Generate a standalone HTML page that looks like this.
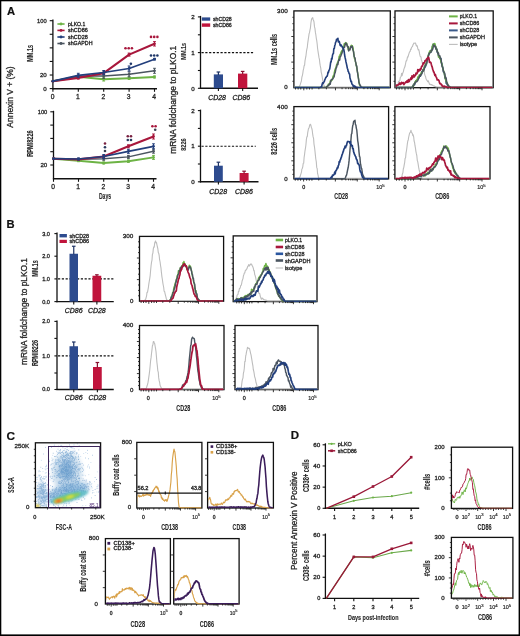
<!DOCTYPE html>
<html><head><meta charset="utf-8"><style>
html,body{margin:0;padding:0;background:#fff;}
svg{display:block;font-family:"Liberation Sans", sans-serif;will-change:transform;}
</style></head><body>
<svg width="520" height="636" viewBox="0 0 520 636">
<rect x="0" y="0" width="520" height="636" fill="#fff"/>
<text x="6.9" y="14.8" font-size="11.2" fill="#111" text-anchor="start" stroke="#111" stroke-width="0.2" font-weight="bold">A</text>
<line x1="52.90" y1="19.50" x2="52.90" y2="89.30" stroke="#111" stroke-width="1.3" />
<line x1="49.70" y1="20.70" x2="52.90" y2="20.70" stroke="#111" stroke-width="1.1" />
<line x1="49.70" y1="34.28" x2="52.90" y2="34.28" stroke="#111" stroke-width="1.1" />
<line x1="49.70" y1="47.86" x2="52.90" y2="47.86" stroke="#111" stroke-width="1.1" />
<line x1="49.70" y1="61.44" x2="52.90" y2="61.44" stroke="#111" stroke-width="1.1" />
<line x1="49.70" y1="75.02" x2="52.90" y2="75.02" stroke="#111" stroke-width="1.1" />
<line x1="49.70" y1="88.60" x2="52.90" y2="88.60" stroke="#111" stroke-width="1.1" />
<line x1="52.30" y1="88.70" x2="157.00" y2="88.70" stroke="#111" stroke-width="1.4" />
<line x1="52.90" y1="88.70" x2="52.90" y2="91.80" stroke="#111" stroke-width="1.1" />
<text x="52.5" y="99.0" font-size="6.7" fill="#262626" text-anchor="middle" stroke="#262626" stroke-width="0.3">0</text>
<line x1="78.30" y1="88.70" x2="78.30" y2="91.80" stroke="#111" stroke-width="1.1" />
<text x="77.89999999999999" y="99.0" font-size="6.7" fill="#262626" text-anchor="middle" stroke="#262626" stroke-width="0.3">1</text>
<line x1="103.70" y1="88.70" x2="103.70" y2="91.80" stroke="#111" stroke-width="1.1" />
<text x="103.3" y="99.0" font-size="6.7" fill="#262626" text-anchor="middle" stroke="#262626" stroke-width="0.3">2</text>
<line x1="129.10" y1="88.70" x2="129.10" y2="91.80" stroke="#111" stroke-width="1.1" />
<text x="128.7" y="99.0" font-size="6.7" fill="#262626" text-anchor="middle" stroke="#262626" stroke-width="0.3">3</text>
<line x1="154.50" y1="88.70" x2="154.50" y2="91.80" stroke="#111" stroke-width="1.1" />
<text x="154.1" y="99.0" font-size="6.7" fill="#262626" text-anchor="middle" stroke="#262626" stroke-width="0.3">4</text>
<text x="46.6" y="23.0" font-size="6.2" fill="#262626" text-anchor="end" stroke="#262626" stroke-width="0.3" textLength="9.6" lengthAdjust="spacingAndGlyphs">100</text>
<text x="46.8" y="77.4" font-size="6.2" fill="#262626" text-anchor="end" stroke="#262626" stroke-width="0.3">20</text>
<text x="46.8" y="90.9" font-size="6.2" fill="#262626" text-anchor="end" stroke="#262626" stroke-width="0.3">0</text>
<text transform="translate(32.6,53.3) rotate(-90)" font-size="9.2" fill="#262626" text-anchor="middle" stroke="#262626" stroke-width="0.1" font-weight="bold" textLength="17" lengthAdjust="spacingAndGlyphs">MM.1s</text>
<polyline points="52.9,81.2 78.3,76.7 103.7,79.2 129.1,78.2 154.5,77.0" fill="none" stroke="#6db345" stroke-width="1.9" stroke-linejoin="round" />
<line x1="103.70" y1="77.40" x2="103.70" y2="81.00" stroke="#6db345" stroke-width="1" />
<line x1="102.30" y1="77.40" x2="105.10" y2="77.40" stroke="#6db345" stroke-width="1" />
<line x1="102.30" y1="81.00" x2="105.10" y2="81.00" stroke="#6db345" stroke-width="1" />
<line x1="129.10" y1="77.00" x2="129.10" y2="79.40" stroke="#6db345" stroke-width="1" />
<line x1="127.70" y1="77.00" x2="130.50" y2="77.00" stroke="#6db345" stroke-width="1" />
<line x1="127.70" y1="79.40" x2="130.50" y2="79.40" stroke="#6db345" stroke-width="1" />
<line x1="154.50" y1="76.00" x2="154.50" y2="78.00" stroke="#6db345" stroke-width="1" />
<line x1="153.10" y1="76.00" x2="155.90" y2="76.00" stroke="#6db345" stroke-width="1" />
<line x1="153.10" y1="78.00" x2="155.90" y2="78.00" stroke="#6db345" stroke-width="1" />
<circle cx="52.90" cy="81.20" r="1.4" fill="#6db345"/>
<circle cx="78.30" cy="76.70" r="1.4" fill="#6db345"/>
<circle cx="103.70" cy="79.20" r="1.4" fill="#6db345"/>
<circle cx="129.10" cy="78.20" r="1.4" fill="#6db345"/>
<circle cx="154.50" cy="77.00" r="1.4" fill="#6db345"/>
<polyline points="52.9,81.2 78.3,76.0 103.7,76.0 129.1,74.3 154.5,70.8" fill="none" stroke="#4b5560" stroke-width="1.4" stroke-linejoin="round" />
<line x1="103.70" y1="73.50" x2="103.70" y2="78.50" stroke="#4b5560" stroke-width="1" />
<line x1="102.30" y1="73.50" x2="105.10" y2="73.50" stroke="#4b5560" stroke-width="1" />
<line x1="102.30" y1="78.50" x2="105.10" y2="78.50" stroke="#4b5560" stroke-width="1" />
<line x1="129.10" y1="71.80" x2="129.10" y2="76.80" stroke="#4b5560" stroke-width="1" />
<line x1="127.70" y1="71.80" x2="130.50" y2="71.80" stroke="#4b5560" stroke-width="1" />
<line x1="127.70" y1="76.80" x2="130.50" y2="76.80" stroke="#4b5560" stroke-width="1" />
<line x1="154.50" y1="68.30" x2="154.50" y2="73.30" stroke="#4b5560" stroke-width="1" />
<line x1="153.10" y1="68.30" x2="155.90" y2="68.30" stroke="#4b5560" stroke-width="1" />
<line x1="153.10" y1="73.30" x2="155.90" y2="73.30" stroke="#4b5560" stroke-width="1" />
<circle cx="52.90" cy="81.20" r="1.4" fill="#4b5560"/>
<circle cx="78.30" cy="76.00" r="1.4" fill="#4b5560"/>
<circle cx="103.70" cy="76.00" r="1.4" fill="#4b5560"/>
<circle cx="129.10" cy="74.30" r="1.4" fill="#4b5560"/>
<circle cx="154.50" cy="70.80" r="1.4" fill="#4b5560"/>
<polyline points="52.9,81.2 78.3,77.9 103.7,73.1 129.1,54.6 154.5,43.8" fill="none" stroke="#a8173c" stroke-width="2.1" stroke-linejoin="round" />
<line x1="78.30" y1="76.70" x2="78.30" y2="79.10" stroke="#a8173c" stroke-width="1" />
<line x1="76.90" y1="76.70" x2="79.70" y2="76.70" stroke="#a8173c" stroke-width="1" />
<line x1="76.90" y1="79.10" x2="79.70" y2="79.10" stroke="#a8173c" stroke-width="1" />
<line x1="103.70" y1="72.10" x2="103.70" y2="74.10" stroke="#a8173c" stroke-width="1" />
<line x1="102.30" y1="72.10" x2="105.10" y2="72.10" stroke="#a8173c" stroke-width="1" />
<line x1="102.30" y1="74.10" x2="105.10" y2="74.10" stroke="#a8173c" stroke-width="1" />
<line x1="129.10" y1="53.10" x2="129.10" y2="56.10" stroke="#a8173c" stroke-width="1" />
<line x1="127.70" y1="53.10" x2="130.50" y2="53.10" stroke="#a8173c" stroke-width="1" />
<line x1="127.70" y1="56.10" x2="130.50" y2="56.10" stroke="#a8173c" stroke-width="1" />
<line x1="154.50" y1="41.60" x2="154.50" y2="46.00" stroke="#a8173c" stroke-width="1" />
<line x1="153.10" y1="41.60" x2="155.90" y2="41.60" stroke="#a8173c" stroke-width="1" />
<line x1="153.10" y1="46.00" x2="155.90" y2="46.00" stroke="#a8173c" stroke-width="1" />
<circle cx="52.90" cy="81.20" r="1.4" fill="#a8173c"/>
<circle cx="78.30" cy="77.90" r="1.4" fill="#a8173c"/>
<circle cx="103.70" cy="73.10" r="1.4" fill="#a8173c"/>
<circle cx="129.10" cy="54.60" r="1.4" fill="#a8173c"/>
<circle cx="154.50" cy="43.80" r="1.4" fill="#a8173c"/>
<polyline points="52.9,81.2 78.3,75.3 103.7,72.5 129.1,68.5 154.5,59.2" fill="none" stroke="#233f7c" stroke-width="1.7" stroke-linejoin="round" />
<line x1="78.30" y1="73.30" x2="78.30" y2="77.30" stroke="#233f7c" stroke-width="1" />
<line x1="76.90" y1="73.30" x2="79.70" y2="73.30" stroke="#233f7c" stroke-width="1" />
<line x1="76.90" y1="77.30" x2="79.70" y2="77.30" stroke="#233f7c" stroke-width="1" />
<line x1="103.70" y1="70.50" x2="103.70" y2="74.50" stroke="#233f7c" stroke-width="1" />
<line x1="102.30" y1="70.50" x2="105.10" y2="70.50" stroke="#233f7c" stroke-width="1" />
<line x1="102.30" y1="74.50" x2="105.10" y2="74.50" stroke="#233f7c" stroke-width="1" />
<line x1="129.10" y1="66.00" x2="129.10" y2="71.00" stroke="#233f7c" stroke-width="1" />
<line x1="127.70" y1="66.00" x2="130.50" y2="66.00" stroke="#233f7c" stroke-width="1" />
<line x1="127.70" y1="71.00" x2="130.50" y2="71.00" stroke="#233f7c" stroke-width="1" />
<line x1="154.50" y1="58.40" x2="154.50" y2="60.00" stroke="#233f7c" stroke-width="1" />
<line x1="153.10" y1="58.40" x2="155.90" y2="58.40" stroke="#233f7c" stroke-width="1" />
<line x1="153.10" y1="60.00" x2="155.90" y2="60.00" stroke="#233f7c" stroke-width="1" />
<circle cx="52.90" cy="81.20" r="1.4" fill="#233f7c"/>
<circle cx="78.30" cy="75.30" r="1.4" fill="#233f7c"/>
<circle cx="103.70" cy="72.50" r="1.4" fill="#233f7c"/>
<circle cx="129.10" cy="68.50" r="1.4" fill="#233f7c"/>
<circle cx="154.50" cy="59.20" r="1.4" fill="#233f7c"/>
<circle cx="125.50" cy="48.30" r="1.3" fill="#a8173c"/>
<circle cx="128.70" cy="48.30" r="1.3" fill="#a8173c"/>
<circle cx="131.90" cy="48.30" r="1.3" fill="#a8173c"/>
<circle cx="130.90" cy="63.70" r="1.3" fill="#1f3768"/>
<circle cx="151.00" cy="36.90" r="1.3" fill="#a8173c"/>
<circle cx="154.20" cy="36.90" r="1.3" fill="#a8173c"/>
<circle cx="157.40" cy="36.90" r="1.3" fill="#a8173c"/>
<circle cx="151.00" cy="55.50" r="1.3" fill="#1f3768"/>
<circle cx="154.20" cy="55.50" r="1.3" fill="#1f3768"/>
<circle cx="157.40" cy="55.50" r="1.3" fill="#1f3768"/>
<line x1="57.40" y1="24.00" x2="64.60" y2="24.00" stroke="#6db345" stroke-width="1.6" />
<circle cx="61.00" cy="24.00" r="1.4" fill="#6db345"/>
<text x="68" y="25.9" font-size="5.3" fill="#262626" text-anchor="start" stroke="#262626" stroke-width="0.3" textLength="17.3" lengthAdjust="spacingAndGlyphs">pLKO.1</text>
<line x1="57.40" y1="30.40" x2="64.60" y2="30.40" stroke="#a8173c" stroke-width="1.6" />
<circle cx="61.00" cy="30.40" r="1.4" fill="#a8173c"/>
<text x="68" y="32.3" font-size="5.3" fill="#262626" text-anchor="start" stroke="#262626" stroke-width="0.3" textLength="19.7" lengthAdjust="spacingAndGlyphs">shCD86</text>
<line x1="57.40" y1="37.00" x2="64.60" y2="37.00" stroke="#233f7c" stroke-width="1.6" />
<circle cx="61.00" cy="37.00" r="1.4" fill="#233f7c"/>
<text x="68" y="38.9" font-size="5.3" fill="#262626" text-anchor="start" stroke="#262626" stroke-width="0.3" textLength="19.7" lengthAdjust="spacingAndGlyphs">shCD28</text>
<line x1="57.40" y1="43.50" x2="64.60" y2="43.50" stroke="#4b5560" stroke-width="1.6" />
<circle cx="61.00" cy="43.50" r="1.4" fill="#4b5560"/>
<text x="68" y="45.4" font-size="5.3" fill="#262626" text-anchor="start" stroke="#262626" stroke-width="0.3" textLength="24.5" lengthAdjust="spacingAndGlyphs">shGAPDH</text>
<line x1="53.50" y1="110.80" x2="53.50" y2="179.30" stroke="#111" stroke-width="1.3" />
<line x1="50.30" y1="111.80" x2="53.50" y2="111.80" stroke="#111" stroke-width="1.1" />
<line x1="50.30" y1="125.10" x2="53.50" y2="125.10" stroke="#111" stroke-width="1.1" />
<line x1="50.30" y1="138.40" x2="53.50" y2="138.40" stroke="#111" stroke-width="1.1" />
<line x1="50.30" y1="151.70" x2="53.50" y2="151.70" stroke="#111" stroke-width="1.1" />
<line x1="50.30" y1="165.00" x2="53.50" y2="165.00" stroke="#111" stroke-width="1.1" />
<line x1="52.90" y1="178.80" x2="156.50" y2="178.80" stroke="#111" stroke-width="1.4" />
<line x1="53.50" y1="178.80" x2="53.50" y2="181.80" stroke="#111" stroke-width="1.1" />
<text x="53.1" y="189.4" font-size="6.7" fill="#262626" text-anchor="middle" stroke="#262626" stroke-width="0.3">0</text>
<line x1="78.50" y1="178.80" x2="78.50" y2="181.80" stroke="#111" stroke-width="1.1" />
<text x="78.1" y="189.4" font-size="6.7" fill="#262626" text-anchor="middle" stroke="#262626" stroke-width="0.3">1</text>
<line x1="103.70" y1="178.80" x2="103.70" y2="181.80" stroke="#111" stroke-width="1.1" />
<text x="103.3" y="189.4" font-size="6.7" fill="#262626" text-anchor="middle" stroke="#262626" stroke-width="0.3">2</text>
<line x1="128.40" y1="178.80" x2="128.40" y2="181.80" stroke="#111" stroke-width="1.1" />
<text x="128.0" y="189.4" font-size="6.7" fill="#262626" text-anchor="middle" stroke="#262626" stroke-width="0.3">3</text>
<line x1="153.50" y1="178.80" x2="153.50" y2="181.80" stroke="#111" stroke-width="1.1" />
<text x="153.1" y="189.4" font-size="6.7" fill="#262626" text-anchor="middle" stroke="#262626" stroke-width="0.3">4</text>
<text x="47.3" y="114.0" font-size="6.2" fill="#262626" text-anchor="end" stroke="#262626" stroke-width="0.3" textLength="9.6" lengthAdjust="spacingAndGlyphs">100</text>
<text x="47.3" y="167.3" font-size="6.2" fill="#262626" text-anchor="end" stroke="#262626" stroke-width="0.3">20</text>
<text x="105.0" y="199.4" font-size="8.6" fill="#262626" text-anchor="middle" stroke="#262626" stroke-width="0.1" font-weight="bold" textLength="12.2" lengthAdjust="spacingAndGlyphs">Days</text>
<text transform="translate(33.1,143.6) rotate(-90)" font-size="9.4" fill="#262626" text-anchor="middle" stroke="#262626" stroke-width="0.1" font-weight="bold" textLength="26.5" lengthAdjust="spacingAndGlyphs">RPMI8226</text>
<text transform="translate(13.1,97.0) rotate(-90)" font-size="8.3" fill="#262626" text-anchor="middle" stroke="#262626" stroke-width="0.3" textLength="61.3" lengthAdjust="spacingAndGlyphs">Annexin V + (%)</text>
<polyline points="53.5,158.7 78.5,160.7 103.7,163.0 128.4,161.2 153.5,157.4" fill="none" stroke="#6db345" stroke-width="1.9" stroke-linejoin="round" />
<line x1="78.50" y1="159.70" x2="78.50" y2="161.70" stroke="#6db345" stroke-width="1" />
<line x1="77.10" y1="159.70" x2="79.90" y2="159.70" stroke="#6db345" stroke-width="1" />
<line x1="77.10" y1="161.70" x2="79.90" y2="161.70" stroke="#6db345" stroke-width="1" />
<line x1="103.70" y1="162.00" x2="103.70" y2="164.00" stroke="#6db345" stroke-width="1" />
<line x1="102.30" y1="162.00" x2="105.10" y2="162.00" stroke="#6db345" stroke-width="1" />
<line x1="102.30" y1="164.00" x2="105.10" y2="164.00" stroke="#6db345" stroke-width="1" />
<line x1="128.40" y1="160.00" x2="128.40" y2="162.40" stroke="#6db345" stroke-width="1" />
<line x1="127.00" y1="160.00" x2="129.80" y2="160.00" stroke="#6db345" stroke-width="1" />
<line x1="127.00" y1="162.40" x2="129.80" y2="162.40" stroke="#6db345" stroke-width="1" />
<line x1="153.50" y1="155.40" x2="153.50" y2="159.40" stroke="#6db345" stroke-width="1" />
<line x1="152.10" y1="155.40" x2="154.90" y2="155.40" stroke="#6db345" stroke-width="1" />
<line x1="152.10" y1="159.40" x2="154.90" y2="159.40" stroke="#6db345" stroke-width="1" />
<circle cx="53.50" cy="158.70" r="1.4" fill="#6db345"/>
<circle cx="78.50" cy="160.70" r="1.4" fill="#6db345"/>
<circle cx="103.70" cy="163.00" r="1.4" fill="#6db345"/>
<circle cx="128.40" cy="161.20" r="1.4" fill="#6db345"/>
<circle cx="153.50" cy="157.40" r="1.4" fill="#6db345"/>
<polyline points="53.5,158.7 78.5,159.4 103.7,158.8 128.4,156.9 153.5,151.2" fill="none" stroke="#4b5560" stroke-width="1.4" stroke-linejoin="round" />
<line x1="103.70" y1="157.30" x2="103.70" y2="160.30" stroke="#4b5560" stroke-width="1" />
<line x1="102.30" y1="157.30" x2="105.10" y2="157.30" stroke="#4b5560" stroke-width="1" />
<line x1="102.30" y1="160.30" x2="105.10" y2="160.30" stroke="#4b5560" stroke-width="1" />
<line x1="128.40" y1="155.40" x2="128.40" y2="158.40" stroke="#4b5560" stroke-width="1" />
<line x1="127.00" y1="155.40" x2="129.80" y2="155.40" stroke="#4b5560" stroke-width="1" />
<line x1="127.00" y1="158.40" x2="129.80" y2="158.40" stroke="#4b5560" stroke-width="1" />
<line x1="153.50" y1="149.20" x2="153.50" y2="153.20" stroke="#4b5560" stroke-width="1" />
<line x1="152.10" y1="149.20" x2="154.90" y2="149.20" stroke="#4b5560" stroke-width="1" />
<line x1="152.10" y1="153.20" x2="154.90" y2="153.20" stroke="#4b5560" stroke-width="1" />
<circle cx="53.50" cy="158.70" r="1.4" fill="#4b5560"/>
<circle cx="78.50" cy="159.40" r="1.4" fill="#4b5560"/>
<circle cx="103.70" cy="158.80" r="1.4" fill="#4b5560"/>
<circle cx="128.40" cy="156.90" r="1.4" fill="#4b5560"/>
<circle cx="153.50" cy="151.20" r="1.4" fill="#4b5560"/>
<polyline points="53.5,158.7 78.5,159.4 103.7,156.5 128.4,146.3 153.5,136.5" fill="none" stroke="#a8173c" stroke-width="2.1" stroke-linejoin="round" />
<line x1="78.50" y1="158.40" x2="78.50" y2="160.40" stroke="#a8173c" stroke-width="1" />
<line x1="77.10" y1="158.40" x2="79.90" y2="158.40" stroke="#a8173c" stroke-width="1" />
<line x1="77.10" y1="160.40" x2="79.90" y2="160.40" stroke="#a8173c" stroke-width="1" />
<line x1="103.70" y1="155.50" x2="103.70" y2="157.50" stroke="#a8173c" stroke-width="1" />
<line x1="102.30" y1="155.50" x2="105.10" y2="155.50" stroke="#a8173c" stroke-width="1" />
<line x1="102.30" y1="157.50" x2="105.10" y2="157.50" stroke="#a8173c" stroke-width="1" />
<line x1="128.40" y1="144.80" x2="128.40" y2="147.80" stroke="#a8173c" stroke-width="1" />
<line x1="127.00" y1="144.80" x2="129.80" y2="144.80" stroke="#a8173c" stroke-width="1" />
<line x1="127.00" y1="147.80" x2="129.80" y2="147.80" stroke="#a8173c" stroke-width="1" />
<line x1="153.50" y1="134.00" x2="153.50" y2="139.00" stroke="#a8173c" stroke-width="1" />
<line x1="152.10" y1="134.00" x2="154.90" y2="134.00" stroke="#a8173c" stroke-width="1" />
<line x1="152.10" y1="139.00" x2="154.90" y2="139.00" stroke="#a8173c" stroke-width="1" />
<circle cx="53.50" cy="158.70" r="1.4" fill="#a8173c"/>
<circle cx="78.50" cy="159.40" r="1.4" fill="#a8173c"/>
<circle cx="103.70" cy="156.50" r="1.4" fill="#a8173c"/>
<circle cx="128.40" cy="146.30" r="1.4" fill="#a8173c"/>
<circle cx="153.50" cy="136.50" r="1.4" fill="#a8173c"/>
<polyline points="53.5,158.7 78.5,159.0 103.7,156.5 128.4,151.3 153.5,146.3" fill="none" stroke="#233f7c" stroke-width="1.7" stroke-linejoin="round" />
<line x1="78.50" y1="158.00" x2="78.50" y2="160.00" stroke="#233f7c" stroke-width="1" />
<line x1="77.10" y1="158.00" x2="79.90" y2="158.00" stroke="#233f7c" stroke-width="1" />
<line x1="77.10" y1="160.00" x2="79.90" y2="160.00" stroke="#233f7c" stroke-width="1" />
<line x1="103.70" y1="154.50" x2="103.70" y2="158.50" stroke="#233f7c" stroke-width="1" />
<line x1="102.30" y1="154.50" x2="105.10" y2="154.50" stroke="#233f7c" stroke-width="1" />
<line x1="102.30" y1="158.50" x2="105.10" y2="158.50" stroke="#233f7c" stroke-width="1" />
<line x1="128.40" y1="149.30" x2="128.40" y2="153.30" stroke="#233f7c" stroke-width="1" />
<line x1="127.00" y1="149.30" x2="129.80" y2="149.30" stroke="#233f7c" stroke-width="1" />
<line x1="127.00" y1="153.30" x2="129.80" y2="153.30" stroke="#233f7c" stroke-width="1" />
<line x1="153.50" y1="143.80" x2="153.50" y2="148.80" stroke="#233f7c" stroke-width="1" />
<line x1="152.10" y1="143.80" x2="154.90" y2="143.80" stroke="#233f7c" stroke-width="1" />
<line x1="152.10" y1="148.80" x2="154.90" y2="148.80" stroke="#233f7c" stroke-width="1" />
<circle cx="53.50" cy="158.70" r="1.4" fill="#233f7c"/>
<circle cx="78.50" cy="159.00" r="1.4" fill="#233f7c"/>
<circle cx="103.70" cy="156.50" r="1.4" fill="#233f7c"/>
<circle cx="128.40" cy="151.30" r="1.4" fill="#233f7c"/>
<circle cx="153.50" cy="146.30" r="1.4" fill="#233f7c"/>
<circle cx="105.00" cy="143.50" r="1.3" fill="#7a2040"/>
<circle cx="105.00" cy="147.30" r="1.3" fill="#2a3a60"/>
<circle cx="105.00" cy="151.00" r="1.3" fill="#3a3f50"/>
<circle cx="127.80" cy="136.30" r="1.3" fill="#7a2040"/>
<circle cx="131.00" cy="136.30" r="1.3" fill="#7a2040"/>
<circle cx="127.80" cy="140.00" r="1.3" fill="#2a3a60"/>
<circle cx="131.00" cy="140.00" r="1.3" fill="#2a3a60"/>
<circle cx="152.40" cy="126.30" r="1.3" fill="#a8173c"/>
<circle cx="155.60" cy="126.30" r="1.3" fill="#a8173c"/>
<circle cx="155.20" cy="129.80" r="1.3" fill="#3a3f50"/>
<line x1="200.50" y1="15.90" x2="200.50" y2="88.90" stroke="#111" stroke-width="1.3" />
<line x1="199.90" y1="88.30" x2="258.00" y2="88.30" stroke="#111" stroke-width="1.4" />
<line x1="197.90" y1="16.90" x2="200.50" y2="16.90" stroke="#111" stroke-width="1.1" />
<line x1="197.90" y1="34.80" x2="200.50" y2="34.80" stroke="#111" stroke-width="1.1" />
<line x1="197.90" y1="52.60" x2="200.50" y2="52.60" stroke="#111" stroke-width="1.1" />
<line x1="197.90" y1="70.50" x2="200.50" y2="70.50" stroke="#111" stroke-width="1.1" />
<line x1="197.90" y1="88.30" x2="200.50" y2="88.30" stroke="#111" stroke-width="1.1" />
<text x="194.8" y="19.099999999999998" font-size="6.2" fill="#262626" text-anchor="end" stroke="#262626" stroke-width="0.3">2</text>
<text x="194.8" y="54.800000000000004" font-size="6.2" fill="#262626" text-anchor="end" stroke="#262626" stroke-width="0.3">1</text>
<text x="194.8" y="90.5" font-size="6.2" fill="#262626" text-anchor="end" stroke="#262626" stroke-width="0.3">0</text>
<line x1="201.50" y1="52.60" x2="254.60" y2="52.60" stroke="#111" stroke-width="1.1" stroke-dasharray="2.2,1.6"/>
<rect x="213.80" y="74.40" width="9.20" height="13.90" fill="#2d4b8e"/>
<line x1="218.40" y1="72.00" x2="218.40" y2="74.90" stroke="#1e3364" stroke-width="1.2" />
<line x1="216.60" y1="72.00" x2="220.20" y2="72.00" stroke="#1e3364" stroke-width="1.2" />
<line x1="218.40" y1="88.30" x2="218.40" y2="91.10" stroke="#111" stroke-width="1.1" />
<text x="217.1" y="99.5" font-size="6.6" fill="#262626" text-anchor="middle" stroke="#262626" stroke-width="0.3" font-style="italic" textLength="17.8" lengthAdjust="spacingAndGlyphs">CD28</text>
<rect x="238.00" y="73.60" width="9.30" height="14.70" fill="#c0143c"/>
<line x1="242.65" y1="71.40" x2="242.65" y2="74.10" stroke="#8a1030" stroke-width="1.2" />
<line x1="240.85" y1="71.40" x2="244.45" y2="71.40" stroke="#8a1030" stroke-width="1.2" />
<line x1="242.65" y1="88.30" x2="242.65" y2="91.10" stroke="#111" stroke-width="1.1" />
<text x="241.35" y="99.5" font-size="6.6" fill="#262626" text-anchor="middle" stroke="#262626" stroke-width="0.3" font-style="italic" textLength="17.8" lengthAdjust="spacingAndGlyphs">CD86</text>
<line x1="200.50" y1="109.60" x2="200.50" y2="182.40" stroke="#111" stroke-width="1.3" />
<line x1="199.90" y1="181.80" x2="258.50" y2="181.80" stroke="#111" stroke-width="1.4" />
<line x1="197.90" y1="110.60" x2="200.50" y2="110.60" stroke="#111" stroke-width="1.1" />
<line x1="197.90" y1="128.40" x2="200.50" y2="128.40" stroke="#111" stroke-width="1.1" />
<line x1="197.90" y1="146.20" x2="200.50" y2="146.20" stroke="#111" stroke-width="1.1" />
<line x1="197.90" y1="164.00" x2="200.50" y2="164.00" stroke="#111" stroke-width="1.1" />
<line x1="197.90" y1="181.80" x2="200.50" y2="181.80" stroke="#111" stroke-width="1.1" />
<text x="194.8" y="112.8" font-size="6.2" fill="#262626" text-anchor="end" stroke="#262626" stroke-width="0.3">2</text>
<text x="194.8" y="148.39999999999998" font-size="6.2" fill="#262626" text-anchor="end" stroke="#262626" stroke-width="0.3">1</text>
<text x="194.8" y="184.0" font-size="6.2" fill="#262626" text-anchor="end" stroke="#262626" stroke-width="0.3">0</text>
<line x1="201.50" y1="146.20" x2="255.80" y2="146.20" stroke="#111" stroke-width="1.1" stroke-dasharray="2.2,1.6"/>
<rect x="214.00" y="165.70" width="8.80" height="16.10" fill="#2d4b8e"/>
<line x1="218.40" y1="162.20" x2="218.40" y2="166.20" stroke="#1e3364" stroke-width="1.2" />
<line x1="216.60" y1="162.20" x2="220.20" y2="162.20" stroke="#1e3364" stroke-width="1.2" />
<line x1="218.40" y1="181.80" x2="218.40" y2="184.60" stroke="#111" stroke-width="1.1" />
<text x="218.20000000000002" y="193.6" font-size="6.6" fill="#262626" text-anchor="middle" stroke="#262626" stroke-width="0.3" font-style="italic" textLength="17.8" lengthAdjust="spacingAndGlyphs">CD28</text>
<rect x="239.60" y="173.00" width="9.00" height="8.80" fill="#c0143c"/>
<line x1="244.10" y1="171.20" x2="244.10" y2="173.50" stroke="#8a1030" stroke-width="1.2" />
<line x1="242.30" y1="171.20" x2="245.90" y2="171.20" stroke="#8a1030" stroke-width="1.2" />
<line x1="244.10" y1="181.80" x2="244.10" y2="184.60" stroke="#111" stroke-width="1.1" />
<text x="243.9" y="193.6" font-size="6.6" fill="#262626" text-anchor="middle" stroke="#262626" stroke-width="0.3" font-style="italic" textLength="17.8" lengthAdjust="spacingAndGlyphs">CD86</text>
<rect x="201.80" y="17.40" width="8.40" height="3.30" fill="#2d4b8e"/>
<rect x="201.80" y="23.40" width="8.40" height="3.40" fill="#c0143c"/>
<text x="212.9" y="21.1" font-size="5.0" fill="#262626" text-anchor="start" stroke="#262626" stroke-width="0.3" textLength="18.8" lengthAdjust="spacingAndGlyphs">shCD28</text>
<text x="212.9" y="27.0" font-size="5.0" fill="#262626" text-anchor="start" stroke="#262626" stroke-width="0.3" textLength="18.8" lengthAdjust="spacingAndGlyphs">shCD86</text>
<text transform="translate(186.4,51.3) rotate(-90)" font-size="8.0" fill="#262626" text-anchor="middle" stroke="#262626" stroke-width="0.1" font-weight="bold" textLength="16.8" lengthAdjust="spacingAndGlyphs">MM.1s</text>
<text transform="translate(186.0,144.5) rotate(-90)" font-size="8.0" fill="#262626" text-anchor="middle" stroke="#262626" stroke-width="0.1" font-weight="bold" textLength="12.5" lengthAdjust="spacingAndGlyphs">8226</text>
<text transform="translate(176.0,99.8) rotate(-90)" font-size="8.3" fill="#262626" text-anchor="middle" stroke="#262626" stroke-width="0.3" textLength="108" lengthAdjust="spacingAndGlyphs">mRNA foldchange to pLKO.1</text>
<rect x="293.90" y="10.90" width="96.40" height="76.80" fill="none" stroke="#111" stroke-width="1.3"/>
<clipPath id="k1"><rect x="294.54999999999995" y="11.55" width="95.10000000000004" height="77.0"/></clipPath>
<g clip-path="url(#k1)">
<polyline points="292.9,87.0 293.3,87.0 293.8,87.0 294.2,87.0 294.7,87.0 295.1,87.0 295.6,87.0 296.0,87.0 296.5,87.0 296.9,87.0 297.4,87.0 297.8,87.0 298.3,87.0 298.7,87.0 299.2,86.8 299.6,85.9 300.1,85.0 300.5,83.6 301.0,82.1 301.4,81.0 301.9,77.0 302.3,75.8 302.8,73.3 303.2,70.4 303.7,68.4 304.1,65.9 304.6,65.1 305.0,60.9 305.5,58.1 305.9,56.2 306.4,52.0 306.8,49.4 307.3,47.3 307.7,43.3 308.2,39.8 308.6,37.1 309.1,33.6 309.5,32.7 310.0,29.9 310.4,28.1 310.9,23.0 311.3,20.5 311.8,18.6 312.2,18.1 312.7,17.7 313.1,19.4 313.6,20.4 314.0,22.0 314.5,26.9 314.9,28.1 315.4,32.4 315.8,34.5 316.3,38.3 316.7,40.3 317.2,44.2 317.6,48.5 318.1,51.8 318.5,54.3 319.0,57.7 319.4,59.2 319.9,63.6 320.3,65.9 320.8,68.4 321.2,72.1 321.7,74.1 322.1,76.4 322.6,79.4 323.0,81.8 323.5,83.8 323.9,85.4 324.4,86.1 324.8,86.7 325.3,87.0 325.7,87.0 326.2,87.0 326.6,87.0 327.1,87.0 327.5,87.0 328.0,87.0 328.4,87.0 328.9,87.0 329.3,87.0 329.8,87.0 330.2,87.0 330.7,87.0 331.1,87.0 331.6,87.0 332.0,87.0 332.5,87.0 332.9,87.0 333.4,87.0 333.8,87.0 334.3,87.0 334.7,87.0 335.2,87.0 335.6,87.0 336.1,87.0 336.5,87.0 337.0,87.0 337.4,87.0 337.9,87.0 338.3,87.0 338.8,87.0 339.2,87.0 339.7,87.0 340.1,87.0 340.6,87.0 341.0,87.0 341.5,87.0 341.9,87.0 342.4,87.0 342.8,87.0 343.3,87.0 343.7,87.0 344.2,87.0 344.6,87.0 345.1,87.0 345.5,87.0 346.0,87.0 346.4,87.0 346.9,87.0 347.3,87.0 347.8,87.0 348.2,87.0 348.7,87.0 349.1,87.0 349.6,87.0 350.0,87.0 350.5,87.0 350.9,87.0 351.4,87.0 351.8,87.0 352.3,87.0 352.7,87.0 353.2,87.0 353.6,87.0 354.1,87.0 354.5,87.0 355.0,87.0 355.4,87.0 355.9,87.0 356.3,87.0 356.8,87.0 357.2,87.0 357.7,87.0 358.1,87.0 358.6,87.0 359.0,87.0 359.5,87.0 359.9,87.0 360.4,87.0 360.8,87.0 361.3,87.0 361.7,87.0 362.2,87.0 362.6,87.0 363.1,87.0 363.5,87.0 364.0,87.0 364.4,87.0 364.9,87.0 365.3,87.0 365.8,87.0 366.2,87.0 366.7,87.0 367.1,87.0 367.6,87.0 368.0,87.0 368.5,87.0 368.9,87.0 369.4,87.0 369.8,87.0 370.3,87.0 370.7,87.0 371.2,87.0 371.6,87.0 372.1,87.0 372.5,87.0 373.0,87.0 373.4,87.0 373.9,87.0 374.3,87.0 374.8,87.0 375.2,87.0 375.7,87.0 376.1,87.0 376.6,87.0 377.0,87.0 377.5,87.0 377.9,87.0 378.4,87.0 378.8,87.0 379.3,87.0 379.7,87.0 380.2,87.0 380.6,87.0 381.1,87.0 381.5,87.0 382.0,87.0 382.4,87.0 382.9,87.0 383.3,87.0 383.8,87.0 384.2,87.0 384.7,87.0 385.1,87.0 385.6,87.0 386.0,87.0 386.5,87.0 386.9,87.0 387.4,87.0 387.8,87.0 388.3,87.0 388.7,87.0 389.2,87.0 389.6,87.0 390.1,87.0 390.5,87.0 391.0,87.0" fill="none" stroke="#bdbdbd" stroke-width="1.1" stroke-linejoin="round" />
<polyline points="292.9,87.5 293.3,87.5 293.8,87.5 294.2,87.5 294.7,87.5 295.1,87.5 295.6,87.5 296.0,87.5 296.5,87.5 296.9,87.5 297.4,87.5 297.8,87.5 298.3,87.5 298.7,87.5 299.2,87.5 299.6,87.5 300.1,87.5 300.5,87.5 301.0,87.5 301.4,87.5 301.9,87.5 302.3,87.5 302.8,87.5 303.2,87.5 303.7,87.5 304.1,87.5 304.6,87.5 305.0,87.5 305.5,87.5 305.9,87.5 306.4,87.5 306.8,87.5 307.3,87.5 307.7,87.5 308.2,87.5 308.6,87.5 309.1,87.5 309.5,87.5 310.0,87.5 310.4,87.5 310.9,87.5 311.3,87.5 311.8,87.5 312.2,87.5 312.7,87.5 313.1,87.5 313.6,87.5 314.0,87.5 314.5,87.5 314.9,87.5 315.4,87.5 315.8,87.5 316.3,87.5 316.7,87.5 317.2,87.5 317.6,87.5 318.1,87.5 318.5,87.5 319.0,87.5 319.4,87.5 319.9,87.5 320.3,87.5 320.8,87.5 321.2,87.5 321.7,87.5 322.1,87.5 322.6,87.5 323.0,87.5 323.5,87.5 323.9,87.5 324.4,87.5 324.8,87.5 325.3,87.5 325.7,87.4 326.2,87.2 326.6,86.5 327.1,86.6 327.5,86.4 328.0,85.2 328.4,84.1 328.9,84.2 329.3,84.0 329.8,83.8 330.2,81.2 330.7,80.3 331.1,81.2 331.6,80.2 332.0,80.2 332.5,78.8 332.9,76.7 333.4,75.4 333.8,76.6 334.3,72.7 334.7,70.8 335.2,69.0 335.6,68.5 336.1,67.1 336.5,65.1 337.0,64.0 337.4,62.9 337.9,61.9 338.3,61.1 338.8,59.1 339.2,56.2 339.7,57.2 340.1,54.3 340.6,54.3 341.0,52.1 341.5,52.3 341.9,50.5 342.4,50.2 342.8,51.7 343.3,47.4 343.7,46.9 344.2,43.8 344.6,43.7 345.1,43.7 345.5,42.6 346.0,43.1 346.4,43.4 346.9,43.5 347.3,46.2 347.8,46.4 348.2,49.8 348.7,48.3 349.1,49.4 349.6,48.4 350.0,48.6 350.5,46.4 350.9,47.0 351.4,45.3 351.8,46.0 352.3,45.7 352.7,46.8 353.2,48.6 353.6,53.0 354.1,55.4 354.5,58.6 355.0,58.9 355.4,61.6 355.9,63.6 356.3,65.5 356.8,67.8 357.2,70.6 357.7,73.0 358.1,75.7 358.6,79.2 359.0,82.5 359.5,84.9 359.9,85.6 360.4,86.3 360.8,86.7 361.3,87.1 361.7,87.2 362.2,87.4 362.6,87.5 363.1,87.5 363.5,87.5 364.0,87.5 364.4,87.5 364.9,87.5 365.3,87.5 365.8,87.5 366.2,87.5 366.7,87.5 367.1,87.5 367.6,87.5 368.0,87.5 368.5,87.5 368.9,87.5 369.4,87.5 369.8,87.5 370.3,87.5 370.7,87.5 371.2,87.5 371.6,87.5 372.1,87.5 372.5,87.5 373.0,87.5 373.4,87.5 373.9,87.5 374.3,87.5 374.8,87.5 375.2,87.5 375.7,87.5 376.1,87.5 376.6,87.5 377.0,87.5 377.5,87.5 377.9,87.5 378.4,87.5 378.8,87.5 379.3,87.5 379.7,87.5 380.2,87.5 380.6,87.5 381.1,87.5 381.5,87.5 382.0,87.5 382.4,87.5 382.9,87.5 383.3,87.5 383.8,87.5 384.2,87.5 384.7,87.5 385.1,87.5 385.6,87.5 386.0,87.5 386.5,87.5 386.9,87.5 387.4,87.5 387.8,87.5 388.3,87.5 388.7,87.5 389.2,87.5 389.6,87.5 390.1,87.5 390.5,87.5 391.0,87.5" fill="none" stroke="#6db345" stroke-width="1.45" stroke-linejoin="round" />
<polyline points="292.9,87.5 293.3,87.5 293.8,87.5 294.2,87.5 294.7,87.5 295.1,87.5 295.6,87.5 296.0,87.5 296.5,87.5 296.9,87.5 297.4,87.5 297.8,87.5 298.3,87.5 298.7,87.5 299.2,87.5 299.6,87.5 300.1,87.5 300.5,87.5 301.0,87.5 301.4,87.5 301.9,87.5 302.3,87.5 302.8,87.5 303.2,87.5 303.7,87.5 304.1,87.5 304.6,87.5 305.0,87.5 305.5,87.5 305.9,87.5 306.4,87.5 306.8,87.5 307.3,87.5 307.7,87.5 308.2,87.5 308.6,87.5 309.1,87.5 309.5,87.5 310.0,87.5 310.4,87.5 310.9,87.5 311.3,87.5 311.8,87.5 312.2,87.5 312.7,87.5 313.1,87.5 313.6,87.5 314.0,87.5 314.5,87.5 314.9,87.5 315.4,87.5 315.8,87.5 316.3,87.5 316.7,87.5 317.2,87.5 317.6,87.5 318.1,87.5 318.5,87.5 319.0,87.5 319.4,87.5 319.9,87.5 320.3,87.5 320.8,87.5 321.2,87.5 321.7,87.5 322.1,87.5 322.6,87.5 323.0,87.5 323.5,87.5 323.9,87.5 324.4,87.5 324.8,87.5 325.3,87.5 325.7,87.5 326.2,87.4 326.6,87.1 327.1,86.3 327.5,86.4 328.0,85.7 328.4,85.1 328.9,85.4 329.3,84.2 329.8,83.4 330.2,84.3 330.7,81.8 331.1,80.3 331.6,79.4 332.0,79.4 332.5,79.5 332.9,78.7 333.4,77.9 333.8,77.3 334.3,75.9 334.7,73.5 335.2,72.7 335.6,70.6 336.1,68.0 336.5,67.7 337.0,65.6 337.4,64.0 337.9,64.6 338.3,62.2 338.8,59.9 339.2,59.2 339.7,60.2 340.1,56.8 340.6,56.6 341.0,55.5 341.5,54.3 341.9,53.4 342.4,51.3 342.8,50.2 343.3,49.2 343.7,47.8 344.2,47.6 344.6,47.2 345.1,44.1 345.5,44.7 346.0,43.0 346.4,43.5 346.9,44.7 347.3,46.2 347.8,47.1 348.2,46.5 348.7,51.0 349.1,49.9 349.6,49.4 350.0,49.9 350.5,47.9 350.9,46.2 351.4,47.2 351.8,46.9 352.3,46.3 352.7,49.2 353.2,50.8 353.6,51.7 354.1,56.4 354.5,57.1 355.0,57.8 355.4,61.2 355.9,62.9 356.3,65.8 356.8,66.0 357.2,70.7 357.7,73.6 358.1,76.4 358.6,79.3 359.0,82.6 359.5,83.9 359.9,84.8 360.4,85.2 360.8,86.7 361.3,87.1 361.7,87.1 362.2,87.3 362.6,87.5 363.1,87.5 363.5,87.5 364.0,87.5 364.4,87.5 364.9,87.5 365.3,87.5 365.8,87.5 366.2,87.5 366.7,87.5 367.1,87.5 367.6,87.5 368.0,87.5 368.5,87.5 368.9,87.5 369.4,87.5 369.8,87.5 370.3,87.5 370.7,87.5 371.2,87.5 371.6,87.5 372.1,87.5 372.5,87.5 373.0,87.5 373.4,87.5 373.9,87.5 374.3,87.5 374.8,87.5 375.2,87.5 375.7,87.5 376.1,87.5 376.6,87.5 377.0,87.5 377.5,87.5 377.9,87.5 378.4,87.5 378.8,87.5 379.3,87.5 379.7,87.5 380.2,87.5 380.6,87.5 381.1,87.5 381.5,87.5 382.0,87.5 382.4,87.5 382.9,87.5 383.3,87.5 383.8,87.5 384.2,87.5 384.7,87.5 385.1,87.5 385.6,87.5 386.0,87.5 386.5,87.5 386.9,87.5 387.4,87.5 387.8,87.5 388.3,87.5 388.7,87.5 389.2,87.5 389.6,87.5 390.1,87.5 390.5,87.5 391.0,87.5" fill="none" stroke="#4b5560" stroke-width="1.45" stroke-linejoin="round" />
<polyline points="292.9,87.5 293.3,87.5 293.8,87.5 294.2,87.5 294.7,87.5 295.1,87.5 295.6,87.5 296.0,87.5 296.5,87.5 296.9,87.5 297.4,87.5 297.8,87.5 298.3,87.5 298.7,87.5 299.2,87.5 299.6,87.5 300.1,87.5 300.5,87.5 301.0,87.5 301.4,87.5 301.9,87.5 302.3,87.5 302.8,87.5 303.2,87.5 303.7,87.5 304.1,87.5 304.6,87.5 305.0,87.5 305.5,87.5 305.9,87.5 306.4,87.5 306.8,87.5 307.3,87.5 307.7,87.5 308.2,87.5 308.6,87.5 309.1,87.5 309.5,87.5 310.0,87.5 310.4,87.5 310.9,87.5 311.3,87.5 311.8,87.5 312.2,87.5 312.7,87.5 313.1,87.5 313.6,87.5 314.0,87.5 314.5,87.5 314.9,87.5 315.4,87.5 315.8,87.5 316.3,87.5 316.7,87.5 317.2,87.5 317.6,87.5 318.1,87.5 318.5,87.5 319.0,87.5 319.4,87.5 319.9,87.5 320.3,87.4 320.8,87.2 321.2,86.6 321.7,86.5 322.1,84.4 322.6,82.8 323.0,83.4 323.5,82.9 323.9,82.0 324.4,81.3 324.8,79.9 325.3,78.7 325.7,77.7 326.2,77.3 326.6,76.2 327.1,76.3 327.5,75.0 328.0,72.1 328.4,72.6 328.9,70.5 329.3,69.9 329.8,68.5 330.2,65.8 330.7,61.8 331.1,62.1 331.6,58.2 332.0,59.1 332.5,55.3 332.9,53.9 333.4,53.8 333.8,48.8 334.3,48.6 334.7,45.8 335.2,44.4 335.6,42.2 336.1,41.7 336.5,39.4 337.0,39.3 337.4,39.7 337.9,38.2 338.3,41.9 338.8,41.5 339.2,41.3 339.7,43.2 340.1,45.2 340.6,45.9 341.0,44.8 341.5,45.8 341.9,46.3 342.4,47.5 342.8,47.2 343.3,49.2 343.7,49.2 344.2,51.4 344.6,55.0 345.1,57.5 345.5,59.2 346.0,62.0 346.4,63.6 346.9,66.0 347.3,68.2 347.8,69.4 348.2,71.5 348.7,72.1 349.1,73.7 349.6,73.9 350.0,78.1 350.5,79.6 350.9,81.7 351.4,81.2 351.8,83.6 352.3,84.5 352.7,84.5 353.2,86.3 353.6,86.6 354.1,85.8 354.5,86.6 355.0,87.2 355.4,86.4 355.9,87.2 356.3,87.5 356.8,87.2 357.2,87.4 357.7,87.5 358.1,87.5 358.6,87.5 359.0,87.5 359.5,87.5 359.9,87.5 360.4,87.5 360.8,87.5 361.3,87.5 361.7,87.5 362.2,87.5 362.6,87.5 363.1,87.5 363.5,87.5 364.0,87.5 364.4,87.5 364.9,87.5 365.3,87.5 365.8,87.5 366.2,87.5 366.7,87.5 367.1,87.5 367.6,87.5 368.0,87.5 368.5,87.5 368.9,87.5 369.4,87.5 369.8,87.5 370.3,87.5 370.7,87.5 371.2,87.5 371.6,87.5 372.1,87.5 372.5,87.5 373.0,87.5 373.4,87.5 373.9,87.5 374.3,87.5 374.8,87.5 375.2,87.5 375.7,87.5 376.1,87.5 376.6,87.5 377.0,87.5 377.5,87.5 377.9,87.5 378.4,87.5 378.8,87.5 379.3,87.5 379.7,87.5 380.2,87.5 380.6,87.5 381.1,87.5 381.5,87.5 382.0,87.5 382.4,87.5 382.9,87.5 383.3,87.5 383.8,87.5 384.2,87.5 384.7,87.5 385.1,87.5 385.6,87.5 386.0,87.5 386.5,87.5 386.9,87.5 387.4,87.5 387.8,87.5 388.3,87.5 388.7,87.5 389.2,87.5 389.6,87.5 390.1,87.5 390.5,87.5 391.0,87.5" fill="none" stroke="#233f7c" stroke-width="1.6" stroke-linejoin="round" />
</g>
<line x1="292.40" y1="81.30" x2="293.90" y2="81.30" stroke="#222" stroke-width="0.9" />
<line x1="292.40" y1="74.90" x2="293.90" y2="74.90" stroke="#222" stroke-width="0.9" />
<line x1="292.40" y1="68.50" x2="293.90" y2="68.50" stroke="#222" stroke-width="0.9" />
<line x1="291.30" y1="62.10" x2="293.90" y2="62.10" stroke="#222" stroke-width="0.9" />
<line x1="292.40" y1="55.70" x2="293.90" y2="55.70" stroke="#222" stroke-width="0.9" />
<line x1="292.40" y1="49.30" x2="293.90" y2="49.30" stroke="#222" stroke-width="0.9" />
<line x1="292.40" y1="42.90" x2="293.90" y2="42.90" stroke="#222" stroke-width="0.9" />
<line x1="291.30" y1="36.50" x2="293.90" y2="36.50" stroke="#222" stroke-width="0.9" />
<line x1="292.40" y1="30.10" x2="293.90" y2="30.10" stroke="#222" stroke-width="0.9" />
<line x1="292.40" y1="23.70" x2="293.90" y2="23.70" stroke="#222" stroke-width="0.9" />
<line x1="292.40" y1="17.30" x2="293.90" y2="17.30" stroke="#222" stroke-width="0.9" />
<line x1="295.51" y1="87.70" x2="295.51" y2="89.50" stroke="#222" stroke-width="0.9" />
<line x1="298.15" y1="87.70" x2="298.15" y2="89.50" stroke="#222" stroke-width="0.9" />
<line x1="300.78" y1="87.70" x2="300.78" y2="89.50" stroke="#222" stroke-width="0.9" />
<line x1="303.80" y1="87.70" x2="303.80" y2="90.30" stroke="#222" stroke-width="0.9" />
<line x1="306.82" y1="87.70" x2="306.82" y2="89.50" stroke="#222" stroke-width="0.9" />
<line x1="309.45" y1="87.70" x2="309.45" y2="89.50" stroke="#222" stroke-width="0.9" />
<line x1="312.09" y1="87.70" x2="312.09" y2="89.50" stroke="#222" stroke-width="0.9" />
<line x1="318.88" y1="87.70" x2="318.88" y2="89.30" stroke="#222" stroke-width="0.9" />
<line x1="326.42" y1="87.70" x2="326.42" y2="89.30" stroke="#222" stroke-width="0.9" />
<line x1="335.47" y1="87.70" x2="335.47" y2="90.30" stroke="#222" stroke-width="0.9" />
<line x1="342.05" y1="87.70" x2="342.05" y2="89.20" stroke="#222" stroke-width="0.9" />
<line x1="345.90" y1="87.70" x2="345.90" y2="89.20" stroke="#222" stroke-width="0.9" />
<line x1="348.63" y1="87.70" x2="348.63" y2="89.20" stroke="#222" stroke-width="0.9" />
<line x1="350.75" y1="87.70" x2="350.75" y2="89.20" stroke="#222" stroke-width="0.9" />
<line x1="352.48" y1="87.70" x2="352.48" y2="89.20" stroke="#222" stroke-width="0.9" />
<line x1="353.95" y1="87.70" x2="353.95" y2="89.20" stroke="#222" stroke-width="0.9" />
<line x1="355.21" y1="87.70" x2="355.21" y2="89.20" stroke="#222" stroke-width="0.9" />
<line x1="356.33" y1="87.70" x2="356.33" y2="89.20" stroke="#222" stroke-width="0.9" />
<line x1="357.33" y1="87.70" x2="357.33" y2="90.30" stroke="#222" stroke-width="0.9" />
<line x1="363.92" y1="87.70" x2="363.92" y2="89.20" stroke="#222" stroke-width="0.9" />
<line x1="367.77" y1="87.70" x2="367.77" y2="89.20" stroke="#222" stroke-width="0.9" />
<line x1="370.50" y1="87.70" x2="370.50" y2="89.20" stroke="#222" stroke-width="0.9" />
<line x1="372.62" y1="87.70" x2="372.62" y2="89.20" stroke="#222" stroke-width="0.9" />
<line x1="374.35" y1="87.70" x2="374.35" y2="89.20" stroke="#222" stroke-width="0.9" />
<line x1="375.81" y1="87.70" x2="375.81" y2="89.20" stroke="#222" stroke-width="0.9" />
<line x1="377.08" y1="87.70" x2="377.08" y2="89.20" stroke="#222" stroke-width="0.9" />
<line x1="378.20" y1="87.70" x2="378.20" y2="89.20" stroke="#222" stroke-width="0.9" />
<line x1="379.20" y1="87.70" x2="379.20" y2="90.30" stroke="#222" stroke-width="0.9" />
<text x="287.7" y="12.700000000000001" font-size="6.1" fill="#262626" text-anchor="end" stroke="#262626" stroke-width="0.3" textLength="10.6" lengthAdjust="spacingAndGlyphs">300</text>
<text x="287.7" y="89.3" font-size="6.1" fill="#262626" text-anchor="end" stroke="#262626" stroke-width="0.3">0</text>
<text transform="translate(276.6,49.4) rotate(-90)" font-size="9.0" fill="#262626" text-anchor="middle" stroke="#262626" stroke-width="0.1" font-weight="bold" textLength="30.7" lengthAdjust="spacingAndGlyphs">MM.1s cells</text>
<rect x="395.00" y="10.90" width="98.20" height="76.80" fill="none" stroke="#111" stroke-width="1.3"/>
<clipPath id="k2"><rect x="395.65" y="11.55" width="96.89999999999999" height="77.0"/></clipPath>
<g clip-path="url(#k2)">
<polyline points="394.0,87.0 394.4,87.0 394.9,87.0 395.3,87.0 395.8,87.0 396.2,87.0 396.7,86.9 397.1,86.8 397.6,85.3 398.0,84.3 398.5,81.3 398.9,81.3 399.4,81.3 399.8,80.5 400.3,77.3 400.7,76.9 401.2,76.2 401.6,73.3 402.1,75.7 402.5,73.8 403.0,72.5 403.4,71.6 403.9,69.1 404.3,68.1 404.8,67.1 405.2,65.5 405.7,63.0 406.1,60.9 406.6,60.9 407.0,59.3 407.5,56.8 407.9,57.2 408.4,55.5 408.8,54.1 409.3,52.6 409.7,51.8 410.2,51.4 410.6,49.0 411.1,49.4 411.5,47.5 412.0,46.8 412.4,46.8 412.9,45.0 413.3,44.4 413.8,43.1 414.2,43.2 414.7,43.2 415.1,42.9 415.6,43.2 416.0,45.1 416.5,46.1 416.9,45.4 417.4,46.5 417.8,48.6 418.3,50.0 418.7,49.5 419.2,51.3 419.6,53.9 420.1,55.9 420.5,56.7 421.0,56.7 421.4,60.3 421.9,61.1 422.3,63.0 422.8,65.7 423.2,66.8 423.7,69.1 424.1,69.4 424.6,74.3 425.0,75.3 425.5,76.4 425.9,78.2 426.4,79.5 426.8,80.2 427.3,80.8 427.7,81.8 428.2,80.8 428.6,81.8 429.1,83.0 429.5,84.4 430.0,84.1 430.4,84.5 430.9,84.7 431.3,84.5 431.8,85.0 432.2,85.1 432.7,85.1 433.1,85.6 433.6,86.0 434.0,85.9 434.5,86.1 434.9,86.5 435.4,86.6 435.8,86.8 436.3,86.9 436.7,87.0 437.2,87.0 437.6,87.0 438.1,87.0 438.5,87.0 439.0,87.0 439.4,87.0 439.9,87.0 440.3,87.0 440.8,87.0 441.2,87.0 441.7,87.0 442.1,87.0 442.6,87.0 443.0,87.0 443.5,87.0 443.9,87.0 444.4,87.0 444.8,87.0 445.3,87.0 445.7,87.0 446.2,87.0 446.6,87.0 447.1,87.0 447.5,87.0 448.0,87.0 448.4,87.0 448.9,87.0 449.3,87.0 449.8,87.0 450.2,87.0 450.7,87.0 451.1,87.0 451.6,87.0 452.0,87.0 452.5,87.0 452.9,87.0 453.4,87.0 453.8,87.0 454.3,87.0 454.7,87.0 455.2,87.0 455.6,87.0 456.1,87.0 456.5,87.0 457.0,87.0 457.4,87.0 457.9,87.0 458.3,87.0 458.8,87.0 459.2,87.0 459.7,87.0 460.1,87.0 460.6,87.0 461.0,87.0 461.5,87.0 461.9,87.0 462.4,87.0 462.8,87.0 463.3,87.0 463.7,87.0 464.2,87.0 464.6,87.0 465.1,87.0 465.5,87.0 466.0,87.0 466.4,87.0 466.9,87.0 467.3,87.0 467.8,87.0 468.2,87.0 468.7,87.0 469.1,87.0 469.6,87.0 470.0,87.0 470.5,87.0 470.9,87.0 471.4,87.0 471.8,87.0 472.3,87.0 472.7,87.0 473.2,87.0 473.6,87.0 474.1,87.0 474.5,87.0 475.0,87.0 475.4,87.0 475.9,87.0 476.3,87.0 476.8,87.0 477.2,87.0 477.7,87.0 478.1,87.0 478.6,87.0 479.0,87.0 479.5,87.0 479.9,87.0 480.4,87.0 480.8,87.0 481.3,87.0 481.7,87.0 482.2,87.0 482.6,87.0 483.1,87.0 483.5,87.0 484.0,87.0 484.4,87.0 484.9,87.0 485.3,87.0 485.8,87.0 486.2,87.0 486.7,87.0 487.1,87.0 487.6,87.0 488.0,87.0 488.5,87.0 488.9,87.0 489.4,87.0 489.8,87.0 490.3,87.0 490.7,87.0 491.2,87.0 491.6,87.0 492.1,87.0 492.5,87.0 493.0,87.0 493.4,87.0 493.9,87.0" fill="none" stroke="#bdbdbd" stroke-width="1.1" stroke-linejoin="round" />
<polyline points="394.0,87.5 394.4,87.5 394.9,87.5 395.3,87.5 395.8,87.5 396.2,87.5 396.7,87.5 397.1,87.5 397.6,87.5 398.0,87.5 398.5,87.5 398.9,87.5 399.4,87.5 399.8,87.5 400.3,87.5 400.7,87.5 401.2,87.5 401.6,87.5 402.1,87.5 402.5,87.5 403.0,87.5 403.4,87.5 403.9,87.5 404.3,87.5 404.8,87.5 405.2,87.5 405.7,87.5 406.1,87.5 406.6,87.5 407.0,87.5 407.5,87.5 407.9,87.5 408.4,87.5 408.8,87.5 409.3,87.5 409.7,87.5 410.2,87.5 410.6,87.5 411.1,87.5 411.5,87.4 412.0,87.2 412.4,87.0 412.9,86.7 413.3,85.0 413.8,84.2 414.2,84.3 414.7,84.6 415.1,83.1 415.6,81.2 416.0,80.8 416.5,80.8 416.9,81.1 417.4,79.6 417.8,78.7 418.3,78.2 418.7,77.9 419.2,76.4 419.6,76.3 420.1,75.8 420.5,76.2 421.0,74.0 421.4,74.1 421.9,71.6 422.3,72.4 422.8,71.0 423.2,69.6 423.7,69.1 424.1,69.0 424.6,67.0 425.0,67.2 425.5,66.5 425.9,65.5 426.4,64.2 426.8,60.2 427.3,59.8 427.7,57.1 428.2,56.8 428.6,54.5 429.1,53.4 429.5,52.7 430.0,51.3 430.4,51.4 430.9,50.2 431.3,51.9 431.8,48.7 432.2,48.0 432.7,45.2 433.1,44.3 433.6,44.0 434.0,44.9 434.5,45.0 434.9,45.2 435.4,45.5 435.8,49.0 436.3,48.0 436.7,49.6 437.2,52.0 437.6,51.9 438.1,54.1 438.5,55.8 439.0,56.0 439.4,57.5 439.9,58.3 440.3,58.9 440.8,58.1 441.2,61.2 441.7,63.8 442.1,64.1 442.6,66.9 443.0,69.4 443.5,72.2 443.9,71.7 444.4,74.2 444.8,76.7 445.3,78.9 445.7,79.0 446.2,83.3 446.6,82.4 447.1,84.7 447.5,84.6 448.0,85.5 448.4,86.6 448.9,86.6 449.3,86.8 449.8,86.9 450.2,87.3 450.7,87.5 451.1,87.5 451.6,87.5 452.0,87.5 452.5,87.5 452.9,87.5 453.4,87.5 453.8,87.5 454.3,87.5 454.7,87.5 455.2,87.5 455.6,87.5 456.1,87.5 456.5,87.5 457.0,87.5 457.4,87.5 457.9,87.5 458.3,87.5 458.8,87.5 459.2,87.5 459.7,87.5 460.1,87.5 460.6,87.5 461.0,87.5 461.5,87.5 461.9,87.5 462.4,87.5 462.8,87.5 463.3,87.5 463.7,87.5 464.2,87.5 464.6,87.5 465.1,87.5 465.5,87.5 466.0,87.5 466.4,87.5 466.9,87.5 467.3,87.5 467.8,87.5 468.2,87.5 468.7,87.5 469.1,87.5 469.6,87.5 470.0,87.5 470.5,87.5 470.9,87.5 471.4,87.5 471.8,87.5 472.3,87.5 472.7,87.5 473.2,87.5 473.6,87.5 474.1,87.5 474.5,87.5 475.0,87.5 475.4,87.5 475.9,87.5 476.3,87.5 476.8,87.5 477.2,87.5 477.7,87.5 478.1,87.5 478.6,87.5 479.0,87.5 479.5,87.5 479.9,87.5 480.4,87.5 480.8,87.5 481.3,87.5 481.7,87.5 482.2,87.5 482.6,87.5 483.1,87.5 483.5,87.5 484.0,87.5 484.4,87.5 484.9,87.5 485.3,87.5 485.8,87.5 486.2,87.5 486.7,87.5 487.1,87.5 487.6,87.5 488.0,87.5 488.5,87.5 488.9,87.5 489.4,87.5 489.8,87.5 490.3,87.5 490.7,87.5 491.2,87.5 491.6,87.5 492.1,87.5 492.5,87.5 493.0,87.5 493.4,87.5 493.9,87.5" fill="none" stroke="#233f7c" stroke-width="1.45" stroke-linejoin="round" />
<polyline points="394.0,87.5 394.4,87.5 394.9,87.5 395.3,87.5 395.8,87.5 396.2,87.5 396.7,87.5 397.1,87.5 397.6,87.5 398.0,87.5 398.5,87.5 398.9,87.5 399.4,87.5 399.8,87.5 400.3,87.5 400.7,87.5 401.2,87.5 401.6,87.5 402.1,87.5 402.5,87.5 403.0,87.5 403.4,87.5 403.9,87.5 404.3,87.5 404.8,87.5 405.2,87.5 405.7,87.5 406.1,87.5 406.6,87.5 407.0,87.5 407.5,87.5 407.9,87.5 408.4,87.5 408.8,87.5 409.3,87.5 409.7,87.5 410.2,87.5 410.6,87.5 411.1,87.5 411.5,87.4 412.0,87.2 412.4,86.8 412.9,85.8 413.3,87.1 413.8,84.7 414.2,83.8 414.7,83.3 415.1,81.9 415.6,81.0 416.0,81.6 416.5,80.1 416.9,80.6 417.4,79.1 417.8,77.0 418.3,76.8 418.7,76.6 419.2,74.9 419.6,76.0 420.1,75.1 420.5,75.5 421.0,73.0 421.4,72.8 421.9,72.8 422.3,72.1 422.8,69.7 423.2,71.2 423.7,68.3 424.1,69.1 424.6,66.7 425.0,65.6 425.5,63.8 425.9,63.6 426.4,64.6 426.8,60.3 427.3,60.6 427.7,58.5 428.2,55.2 428.6,55.0 429.1,54.0 429.5,51.7 430.0,50.9 430.4,52.0 430.9,50.8 431.3,51.7 431.8,49.2 432.2,46.5 432.7,46.3 433.1,44.0 433.6,44.9 434.0,44.4 434.5,43.5 434.9,43.7 435.4,46.4 435.8,46.7 436.3,49.6 436.7,49.1 437.2,51.0 437.6,52.0 438.1,52.6 438.5,57.1 439.0,57.3 439.4,56.2 439.9,58.7 440.3,57.5 440.8,61.6 441.2,62.9 441.7,63.2 442.1,64.9 442.6,67.3 443.0,69.3 443.5,70.4 443.9,71.7 444.4,74.1 444.8,75.8 445.3,78.8 445.7,80.0 446.2,81.7 446.6,81.4 447.1,83.5 447.5,84.3 448.0,84.9 448.4,85.7 448.9,86.2 449.3,86.2 449.8,87.3 450.2,87.3 450.7,87.5 451.1,87.5 451.6,87.5 452.0,87.5 452.5,87.5 452.9,87.5 453.4,87.5 453.8,87.5 454.3,87.5 454.7,87.5 455.2,87.5 455.6,87.5 456.1,87.5 456.5,87.5 457.0,87.5 457.4,87.5 457.9,87.5 458.3,87.5 458.8,87.5 459.2,87.5 459.7,87.5 460.1,87.5 460.6,87.5 461.0,87.5 461.5,87.5 461.9,87.5 462.4,87.5 462.8,87.5 463.3,87.5 463.7,87.5 464.2,87.5 464.6,87.5 465.1,87.5 465.5,87.5 466.0,87.5 466.4,87.5 466.9,87.5 467.3,87.5 467.8,87.5 468.2,87.5 468.7,87.5 469.1,87.5 469.6,87.5 470.0,87.5 470.5,87.5 470.9,87.5 471.4,87.5 471.8,87.5 472.3,87.5 472.7,87.5 473.2,87.5 473.6,87.5 474.1,87.5 474.5,87.5 475.0,87.5 475.4,87.5 475.9,87.5 476.3,87.5 476.8,87.5 477.2,87.5 477.7,87.5 478.1,87.5 478.6,87.5 479.0,87.5 479.5,87.5 479.9,87.5 480.4,87.5 480.8,87.5 481.3,87.5 481.7,87.5 482.2,87.5 482.6,87.5 483.1,87.5 483.5,87.5 484.0,87.5 484.4,87.5 484.9,87.5 485.3,87.5 485.8,87.5 486.2,87.5 486.7,87.5 487.1,87.5 487.6,87.5 488.0,87.5 488.5,87.5 488.9,87.5 489.4,87.5 489.8,87.5 490.3,87.5 490.7,87.5 491.2,87.5 491.6,87.5 492.1,87.5 492.5,87.5 493.0,87.5 493.4,87.5 493.9,87.5" fill="none" stroke="#6db345" stroke-width="1.45" stroke-linejoin="round" />
<polyline points="394.0,87.5 394.4,87.5 394.9,87.5 395.3,87.5 395.8,87.5 396.2,87.5 396.7,87.5 397.1,87.5 397.6,87.5 398.0,87.5 398.5,87.5 398.9,87.5 399.4,87.5 399.8,87.5 400.3,87.5 400.7,87.5 401.2,87.5 401.6,87.5 402.1,87.5 402.5,87.5 403.0,87.5 403.4,87.5 403.9,87.5 404.3,87.5 404.8,87.5 405.2,87.5 405.7,87.5 406.1,87.5 406.6,87.5 407.0,87.5 407.5,87.5 407.9,87.5 408.4,87.5 408.8,87.5 409.3,87.5 409.7,87.5 410.2,87.5 410.6,87.5 411.1,87.5 411.5,87.5 412.0,87.4 412.4,87.1 412.9,87.3 413.3,85.4 413.8,85.4 414.2,84.4 414.7,83.3 415.1,82.8 415.6,82.2 416.0,81.9 416.5,81.7 416.9,81.7 417.4,80.4 417.8,80.6 418.3,79.3 418.7,78.4 419.2,77.5 419.6,76.1 420.1,74.9 420.5,75.5 421.0,74.7 421.4,74.3 421.9,73.6 422.3,71.4 422.8,71.0 423.2,69.8 423.7,70.8 424.1,69.0 424.6,68.2 425.0,66.4 425.5,65.0 425.9,64.5 426.4,63.8 426.8,62.9 427.3,59.6 427.7,59.5 428.2,56.7 428.6,55.3 429.1,54.0 429.5,52.9 430.0,52.9 430.4,52.8 430.9,51.8 431.3,50.5 431.8,50.7 432.2,49.8 432.7,49.2 433.1,47.7 433.6,45.1 434.0,45.3 434.5,45.4 434.9,46.8 435.4,46.5 435.8,48.4 436.3,49.0 436.7,49.0 437.2,51.2 437.6,52.8 438.1,53.7 438.5,53.1 439.0,55.8 439.4,56.0 439.9,55.8 440.3,58.4 440.8,58.4 441.2,60.4 441.7,64.2 442.1,66.7 442.6,67.2 443.0,68.5 443.5,71.6 443.9,72.1 444.4,72.7 444.8,73.3 445.3,78.0 445.7,77.1 446.2,78.3 446.6,81.7 447.1,83.4 447.5,83.7 448.0,85.5 448.4,85.5 448.9,86.1 449.3,86.6 449.8,86.7 450.2,87.2 450.7,87.4 451.1,87.5 451.6,87.5 452.0,87.5 452.5,87.5 452.9,87.5 453.4,87.5 453.8,87.5 454.3,87.5 454.7,87.5 455.2,87.5 455.6,87.5 456.1,87.5 456.5,87.5 457.0,87.5 457.4,87.5 457.9,87.5 458.3,87.5 458.8,87.5 459.2,87.5 459.7,87.5 460.1,87.5 460.6,87.5 461.0,87.5 461.5,87.5 461.9,87.5 462.4,87.5 462.8,87.5 463.3,87.5 463.7,87.5 464.2,87.5 464.6,87.5 465.1,87.5 465.5,87.5 466.0,87.5 466.4,87.5 466.9,87.5 467.3,87.5 467.8,87.5 468.2,87.5 468.7,87.5 469.1,87.5 469.6,87.5 470.0,87.5 470.5,87.5 470.9,87.5 471.4,87.5 471.8,87.5 472.3,87.5 472.7,87.5 473.2,87.5 473.6,87.5 474.1,87.5 474.5,87.5 475.0,87.5 475.4,87.5 475.9,87.5 476.3,87.5 476.8,87.5 477.2,87.5 477.7,87.5 478.1,87.5 478.6,87.5 479.0,87.5 479.5,87.5 479.9,87.5 480.4,87.5 480.8,87.5 481.3,87.5 481.7,87.5 482.2,87.5 482.6,87.5 483.1,87.5 483.5,87.5 484.0,87.5 484.4,87.5 484.9,87.5 485.3,87.5 485.8,87.5 486.2,87.5 486.7,87.5 487.1,87.5 487.6,87.5 488.0,87.5 488.5,87.5 488.9,87.5 489.4,87.5 489.8,87.5 490.3,87.5 490.7,87.5 491.2,87.5 491.6,87.5 492.1,87.5 492.5,87.5 493.0,87.5 493.4,87.5 493.9,87.5" fill="none" stroke="#4b5560" stroke-width="1.45" stroke-linejoin="round" />
<polyline points="394.0,87.4 394.4,86.8 394.9,85.5 395.3,86.1 395.8,86.7 396.2,85.1 396.7,85.4 397.1,85.3 397.6,85.0 398.0,84.9 398.5,85.0 398.9,84.1 399.4,83.2 399.8,83.0 400.3,84.5 400.7,84.3 401.2,83.9 401.6,82.3 402.1,83.5 402.5,83.5 403.0,82.7 403.4,82.7 403.9,84.6 404.3,83.9 404.8,83.3 405.2,82.7 405.7,81.9 406.1,81.7 406.6,82.3 407.0,80.8 407.5,81.0 407.9,82.3 408.4,79.6 408.8,79.7 409.3,81.5 409.7,80.0 410.2,79.6 410.6,78.4 411.1,77.6 411.5,79.4 412.0,75.9 412.4,78.1 412.9,76.9 413.3,76.9 413.8,74.8 414.2,76.9 414.7,76.2 415.1,75.5 415.6,75.1 416.0,73.1 416.5,73.9 416.9,73.7 417.4,72.7 417.8,69.5 418.3,71.5 418.7,71.2 419.2,69.6 419.6,70.0 420.1,70.4 420.5,68.6 421.0,69.2 421.4,66.9 421.9,66.0 422.3,66.1 422.8,64.4 423.2,62.9 423.7,63.8 424.1,62.8 424.6,62.6 425.0,60.8 425.5,60.5 425.9,60.7 426.4,59.3 426.8,58.9 427.3,58.8 427.7,57.7 428.2,58.4 428.6,57.2 429.1,59.5 429.5,62.4 430.0,61.9 430.4,62.4 430.9,62.6 431.3,64.3 431.8,66.2 432.2,67.0 432.7,69.3 433.1,70.2 433.6,71.9 434.0,72.1 434.5,74.0 434.9,75.5 435.4,74.6 435.8,76.3 436.3,77.2 436.7,78.1 437.2,80.0 437.6,79.5 438.1,79.7 438.5,80.0 439.0,80.6 439.4,82.4 439.9,83.7 440.3,83.7 440.8,83.7 441.2,84.6 441.7,84.6 442.1,86.0 442.6,85.8 443.0,86.6 443.5,86.4 443.9,86.5 444.4,86.1 444.8,86.7 445.3,86.5 445.7,86.5 446.2,86.8 446.6,87.3 447.1,87.1 447.5,87.5 448.0,87.3 448.4,87.4 448.9,87.5 449.3,87.5 449.8,87.5 450.2,87.5 450.7,87.5 451.1,87.5 451.6,87.5 452.0,87.5 452.5,87.5 452.9,87.5 453.4,87.5 453.8,87.5 454.3,87.5 454.7,87.5 455.2,87.5 455.6,87.5 456.1,87.5 456.5,87.5 457.0,87.5 457.4,87.5 457.9,87.5 458.3,87.5 458.8,87.5 459.2,87.5 459.7,87.5 460.1,87.5 460.6,87.5 461.0,87.5 461.5,87.5 461.9,87.5 462.4,87.5 462.8,87.5 463.3,87.5 463.7,87.5 464.2,87.5 464.6,87.5 465.1,87.5 465.5,87.5 466.0,87.5 466.4,87.5 466.9,87.5 467.3,87.5 467.8,87.5 468.2,87.5 468.7,87.5 469.1,87.5 469.6,87.5 470.0,87.5 470.5,87.5 470.9,87.5 471.4,87.5 471.8,87.5 472.3,87.5 472.7,87.5 473.2,87.5 473.6,87.5 474.1,87.5 474.5,87.5 475.0,87.5 475.4,87.5 475.9,87.5 476.3,87.5 476.8,87.5 477.2,87.5 477.7,87.5 478.1,87.5 478.6,87.5 479.0,87.5 479.5,87.5 479.9,87.5 480.4,87.5 480.8,87.5 481.3,87.5 481.7,87.5 482.2,87.5 482.6,87.5 483.1,87.5 483.5,87.5 484.0,87.5 484.4,87.5 484.9,87.5 485.3,87.5 485.8,87.5 486.2,87.5 486.7,87.5 487.1,87.5 487.6,87.5 488.0,87.5 488.5,87.5 488.9,87.5 489.4,87.5 489.8,87.5 490.3,87.5 490.7,87.5 491.2,87.5 491.6,87.5 492.1,87.5 492.5,87.5 493.0,87.5 493.4,87.5 493.9,87.5" fill="none" stroke="#a8173c" stroke-width="1.7" stroke-linejoin="round" />
</g>
<line x1="393.50" y1="81.30" x2="395.00" y2="81.30" stroke="#222" stroke-width="0.9" />
<line x1="393.50" y1="74.90" x2="395.00" y2="74.90" stroke="#222" stroke-width="0.9" />
<line x1="393.50" y1="68.50" x2="395.00" y2="68.50" stroke="#222" stroke-width="0.9" />
<line x1="392.40" y1="62.10" x2="395.00" y2="62.10" stroke="#222" stroke-width="0.9" />
<line x1="393.50" y1="55.70" x2="395.00" y2="55.70" stroke="#222" stroke-width="0.9" />
<line x1="393.50" y1="49.30" x2="395.00" y2="49.30" stroke="#222" stroke-width="0.9" />
<line x1="393.50" y1="42.90" x2="395.00" y2="42.90" stroke="#222" stroke-width="0.9" />
<line x1="392.40" y1="36.50" x2="395.00" y2="36.50" stroke="#222" stroke-width="0.9" />
<line x1="393.50" y1="30.10" x2="395.00" y2="30.10" stroke="#222" stroke-width="0.9" />
<line x1="393.50" y1="23.70" x2="395.00" y2="23.70" stroke="#222" stroke-width="0.9" />
<line x1="393.50" y1="17.30" x2="395.00" y2="17.30" stroke="#222" stroke-width="0.9" />
<line x1="396.53" y1="87.70" x2="396.53" y2="89.50" stroke="#222" stroke-width="0.9" />
<line x1="399.23" y1="87.70" x2="399.23" y2="89.50" stroke="#222" stroke-width="0.9" />
<line x1="401.92" y1="87.70" x2="401.92" y2="89.50" stroke="#222" stroke-width="0.9" />
<line x1="405.00" y1="87.70" x2="405.00" y2="90.30" stroke="#222" stroke-width="0.9" />
<line x1="408.08" y1="87.70" x2="408.08" y2="89.50" stroke="#222" stroke-width="0.9" />
<line x1="410.77" y1="87.70" x2="410.77" y2="89.50" stroke="#222" stroke-width="0.9" />
<line x1="413.47" y1="87.70" x2="413.47" y2="89.50" stroke="#222" stroke-width="0.9" />
<line x1="420.40" y1="87.70" x2="420.40" y2="89.30" stroke="#222" stroke-width="0.9" />
<line x1="428.10" y1="87.70" x2="428.10" y2="89.30" stroke="#222" stroke-width="0.9" />
<line x1="437.34" y1="87.70" x2="437.34" y2="90.30" stroke="#222" stroke-width="0.9" />
<line x1="444.06" y1="87.70" x2="444.06" y2="89.20" stroke="#222" stroke-width="0.9" />
<line x1="447.99" y1="87.70" x2="447.99" y2="89.20" stroke="#222" stroke-width="0.9" />
<line x1="450.78" y1="87.70" x2="450.78" y2="89.20" stroke="#222" stroke-width="0.9" />
<line x1="452.95" y1="87.70" x2="452.95" y2="89.20" stroke="#222" stroke-width="0.9" />
<line x1="454.72" y1="87.70" x2="454.72" y2="89.20" stroke="#222" stroke-width="0.9" />
<line x1="456.21" y1="87.70" x2="456.21" y2="89.20" stroke="#222" stroke-width="0.9" />
<line x1="457.51" y1="87.70" x2="457.51" y2="89.20" stroke="#222" stroke-width="0.9" />
<line x1="458.65" y1="87.70" x2="458.65" y2="89.20" stroke="#222" stroke-width="0.9" />
<line x1="459.67" y1="87.70" x2="459.67" y2="90.30" stroke="#222" stroke-width="0.9" />
<line x1="466.39" y1="87.70" x2="466.39" y2="89.20" stroke="#222" stroke-width="0.9" />
<line x1="470.32" y1="87.70" x2="470.32" y2="89.20" stroke="#222" stroke-width="0.9" />
<line x1="473.11" y1="87.70" x2="473.11" y2="89.20" stroke="#222" stroke-width="0.9" />
<line x1="475.28" y1="87.70" x2="475.28" y2="89.20" stroke="#222" stroke-width="0.9" />
<line x1="477.05" y1="87.70" x2="477.05" y2="89.20" stroke="#222" stroke-width="0.9" />
<line x1="478.54" y1="87.70" x2="478.54" y2="89.20" stroke="#222" stroke-width="0.9" />
<line x1="479.84" y1="87.70" x2="479.84" y2="89.20" stroke="#222" stroke-width="0.9" />
<line x1="480.98" y1="87.70" x2="480.98" y2="89.20" stroke="#222" stroke-width="0.9" />
<line x1="482.00" y1="87.70" x2="482.00" y2="90.30" stroke="#222" stroke-width="0.9" />
<line x1="449.00" y1="16.40" x2="457.70" y2="16.40" stroke="#6db345" stroke-width="2.0" />
<text x="459.7" y="18.4" font-size="5.5" fill="#262626" text-anchor="start" stroke="#262626" stroke-width="0.3" textLength="17.3" lengthAdjust="spacingAndGlyphs">pLKO.1</text>
<line x1="449.00" y1="23.40" x2="457.70" y2="23.40" stroke="#a8173c" stroke-width="2.0" />
<text x="459.7" y="25.4" font-size="5.5" fill="#262626" text-anchor="start" stroke="#262626" stroke-width="0.3" textLength="19.7" lengthAdjust="spacingAndGlyphs">shCD86</text>
<line x1="449.00" y1="30.40" x2="457.70" y2="30.40" stroke="#3a5a8a" stroke-width="2.0" />
<text x="459.7" y="32.4" font-size="5.5" fill="#262626" text-anchor="start" stroke="#262626" stroke-width="0.3" textLength="19.7" lengthAdjust="spacingAndGlyphs">shCD28</text>
<line x1="449.00" y1="37.40" x2="457.70" y2="37.40" stroke="#4b5560" stroke-width="2.0" />
<text x="459.7" y="39.4" font-size="5.5" fill="#262626" text-anchor="start" stroke="#262626" stroke-width="0.3" textLength="25.2" lengthAdjust="spacingAndGlyphs">shGAPDH</text>
<line x1="449.00" y1="44.40" x2="457.70" y2="44.40" stroke="#bdbdbd" stroke-width="1.1" />
<text x="459.7" y="46.4" font-size="5.5" fill="#262626" text-anchor="start" stroke="#262626" stroke-width="0.3" textLength="17.5" lengthAdjust="spacingAndGlyphs">isotype</text>
<rect x="293.90" y="106.60" width="94.70" height="72.30" fill="none" stroke="#111" stroke-width="1.3"/>
<clipPath id="k3"><rect x="294.54999999999995" y="107.25" width="93.40000000000005" height="72.50000000000001"/></clipPath>
<g clip-path="url(#k3)">
<polyline points="292.9,178.2 293.3,178.2 293.8,178.2 294.2,178.2 294.7,178.2 295.1,178.2 295.6,178.2 296.0,178.2 296.5,178.2 296.9,178.2 297.4,178.2 297.8,178.2 298.3,178.2 298.7,178.1 299.2,177.6 299.6,177.1 300.1,176.9 300.5,175.1 301.0,173.6 301.4,172.3 301.9,169.0 302.3,168.5 302.8,166.6 303.2,163.4 303.7,163.1 304.1,157.5 304.6,154.1 305.0,150.8 305.5,147.8 305.9,145.0 306.4,139.4 306.8,137.0 307.3,136.5 307.7,132.6 308.2,130.1 308.6,128.2 309.1,128.0 309.5,125.8 310.0,124.5 310.4,124.3 310.9,125.3 311.3,127.2 311.8,128.4 312.2,130.2 312.7,134.3 313.1,136.7 313.6,138.6 314.0,144.1 314.5,147.1 314.9,150.4 315.4,155.4 315.8,159.0 316.3,161.9 316.7,167.4 317.2,168.7 317.6,173.7 318.1,175.4 318.5,177.6 319.0,178.0 319.4,178.2 319.9,178.2 320.3,178.2 320.8,178.2 321.2,178.2 321.7,178.2 322.1,178.2 322.6,178.2 323.0,178.2 323.5,178.2 323.9,178.2 324.4,178.2 324.8,178.2 325.3,178.2 325.7,178.2 326.2,178.2 326.6,178.2 327.1,178.2 327.5,178.2 328.0,178.2 328.4,178.2 328.9,178.2 329.3,178.2 329.8,178.2 330.2,178.2 330.7,178.2 331.1,178.2 331.6,178.2 332.0,178.2 332.5,178.2 332.9,178.2 333.4,178.2 333.8,178.2 334.3,178.2 334.7,178.2 335.2,178.2 335.6,178.2 336.1,178.2 336.5,178.2 337.0,178.2 337.4,178.2 337.9,178.2 338.3,178.2 338.8,178.2 339.2,178.2 339.7,178.2 340.1,178.2 340.6,178.2 341.0,178.2 341.5,178.2 341.9,178.2 342.4,178.2 342.8,178.2 343.3,178.2 343.7,178.2 344.2,178.2 344.6,178.2 345.1,178.2 345.5,178.2 346.0,178.2 346.4,178.2 346.9,178.2 347.3,178.2 347.8,178.2 348.2,178.2 348.7,178.2 349.1,178.2 349.6,178.2 350.0,178.2 350.5,178.2 350.9,178.2 351.4,178.2 351.8,178.2 352.3,178.2 352.7,178.2 353.2,178.2 353.6,178.2 354.1,178.2 354.5,178.2 355.0,178.2 355.4,178.2 355.9,178.2 356.3,178.2 356.8,178.2 357.2,178.2 357.7,178.2 358.1,178.2 358.6,178.2 359.0,178.2 359.5,178.2 359.9,178.2 360.4,178.2 360.8,178.2 361.3,178.2 361.7,178.2 362.2,178.2 362.6,178.2 363.1,178.2 363.5,178.2 364.0,178.2 364.4,178.2 364.9,178.2 365.3,178.2 365.8,178.2 366.2,178.2 366.7,178.2 367.1,178.2 367.6,178.2 368.0,178.2 368.5,178.2 368.9,178.2 369.4,178.2 369.8,178.2 370.3,178.2 370.7,178.2 371.2,178.2 371.6,178.2 372.1,178.2 372.5,178.2 373.0,178.2 373.4,178.2 373.9,178.2 374.3,178.2 374.8,178.2 375.2,178.2 375.7,178.2 376.1,178.2 376.6,178.2 377.0,178.2 377.5,178.2 377.9,178.2 378.4,178.2 378.8,178.2 379.3,178.2 379.7,178.2 380.2,178.2 380.6,178.2 381.1,178.2 381.5,178.2 382.0,178.2 382.4,178.2 382.9,178.2 383.3,178.2 383.8,178.2 384.2,178.2 384.7,178.2 385.1,178.2 385.6,178.2 386.0,178.2 386.5,178.2 386.9,178.2 387.4,178.2 387.8,178.2 388.3,178.2 388.7,178.2 389.2,178.2" fill="none" stroke="#bdbdbd" stroke-width="1.1" stroke-linejoin="round" />
<polyline points="292.9,178.7 293.3,178.7 293.8,178.7 294.2,178.7 294.7,178.7 295.1,178.7 295.6,178.7 296.0,178.7 296.5,178.7 296.9,178.7 297.4,178.7 297.8,178.7 298.3,178.7 298.7,178.7 299.2,178.7 299.6,178.7 300.1,178.7 300.5,178.7 301.0,178.7 301.4,178.7 301.9,178.7 302.3,178.7 302.8,178.7 303.2,178.7 303.7,178.7 304.1,178.7 304.6,178.7 305.0,178.7 305.5,178.7 305.9,178.7 306.4,178.7 306.8,178.7 307.3,178.7 307.7,178.7 308.2,178.7 308.6,178.7 309.1,178.7 309.5,178.7 310.0,178.7 310.4,178.7 310.9,178.7 311.3,178.7 311.8,178.7 312.2,178.7 312.7,178.7 313.1,178.7 313.6,178.7 314.0,178.7 314.5,178.7 314.9,178.7 315.4,178.7 315.8,178.7 316.3,178.7 316.7,178.7 317.2,178.7 317.6,178.7 318.1,178.7 318.5,178.7 319.0,178.7 319.4,178.7 319.9,178.7 320.3,178.7 320.8,178.7 321.2,178.7 321.7,178.7 322.1,178.7 322.6,178.7 323.0,178.7 323.5,178.7 323.9,178.7 324.4,178.7 324.8,178.7 325.3,178.7 325.7,178.7 326.2,178.7 326.6,178.7 327.1,178.7 327.5,178.7 328.0,178.7 328.4,178.7 328.9,178.7 329.3,178.7 329.8,178.7 330.2,178.7 330.7,178.7 331.1,178.7 331.6,178.7 332.0,178.7 332.5,178.7 332.9,178.7 333.4,178.7 333.8,178.7 334.3,178.7 334.7,178.7 335.2,178.7 335.6,178.7 336.1,178.7 336.5,178.7 337.0,178.7 337.4,178.7 337.9,178.7 338.3,178.7 338.8,178.7 339.2,178.7 339.7,178.7 340.1,178.7 340.6,178.7 341.0,178.7 341.5,178.7 341.9,178.7 342.4,178.7 342.8,178.7 343.3,178.7 343.7,178.7 344.2,178.7 344.6,178.6 345.1,178.3 345.5,177.5 346.0,175.9 346.4,175.6 346.9,173.5 347.3,171.5 347.8,169.0 348.2,167.5 348.7,163.9 349.1,160.4 349.6,154.7 350.0,149.7 350.5,144.4 350.9,140.4 351.4,134.1 351.8,133.6 352.3,128.7 352.7,125.8 353.2,124.2 353.6,121.6 354.1,121.1 354.5,121.4 355.0,120.2 355.4,124.3 355.9,125.1 356.3,128.1 356.8,130.2 357.2,134.5 357.7,140.6 358.1,142.9 358.6,147.1 359.0,151.9 359.5,156.6 359.9,157.0 360.4,163.3 360.8,165.0 361.3,168.0 361.7,168.7 362.2,171.9 362.6,174.7 363.1,175.0 363.5,176.1 364.0,177.3 364.4,178.1 364.9,178.5 365.3,178.7 365.8,178.7 366.2,178.7 366.7,178.7 367.1,178.7 367.6,178.7 368.0,178.7 368.5,178.7 368.9,178.7 369.4,178.7 369.8,178.7 370.3,178.7 370.7,178.7 371.2,178.7 371.6,178.7 372.1,178.7 372.5,178.7 373.0,178.7 373.4,178.7 373.9,178.7 374.3,178.7 374.8,178.7 375.2,178.7 375.7,178.7 376.1,178.7 376.6,178.7 377.0,178.7 377.5,178.7 377.9,178.7 378.4,178.7 378.8,178.7 379.3,178.7 379.7,178.7 380.2,178.7 380.6,178.7 381.1,178.7 381.5,178.7 382.0,178.7 382.4,178.7 382.9,178.7 383.3,178.7 383.8,178.7 384.2,178.7 384.7,178.7 385.1,178.7 385.6,178.7 386.0,178.7 386.5,178.7 386.9,178.7 387.4,178.7 387.8,178.7 388.3,178.7 388.7,178.7 389.2,178.7" fill="none" stroke="#4b5560" stroke-width="1.45" stroke-linejoin="round" />
<polyline points="292.9,178.7 293.3,178.7 293.8,178.7 294.2,178.7 294.7,178.7 295.1,178.7 295.6,178.7 296.0,178.7 296.5,178.7 296.9,178.7 297.4,178.7 297.8,178.7 298.3,178.7 298.7,178.7 299.2,178.7 299.6,178.7 300.1,178.7 300.5,178.7 301.0,178.7 301.4,178.7 301.9,178.7 302.3,178.7 302.8,178.7 303.2,178.7 303.7,178.7 304.1,178.7 304.6,178.7 305.0,178.7 305.5,178.7 305.9,178.7 306.4,178.7 306.8,178.7 307.3,178.7 307.7,178.7 308.2,178.7 308.6,178.7 309.1,178.7 309.5,178.7 310.0,178.7 310.4,178.7 310.9,178.7 311.3,178.7 311.8,178.7 312.2,178.7 312.7,178.7 313.1,178.7 313.6,178.7 314.0,178.7 314.5,178.7 314.9,178.7 315.4,178.7 315.8,178.7 316.3,178.7 316.7,178.7 317.2,178.7 317.6,178.7 318.1,178.7 318.5,178.7 319.0,178.7 319.4,178.7 319.9,178.7 320.3,178.7 320.8,178.7 321.2,178.7 321.7,178.7 322.1,178.7 322.6,178.7 323.0,178.7 323.5,178.7 323.9,178.7 324.4,178.7 324.8,178.7 325.3,178.7 325.7,178.7 326.2,178.7 326.6,178.7 327.1,178.7 327.5,178.7 328.0,178.7 328.4,178.7 328.9,178.7 329.3,178.7 329.8,178.6 330.2,178.4 330.7,178.1 331.1,177.6 331.6,176.7 332.0,177.4 332.5,175.1 332.9,175.4 333.4,175.4 333.8,174.7 334.3,174.1 334.7,172.2 335.2,173.8 335.6,171.0 336.1,170.7 336.5,169.9 337.0,168.9 337.4,167.4 337.9,167.9 338.3,165.5 338.8,165.0 339.2,161.7 339.7,162.1 340.1,160.2 340.6,159.4 341.0,158.0 341.5,156.9 341.9,155.2 342.4,154.0 342.8,152.7 343.3,151.4 343.7,150.0 344.2,148.5 344.6,148.1 345.1,146.2 345.5,147.7 346.0,145.9 346.4,145.7 346.9,143.6 347.3,142.1 347.8,141.4 348.2,141.6 348.7,141.6 349.1,141.8 349.6,142.1 350.0,143.3 350.5,141.6 350.9,145.4 351.4,144.6 351.8,146.0 352.3,145.6 352.7,148.6 353.2,148.7 353.6,151.8 354.1,153.1 354.5,154.4 355.0,155.3 355.4,156.2 355.9,157.2 356.3,159.1 356.8,159.4 357.2,160.7 357.7,163.6 358.1,163.3 358.6,164.2 359.0,164.8 359.5,166.3 359.9,169.9 360.4,171.9 360.8,171.7 361.3,173.0 361.7,174.9 362.2,176.2 362.6,177.4 363.1,177.8 363.5,178.3 364.0,178.6 364.4,178.7 364.9,178.7 365.3,178.7 365.8,178.7 366.2,178.7 366.7,178.7 367.1,178.7 367.6,178.7 368.0,178.7 368.5,178.7 368.9,178.7 369.4,178.7 369.8,178.7 370.3,178.7 370.7,178.7 371.2,178.7 371.6,178.7 372.1,178.7 372.5,178.7 373.0,178.7 373.4,178.7 373.9,178.7 374.3,178.7 374.8,178.7 375.2,178.7 375.7,178.7 376.1,178.7 376.6,178.7 377.0,178.7 377.5,178.7 377.9,178.7 378.4,178.7 378.8,178.7 379.3,178.7 379.7,178.7 380.2,178.7 380.6,178.7 381.1,178.7 381.5,178.7 382.0,178.7 382.4,178.7 382.9,178.7 383.3,178.7 383.8,178.7 384.2,178.7 384.7,178.7 385.1,178.7 385.6,178.7 386.0,178.7 386.5,178.7 386.9,178.7 387.4,178.7 387.8,178.7 388.3,178.7 388.7,178.7 389.2,178.7" fill="none" stroke="#233f7c" stroke-width="1.7" stroke-linejoin="round" />
</g>
<line x1="292.40" y1="174.38" x2="293.90" y2="174.38" stroke="#222" stroke-width="0.9" />
<line x1="292.40" y1="169.86" x2="293.90" y2="169.86" stroke="#222" stroke-width="0.9" />
<line x1="292.40" y1="165.34" x2="293.90" y2="165.34" stroke="#222" stroke-width="0.9" />
<line x1="291.30" y1="160.82" x2="293.90" y2="160.82" stroke="#222" stroke-width="0.9" />
<line x1="292.40" y1="156.31" x2="293.90" y2="156.31" stroke="#222" stroke-width="0.9" />
<line x1="292.40" y1="151.79" x2="293.90" y2="151.79" stroke="#222" stroke-width="0.9" />
<line x1="292.40" y1="147.27" x2="293.90" y2="147.27" stroke="#222" stroke-width="0.9" />
<line x1="291.30" y1="142.75" x2="293.90" y2="142.75" stroke="#222" stroke-width="0.9" />
<line x1="292.40" y1="138.23" x2="293.90" y2="138.23" stroke="#222" stroke-width="0.9" />
<line x1="292.40" y1="133.71" x2="293.90" y2="133.71" stroke="#222" stroke-width="0.9" />
<line x1="292.40" y1="129.19" x2="293.90" y2="129.19" stroke="#222" stroke-width="0.9" />
<line x1="291.30" y1="124.67" x2="293.90" y2="124.67" stroke="#222" stroke-width="0.9" />
<line x1="292.40" y1="120.16" x2="293.90" y2="120.16" stroke="#222" stroke-width="0.9" />
<line x1="292.40" y1="115.64" x2="293.90" y2="115.64" stroke="#222" stroke-width="0.9" />
<line x1="292.40" y1="111.12" x2="293.90" y2="111.12" stroke="#222" stroke-width="0.9" />
<line x1="295.28" y1="178.90" x2="295.28" y2="180.70" stroke="#222" stroke-width="0.9" />
<line x1="297.93" y1="178.90" x2="297.93" y2="180.70" stroke="#222" stroke-width="0.9" />
<line x1="300.58" y1="178.90" x2="300.58" y2="180.70" stroke="#222" stroke-width="0.9" />
<line x1="303.60" y1="178.90" x2="303.60" y2="181.50" stroke="#222" stroke-width="0.9" />
<line x1="306.62" y1="178.90" x2="306.62" y2="180.70" stroke="#222" stroke-width="0.9" />
<line x1="309.27" y1="178.90" x2="309.27" y2="180.70" stroke="#222" stroke-width="0.9" />
<line x1="311.92" y1="178.90" x2="311.92" y2="180.70" stroke="#222" stroke-width="0.9" />
<line x1="318.72" y1="178.90" x2="318.72" y2="180.50" stroke="#222" stroke-width="0.9" />
<line x1="326.28" y1="178.90" x2="326.28" y2="180.50" stroke="#222" stroke-width="0.9" />
<line x1="335.35" y1="178.90" x2="335.35" y2="181.50" stroke="#222" stroke-width="0.9" />
<line x1="341.95" y1="178.90" x2="341.95" y2="180.40" stroke="#222" stroke-width="0.9" />
<line x1="345.81" y1="178.90" x2="345.81" y2="180.40" stroke="#222" stroke-width="0.9" />
<line x1="348.55" y1="178.90" x2="348.55" y2="180.40" stroke="#222" stroke-width="0.9" />
<line x1="350.68" y1="178.90" x2="350.68" y2="180.40" stroke="#222" stroke-width="0.9" />
<line x1="352.41" y1="178.90" x2="352.41" y2="180.40" stroke="#222" stroke-width="0.9" />
<line x1="353.88" y1="178.90" x2="353.88" y2="180.40" stroke="#222" stroke-width="0.9" />
<line x1="355.15" y1="178.90" x2="355.15" y2="180.40" stroke="#222" stroke-width="0.9" />
<line x1="356.27" y1="178.90" x2="356.27" y2="180.40" stroke="#222" stroke-width="0.9" />
<line x1="357.28" y1="178.90" x2="357.28" y2="181.50" stroke="#222" stroke-width="0.9" />
<line x1="363.88" y1="178.90" x2="363.88" y2="180.40" stroke="#222" stroke-width="0.9" />
<line x1="367.74" y1="178.90" x2="367.74" y2="180.40" stroke="#222" stroke-width="0.9" />
<line x1="370.48" y1="178.90" x2="370.48" y2="180.40" stroke="#222" stroke-width="0.9" />
<line x1="372.60" y1="178.90" x2="372.60" y2="180.40" stroke="#222" stroke-width="0.9" />
<line x1="374.34" y1="178.90" x2="374.34" y2="180.40" stroke="#222" stroke-width="0.9" />
<line x1="375.80" y1="178.90" x2="375.80" y2="180.40" stroke="#222" stroke-width="0.9" />
<line x1="377.08" y1="178.90" x2="377.08" y2="180.40" stroke="#222" stroke-width="0.9" />
<line x1="378.20" y1="178.90" x2="378.20" y2="180.40" stroke="#222" stroke-width="0.9" />
<line x1="379.20" y1="178.90" x2="379.20" y2="181.50" stroke="#222" stroke-width="0.9" />
<text x="287.7" y="108.6" font-size="6.1" fill="#262626" text-anchor="end" stroke="#262626" stroke-width="0.3" textLength="10.6" lengthAdjust="spacingAndGlyphs">400</text>
<text x="287.7" y="180.8" font-size="6.1" fill="#262626" text-anchor="end" stroke="#262626" stroke-width="0.3">0</text>
<text x="303.8" y="189.0" font-size="5.4" fill="#262626" text-anchor="middle" stroke="#262626" stroke-width="0.3">0</text>
<text x="380.5" y="189.2" font-size="5.4" fill="#262626" stroke="#262626" stroke-width="0.18" text-anchor="middle">10<tspan dy="-2.1" font-size="4.21">5</tspan></text>
<text x="341.2" y="198.9" font-size="8.6" fill="#262626" text-anchor="middle" stroke="#262626" stroke-width="0.1" font-weight="bold" textLength="13.8" lengthAdjust="spacingAndGlyphs">CD28</text>
<text transform="translate(276.6,141.3) rotate(-90)" font-size="9.0" fill="#262626" text-anchor="middle" stroke="#262626" stroke-width="0.1" font-weight="bold" textLength="26.7" lengthAdjust="spacingAndGlyphs">8226 cells</text>
<rect x="394.90" y="106.60" width="95.10" height="72.30" fill="none" stroke="#111" stroke-width="1.3"/>
<clipPath id="k4"><rect x="395.54999999999995" y="107.25" width="93.80000000000003" height="72.50000000000001"/></clipPath>
<g clip-path="url(#k4)">
<polyline points="393.9,178.2 394.3,178.2 394.8,178.2 395.2,178.2 395.7,178.2 396.1,178.2 396.6,178.2 397.0,178.2 397.5,178.2 397.9,178.2 398.4,178.2 398.8,178.2 399.3,178.2 399.7,178.2 400.2,178.2 400.6,178.1 401.1,177.2 401.5,177.1 402.0,175.9 402.4,173.9 402.9,172.7 403.3,169.0 403.8,167.3 404.2,164.8 404.7,162.3 405.1,158.4 405.6,157.7 406.0,153.2 406.5,150.5 406.9,147.5 407.4,143.4 407.8,141.0 408.3,139.7 408.7,137.0 409.2,134.8 409.6,133.2 410.1,132.7 410.5,131.7 411.0,130.3 411.4,132.0 411.9,133.0 412.3,133.3 412.8,135.6 413.2,134.8 413.7,137.1 414.1,141.0 414.6,142.6 415.0,145.7 415.5,148.4 415.9,151.3 416.4,153.9 416.8,155.5 417.3,160.6 417.7,161.5 418.2,164.3 418.6,167.2 419.1,169.7 419.5,171.4 420.0,172.4 420.4,174.5 420.9,176.8 421.3,177.4 421.8,178.0 422.2,178.0 422.7,178.1 423.1,178.2 423.6,178.2 424.0,178.2 424.5,178.2 424.9,178.2 425.4,178.2 425.8,178.2 426.3,178.2 426.7,178.2 427.2,178.2 427.6,178.2 428.1,178.2 428.5,178.2 429.0,178.2 429.4,178.2 429.9,178.2 430.3,178.2 430.8,178.2 431.2,178.2 431.7,178.2 432.1,178.2 432.6,178.2 433.0,178.2 433.5,178.2 433.9,178.2 434.4,178.2 434.8,178.2 435.3,178.2 435.7,178.2 436.2,178.2 436.6,178.2 437.1,178.2 437.5,178.2 438.0,178.2 438.4,178.2 438.9,178.2 439.3,178.2 439.8,178.2 440.2,178.2 440.7,178.2 441.1,178.2 441.6,178.2 442.0,178.2 442.5,178.2 442.9,178.2 443.4,178.2 443.8,178.2 444.3,178.2 444.7,178.2 445.2,178.2 445.6,178.2 446.1,178.2 446.5,178.2 447.0,178.2 447.4,178.2 447.9,178.2 448.3,178.2 448.8,178.2 449.2,178.2 449.7,178.2 450.1,178.2 450.6,178.2 451.0,178.2 451.5,178.2 451.9,178.2 452.4,178.2 452.8,178.2 453.3,178.2 453.7,178.2 454.2,178.2 454.6,178.2 455.1,178.2 455.5,178.2 456.0,178.2 456.4,178.2 456.9,178.2 457.3,178.2 457.8,178.2 458.2,178.2 458.7,178.2 459.1,178.2 459.6,178.2 460.0,178.2 460.5,178.2 460.9,178.2 461.4,178.2 461.8,178.2 462.3,178.2 462.7,178.2 463.2,178.2 463.6,178.2 464.1,178.2 464.5,178.2 465.0,178.2 465.4,178.2 465.9,178.2 466.3,178.2 466.8,178.2 467.2,178.2 467.7,178.2 468.1,178.2 468.6,178.2 469.0,178.2 469.5,178.2 469.9,178.2 470.4,178.2 470.8,178.2 471.3,178.2 471.7,178.2 472.2,178.2 472.6,178.2 473.1,178.2 473.5,178.2 474.0,178.2 474.4,178.2 474.9,178.2 475.3,178.2 475.8,178.2 476.2,178.2 476.7,178.2 477.1,178.2 477.6,178.2 478.0,178.2 478.5,178.2 478.9,178.2 479.4,178.2 479.8,178.2 480.3,178.2 480.7,178.2 481.2,178.2 481.6,178.2 482.1,178.2 482.5,178.2 483.0,178.2 483.4,178.2 483.9,178.2 484.3,178.2 484.8,178.2 485.2,178.2 485.7,178.2 486.1,178.2 486.6,178.2 487.0,178.2 487.5,178.2 487.9,178.2 488.4,178.2 488.8,178.2 489.3,178.2 489.7,178.2 490.2,178.2 490.6,178.2" fill="none" stroke="#bdbdbd" stroke-width="1.1" stroke-linejoin="round" />
<polyline points="393.9,178.7 394.3,178.7 394.8,178.7 395.2,178.7 395.7,178.7 396.1,178.7 396.6,178.7 397.0,178.7 397.5,178.7 397.9,178.7 398.4,178.7 398.8,178.7 399.3,178.7 399.7,178.7 400.2,178.7 400.6,178.7 401.1,178.7 401.5,178.7 402.0,178.7 402.4,178.7 402.9,178.7 403.3,178.7 403.8,178.7 404.2,178.7 404.7,178.7 405.1,178.7 405.6,178.7 406.0,178.7 406.5,178.7 406.9,178.7 407.4,178.7 407.8,178.7 408.3,178.7 408.7,178.7 409.2,178.7 409.6,178.7 410.1,178.7 410.5,178.7 411.0,178.7 411.4,178.7 411.9,178.7 412.3,178.7 412.8,178.7 413.2,178.7 413.7,178.7 414.1,178.7 414.6,178.7 415.0,178.5 415.5,178.1 415.9,178.1 416.4,178.0 416.8,178.1 417.3,176.7 417.7,176.7 418.2,176.4 418.6,176.5 419.1,176.4 419.5,175.7 420.0,176.3 420.4,175.3 420.9,176.2 421.3,175.3 421.8,175.9 422.2,175.8 422.7,175.4 423.1,175.0 423.6,174.7 424.0,174.3 424.5,175.9 424.9,175.1 425.4,175.8 425.8,174.6 426.3,174.4 426.7,173.5 427.2,173.5 427.6,172.2 428.1,173.9 428.5,173.6 429.0,173.6 429.4,173.2 429.9,170.9 430.3,169.3 430.8,171.5 431.2,170.6 431.7,169.1 432.1,168.7 432.6,169.5 433.0,169.8 433.5,168.2 433.9,166.7 434.4,167.3 434.8,166.9 435.3,164.4 435.7,165.3 436.2,163.2 436.6,163.1 437.1,162.7 437.5,161.4 438.0,159.2 438.4,159.7 438.9,157.3 439.3,157.9 439.8,154.8 440.2,154.8 440.7,153.7 441.1,152.2 441.6,151.7 442.0,150.5 442.5,150.7 442.9,148.6 443.4,148.4 443.8,145.9 444.3,147.3 444.7,146.9 445.2,147.4 445.6,147.6 446.1,146.0 446.5,146.0 447.0,146.9 447.4,147.5 447.9,149.9 448.3,148.1 448.8,151.2 449.2,153.8 449.7,154.9 450.1,155.9 450.6,158.3 451.0,161.2 451.5,163.0 451.9,163.9 452.4,165.9 452.8,168.2 453.3,168.1 453.7,171.1 454.2,169.7 454.6,172.9 455.1,171.0 455.5,174.0 456.0,173.6 456.4,173.2 456.9,175.0 457.3,175.8 457.8,176.4 458.2,176.7 458.7,177.1 459.1,177.6 459.6,178.2 460.0,178.5 460.5,178.7 460.9,178.7 461.4,178.7 461.8,178.7 462.3,178.7 462.7,178.7 463.2,178.7 463.6,178.7 464.1,178.7 464.5,178.7 465.0,178.7 465.4,178.7 465.9,178.7 466.3,178.7 466.8,178.7 467.2,178.7 467.7,178.7 468.1,178.7 468.6,178.7 469.0,178.7 469.5,178.7 469.9,178.7 470.4,178.7 470.8,178.7 471.3,178.7 471.7,178.7 472.2,178.7 472.6,178.7 473.1,178.7 473.5,178.7 474.0,178.7 474.4,178.7 474.9,178.7 475.3,178.7 475.8,178.7 476.2,178.7 476.7,178.7 477.1,178.7 477.6,178.7 478.0,178.7 478.5,178.7 478.9,178.7 479.4,178.7 479.8,178.7 480.3,178.7 480.7,178.7 481.2,178.7 481.6,178.7 482.1,178.7 482.5,178.7 483.0,178.7 483.4,178.7 483.9,178.7 484.3,178.7 484.8,178.7 485.2,178.7 485.7,178.7 486.1,178.7 486.6,178.7 487.0,178.7 487.5,178.7 487.9,178.7 488.4,178.7 488.8,178.7 489.3,178.7 489.7,178.7 490.2,178.7 490.6,178.7" fill="none" stroke="#6db345" stroke-width="1.45" stroke-linejoin="round" />
<polyline points="393.9,178.7 394.3,178.7 394.8,178.7 395.2,178.7 395.7,178.7 396.1,178.7 396.6,178.7 397.0,178.7 397.5,178.7 397.9,178.7 398.4,178.7 398.8,178.7 399.3,178.7 399.7,178.7 400.2,178.7 400.6,178.7 401.1,178.7 401.5,178.7 402.0,178.7 402.4,178.7 402.9,178.7 403.3,178.7 403.8,178.7 404.2,178.7 404.7,178.7 405.1,178.7 405.6,178.7 406.0,178.7 406.5,178.7 406.9,178.7 407.4,178.7 407.8,178.7 408.3,178.7 408.7,178.7 409.2,178.7 409.6,178.7 410.1,178.7 410.5,178.7 411.0,178.7 411.4,178.7 411.9,178.7 412.3,178.7 412.8,178.7 413.2,178.7 413.7,178.7 414.1,178.7 414.6,178.7 415.0,178.6 415.5,178.4 415.9,178.1 416.4,177.8 416.8,177.6 417.3,177.6 417.7,177.1 418.2,176.4 418.6,177.0 419.1,176.5 419.5,176.4 420.0,176.4 420.4,176.4 420.9,176.7 421.3,176.3 421.8,175.9 422.2,175.4 422.7,175.1 423.1,175.6 423.6,176.1 424.0,175.3 424.5,175.0 424.9,175.3 425.4,173.9 425.8,174.4 426.3,174.8 426.7,174.8 427.2,173.8 427.6,174.0 428.1,173.7 428.5,173.8 429.0,172.0 429.4,173.0 429.9,171.0 430.3,169.7 430.8,170.9 431.2,170.2 431.7,171.1 432.1,170.5 432.6,168.5 433.0,169.6 433.5,167.7 433.9,167.8 434.4,167.1 434.8,166.8 435.3,166.7 435.7,166.0 436.2,165.0 436.6,164.5 437.1,163.6 437.5,161.9 438.0,160.9 438.4,160.2 438.9,159.9 439.3,158.4 439.8,159.4 440.2,155.9 440.7,154.6 441.1,154.9 441.6,154.2 442.0,152.3 442.5,151.4 442.9,150.9 443.4,148.8 443.8,147.0 444.3,147.1 444.7,147.9 445.2,146.0 445.6,147.3 446.1,147.7 446.5,147.6 447.0,148.8 447.4,149.1 447.9,151.0 448.3,150.5 448.8,150.7 449.2,152.2 449.7,153.9 450.1,157.2 450.6,158.0 451.0,160.2 451.5,162.5 451.9,162.9 452.4,164.8 452.8,165.1 453.3,167.1 453.7,168.7 454.2,170.4 454.6,171.9 455.1,171.8 455.5,172.8 456.0,173.4 456.4,174.7 456.9,175.2 457.3,175.4 457.8,175.2 458.2,176.8 458.7,177.0 459.1,177.8 459.6,177.8 460.0,178.7 460.5,178.6 460.9,178.7 461.4,178.7 461.8,178.7 462.3,178.7 462.7,178.7 463.2,178.7 463.6,178.7 464.1,178.7 464.5,178.7 465.0,178.7 465.4,178.7 465.9,178.7 466.3,178.7 466.8,178.7 467.2,178.7 467.7,178.7 468.1,178.7 468.6,178.7 469.0,178.7 469.5,178.7 469.9,178.7 470.4,178.7 470.8,178.7 471.3,178.7 471.7,178.7 472.2,178.7 472.6,178.7 473.1,178.7 473.5,178.7 474.0,178.7 474.4,178.7 474.9,178.7 475.3,178.7 475.8,178.7 476.2,178.7 476.7,178.7 477.1,178.7 477.6,178.7 478.0,178.7 478.5,178.7 478.9,178.7 479.4,178.7 479.8,178.7 480.3,178.7 480.7,178.7 481.2,178.7 481.6,178.7 482.1,178.7 482.5,178.7 483.0,178.7 483.4,178.7 483.9,178.7 484.3,178.7 484.8,178.7 485.2,178.7 485.7,178.7 486.1,178.7 486.6,178.7 487.0,178.7 487.5,178.7 487.9,178.7 488.4,178.7 488.8,178.7 489.3,178.7 489.7,178.7 490.2,178.7 490.6,178.7" fill="none" stroke="#4b5560" stroke-width="1.45" stroke-linejoin="round" />
<polyline points="393.9,178.7 394.3,178.7 394.8,178.7 395.2,178.7 395.7,178.7 396.1,178.7 396.6,178.7 397.0,178.7 397.5,178.7 397.9,178.7 398.4,178.7 398.8,178.7 399.3,178.5 399.7,178.3 400.2,178.5 400.6,178.2 401.1,178.2 401.5,178.2 402.0,177.8 402.4,177.5 402.9,177.6 403.3,178.0 403.8,178.2 404.2,177.9 404.7,177.4 405.1,178.2 405.6,177.3 406.0,177.7 406.5,177.6 406.9,177.9 407.4,178.1 407.8,177.3 408.3,177.7 408.7,177.8 409.2,177.4 409.6,177.7 410.1,177.8 410.5,177.3 411.0,177.3 411.4,177.6 411.9,177.6 412.3,177.7 412.8,178.3 413.2,177.8 413.7,177.6 414.1,177.2 414.6,177.7 415.0,176.9 415.5,177.7 415.9,177.4 416.4,175.9 416.8,176.0 417.3,176.3 417.7,175.9 418.2,175.2 418.6,175.0 419.1,175.8 419.5,174.8 420.0,173.9 420.4,174.4 420.9,174.9 421.3,175.1 421.8,173.7 422.2,173.1 422.7,172.5 423.1,172.4 423.6,172.9 424.0,173.1 424.5,172.8 424.9,171.3 425.4,171.8 425.8,171.4 426.3,170.7 426.7,168.1 427.2,169.6 427.6,169.0 428.1,169.8 428.5,168.1 429.0,168.3 429.4,167.7 429.9,168.0 430.3,167.2 430.8,166.9 431.2,166.8 431.7,165.9 432.1,165.2 432.6,163.9 433.0,163.6 433.5,164.6 433.9,162.4 434.4,162.2 434.8,161.2 435.3,160.5 435.7,158.0 436.2,161.1 436.6,158.4 437.1,158.3 437.5,159.5 438.0,156.2 438.4,157.7 438.9,156.9 439.3,155.7 439.8,157.5 440.2,156.4 440.7,157.0 441.1,157.0 441.6,158.1 442.0,159.7 442.5,157.5 442.9,159.6 443.4,159.1 443.8,160.3 444.3,160.2 444.7,162.0 445.2,163.7 445.6,165.7 446.1,166.2 446.5,167.3 447.0,168.1 447.4,167.2 447.9,170.1 448.3,169.4 448.8,170.8 449.2,170.7 449.7,171.7 450.1,172.6 450.6,170.9 451.0,174.8 451.5,174.0 451.9,175.2 452.4,175.2 452.8,175.6 453.3,175.4 453.7,176.3 454.2,175.8 454.6,177.0 455.1,177.8 455.5,176.7 456.0,177.2 456.4,177.4 456.9,178.0 457.3,178.1 457.8,177.9 458.2,178.1 458.7,178.2 459.1,178.5 459.6,178.7 460.0,178.7 460.5,178.7 460.9,178.7 461.4,178.7 461.8,178.7 462.3,178.7 462.7,178.7 463.2,178.7 463.6,178.7 464.1,178.7 464.5,178.7 465.0,178.7 465.4,178.7 465.9,178.7 466.3,178.7 466.8,178.7 467.2,178.7 467.7,178.7 468.1,178.7 468.6,178.7 469.0,178.7 469.5,178.7 469.9,178.7 470.4,178.7 470.8,178.7 471.3,178.7 471.7,178.7 472.2,178.7 472.6,178.7 473.1,178.7 473.5,178.7 474.0,178.7 474.4,178.7 474.9,178.7 475.3,178.7 475.8,178.7 476.2,178.7 476.7,178.7 477.1,178.7 477.6,178.7 478.0,178.7 478.5,178.7 478.9,178.7 479.4,178.7 479.8,178.7 480.3,178.7 480.7,178.7 481.2,178.7 481.6,178.7 482.1,178.7 482.5,178.7 483.0,178.7 483.4,178.7 483.9,178.7 484.3,178.7 484.8,178.7 485.2,178.7 485.7,178.7 486.1,178.7 486.6,178.7 487.0,178.7 487.5,178.7 487.9,178.7 488.4,178.7 488.8,178.7 489.3,178.7 489.7,178.7 490.2,178.7 490.6,178.7" fill="none" stroke="#a8173c" stroke-width="1.7" stroke-linejoin="round" />
</g>
<line x1="393.40" y1="174.38" x2="394.90" y2="174.38" stroke="#222" stroke-width="0.9" />
<line x1="393.40" y1="169.86" x2="394.90" y2="169.86" stroke="#222" stroke-width="0.9" />
<line x1="393.40" y1="165.34" x2="394.90" y2="165.34" stroke="#222" stroke-width="0.9" />
<line x1="392.30" y1="160.82" x2="394.90" y2="160.82" stroke="#222" stroke-width="0.9" />
<line x1="393.40" y1="156.31" x2="394.90" y2="156.31" stroke="#222" stroke-width="0.9" />
<line x1="393.40" y1="151.79" x2="394.90" y2="151.79" stroke="#222" stroke-width="0.9" />
<line x1="393.40" y1="147.27" x2="394.90" y2="147.27" stroke="#222" stroke-width="0.9" />
<line x1="392.30" y1="142.75" x2="394.90" y2="142.75" stroke="#222" stroke-width="0.9" />
<line x1="393.40" y1="138.23" x2="394.90" y2="138.23" stroke="#222" stroke-width="0.9" />
<line x1="393.40" y1="133.71" x2="394.90" y2="133.71" stroke="#222" stroke-width="0.9" />
<line x1="393.40" y1="129.19" x2="394.90" y2="129.19" stroke="#222" stroke-width="0.9" />
<line x1="392.30" y1="124.67" x2="394.90" y2="124.67" stroke="#222" stroke-width="0.9" />
<line x1="393.40" y1="120.16" x2="394.90" y2="120.16" stroke="#222" stroke-width="0.9" />
<line x1="393.40" y1="115.64" x2="394.90" y2="115.64" stroke="#222" stroke-width="0.9" />
<line x1="393.40" y1="111.12" x2="394.90" y2="111.12" stroke="#222" stroke-width="0.9" />
<line x1="396.53" y1="178.90" x2="396.53" y2="180.70" stroke="#222" stroke-width="0.9" />
<line x1="399.23" y1="178.90" x2="399.23" y2="180.70" stroke="#222" stroke-width="0.9" />
<line x1="401.92" y1="178.90" x2="401.92" y2="180.70" stroke="#222" stroke-width="0.9" />
<line x1="405.00" y1="178.90" x2="405.00" y2="181.50" stroke="#222" stroke-width="0.9" />
<line x1="408.08" y1="178.90" x2="408.08" y2="180.70" stroke="#222" stroke-width="0.9" />
<line x1="410.77" y1="178.90" x2="410.77" y2="180.70" stroke="#222" stroke-width="0.9" />
<line x1="413.47" y1="178.90" x2="413.47" y2="180.70" stroke="#222" stroke-width="0.9" />
<line x1="420.40" y1="178.90" x2="420.40" y2="180.50" stroke="#222" stroke-width="0.9" />
<line x1="428.10" y1="178.90" x2="428.10" y2="180.50" stroke="#222" stroke-width="0.9" />
<line x1="437.34" y1="178.90" x2="437.34" y2="181.50" stroke="#222" stroke-width="0.9" />
<line x1="444.06" y1="178.90" x2="444.06" y2="180.40" stroke="#222" stroke-width="0.9" />
<line x1="447.99" y1="178.90" x2="447.99" y2="180.40" stroke="#222" stroke-width="0.9" />
<line x1="450.78" y1="178.90" x2="450.78" y2="180.40" stroke="#222" stroke-width="0.9" />
<line x1="452.95" y1="178.90" x2="452.95" y2="180.40" stroke="#222" stroke-width="0.9" />
<line x1="454.72" y1="178.90" x2="454.72" y2="180.40" stroke="#222" stroke-width="0.9" />
<line x1="456.21" y1="178.90" x2="456.21" y2="180.40" stroke="#222" stroke-width="0.9" />
<line x1="457.51" y1="178.90" x2="457.51" y2="180.40" stroke="#222" stroke-width="0.9" />
<line x1="458.65" y1="178.90" x2="458.65" y2="180.40" stroke="#222" stroke-width="0.9" />
<line x1="459.67" y1="178.90" x2="459.67" y2="181.50" stroke="#222" stroke-width="0.9" />
<line x1="466.39" y1="178.90" x2="466.39" y2="180.40" stroke="#222" stroke-width="0.9" />
<line x1="470.32" y1="178.90" x2="470.32" y2="180.40" stroke="#222" stroke-width="0.9" />
<line x1="473.11" y1="178.90" x2="473.11" y2="180.40" stroke="#222" stroke-width="0.9" />
<line x1="475.28" y1="178.90" x2="475.28" y2="180.40" stroke="#222" stroke-width="0.9" />
<line x1="477.05" y1="178.90" x2="477.05" y2="180.40" stroke="#222" stroke-width="0.9" />
<line x1="478.54" y1="178.90" x2="478.54" y2="180.40" stroke="#222" stroke-width="0.9" />
<line x1="479.84" y1="178.90" x2="479.84" y2="180.40" stroke="#222" stroke-width="0.9" />
<line x1="480.98" y1="178.90" x2="480.98" y2="180.40" stroke="#222" stroke-width="0.9" />
<line x1="482.00" y1="178.90" x2="482.00" y2="181.50" stroke="#222" stroke-width="0.9" />
<text x="405.0" y="189.0" font-size="5.4" fill="#262626" text-anchor="middle" stroke="#262626" stroke-width="0.3">0</text>
<text x="481.5" y="189.2" font-size="5.4" fill="#262626" stroke="#262626" stroke-width="0.18" text-anchor="middle">10<tspan dy="-2.1" font-size="4.21">5</tspan></text>
<text x="442.2" y="198.9" font-size="8.6" fill="#262626" text-anchor="middle" stroke="#262626" stroke-width="0.1" font-weight="bold" textLength="14.1" lengthAdjust="spacingAndGlyphs">CD86</text>
<rect x="139.50" y="236.40" width="84.10" height="64.80" fill="none" stroke="#111" stroke-width="1.3"/>
<clipPath id="k5"><rect x="140.15" y="237.05" width="82.8" height="64.99999999999999"/></clipPath>
<g clip-path="url(#k5)">
<polyline points="138.5,300.5 138.9,300.5 139.4,300.5 139.8,300.5 140.3,300.5 140.7,300.5 141.2,300.5 141.6,300.5 142.1,300.5 142.5,300.5 143.0,300.5 143.4,300.5 143.9,300.5 144.3,300.5 144.8,300.3 145.2,299.7 145.7,299.1 146.1,297.6 146.6,295.8 147.0,292.2 147.5,292.3 147.9,290.1 148.4,287.3 148.8,284.1 149.3,281.0 149.7,278.8 150.2,275.3 150.6,270.5 151.1,265.5 151.5,262.4 152.0,260.0 152.4,254.5 152.9,253.1 153.3,248.9 153.8,246.8 154.2,247.2 154.7,242.8 155.1,242.1 155.6,240.9 156.0,242.9 156.5,242.6 156.9,244.6 157.4,247.0 157.8,248.5 158.3,252.6 158.7,253.2 159.2,255.7 159.6,259.6 160.1,262.0 160.5,265.3 161.0,268.2 161.4,272.4 161.9,276.6 162.3,279.0 162.8,282.6 163.2,285.0 163.7,287.5 164.1,291.2 164.6,291.4 165.0,293.3 165.5,295.3 165.9,296.9 166.4,299.0 166.8,300.0 167.3,300.2 167.7,300.4 168.2,300.5 168.6,300.5 169.1,300.5 169.5,300.5 170.0,300.5 170.4,300.5 170.9,300.5 171.3,300.5 171.8,300.5 172.2,300.5 172.7,300.5 173.1,300.5 173.6,300.5 174.0,300.5 174.5,300.5 174.9,300.5 175.4,300.5 175.8,300.5 176.3,300.5 176.7,300.5 177.2,300.5 177.6,300.5 178.1,300.5 178.5,300.5 179.0,300.5 179.4,300.5 179.9,300.5 180.3,300.5 180.8,300.5 181.2,300.5 181.7,300.5 182.1,300.5 182.6,300.5 183.0,300.5 183.5,300.5 183.9,300.5 184.4,300.5 184.8,300.5 185.3,300.5 185.7,300.5 186.2,300.5 186.6,300.5 187.1,300.5 187.5,300.5 188.0,300.5 188.4,300.5 188.9,300.5 189.3,300.5 189.8,300.5 190.2,300.5 190.7,300.5 191.1,300.5 191.6,300.5 192.0,300.5 192.5,300.5 192.9,300.5 193.4,300.5 193.8,300.5 194.3,300.5 194.7,300.5 195.2,300.5 195.6,300.5 196.1,300.5 196.5,300.5 197.0,300.5 197.4,300.5 197.9,300.5 198.3,300.5 198.8,300.5 199.2,300.5 199.7,300.5 200.1,300.5 200.6,300.5 201.0,300.5 201.5,300.5 201.9,300.5 202.4,300.5 202.8,300.5 203.3,300.5 203.7,300.5 204.2,300.5 204.6,300.5 205.1,300.5 205.5,300.5 206.0,300.5 206.4,300.5 206.9,300.5 207.3,300.5 207.8,300.5 208.2,300.5 208.7,300.5 209.1,300.5 209.6,300.5 210.0,300.5 210.5,300.5 210.9,300.5 211.4,300.5 211.8,300.5 212.3,300.5 212.7,300.5 213.2,300.5 213.6,300.5 214.1,300.5 214.5,300.5 215.0,300.5 215.4,300.5 215.9,300.5 216.3,300.5 216.8,300.5 217.2,300.5 217.7,300.5 218.1,300.5 218.6,300.5 219.0,300.5 219.5,300.5 219.9,300.5 220.4,300.5 220.8,300.5 221.3,300.5 221.7,300.5 222.2,300.5 222.6,300.5 223.1,300.5 223.5,300.5 224.0,300.5 224.4,300.5" fill="none" stroke="#bdbdbd" stroke-width="1.1" stroke-linejoin="round" />
<polyline points="138.5,301.0 138.9,301.0 139.4,301.0 139.8,301.0 140.3,301.0 140.7,301.0 141.2,301.0 141.6,301.0 142.1,301.0 142.5,301.0 143.0,301.0 143.4,301.0 143.9,301.0 144.3,301.0 144.8,301.0 145.2,301.0 145.7,301.0 146.1,301.0 146.6,301.0 147.0,301.0 147.5,301.0 147.9,301.0 148.4,301.0 148.8,301.0 149.3,301.0 149.7,301.0 150.2,301.0 150.6,301.0 151.1,301.0 151.5,301.0 152.0,301.0 152.4,301.0 152.9,301.0 153.3,301.0 153.8,301.0 154.2,301.0 154.7,301.0 155.1,301.0 155.6,301.0 156.0,301.0 156.5,301.0 156.9,301.0 157.4,301.0 157.8,301.0 158.3,301.0 158.7,301.0 159.2,301.0 159.6,301.0 160.1,301.0 160.5,301.0 161.0,301.0 161.4,301.0 161.9,301.0 162.3,301.0 162.8,301.0 163.2,301.0 163.7,301.0 164.1,301.0 164.6,301.0 165.0,301.0 165.5,301.0 165.9,301.0 166.4,301.0 166.8,301.0 167.3,301.0 167.7,301.0 168.2,301.0 168.6,301.0 169.1,300.8 169.5,300.4 170.0,300.2 170.4,299.4 170.9,298.9 171.3,296.9 171.8,296.6 172.2,295.0 172.7,292.4 173.1,292.8 173.6,289.6 174.0,287.2 174.5,286.3 174.9,284.2 175.4,282.6 175.8,282.0 176.3,279.2 176.7,279.2 177.2,275.7 177.6,275.1 178.1,273.4 178.5,270.6 179.0,271.4 179.4,270.8 179.9,270.5 180.3,267.6 180.8,269.0 181.2,268.5 181.7,265.8 182.1,266.2 182.6,266.4 183.0,262.8 183.5,264.5 183.9,261.5 184.4,263.6 184.8,265.2 185.3,264.2 185.7,266.4 186.2,265.8 186.6,268.2 187.1,269.1 187.5,270.5 188.0,268.8 188.4,268.8 188.9,266.9 189.3,265.3 189.8,265.6 190.2,266.2 190.7,267.0 191.1,270.1 191.6,270.9 192.0,274.2 192.5,276.7 192.9,277.7 193.4,280.5 193.8,282.6 194.3,283.4 194.7,288.5 195.2,289.0 195.6,292.1 196.1,290.7 196.5,296.6 197.0,296.6 197.4,297.4 197.9,298.9 198.3,300.2 198.8,299.8 199.2,300.8 199.7,301.0 200.1,301.0 200.6,301.0 201.0,301.0 201.5,301.0 201.9,301.0 202.4,301.0 202.8,301.0 203.3,301.0 203.7,301.0 204.2,301.0 204.6,301.0 205.1,301.0 205.5,301.0 206.0,301.0 206.4,301.0 206.9,301.0 207.3,301.0 207.8,301.0 208.2,301.0 208.7,301.0 209.1,301.0 209.6,301.0 210.0,301.0 210.5,301.0 210.9,301.0 211.4,301.0 211.8,301.0 212.3,301.0 212.7,301.0 213.2,301.0 213.6,301.0 214.1,301.0 214.5,301.0 215.0,301.0 215.4,301.0 215.9,301.0 216.3,301.0 216.8,301.0 217.2,301.0 217.7,301.0 218.1,301.0 218.6,301.0 219.0,301.0 219.5,301.0 219.9,301.0 220.4,301.0 220.8,301.0 221.3,301.0 221.7,301.0 222.2,301.0 222.6,301.0 223.1,301.0 223.5,301.0 224.0,301.0 224.4,301.0" fill="none" stroke="#6db345" stroke-width="1.45" stroke-linejoin="round" />
<polyline points="138.5,301.0 138.9,301.0 139.4,301.0 139.8,301.0 140.3,301.0 140.7,301.0 141.2,301.0 141.6,301.0 142.1,301.0 142.5,301.0 143.0,301.0 143.4,301.0 143.9,301.0 144.3,301.0 144.8,301.0 145.2,301.0 145.7,301.0 146.1,301.0 146.6,301.0 147.0,301.0 147.5,301.0 147.9,301.0 148.4,301.0 148.8,301.0 149.3,301.0 149.7,301.0 150.2,301.0 150.6,301.0 151.1,301.0 151.5,301.0 152.0,301.0 152.4,301.0 152.9,301.0 153.3,301.0 153.8,301.0 154.2,301.0 154.7,301.0 155.1,301.0 155.6,301.0 156.0,301.0 156.5,301.0 156.9,301.0 157.4,301.0 157.8,301.0 158.3,301.0 158.7,301.0 159.2,301.0 159.6,301.0 160.1,301.0 160.5,301.0 161.0,301.0 161.4,301.0 161.9,301.0 162.3,301.0 162.8,301.0 163.2,301.0 163.7,301.0 164.1,301.0 164.6,301.0 165.0,301.0 165.5,301.0 165.9,301.0 166.4,301.0 166.8,301.0 167.3,301.0 167.7,301.0 168.2,301.0 168.6,301.0 169.1,300.9 169.5,300.7 170.0,300.3 170.4,299.5 170.9,298.6 171.3,296.9 171.8,297.3 172.2,295.0 172.7,294.4 173.1,292.4 173.6,292.1 174.0,289.7 174.5,288.6 174.9,287.3 175.4,284.6 175.8,282.7 176.3,280.8 176.7,279.2 177.2,277.9 177.6,276.1 178.1,274.6 178.5,274.1 179.0,272.5 179.4,270.5 179.9,271.7 180.3,268.2 180.8,270.6 181.2,266.9 181.7,266.4 182.1,266.4 182.6,267.2 183.0,265.1 183.5,266.1 183.9,265.8 184.4,264.2 184.8,264.6 185.3,265.6 185.7,266.3 186.2,266.7 186.6,267.1 187.1,269.1 187.5,269.4 188.0,270.1 188.4,269.5 188.9,268.0 189.3,266.9 189.8,266.6 190.2,267.2 190.7,268.0 191.1,269.4 191.6,271.7 192.0,273.8 192.5,274.6 192.9,278.1 193.4,278.2 193.8,281.9 194.3,283.5 194.7,284.2 195.2,289.3 195.6,292.1 196.1,293.5 196.5,293.2 197.0,294.4 197.4,298.1 197.9,298.8 198.3,299.1 198.8,299.8 199.2,300.1 199.7,300.8 200.1,301.0 200.6,301.0 201.0,301.0 201.5,301.0 201.9,301.0 202.4,301.0 202.8,301.0 203.3,301.0 203.7,301.0 204.2,301.0 204.6,301.0 205.1,301.0 205.5,301.0 206.0,301.0 206.4,301.0 206.9,301.0 207.3,301.0 207.8,301.0 208.2,301.0 208.7,301.0 209.1,301.0 209.6,301.0 210.0,301.0 210.5,301.0 210.9,301.0 211.4,301.0 211.8,301.0 212.3,301.0 212.7,301.0 213.2,301.0 213.6,301.0 214.1,301.0 214.5,301.0 215.0,301.0 215.4,301.0 215.9,301.0 216.3,301.0 216.8,301.0 217.2,301.0 217.7,301.0 218.1,301.0 218.6,301.0 219.0,301.0 219.5,301.0 219.9,301.0 220.4,301.0 220.8,301.0 221.3,301.0 221.7,301.0 222.2,301.0 222.6,301.0 223.1,301.0 223.5,301.0 224.0,301.0 224.4,301.0" fill="none" stroke="#4b5560" stroke-width="1.45" stroke-linejoin="round" />
<polyline points="138.5,301.0 138.9,301.0 139.4,301.0 139.8,301.0 140.3,301.0 140.7,301.0 141.2,301.0 141.6,301.0 142.1,301.0 142.5,301.0 143.0,301.0 143.4,301.0 143.9,301.0 144.3,301.0 144.8,301.0 145.2,301.0 145.7,301.0 146.1,301.0 146.6,301.0 147.0,301.0 147.5,301.0 147.9,301.0 148.4,301.0 148.8,301.0 149.3,301.0 149.7,301.0 150.2,301.0 150.6,301.0 151.1,301.0 151.5,301.0 152.0,301.0 152.4,301.0 152.9,301.0 153.3,301.0 153.8,301.0 154.2,301.0 154.7,301.0 155.1,301.0 155.6,301.0 156.0,301.0 156.5,301.0 156.9,301.0 157.4,301.0 157.8,301.0 158.3,301.0 158.7,301.0 159.2,301.0 159.6,301.0 160.1,301.0 160.5,301.0 161.0,301.0 161.4,301.0 161.9,301.0 162.3,301.0 162.8,301.0 163.2,301.0 163.7,301.0 164.1,301.0 164.6,301.0 165.0,301.0 165.5,301.0 165.9,301.0 166.4,301.0 166.8,301.0 167.3,301.0 167.7,301.0 168.2,301.0 168.6,301.0 169.1,301.0 169.5,301.0 170.0,301.0 170.4,301.0 170.9,300.8 171.3,300.1 171.8,299.4 172.2,298.5 172.7,298.5 173.1,298.0 173.6,296.0 174.0,295.1 174.5,292.8 174.9,292.9 175.4,291.4 175.8,291.4 176.3,291.0 176.7,287.0 177.2,284.7 177.6,283.4 178.1,281.0 178.5,279.1 179.0,278.4 179.4,276.1 179.9,274.7 180.3,271.5 180.8,271.0 181.2,269.1 181.7,269.3 182.1,267.4 182.6,266.2 183.0,265.3 183.5,265.1 183.9,264.1 184.4,263.8 184.8,264.3 185.3,265.7 185.7,266.4 186.2,265.8 186.6,266.6 187.1,269.4 187.5,270.1 188.0,271.9 188.4,273.1 188.9,273.8 189.3,275.6 189.8,277.3 190.2,278.2 190.7,279.5 191.1,283.4 191.6,284.6 192.0,285.4 192.5,287.9 192.9,289.0 193.4,291.2 193.8,292.9 194.3,294.5 194.7,294.6 195.2,296.3 195.6,295.8 196.1,296.7 196.5,297.6 197.0,299.1 197.4,299.9 197.9,300.2 198.3,300.7 198.8,300.9 199.2,301.0 199.7,301.0 200.1,301.0 200.6,301.0 201.0,301.0 201.5,301.0 201.9,301.0 202.4,301.0 202.8,301.0 203.3,301.0 203.7,301.0 204.2,301.0 204.6,301.0 205.1,301.0 205.5,301.0 206.0,301.0 206.4,301.0 206.9,301.0 207.3,301.0 207.8,301.0 208.2,301.0 208.7,301.0 209.1,301.0 209.6,301.0 210.0,301.0 210.5,301.0 210.9,301.0 211.4,301.0 211.8,301.0 212.3,301.0 212.7,301.0 213.2,301.0 213.6,301.0 214.1,301.0 214.5,301.0 215.0,301.0 215.4,301.0 215.9,301.0 216.3,301.0 216.8,301.0 217.2,301.0 217.7,301.0 218.1,301.0 218.6,301.0 219.0,301.0 219.5,301.0 219.9,301.0 220.4,301.0 220.8,301.0 221.3,301.0 221.7,301.0 222.2,301.0 222.6,301.0 223.1,301.0 223.5,301.0 224.0,301.0 224.4,301.0" fill="none" stroke="#a8173c" stroke-width="1.7" stroke-linejoin="round" />
</g>
<line x1="138.00" y1="295.80" x2="139.50" y2="295.80" stroke="#222" stroke-width="0.9" />
<line x1="138.00" y1="290.40" x2="139.50" y2="290.40" stroke="#222" stroke-width="0.9" />
<line x1="138.00" y1="285.00" x2="139.50" y2="285.00" stroke="#222" stroke-width="0.9" />
<line x1="136.90" y1="279.60" x2="139.50" y2="279.60" stroke="#222" stroke-width="0.9" />
<line x1="138.00" y1="274.20" x2="139.50" y2="274.20" stroke="#222" stroke-width="0.9" />
<line x1="138.00" y1="268.80" x2="139.50" y2="268.80" stroke="#222" stroke-width="0.9" />
<line x1="138.00" y1="263.40" x2="139.50" y2="263.40" stroke="#222" stroke-width="0.9" />
<line x1="136.90" y1="258.00" x2="139.50" y2="258.00" stroke="#222" stroke-width="0.9" />
<line x1="138.00" y1="252.60" x2="139.50" y2="252.60" stroke="#222" stroke-width="0.9" />
<line x1="138.00" y1="247.20" x2="139.50" y2="247.20" stroke="#222" stroke-width="0.9" />
<line x1="138.00" y1="241.80" x2="139.50" y2="241.80" stroke="#222" stroke-width="0.9" />
<line x1="141.10" y1="301.20" x2="141.10" y2="303.00" stroke="#222" stroke-width="0.9" />
<line x1="143.55" y1="301.20" x2="143.55" y2="303.00" stroke="#222" stroke-width="0.9" />
<line x1="146.00" y1="301.20" x2="146.00" y2="303.00" stroke="#222" stroke-width="0.9" />
<line x1="148.80" y1="301.20" x2="148.80" y2="303.80" stroke="#222" stroke-width="0.9" />
<line x1="151.60" y1="301.20" x2="151.60" y2="303.00" stroke="#222" stroke-width="0.9" />
<line x1="154.05" y1="301.20" x2="154.05" y2="303.00" stroke="#222" stroke-width="0.9" />
<line x1="156.50" y1="301.20" x2="156.50" y2="303.00" stroke="#222" stroke-width="0.9" />
<line x1="162.80" y1="301.20" x2="162.80" y2="302.80" stroke="#222" stroke-width="0.9" />
<line x1="169.80" y1="301.20" x2="169.80" y2="302.80" stroke="#222" stroke-width="0.9" />
<line x1="178.20" y1="301.20" x2="178.20" y2="303.80" stroke="#222" stroke-width="0.9" />
<line x1="184.31" y1="301.20" x2="184.31" y2="302.70" stroke="#222" stroke-width="0.9" />
<line x1="187.89" y1="301.20" x2="187.89" y2="302.70" stroke="#222" stroke-width="0.9" />
<line x1="190.42" y1="301.20" x2="190.42" y2="302.70" stroke="#222" stroke-width="0.9" />
<line x1="192.39" y1="301.20" x2="192.39" y2="302.70" stroke="#222" stroke-width="0.9" />
<line x1="194.00" y1="301.20" x2="194.00" y2="302.70" stroke="#222" stroke-width="0.9" />
<line x1="195.36" y1="301.20" x2="195.36" y2="302.70" stroke="#222" stroke-width="0.9" />
<line x1="196.53" y1="301.20" x2="196.53" y2="302.70" stroke="#222" stroke-width="0.9" />
<line x1="197.57" y1="301.20" x2="197.57" y2="302.70" stroke="#222" stroke-width="0.9" />
<line x1="198.50" y1="301.20" x2="198.50" y2="303.80" stroke="#222" stroke-width="0.9" />
<line x1="204.61" y1="301.20" x2="204.61" y2="302.70" stroke="#222" stroke-width="0.9" />
<line x1="208.19" y1="301.20" x2="208.19" y2="302.70" stroke="#222" stroke-width="0.9" />
<line x1="210.72" y1="301.20" x2="210.72" y2="302.70" stroke="#222" stroke-width="0.9" />
<line x1="212.69" y1="301.20" x2="212.69" y2="302.70" stroke="#222" stroke-width="0.9" />
<line x1="214.30" y1="301.20" x2="214.30" y2="302.70" stroke="#222" stroke-width="0.9" />
<line x1="215.66" y1="301.20" x2="215.66" y2="302.70" stroke="#222" stroke-width="0.9" />
<line x1="216.83" y1="301.20" x2="216.83" y2="302.70" stroke="#222" stroke-width="0.9" />
<line x1="217.87" y1="301.20" x2="217.87" y2="302.70" stroke="#222" stroke-width="0.9" />
<line x1="218.80" y1="301.20" x2="218.80" y2="303.80" stroke="#222" stroke-width="0.9" />
<text x="133.3" y="238.20000000000002" font-size="6.1" fill="#262626" text-anchor="end" stroke="#262626" stroke-width="0.3" textLength="10.6" lengthAdjust="spacingAndGlyphs">300</text>
<text x="133.3" y="303.40000000000003" font-size="6.1" fill="#262626" text-anchor="end" stroke="#262626" stroke-width="0.3">0</text>
<rect x="233.20" y="235.90" width="83.80" height="65.70" fill="none" stroke="#111" stroke-width="1.3"/>
<clipPath id="k6"><rect x="233.85" y="236.55" width="82.50000000000001" height="65.90000000000002"/></clipPath>
<g clip-path="url(#k6)">
<polyline points="232.2,300.9 232.6,300.9 233.1,300.9 233.5,300.9 234.0,300.9 234.4,300.8 234.9,300.5 235.3,299.7 235.8,299.6 236.2,297.9 236.7,298.1 237.1,295.2 237.6,294.7 238.0,294.4 238.5,291.2 238.9,291.5 239.4,288.6 239.8,288.4 240.3,287.5 240.7,285.5 241.2,285.3 241.6,283.8 242.1,281.0 242.5,279.8 243.0,278.6 243.4,275.9 243.9,274.5 244.3,273.1 244.8,272.9 245.2,270.9 245.7,270.1 246.1,270.1 246.6,269.0 247.0,268.7 247.5,267.0 247.9,266.0 248.4,266.0 248.8,264.5 249.3,266.1 249.7,265.0 250.2,264.9 250.6,264.2 251.1,263.8 251.5,264.9 252.0,264.9 252.4,266.0 252.9,267.0 253.3,268.1 253.8,270.8 254.2,270.6 254.7,274.6 255.1,275.4 255.6,277.4 256.0,279.4 256.5,281.8 256.9,284.5 257.4,287.1 257.8,288.1 258.3,291.2 258.7,293.2 259.2,293.2 259.6,293.2 260.1,295.4 260.5,297.2 261.0,298.2 261.4,299.2 261.9,298.1 262.3,298.0 262.8,298.9 263.2,298.8 263.7,299.7 264.1,299.8 264.6,299.8 265.0,300.1 265.5,300.0 265.9,300.0 266.4,300.5 266.8,300.7 267.3,300.8 267.7,300.9 268.2,300.9 268.6,300.9 269.1,300.9 269.5,300.9 270.0,300.9 270.4,300.9 270.9,300.9 271.3,300.9 271.8,300.9 272.2,300.9 272.7,300.9 273.1,300.9 273.6,300.9 274.0,300.9 274.5,300.9 274.9,300.9 275.4,300.9 275.8,300.9 276.3,300.9 276.7,300.9 277.2,300.9 277.6,300.9 278.1,300.9 278.5,300.9 279.0,300.9 279.4,300.9 279.9,300.9 280.3,300.9 280.8,300.9 281.2,300.9 281.7,300.9 282.1,300.9 282.6,300.9 283.0,300.9 283.5,300.9 283.9,300.9 284.4,300.9 284.8,300.9 285.3,300.9 285.7,300.9 286.2,300.9 286.6,300.9 287.1,300.9 287.5,300.9 288.0,300.9 288.4,300.9 288.9,300.9 289.3,300.9 289.8,300.9 290.2,300.9 290.7,300.9 291.1,300.9 291.6,300.9 292.0,300.9 292.5,300.9 292.9,300.9 293.4,300.9 293.8,300.9 294.3,300.9 294.7,300.9 295.2,300.9 295.6,300.9 296.1,300.9 296.5,300.9 297.0,300.9 297.4,300.9 297.9,300.9 298.3,300.9 298.8,300.9 299.2,300.9 299.7,300.9 300.1,300.9 300.6,300.9 301.0,300.9 301.5,300.9 301.9,300.9 302.4,300.9 302.8,300.9 303.3,300.9 303.7,300.9 304.2,300.9 304.6,300.9 305.1,300.9 305.5,300.9 306.0,300.9 306.4,300.9 306.9,300.9 307.3,300.9 307.8,300.9 308.2,300.9 308.7,300.9 309.1,300.9 309.6,300.9 310.0,300.9 310.5,300.9 310.9,300.9 311.4,300.9 311.8,300.9 312.3,300.9 312.7,300.9 313.2,300.9 313.6,300.9 314.1,300.9 314.5,300.9 315.0,300.9 315.4,300.9 315.9,300.9 316.3,300.9 316.8,300.9 317.2,300.9 317.7,300.9" fill="none" stroke="#bdbdbd" stroke-width="1.1" stroke-linejoin="round" />
<polyline points="232.2,301.4 232.6,301.4 233.1,301.4 233.5,301.4 234.0,301.3 234.4,301.1 234.9,300.4 235.3,300.4 235.8,300.2 236.2,299.4 236.7,299.3 237.1,300.1 237.6,298.7 238.0,299.1 238.5,298.6 238.9,299.2 239.4,299.2 239.8,299.4 240.3,299.3 240.7,297.9 241.2,298.0 241.6,297.9 242.1,297.9 242.5,298.2 243.0,297.9 243.4,297.2 243.9,297.1 244.3,299.4 244.8,296.1 245.2,298.7 245.7,295.7 246.1,295.5 246.6,295.8 247.0,295.5 247.5,295.4 247.9,294.5 248.4,294.4 248.8,294.7 249.3,294.8 249.7,293.9 250.2,294.1 250.6,292.8 251.1,294.1 251.5,289.2 252.0,290.8 252.4,290.7 252.9,289.7 253.3,289.4 253.8,288.6 254.2,288.7 254.7,286.5 255.1,285.7 255.6,284.1 256.0,284.2 256.5,282.9 256.9,282.7 257.4,281.2 257.8,280.9 258.3,279.2 258.7,277.7 259.2,277.3 259.6,276.4 260.1,277.0 260.5,275.2 261.0,274.9 261.4,274.7 261.9,273.6 262.3,272.1 262.8,271.7 263.2,268.5 263.7,270.1 264.1,267.6 264.6,265.6 265.0,266.8 265.5,265.1 265.9,263.5 266.4,265.5 266.8,266.5 267.3,266.1 267.7,266.5 268.2,268.8 268.6,271.1 269.1,269.7 269.5,271.1 270.0,271.7 270.4,273.4 270.9,274.3 271.3,275.7 271.8,275.9 272.2,277.7 272.7,280.3 273.1,278.5 273.6,280.9 274.0,282.4 274.5,283.6 274.9,285.1 275.4,286.5 275.8,288.5 276.3,289.1 276.7,290.7 277.2,291.9 277.6,293.8 278.1,292.4 278.5,295.9 279.0,295.2 279.4,296.6 279.9,297.7 280.3,297.6 280.8,299.0 281.2,299.3 281.7,300.0 282.1,300.4 282.6,300.0 283.0,301.4 283.5,301.2 283.9,301.3 284.4,301.4 284.8,301.4 285.3,301.4 285.7,301.4 286.2,301.4 286.6,301.4 287.1,301.4 287.5,301.4 288.0,301.4 288.4,301.4 288.9,301.4 289.3,301.4 289.8,301.4 290.2,301.4 290.7,301.4 291.1,301.4 291.6,301.4 292.0,301.4 292.5,301.4 292.9,301.4 293.4,301.4 293.8,301.4 294.3,301.4 294.7,301.4 295.2,301.4 295.6,301.4 296.1,301.4 296.5,301.4 297.0,301.4 297.4,301.4 297.9,301.4 298.3,301.4 298.8,301.4 299.2,301.4 299.7,301.4 300.1,301.4 300.6,301.4 301.0,301.4 301.5,301.4 301.9,301.4 302.4,301.4 302.8,301.4 303.3,301.4 303.7,301.4 304.2,301.4 304.6,301.4 305.1,301.4 305.5,301.4 306.0,301.4 306.4,301.4 306.9,301.4 307.3,301.4 307.8,301.4 308.2,301.4 308.7,301.4 309.1,301.4 309.6,301.4 310.0,301.4 310.5,301.4 310.9,301.4 311.4,301.4 311.8,301.4 312.3,301.4 312.7,301.4 313.2,301.4 313.6,301.4 314.1,301.4 314.5,301.4 315.0,301.4 315.4,301.4 315.9,301.4 316.3,301.4 316.8,301.4 317.2,301.4 317.7,301.4" fill="none" stroke="#6db345" stroke-width="1.45" stroke-linejoin="round" />
<polyline points="232.2,301.4 232.6,301.4 233.1,301.4 233.5,301.4 234.0,301.3 234.4,301.1 234.9,300.9 235.3,300.3 235.8,300.4 236.2,299.8 236.7,298.7 237.1,299.7 237.6,299.0 238.0,299.7 238.5,299.8 238.9,300.2 239.4,299.3 239.8,298.8 240.3,299.2 240.7,299.1 241.2,297.6 241.6,298.4 242.1,298.0 242.5,299.0 243.0,298.4 243.4,298.5 243.9,298.7 244.3,298.2 244.8,296.7 245.2,297.0 245.7,297.7 246.1,296.6 246.6,296.1 247.0,297.1 247.5,296.7 247.9,295.5 248.4,295.1 248.8,295.9 249.3,294.4 249.7,293.6 250.2,294.5 250.6,294.7 251.1,292.0 251.5,292.0 252.0,292.7 252.4,291.5 252.9,291.4 253.3,290.5 253.8,291.5 254.2,287.0 254.7,288.2 255.1,286.2 255.6,284.3 256.0,284.4 256.5,283.9 256.9,284.3 257.4,282.5 257.8,281.1 258.3,280.2 258.7,280.3 259.2,279.7 259.6,277.4 260.1,277.7 260.5,276.8 261.0,275.7 261.4,274.8 261.9,274.1 262.3,273.0 262.8,272.0 263.2,271.9 263.7,270.9 264.1,269.9 264.6,268.4 265.0,269.3 265.5,267.8 265.9,270.2 266.4,269.5 266.8,267.2 267.3,269.5 267.7,267.4 268.2,267.5 268.6,269.2 269.1,270.5 269.5,271.8 270.0,274.2 270.4,272.5 270.9,274.2 271.3,276.0 271.8,276.3 272.2,278.6 272.7,279.1 273.1,280.9 273.6,281.6 274.0,282.3 274.5,283.7 274.9,283.9 275.4,286.5 275.8,287.8 276.3,288.8 276.7,289.9 277.2,291.2 277.6,293.9 278.1,293.8 278.5,295.3 279.0,296.4 279.4,295.7 279.9,297.4 280.3,298.0 280.8,297.2 281.2,299.2 281.7,299.1 282.1,299.8 282.6,300.5 283.0,300.5 283.5,300.8 283.9,301.2 284.4,301.4 284.8,301.4 285.3,301.4 285.7,301.4 286.2,301.4 286.6,301.4 287.1,301.4 287.5,301.4 288.0,301.4 288.4,301.4 288.9,301.4 289.3,301.4 289.8,301.4 290.2,301.4 290.7,301.4 291.1,301.4 291.6,301.4 292.0,301.4 292.5,301.4 292.9,301.4 293.4,301.4 293.8,301.4 294.3,301.4 294.7,301.4 295.2,301.4 295.6,301.4 296.1,301.4 296.5,301.4 297.0,301.4 297.4,301.4 297.9,301.4 298.3,301.4 298.8,301.4 299.2,301.4 299.7,301.4 300.1,301.4 300.6,301.4 301.0,301.4 301.5,301.4 301.9,301.4 302.4,301.4 302.8,301.4 303.3,301.4 303.7,301.4 304.2,301.4 304.6,301.4 305.1,301.4 305.5,301.4 306.0,301.4 306.4,301.4 306.9,301.4 307.3,301.4 307.8,301.4 308.2,301.4 308.7,301.4 309.1,301.4 309.6,301.4 310.0,301.4 310.5,301.4 310.9,301.4 311.4,301.4 311.8,301.4 312.3,301.4 312.7,301.4 313.2,301.4 313.6,301.4 314.1,301.4 314.5,301.4 315.0,301.4 315.4,301.4 315.9,301.4 316.3,301.4 316.8,301.4 317.2,301.4 317.7,301.4" fill="none" stroke="#4b5560" stroke-width="1.45" stroke-linejoin="round" />
<polyline points="232.2,301.4 232.6,301.4 233.1,301.4 233.5,301.4 234.0,301.4 234.4,301.2 234.9,301.0 235.3,300.6 235.8,300.7 236.2,300.8 236.7,300.1 237.1,300.8 237.6,300.5 238.0,300.3 238.5,300.1 238.9,300.5 239.4,300.1 239.8,300.1 240.3,299.2 240.7,299.9 241.2,300.6 241.6,299.9 242.1,299.3 242.5,299.4 243.0,300.2 243.4,300.5 243.9,299.2 244.3,299.9 244.8,298.7 245.2,299.4 245.7,299.9 246.1,298.4 246.6,299.4 247.0,298.6 247.5,298.9 247.9,298.9 248.4,298.6 248.8,298.2 249.3,298.8 249.7,298.5 250.2,297.9 250.6,296.3 251.1,296.7 251.5,295.8 252.0,295.7 252.4,295.8 252.9,296.6 253.3,295.1 253.8,295.8 254.2,294.6 254.7,294.6 255.1,295.2 255.6,293.1 256.0,292.1 256.5,290.9 256.9,291.3 257.4,290.8 257.8,291.0 258.3,288.2 258.7,286.2 259.2,287.2 259.6,286.2 260.1,285.0 260.5,283.6 261.0,283.9 261.4,281.8 261.9,282.4 262.3,280.5 262.8,280.2 263.2,279.6 263.7,277.5 264.1,277.4 264.6,276.0 265.0,275.2 265.5,275.7 265.9,274.8 266.4,273.4 266.8,273.0 267.3,273.0 267.7,271.6 268.2,273.4 268.6,271.5 269.1,272.5 269.5,272.2 270.0,273.1 270.4,274.6 270.9,276.5 271.3,275.7 271.8,276.5 272.2,276.5 272.7,278.0 273.1,281.2 273.6,281.5 274.0,279.3 274.5,280.4 274.9,282.4 275.4,284.4 275.8,285.9 276.3,287.1 276.7,286.3 277.2,287.8 277.6,289.2 278.1,288.4 278.5,292.3 279.0,292.3 279.4,290.2 279.9,293.8 280.3,293.5 280.8,294.8 281.2,294.7 281.7,296.2 282.1,297.4 282.6,297.2 283.0,298.2 283.5,299.7 283.9,299.1 284.4,300.4 284.8,300.9 285.3,301.2 285.7,301.3 286.2,301.4 286.6,301.4 287.1,301.4 287.5,301.4 288.0,301.4 288.4,301.4 288.9,301.4 289.3,301.4 289.8,301.4 290.2,301.4 290.7,301.4 291.1,301.4 291.6,301.4 292.0,301.4 292.5,301.4 292.9,301.4 293.4,301.4 293.8,301.4 294.3,301.4 294.7,301.4 295.2,301.4 295.6,301.4 296.1,301.4 296.5,301.4 297.0,301.4 297.4,301.4 297.9,301.4 298.3,301.4 298.8,301.4 299.2,301.4 299.7,301.4 300.1,301.4 300.6,301.4 301.0,301.4 301.5,301.4 301.9,301.4 302.4,301.4 302.8,301.4 303.3,301.4 303.7,301.4 304.2,301.4 304.6,301.4 305.1,301.4 305.5,301.4 306.0,301.4 306.4,301.4 306.9,301.4 307.3,301.4 307.8,301.4 308.2,301.4 308.7,301.4 309.1,301.4 309.6,301.4 310.0,301.4 310.5,301.4 310.9,301.4 311.4,301.4 311.8,301.4 312.3,301.4 312.7,301.4 313.2,301.4 313.6,301.4 314.1,301.4 314.5,301.4 315.0,301.4 315.4,301.4 315.9,301.4 316.3,301.4 316.8,301.4 317.2,301.4 317.7,301.4" fill="none" stroke="#233f7c" stroke-width="1.7" stroke-linejoin="round" />
</g>
<line x1="231.70" y1="296.12" x2="233.20" y2="296.12" stroke="#222" stroke-width="0.9" />
<line x1="231.70" y1="290.65" x2="233.20" y2="290.65" stroke="#222" stroke-width="0.9" />
<line x1="231.70" y1="285.18" x2="233.20" y2="285.18" stroke="#222" stroke-width="0.9" />
<line x1="230.60" y1="279.70" x2="233.20" y2="279.70" stroke="#222" stroke-width="0.9" />
<line x1="231.70" y1="274.23" x2="233.20" y2="274.23" stroke="#222" stroke-width="0.9" />
<line x1="231.70" y1="268.75" x2="233.20" y2="268.75" stroke="#222" stroke-width="0.9" />
<line x1="231.70" y1="263.28" x2="233.20" y2="263.28" stroke="#222" stroke-width="0.9" />
<line x1="230.60" y1="257.80" x2="233.20" y2="257.80" stroke="#222" stroke-width="0.9" />
<line x1="231.70" y1="252.33" x2="233.20" y2="252.33" stroke="#222" stroke-width="0.9" />
<line x1="231.70" y1="246.85" x2="233.20" y2="246.85" stroke="#222" stroke-width="0.9" />
<line x1="231.70" y1="241.38" x2="233.20" y2="241.38" stroke="#222" stroke-width="0.9" />
<line x1="236.69" y1="301.60" x2="236.69" y2="303.40" stroke="#222" stroke-width="0.9" />
<line x1="239.11" y1="301.60" x2="239.11" y2="303.40" stroke="#222" stroke-width="0.9" />
<line x1="241.53" y1="301.60" x2="241.53" y2="303.40" stroke="#222" stroke-width="0.9" />
<line x1="244.30" y1="301.60" x2="244.30" y2="304.20" stroke="#222" stroke-width="0.9" />
<line x1="247.07" y1="301.60" x2="247.07" y2="303.40" stroke="#222" stroke-width="0.9" />
<line x1="249.49" y1="301.60" x2="249.49" y2="303.40" stroke="#222" stroke-width="0.9" />
<line x1="251.91" y1="301.60" x2="251.91" y2="303.40" stroke="#222" stroke-width="0.9" />
<line x1="258.14" y1="301.60" x2="258.14" y2="303.20" stroke="#222" stroke-width="0.9" />
<line x1="265.06" y1="301.60" x2="265.06" y2="303.20" stroke="#222" stroke-width="0.9" />
<line x1="273.36" y1="301.60" x2="273.36" y2="304.20" stroke="#222" stroke-width="0.9" />
<line x1="279.41" y1="301.60" x2="279.41" y2="303.10" stroke="#222" stroke-width="0.9" />
<line x1="282.94" y1="301.60" x2="282.94" y2="303.10" stroke="#222" stroke-width="0.9" />
<line x1="285.45" y1="301.60" x2="285.45" y2="303.10" stroke="#222" stroke-width="0.9" />
<line x1="287.39" y1="301.60" x2="287.39" y2="303.10" stroke="#222" stroke-width="0.9" />
<line x1="288.98" y1="301.60" x2="288.98" y2="303.10" stroke="#222" stroke-width="0.9" />
<line x1="290.32" y1="301.60" x2="290.32" y2="303.10" stroke="#222" stroke-width="0.9" />
<line x1="291.49" y1="301.60" x2="291.49" y2="303.10" stroke="#222" stroke-width="0.9" />
<line x1="292.51" y1="301.60" x2="292.51" y2="303.10" stroke="#222" stroke-width="0.9" />
<line x1="293.43" y1="301.60" x2="293.43" y2="304.20" stroke="#222" stroke-width="0.9" />
<line x1="299.47" y1="301.60" x2="299.47" y2="303.10" stroke="#222" stroke-width="0.9" />
<line x1="303.01" y1="301.60" x2="303.01" y2="303.10" stroke="#222" stroke-width="0.9" />
<line x1="305.51" y1="301.60" x2="305.51" y2="303.10" stroke="#222" stroke-width="0.9" />
<line x1="307.46" y1="301.60" x2="307.46" y2="303.10" stroke="#222" stroke-width="0.9" />
<line x1="309.05" y1="301.60" x2="309.05" y2="303.10" stroke="#222" stroke-width="0.9" />
<line x1="310.39" y1="301.60" x2="310.39" y2="303.10" stroke="#222" stroke-width="0.9" />
<line x1="311.56" y1="301.60" x2="311.56" y2="303.10" stroke="#222" stroke-width="0.9" />
<line x1="312.58" y1="301.60" x2="312.58" y2="303.10" stroke="#222" stroke-width="0.9" />
<line x1="313.50" y1="301.60" x2="313.50" y2="304.20" stroke="#222" stroke-width="0.9" />
<line x1="275.70" y1="240.00" x2="283.10" y2="240.00" stroke="#6db345" stroke-width="2.6" />
<text x="284.9" y="242.0" font-size="5.5" fill="#262626" text-anchor="start" stroke="#262626" stroke-width="0.3" textLength="17.3" lengthAdjust="spacingAndGlyphs">pLKO.1</text>
<line x1="275.70" y1="247.00" x2="283.10" y2="247.00" stroke="#a8173c" stroke-width="2.6" />
<text x="284.9" y="249.0" font-size="5.5" fill="#262626" text-anchor="start" stroke="#262626" stroke-width="0.3" textLength="19.7" lengthAdjust="spacingAndGlyphs">shCD86</text>
<line x1="275.70" y1="253.80" x2="283.10" y2="253.80" stroke="#2b57a0" stroke-width="2.6" />
<text x="284.9" y="255.8" font-size="5.5" fill="#262626" text-anchor="start" stroke="#262626" stroke-width="0.3" textLength="19.7" lengthAdjust="spacingAndGlyphs">shCD28</text>
<line x1="275.70" y1="260.50" x2="283.10" y2="260.50" stroke="#4b5560" stroke-width="2.6" />
<text x="284.9" y="262.5" font-size="5.5" fill="#262626" text-anchor="start" stroke="#262626" stroke-width="0.3" textLength="25.6" lengthAdjust="spacingAndGlyphs">shGAPDH</text>
<line x1="275.70" y1="268.00" x2="283.10" y2="268.00" stroke="#bdbdbd" stroke-width="1.1" />
<text x="284.9" y="270.0" font-size="5.5" fill="#262626" text-anchor="start" stroke="#262626" stroke-width="0.3" textLength="17.5" lengthAdjust="spacingAndGlyphs">isotype</text>
<rect x="139.50" y="325.50" width="84.50" height="64.10" fill="none" stroke="#111" stroke-width="1.3"/>
<clipPath id="k7"><rect x="140.15" y="326.15" width="83.2" height="64.30000000000003"/></clipPath>
<g clip-path="url(#k7)">
<polyline points="138.5,388.9 138.9,388.9 139.4,388.9 139.8,388.9 140.3,388.9 140.7,388.9 141.2,388.9 141.6,388.9 142.1,388.9 142.5,388.9 143.0,388.9 143.4,388.9 143.9,388.9 144.3,388.9 144.8,388.9 145.2,388.9 145.7,388.8 146.1,388.5 146.6,387.4 147.0,386.0 147.5,384.6 147.9,382.9 148.4,380.1 148.8,377.1 149.3,373.6 149.7,370.4 150.2,365.2 150.6,360.7 151.1,357.4 151.5,353.5 152.0,349.6 152.4,345.8 152.9,344.8 153.3,341.5 153.8,341.5 154.2,342.7 154.7,343.7 155.1,346.0 155.6,348.9 156.0,351.5 156.5,357.4 156.9,362.3 157.4,366.4 157.8,370.6 158.3,372.4 158.7,377.9 159.2,380.9 159.6,382.2 160.1,385.5 160.5,386.3 161.0,387.2 161.4,388.5 161.9,388.8 162.3,388.9 162.8,388.9 163.2,388.9 163.7,388.9 164.1,388.9 164.6,388.9 165.0,388.9 165.5,388.9 165.9,388.9 166.4,388.9 166.8,388.9 167.3,388.9 167.7,388.9 168.2,388.9 168.6,388.9 169.1,388.9 169.5,388.9 170.0,388.9 170.4,388.9 170.9,388.9 171.3,388.9 171.8,388.9 172.2,388.9 172.7,388.9 173.1,388.9 173.6,388.9 174.0,388.9 174.5,388.9 174.9,388.9 175.4,388.9 175.8,388.9 176.3,388.9 176.7,388.9 177.2,388.9 177.6,388.9 178.1,388.9 178.5,388.9 179.0,388.9 179.4,388.9 179.9,388.9 180.3,388.9 180.8,388.9 181.2,388.9 181.7,388.9 182.1,388.9 182.6,388.9 183.0,388.9 183.5,388.9 183.9,388.9 184.4,388.9 184.8,388.9 185.3,388.9 185.7,388.9 186.2,388.9 186.6,388.9 187.1,388.9 187.5,388.9 188.0,388.9 188.4,388.9 188.9,388.9 189.3,388.9 189.8,388.9 190.2,388.9 190.7,388.9 191.1,388.9 191.6,388.9 192.0,388.9 192.5,388.9 192.9,388.9 193.4,388.9 193.8,388.9 194.3,388.9 194.7,388.9 195.2,388.9 195.6,388.9 196.1,388.9 196.5,388.9 197.0,388.9 197.4,388.9 197.9,388.9 198.3,388.9 198.8,388.9 199.2,388.9 199.7,388.9 200.1,388.9 200.6,388.9 201.0,388.9 201.5,388.9 201.9,388.9 202.4,388.9 202.8,388.9 203.3,388.9 203.7,388.9 204.2,388.9 204.6,388.9 205.1,388.9 205.5,388.9 206.0,388.9 206.4,388.9 206.9,388.9 207.3,388.9 207.8,388.9 208.2,388.9 208.7,388.9 209.1,388.9 209.6,388.9 210.0,388.9 210.5,388.9 210.9,388.9 211.4,388.9 211.8,388.9 212.3,388.9 212.7,388.9 213.2,388.9 213.6,388.9 214.1,388.9 214.5,388.9 215.0,388.9 215.4,388.9 215.9,388.9 216.3,388.9 216.8,388.9 217.2,388.9 217.7,388.9 218.1,388.9 218.6,388.9 219.0,388.9 219.5,388.9 219.9,388.9 220.4,388.9 220.8,388.9 221.3,388.9 221.7,388.9 222.2,388.9 222.6,388.9 223.1,388.9 223.5,388.9 224.0,388.9 224.4,388.9 224.9,388.9" fill="none" stroke="#bdbdbd" stroke-width="1.1" stroke-linejoin="round" />
<polyline points="138.5,389.4 138.9,389.4 139.4,389.4 139.8,389.4 140.3,389.4 140.7,389.4 141.2,389.4 141.6,389.4 142.1,389.4 142.5,389.4 143.0,389.4 143.4,389.4 143.9,389.4 144.3,389.4 144.8,389.4 145.2,389.4 145.7,389.4 146.1,389.4 146.6,389.4 147.0,389.4 147.5,389.4 147.9,389.4 148.4,389.4 148.8,389.4 149.3,389.4 149.7,389.4 150.2,389.4 150.6,389.4 151.1,389.4 151.5,389.4 152.0,389.4 152.4,389.4 152.9,389.4 153.3,389.4 153.8,389.4 154.2,389.4 154.7,389.4 155.1,389.4 155.6,389.4 156.0,389.4 156.5,389.4 156.9,389.4 157.4,389.4 157.8,389.4 158.3,389.4 158.7,389.4 159.2,389.4 159.6,389.4 160.1,389.4 160.5,389.4 161.0,389.4 161.4,389.4 161.9,389.4 162.3,389.4 162.8,389.4 163.2,389.4 163.7,389.4 164.1,389.4 164.6,389.4 165.0,389.4 165.5,389.4 165.9,389.4 166.4,389.4 166.8,389.4 167.3,389.4 167.7,389.4 168.2,389.4 168.6,389.4 169.1,389.4 169.5,389.4 170.0,389.4 170.4,389.4 170.9,389.4 171.3,389.4 171.8,389.4 172.2,389.4 172.7,389.4 173.1,389.4 173.6,389.4 174.0,389.4 174.5,389.4 174.9,389.4 175.4,389.4 175.8,389.4 176.3,389.4 176.7,389.4 177.2,389.4 177.6,389.4 178.1,389.4 178.5,389.4 179.0,389.4 179.4,389.3 179.9,389.2 180.3,388.7 180.8,388.8 181.2,389.1 181.7,387.7 182.1,387.9 182.6,384.9 183.0,386.1 183.5,386.0 183.9,385.4 184.4,384.5 184.8,384.7 185.3,382.9 185.7,380.8 186.2,381.6 186.6,379.0 187.1,376.5 187.5,375.4 188.0,372.9 188.4,370.0 188.9,364.7 189.3,359.6 189.8,354.9 190.2,350.7 190.7,345.5 191.1,344.7 191.6,339.5 192.0,338.3 192.5,337.2 192.9,337.7 193.4,338.1 193.8,338.4 194.3,338.8 194.7,341.7 195.2,344.5 195.6,347.2 196.1,352.2 196.5,356.5 197.0,361.1 197.4,365.6 197.9,371.0 198.3,372.9 198.8,377.1 199.2,380.2 199.7,381.7 200.1,384.6 200.6,385.7 201.0,386.5 201.5,387.7 201.9,387.3 202.4,388.2 202.8,389.0 203.3,389.2 203.7,389.2 204.2,389.4 204.6,389.4 205.1,389.4 205.5,389.4 206.0,389.4 206.4,389.4 206.9,389.4 207.3,389.4 207.8,389.4 208.2,389.4 208.7,389.4 209.1,389.4 209.6,389.4 210.0,389.4 210.5,389.4 210.9,389.4 211.4,389.4 211.8,389.4 212.3,389.4 212.7,389.4 213.2,389.4 213.6,389.4 214.1,389.4 214.5,389.4 215.0,389.4 215.4,389.4 215.9,389.4 216.3,389.4 216.8,389.4 217.2,389.4 217.7,389.4 218.1,389.4 218.6,389.4 219.0,389.4 219.5,389.4 219.9,389.4 220.4,389.4 220.8,389.4 221.3,389.4 221.7,389.4 222.2,389.4 222.6,389.4 223.1,389.4 223.5,389.4 224.0,389.4 224.4,389.4 224.9,389.4" fill="none" stroke="#4b5560" stroke-width="1.45" stroke-linejoin="round" />
<polyline points="138.5,389.4 138.9,389.4 139.4,389.4 139.8,389.4 140.3,389.4 140.7,389.4 141.2,389.4 141.6,389.4 142.1,389.4 142.5,389.4 143.0,389.4 143.4,389.4 143.9,389.4 144.3,389.4 144.8,389.4 145.2,389.4 145.7,389.4 146.1,389.4 146.6,389.4 147.0,389.4 147.5,389.4 147.9,389.4 148.4,389.4 148.8,389.4 149.3,389.4 149.7,389.4 150.2,389.4 150.6,389.4 151.1,389.4 151.5,389.4 152.0,389.4 152.4,389.4 152.9,389.4 153.3,389.4 153.8,389.4 154.2,389.4 154.7,389.4 155.1,389.4 155.6,389.4 156.0,389.4 156.5,389.4 156.9,389.4 157.4,389.4 157.8,389.4 158.3,389.4 158.7,389.4 159.2,389.4 159.6,389.4 160.1,389.4 160.5,389.4 161.0,389.4 161.4,389.4 161.9,389.4 162.3,389.4 162.8,389.4 163.2,389.4 163.7,389.4 164.1,389.4 164.6,389.4 165.0,389.4 165.5,389.4 165.9,389.4 166.4,389.4 166.8,389.4 167.3,389.4 167.7,389.4 168.2,389.4 168.6,389.4 169.1,389.4 169.5,389.4 170.0,389.4 170.4,389.4 170.9,389.4 171.3,389.4 171.8,389.4 172.2,389.4 172.7,389.4 173.1,389.4 173.6,389.4 174.0,389.4 174.5,389.4 174.9,389.4 175.4,389.4 175.8,389.4 176.3,389.4 176.7,389.4 177.2,389.4 177.6,389.4 178.1,389.4 178.5,389.4 179.0,389.4 179.4,389.4 179.9,389.3 180.3,389.1 180.8,389.0 181.2,388.5 181.7,388.3 182.1,387.5 182.6,386.7 183.0,386.5 183.5,386.2 183.9,384.8 184.4,383.8 184.8,383.5 185.3,383.8 185.7,382.6 186.2,381.7 186.6,382.4 187.1,380.5 187.5,378.9 188.0,378.0 188.4,374.7 188.9,373.0 189.3,369.9 189.8,367.3 190.2,364.5 190.7,360.7 191.1,358.2 191.6,354.5 192.0,352.4 192.5,350.2 192.9,346.6 193.4,345.3 193.8,345.4 194.3,344.8 194.7,345.5 195.2,344.7 195.6,343.9 196.1,346.8 196.5,349.4 197.0,351.1 197.4,355.4 197.9,359.3 198.3,365.2 198.8,370.0 199.2,373.9 199.7,378.8 200.1,381.2 200.6,384.3 201.0,385.4 201.5,385.7 201.9,388.0 202.4,388.9 202.8,389.2 203.3,389.4 203.7,389.4 204.2,389.4 204.6,389.4 205.1,389.4 205.5,389.4 206.0,389.4 206.4,389.4 206.9,389.4 207.3,389.4 207.8,389.4 208.2,389.4 208.7,389.4 209.1,389.4 209.6,389.4 210.0,389.4 210.5,389.4 210.9,389.4 211.4,389.4 211.8,389.4 212.3,389.4 212.7,389.4 213.2,389.4 213.6,389.4 214.1,389.4 214.5,389.4 215.0,389.4 215.4,389.4 215.9,389.4 216.3,389.4 216.8,389.4 217.2,389.4 217.7,389.4 218.1,389.4 218.6,389.4 219.0,389.4 219.5,389.4 219.9,389.4 220.4,389.4 220.8,389.4 221.3,389.4 221.7,389.4 222.2,389.4 222.6,389.4 223.1,389.4 223.5,389.4 224.0,389.4 224.4,389.4 224.9,389.4" fill="none" stroke="#a8173c" stroke-width="1.8" stroke-linejoin="round" />
</g>
<line x1="138.00" y1="385.59" x2="139.50" y2="385.59" stroke="#222" stroke-width="0.9" />
<line x1="138.00" y1="381.59" x2="139.50" y2="381.59" stroke="#222" stroke-width="0.9" />
<line x1="138.00" y1="377.58" x2="139.50" y2="377.58" stroke="#222" stroke-width="0.9" />
<line x1="136.90" y1="373.58" x2="139.50" y2="373.58" stroke="#222" stroke-width="0.9" />
<line x1="138.00" y1="369.57" x2="139.50" y2="369.57" stroke="#222" stroke-width="0.9" />
<line x1="138.00" y1="365.56" x2="139.50" y2="365.56" stroke="#222" stroke-width="0.9" />
<line x1="138.00" y1="361.56" x2="139.50" y2="361.56" stroke="#222" stroke-width="0.9" />
<line x1="136.90" y1="357.55" x2="139.50" y2="357.55" stroke="#222" stroke-width="0.9" />
<line x1="138.00" y1="353.54" x2="139.50" y2="353.54" stroke="#222" stroke-width="0.9" />
<line x1="138.00" y1="349.54" x2="139.50" y2="349.54" stroke="#222" stroke-width="0.9" />
<line x1="138.00" y1="345.53" x2="139.50" y2="345.53" stroke="#222" stroke-width="0.9" />
<line x1="136.90" y1="341.52" x2="139.50" y2="341.52" stroke="#222" stroke-width="0.9" />
<line x1="138.00" y1="337.52" x2="139.50" y2="337.52" stroke="#222" stroke-width="0.9" />
<line x1="138.00" y1="333.51" x2="139.50" y2="333.51" stroke="#222" stroke-width="0.9" />
<line x1="138.00" y1="329.51" x2="139.50" y2="329.51" stroke="#222" stroke-width="0.9" />
<line x1="141.10" y1="389.60" x2="141.10" y2="391.40" stroke="#222" stroke-width="0.9" />
<line x1="143.55" y1="389.60" x2="143.55" y2="391.40" stroke="#222" stroke-width="0.9" />
<line x1="146.00" y1="389.60" x2="146.00" y2="391.40" stroke="#222" stroke-width="0.9" />
<line x1="148.80" y1="389.60" x2="148.80" y2="392.20" stroke="#222" stroke-width="0.9" />
<line x1="151.60" y1="389.60" x2="151.60" y2="391.40" stroke="#222" stroke-width="0.9" />
<line x1="154.05" y1="389.60" x2="154.05" y2="391.40" stroke="#222" stroke-width="0.9" />
<line x1="156.50" y1="389.60" x2="156.50" y2="391.40" stroke="#222" stroke-width="0.9" />
<line x1="162.80" y1="389.60" x2="162.80" y2="391.20" stroke="#222" stroke-width="0.9" />
<line x1="169.80" y1="389.60" x2="169.80" y2="391.20" stroke="#222" stroke-width="0.9" />
<line x1="178.20" y1="389.60" x2="178.20" y2="392.20" stroke="#222" stroke-width="0.9" />
<line x1="184.31" y1="389.60" x2="184.31" y2="391.10" stroke="#222" stroke-width="0.9" />
<line x1="187.89" y1="389.60" x2="187.89" y2="391.10" stroke="#222" stroke-width="0.9" />
<line x1="190.42" y1="389.60" x2="190.42" y2="391.10" stroke="#222" stroke-width="0.9" />
<line x1="192.39" y1="389.60" x2="192.39" y2="391.10" stroke="#222" stroke-width="0.9" />
<line x1="194.00" y1="389.60" x2="194.00" y2="391.10" stroke="#222" stroke-width="0.9" />
<line x1="195.36" y1="389.60" x2="195.36" y2="391.10" stroke="#222" stroke-width="0.9" />
<line x1="196.53" y1="389.60" x2="196.53" y2="391.10" stroke="#222" stroke-width="0.9" />
<line x1="197.57" y1="389.60" x2="197.57" y2="391.10" stroke="#222" stroke-width="0.9" />
<line x1="198.50" y1="389.60" x2="198.50" y2="392.20" stroke="#222" stroke-width="0.9" />
<line x1="204.61" y1="389.60" x2="204.61" y2="391.10" stroke="#222" stroke-width="0.9" />
<line x1="208.19" y1="389.60" x2="208.19" y2="391.10" stroke="#222" stroke-width="0.9" />
<line x1="210.72" y1="389.60" x2="210.72" y2="391.10" stroke="#222" stroke-width="0.9" />
<line x1="212.69" y1="389.60" x2="212.69" y2="391.10" stroke="#222" stroke-width="0.9" />
<line x1="214.30" y1="389.60" x2="214.30" y2="391.10" stroke="#222" stroke-width="0.9" />
<line x1="215.66" y1="389.60" x2="215.66" y2="391.10" stroke="#222" stroke-width="0.9" />
<line x1="216.83" y1="389.60" x2="216.83" y2="391.10" stroke="#222" stroke-width="0.9" />
<line x1="217.87" y1="389.60" x2="217.87" y2="391.10" stroke="#222" stroke-width="0.9" />
<line x1="218.80" y1="389.60" x2="218.80" y2="392.20" stroke="#222" stroke-width="0.9" />
<text x="133.3" y="327.40000000000003" font-size="6.1" fill="#262626" text-anchor="end" stroke="#262626" stroke-width="0.3" textLength="10.6" lengthAdjust="spacingAndGlyphs">400</text>
<text x="133.3" y="391.6" font-size="6.1" fill="#262626" text-anchor="end" stroke="#262626" stroke-width="0.3">0</text>
<text x="148.2" y="400.0" font-size="5.4" fill="#262626" text-anchor="middle" stroke="#262626" stroke-width="0.3">0</text>
<text x="216.5" y="400.0" font-size="5.4" fill="#262626" stroke="#262626" stroke-width="0.18" text-anchor="middle">10<tspan dy="-2.1" font-size="4.21">5</tspan></text>
<text x="183.3" y="411.2" font-size="8.6" fill="#262626" text-anchor="middle" stroke="#262626" stroke-width="0.1" font-weight="bold" textLength="13.9" lengthAdjust="spacingAndGlyphs">CD28</text>
<rect x="235.00" y="325.50" width="83.00" height="64.10" fill="none" stroke="#111" stroke-width="1.3"/>
<clipPath id="k8"><rect x="235.65" y="326.15" width="81.7" height="64.30000000000003"/></clipPath>
<g clip-path="url(#k8)">
<polyline points="234.0,388.9 234.4,388.9 234.9,388.9 235.3,388.9 235.8,388.9 236.2,388.9 236.7,388.9 237.1,388.9 237.6,388.9 238.0,388.9 238.5,388.9 238.9,388.9 239.4,388.9 239.8,388.9 240.3,388.8 240.7,388.4 241.2,387.8 241.6,385.1 242.1,381.1 242.5,379.4 243.0,377.8 243.4,373.2 243.9,371.3 244.3,368.3 244.8,361.4 245.2,361.6 245.7,356.0 246.1,354.4 246.6,351.3 247.0,349.9 247.5,347.3 247.9,347.8 248.4,348.2 248.8,348.4 249.3,348.3 249.7,349.3 250.2,351.3 250.6,353.3 251.1,355.1 251.5,357.7 252.0,360.6 252.4,363.1 252.9,365.8 253.3,369.5 253.8,371.4 254.2,373.7 254.7,377.0 255.1,377.9 255.6,380.2 256.0,382.5 256.5,383.9 256.9,385.6 257.4,387.4 257.8,388.2 258.3,388.7 258.7,388.9 259.2,388.9 259.6,388.9 260.1,388.9 260.5,388.9 261.0,388.9 261.4,388.9 261.9,388.9 262.3,388.9 262.8,388.9 263.2,388.9 263.7,388.9 264.1,388.9 264.6,388.9 265.0,388.9 265.5,388.9 265.9,388.9 266.4,388.9 266.8,388.9 267.3,388.9 267.7,388.9 268.2,388.9 268.6,388.9 269.1,388.9 269.5,388.9 270.0,388.9 270.4,388.9 270.9,388.9 271.3,388.9 271.8,388.9 272.2,388.9 272.7,388.9 273.1,388.9 273.6,388.9 274.0,388.9 274.5,388.9 274.9,388.9 275.4,388.9 275.8,388.9 276.3,388.9 276.7,388.9 277.2,388.9 277.6,388.9 278.1,388.9 278.5,388.9 279.0,388.9 279.4,388.9 279.9,388.9 280.3,388.9 280.8,388.9 281.2,388.9 281.7,388.9 282.1,388.9 282.6,388.9 283.0,388.9 283.5,388.9 283.9,388.9 284.4,388.9 284.8,388.9 285.3,388.9 285.7,388.9 286.2,388.9 286.6,388.9 287.1,388.9 287.5,388.9 288.0,388.9 288.4,388.9 288.9,388.9 289.3,388.9 289.8,388.9 290.2,388.9 290.7,388.9 291.1,388.9 291.6,388.9 292.0,388.9 292.5,388.9 292.9,388.9 293.4,388.9 293.8,388.9 294.3,388.9 294.7,388.9 295.2,388.9 295.6,388.9 296.1,388.9 296.5,388.9 297.0,388.9 297.4,388.9 297.9,388.9 298.3,388.9 298.8,388.9 299.2,388.9 299.7,388.9 300.1,388.9 300.6,388.9 301.0,388.9 301.5,388.9 301.9,388.9 302.4,388.9 302.8,388.9 303.3,388.9 303.7,388.9 304.2,388.9 304.6,388.9 305.1,388.9 305.5,388.9 306.0,388.9 306.4,388.9 306.9,388.9 307.3,388.9 307.8,388.9 308.2,388.9 308.7,388.9 309.1,388.9 309.6,388.9 310.0,388.9 310.5,388.9 310.9,388.9 311.4,388.9 311.8,388.9 312.3,388.9 312.7,388.9 313.2,388.9 313.6,388.9 314.1,388.9 314.5,388.9 315.0,388.9 315.4,388.9 315.9,388.9 316.3,388.9 316.8,388.9 317.2,388.9 317.7,388.9 318.1,388.9 318.6,388.9" fill="none" stroke="#bdbdbd" stroke-width="1.1" stroke-linejoin="round" />
<polyline points="234.0,389.4 234.4,389.4 234.9,389.4 235.3,389.3 235.8,389.2 236.2,389.0 236.7,388.8 237.1,388.9 237.6,388.7 238.0,388.8 238.5,389.0 238.9,388.8 239.4,388.5 239.8,389.0 240.3,388.5 240.7,388.5 241.2,388.8 241.6,389.1 242.1,388.8 242.5,388.9 243.0,389.1 243.4,389.0 243.9,388.7 244.3,389.1 244.8,389.4 245.2,388.6 245.7,388.8 246.1,388.6 246.6,388.4 247.0,389.1 247.5,388.8 247.9,389.2 248.4,388.8 248.8,389.0 249.3,388.2 249.7,388.5 250.2,388.7 250.6,388.2 251.1,388.6 251.5,388.9 252.0,388.9 252.4,388.3 252.9,388.5 253.3,388.4 253.8,388.8 254.2,388.5 254.7,388.2 255.1,388.5 255.6,388.5 256.0,387.3 256.5,388.0 256.9,388.0 257.4,387.8 257.8,387.8 258.3,387.4 258.7,386.9 259.2,387.3 259.6,387.0 260.1,386.7 260.5,386.7 261.0,386.9 261.4,386.0 261.9,386.2 262.3,386.7 262.8,385.7 263.2,385.2 263.7,385.1 264.1,386.1 264.6,383.9 265.0,383.9 265.5,385.0 265.9,382.0 266.4,381.8 266.8,382.0 267.3,382.5 267.7,380.9 268.2,380.3 268.6,378.2 269.1,378.4 269.5,377.2 270.0,376.7 270.4,377.0 270.9,375.3 271.3,373.2 271.8,372.3 272.2,372.1 272.7,372.0 273.1,368.4 273.6,368.8 274.0,370.0 274.5,367.4 274.9,365.3 275.4,365.1 275.8,365.4 276.3,362.3 276.7,362.1 277.2,363.8 277.6,361.0 278.1,360.5 278.5,359.9 279.0,361.0 279.4,361.4 279.9,361.6 280.3,361.2 280.8,361.8 281.2,361.8 281.7,362.9 282.1,364.1 282.6,363.4 283.0,363.8 283.5,364.8 283.9,364.7 284.4,364.9 284.8,368.3 285.3,369.4 285.7,372.3 286.2,372.9 286.6,375.6 287.1,375.9 287.5,377.0 288.0,377.6 288.4,381.0 288.9,380.3 289.3,382.3 289.8,383.8 290.2,384.6 290.7,387.2 291.1,385.8 291.6,386.5 292.0,387.9 292.5,389.0 292.9,389.0 293.4,389.3 293.8,389.4 294.3,389.4 294.7,389.4 295.2,389.4 295.6,389.4 296.1,389.4 296.5,389.4 297.0,389.4 297.4,389.4 297.9,389.4 298.3,389.4 298.8,389.4 299.2,389.4 299.7,389.4 300.1,389.4 300.6,389.4 301.0,389.4 301.5,389.4 301.9,389.4 302.4,389.4 302.8,389.4 303.3,389.4 303.7,389.4 304.2,389.4 304.6,389.4 305.1,389.4 305.5,389.4 306.0,389.4 306.4,389.4 306.9,389.4 307.3,389.4 307.8,389.4 308.2,389.4 308.7,389.4 309.1,389.4 309.6,389.4 310.0,389.4 310.5,389.4 310.9,389.4 311.4,389.4 311.8,389.4 312.3,389.4 312.7,389.4 313.2,389.4 313.6,389.4 314.1,389.4 314.5,389.4 315.0,389.4 315.4,389.4 315.9,389.4 316.3,389.4 316.8,389.4 317.2,389.4 317.7,389.4 318.1,389.4 318.6,389.4" fill="none" stroke="#4b5560" stroke-width="1.45" stroke-linejoin="round" />
<polyline points="234.0,389.4 234.4,389.4 234.9,389.4 235.3,389.3 235.8,389.2 236.2,389.0 236.7,389.1 237.1,389.1 237.6,388.3 238.0,388.9 238.5,389.0 238.9,388.4 239.4,388.7 239.8,388.7 240.3,389.0 240.7,388.6 241.2,388.6 241.6,388.7 242.1,388.5 242.5,389.2 243.0,388.8 243.4,388.8 243.9,388.6 244.3,388.9 244.8,388.4 245.2,388.7 245.7,388.7 246.1,388.7 246.6,388.5 247.0,388.8 247.5,388.3 247.9,388.6 248.4,388.6 248.8,388.4 249.3,388.4 249.7,388.9 250.2,389.0 250.6,388.4 251.1,388.9 251.5,388.7 252.0,389.3 252.4,388.4 252.9,388.5 253.3,388.8 253.8,388.7 254.2,388.6 254.7,389.3 255.1,388.9 255.6,388.8 256.0,388.4 256.5,389.1 256.9,388.6 257.4,388.0 257.8,388.0 258.3,388.2 258.7,389.0 259.2,388.4 259.6,387.7 260.1,387.8 260.5,387.4 261.0,386.8 261.4,387.9 261.9,387.8 262.3,387.5 262.8,386.7 263.2,387.3 263.7,386.8 264.1,386.2 264.6,385.6 265.0,386.2 265.5,384.9 265.9,385.8 266.4,384.4 266.8,383.4 267.3,383.2 267.7,383.4 268.2,384.3 268.6,382.2 269.1,381.6 269.5,381.0 270.0,379.7 270.4,380.8 270.9,379.7 271.3,379.4 271.8,377.4 272.2,377.1 272.7,376.9 273.1,373.8 273.6,374.1 274.0,373.8 274.5,372.4 274.9,372.8 275.4,371.1 275.8,371.3 276.3,369.6 276.7,368.4 277.2,367.4 277.6,366.0 278.1,365.7 278.5,365.2 279.0,365.3 279.4,365.3 279.9,364.8 280.3,363.7 280.8,364.8 281.2,362.7 281.7,362.5 282.1,363.6 282.6,362.8 283.0,363.4 283.5,362.9 283.9,362.5 284.4,363.5 284.8,365.2 285.3,363.1 285.7,365.1 286.2,364.2 286.6,365.1 287.1,367.6 287.5,366.9 288.0,369.3 288.4,371.7 288.9,374.3 289.3,374.0 289.8,375.0 290.2,377.3 290.7,377.3 291.1,380.7 291.6,381.2 292.0,382.5 292.5,383.8 292.9,384.8 293.4,385.7 293.8,386.2 294.3,387.7 294.7,388.4 295.2,389.2 295.6,389.0 296.1,389.3 296.5,389.4 297.0,389.4 297.4,389.4 297.9,389.4 298.3,389.4 298.8,389.4 299.2,389.4 299.7,389.4 300.1,389.4 300.6,389.4 301.0,389.4 301.5,389.4 301.9,389.4 302.4,389.4 302.8,389.4 303.3,389.4 303.7,389.4 304.2,389.4 304.6,389.4 305.1,389.4 305.5,389.4 306.0,389.4 306.4,389.4 306.9,389.4 307.3,389.4 307.8,389.4 308.2,389.4 308.7,389.4 309.1,389.4 309.6,389.4 310.0,389.4 310.5,389.4 310.9,389.4 311.4,389.4 311.8,389.4 312.3,389.4 312.7,389.4 313.2,389.4 313.6,389.4 314.1,389.4 314.5,389.4 315.0,389.4 315.4,389.4 315.9,389.4 316.3,389.4 316.8,389.4 317.2,389.4 317.7,389.4 318.1,389.4 318.6,389.4" fill="none" stroke="#233f7c" stroke-width="1.7" stroke-linejoin="round" />
</g>
<line x1="233.50" y1="385.59" x2="235.00" y2="385.59" stroke="#222" stroke-width="0.9" />
<line x1="233.50" y1="381.59" x2="235.00" y2="381.59" stroke="#222" stroke-width="0.9" />
<line x1="233.50" y1="377.58" x2="235.00" y2="377.58" stroke="#222" stroke-width="0.9" />
<line x1="232.40" y1="373.58" x2="235.00" y2="373.58" stroke="#222" stroke-width="0.9" />
<line x1="233.50" y1="369.57" x2="235.00" y2="369.57" stroke="#222" stroke-width="0.9" />
<line x1="233.50" y1="365.56" x2="235.00" y2="365.56" stroke="#222" stroke-width="0.9" />
<line x1="233.50" y1="361.56" x2="235.00" y2="361.56" stroke="#222" stroke-width="0.9" />
<line x1="232.40" y1="357.55" x2="235.00" y2="357.55" stroke="#222" stroke-width="0.9" />
<line x1="233.50" y1="353.54" x2="235.00" y2="353.54" stroke="#222" stroke-width="0.9" />
<line x1="233.50" y1="349.54" x2="235.00" y2="349.54" stroke="#222" stroke-width="0.9" />
<line x1="233.50" y1="345.53" x2="235.00" y2="345.53" stroke="#222" stroke-width="0.9" />
<line x1="232.40" y1="341.52" x2="235.00" y2="341.52" stroke="#222" stroke-width="0.9" />
<line x1="233.50" y1="337.52" x2="235.00" y2="337.52" stroke="#222" stroke-width="0.9" />
<line x1="233.50" y1="333.51" x2="235.00" y2="333.51" stroke="#222" stroke-width="0.9" />
<line x1="233.50" y1="329.51" x2="235.00" y2="329.51" stroke="#222" stroke-width="0.9" />
<line x1="236.69" y1="389.60" x2="236.69" y2="391.40" stroke="#222" stroke-width="0.9" />
<line x1="239.11" y1="389.60" x2="239.11" y2="391.40" stroke="#222" stroke-width="0.9" />
<line x1="241.53" y1="389.60" x2="241.53" y2="391.40" stroke="#222" stroke-width="0.9" />
<line x1="244.30" y1="389.60" x2="244.30" y2="392.20" stroke="#222" stroke-width="0.9" />
<line x1="247.07" y1="389.60" x2="247.07" y2="391.40" stroke="#222" stroke-width="0.9" />
<line x1="249.49" y1="389.60" x2="249.49" y2="391.40" stroke="#222" stroke-width="0.9" />
<line x1="251.91" y1="389.60" x2="251.91" y2="391.40" stroke="#222" stroke-width="0.9" />
<line x1="258.14" y1="389.60" x2="258.14" y2="391.20" stroke="#222" stroke-width="0.9" />
<line x1="265.06" y1="389.60" x2="265.06" y2="391.20" stroke="#222" stroke-width="0.9" />
<line x1="273.36" y1="389.60" x2="273.36" y2="392.20" stroke="#222" stroke-width="0.9" />
<line x1="279.41" y1="389.60" x2="279.41" y2="391.10" stroke="#222" stroke-width="0.9" />
<line x1="282.94" y1="389.60" x2="282.94" y2="391.10" stroke="#222" stroke-width="0.9" />
<line x1="285.45" y1="389.60" x2="285.45" y2="391.10" stroke="#222" stroke-width="0.9" />
<line x1="287.39" y1="389.60" x2="287.39" y2="391.10" stroke="#222" stroke-width="0.9" />
<line x1="288.98" y1="389.60" x2="288.98" y2="391.10" stroke="#222" stroke-width="0.9" />
<line x1="290.32" y1="389.60" x2="290.32" y2="391.10" stroke="#222" stroke-width="0.9" />
<line x1="291.49" y1="389.60" x2="291.49" y2="391.10" stroke="#222" stroke-width="0.9" />
<line x1="292.51" y1="389.60" x2="292.51" y2="391.10" stroke="#222" stroke-width="0.9" />
<line x1="293.43" y1="389.60" x2="293.43" y2="392.20" stroke="#222" stroke-width="0.9" />
<line x1="299.47" y1="389.60" x2="299.47" y2="391.10" stroke="#222" stroke-width="0.9" />
<line x1="303.01" y1="389.60" x2="303.01" y2="391.10" stroke="#222" stroke-width="0.9" />
<line x1="305.51" y1="389.60" x2="305.51" y2="391.10" stroke="#222" stroke-width="0.9" />
<line x1="307.46" y1="389.60" x2="307.46" y2="391.10" stroke="#222" stroke-width="0.9" />
<line x1="309.05" y1="389.60" x2="309.05" y2="391.10" stroke="#222" stroke-width="0.9" />
<line x1="310.39" y1="389.60" x2="310.39" y2="391.10" stroke="#222" stroke-width="0.9" />
<line x1="311.56" y1="389.60" x2="311.56" y2="391.10" stroke="#222" stroke-width="0.9" />
<line x1="312.58" y1="389.60" x2="312.58" y2="391.10" stroke="#222" stroke-width="0.9" />
<line x1="313.50" y1="389.60" x2="313.50" y2="392.20" stroke="#222" stroke-width="0.9" />
<text x="244.3" y="400.0" font-size="5.4" fill="#262626" text-anchor="middle" stroke="#262626" stroke-width="0.3">0</text>
<text x="312.5" y="400.0" font-size="5.4" fill="#262626" stroke="#262626" stroke-width="0.18" text-anchor="middle">10<tspan dy="-2.1" font-size="4.21">5</tspan></text>
<text x="279.3" y="411.2" font-size="8.6" fill="#262626" text-anchor="middle" stroke="#262626" stroke-width="0.1" font-weight="bold" textLength="14.0" lengthAdjust="spacingAndGlyphs">CD86</text>
<text x="6.6" y="227.6" font-size="11.2" fill="#111" text-anchor="start" stroke="#111" stroke-width="0.2" font-weight="bold">B</text>
<line x1="57.00" y1="232.60" x2="57.00" y2="302.20" stroke="#111" stroke-width="1.3" />
<line x1="56.40" y1="301.60" x2="113.75" y2="301.60" stroke="#111" stroke-width="1.4" />
<line x1="54.40" y1="233.60" x2="57.00" y2="233.60" stroke="#111" stroke-width="1.1" />
<line x1="54.40" y1="256.20" x2="57.00" y2="256.20" stroke="#111" stroke-width="1.1" />
<line x1="54.40" y1="278.90" x2="57.00" y2="278.90" stroke="#111" stroke-width="1.1" />
<line x1="54.40" y1="301.60" x2="57.00" y2="301.60" stroke="#111" stroke-width="1.1" />
<text x="50.0" y="235.5" font-size="5.4" fill="#262626" text-anchor="end" stroke="#262626" stroke-width="0.3" textLength="7.8" lengthAdjust="spacingAndGlyphs">3.0</text>
<text x="50.0" y="258.09999999999997" font-size="5.4" fill="#262626" text-anchor="end" stroke="#262626" stroke-width="0.3" textLength="7.8" lengthAdjust="spacingAndGlyphs">2.0</text>
<text x="50.0" y="280.79999999999995" font-size="5.4" fill="#262626" text-anchor="end" stroke="#262626" stroke-width="0.3" textLength="7.8" lengthAdjust="spacingAndGlyphs">1.0</text>
<text x="50.0" y="303.5" font-size="5.4" fill="#262626" text-anchor="end" stroke="#262626" stroke-width="0.3" textLength="7.8" lengthAdjust="spacingAndGlyphs">0.0</text>
<line x1="58.00" y1="278.90" x2="113.75" y2="278.90" stroke="#111" stroke-width="1.1" stroke-dasharray="2.2,1.6"/>
<rect x="69.50" y="253.75" width="8.50" height="47.85" fill="#2d4b8e"/>
<line x1="73.75" y1="246.25" x2="73.75" y2="254.25" stroke="#1e3364" stroke-width="1.2" />
<line x1="71.95" y1="246.25" x2="75.55" y2="246.25" stroke="#1e3364" stroke-width="1.2" />
<line x1="73.75" y1="301.60" x2="73.75" y2="304.40" stroke="#111" stroke-width="1.1" />
<text x="73.65" y="312.5" font-size="6.6" fill="#262626" text-anchor="middle" stroke="#262626" stroke-width="0.3" font-style="italic" textLength="17.8" lengthAdjust="spacingAndGlyphs">CD86</text>
<rect x="92.50" y="275.75" width="8.75" height="25.85" fill="#c0143c"/>
<line x1="96.88" y1="274.80" x2="96.88" y2="276.25" stroke="#8a1030" stroke-width="1.2" />
<line x1="95.08" y1="274.80" x2="98.67" y2="274.80" stroke="#8a1030" stroke-width="1.2" />
<line x1="96.88" y1="301.60" x2="96.88" y2="304.40" stroke="#111" stroke-width="1.1" />
<text x="96.775" y="312.5" font-size="6.6" fill="#262626" text-anchor="middle" stroke="#262626" stroke-width="0.3" font-style="italic" textLength="17.8" lengthAdjust="spacingAndGlyphs">CD28</text>
<line x1="57.00" y1="320.40" x2="57.00" y2="390.10" stroke="#111" stroke-width="1.3" />
<line x1="56.40" y1="389.50" x2="113.75" y2="389.50" stroke="#111" stroke-width="1.4" />
<line x1="54.40" y1="321.40" x2="57.00" y2="321.40" stroke="#111" stroke-width="1.1" />
<line x1="54.40" y1="338.40" x2="57.00" y2="338.40" stroke="#111" stroke-width="1.1" />
<line x1="54.40" y1="355.90" x2="57.00" y2="355.90" stroke="#111" stroke-width="1.1" />
<line x1="54.40" y1="373.00" x2="57.00" y2="373.00" stroke="#111" stroke-width="1.1" />
<line x1="54.40" y1="389.50" x2="57.00" y2="389.50" stroke="#111" stroke-width="1.1" />
<text x="50.0" y="323.29999999999995" font-size="5.4" fill="#262626" text-anchor="end" stroke="#262626" stroke-width="0.3" textLength="7.8" lengthAdjust="spacingAndGlyphs">2.0</text>
<text x="50.0" y="357.79999999999995" font-size="5.4" fill="#262626" text-anchor="end" stroke="#262626" stroke-width="0.3" textLength="7.8" lengthAdjust="spacingAndGlyphs">1.0</text>
<text x="50.0" y="391.4" font-size="5.4" fill="#262626" text-anchor="end" stroke="#262626" stroke-width="0.3" textLength="7.8" lengthAdjust="spacingAndGlyphs">0.0</text>
<line x1="58.00" y1="355.90" x2="113.75" y2="355.90" stroke="#111" stroke-width="1.1" stroke-dasharray="2.2,1.6"/>
<rect x="69.50" y="346.25" width="8.50" height="43.25" fill="#2d4b8e"/>
<line x1="73.75" y1="342.00" x2="73.75" y2="346.75" stroke="#1e3364" stroke-width="1.2" />
<line x1="71.95" y1="342.00" x2="75.55" y2="342.00" stroke="#1e3364" stroke-width="1.2" />
<line x1="73.75" y1="389.50" x2="73.75" y2="392.30" stroke="#111" stroke-width="1.1" />
<text x="73.65" y="400.2" font-size="6.6" fill="#262626" text-anchor="middle" stroke="#262626" stroke-width="0.3" font-style="italic" textLength="17.8" lengthAdjust="spacingAndGlyphs">CD86</text>
<rect x="93.00" y="367.00" width="8.75" height="22.50" fill="#c0143c"/>
<line x1="97.38" y1="362.50" x2="97.38" y2="367.50" stroke="#8a1030" stroke-width="1.2" />
<line x1="95.58" y1="362.50" x2="99.17" y2="362.50" stroke="#8a1030" stroke-width="1.2" />
<line x1="97.38" y1="389.50" x2="97.38" y2="392.30" stroke="#111" stroke-width="1.1" />
<text x="97.275" y="400.2" font-size="6.6" fill="#262626" text-anchor="middle" stroke="#262626" stroke-width="0.3" font-style="italic" textLength="17.8" lengthAdjust="spacingAndGlyphs">CD28</text>
<rect x="59.50" y="234.00" width="7.40" height="3.40" fill="#2d4b8e"/>
<rect x="59.50" y="239.80" width="7.40" height="3.20" fill="#c0143c"/>
<text x="69.6" y="237.6" font-size="5.0" fill="#262626" text-anchor="start" stroke="#262626" stroke-width="0.3" textLength="19.5" lengthAdjust="spacingAndGlyphs">shCD28</text>
<text x="69.6" y="243.0" font-size="5.0" fill="#262626" text-anchor="start" stroke="#262626" stroke-width="0.3" textLength="19.5" lengthAdjust="spacingAndGlyphs">shCD86</text>
<text transform="translate(38.4,268.4) rotate(-90)" font-size="8.2" fill="#262626" text-anchor="middle" stroke="#262626" stroke-width="0.1" font-weight="bold" textLength="16" lengthAdjust="spacingAndGlyphs">MM.1s</text>
<text transform="translate(38.4,353.0) rotate(-90)" font-size="8.2" fill="#262626" text-anchor="middle" stroke="#262626" stroke-width="0.1" font-weight="bold" textLength="26.2" lengthAdjust="spacingAndGlyphs">RPMI8226</text>
<text transform="translate(26.6,311.5) rotate(-90)" font-size="8.3" fill="#262626" text-anchor="middle" stroke="#262626" stroke-width="0.3" textLength="107" lengthAdjust="spacingAndGlyphs">mRNA foldchange to pLKO.1</text>
<text x="6.6" y="439.6" font-size="11.8" fill="#111" text-anchor="start" stroke="#111" stroke-width="0.2" font-weight="bold">C</text>
<defs><filter id="bl" x="-50%" y="-50%" width="200%" height="200%"><feGaussianBlur stdDeviation="2.2"/></filter><filter id="bl2" x="-50%" y="-50%" width="200%" height="200%"><feGaussianBlur stdDeviation="1.2"/></filter></defs>
<clipPath id="scl"><rect x="35.4" y="442.8" width="65.19999999999999" height="64.89999999999998"/></clipPath>
<g clip-path="url(#scl)">
<ellipse cx="67" cy="472" rx="15" ry="20" fill="#a9c8e2" opacity="0.6" filter="url(#bl)"/>
<ellipse cx="66.5" cy="471" rx="7" ry="9" fill="#5b95c8" opacity="0.55" filter="url(#bl)"/>
<g transform="rotate(-16 68 492)"><ellipse cx="68" cy="492" rx="22" ry="8" fill="#7fb0d8" opacity="0.75" filter="url(#bl)"/></g>
<ellipse cx="42" cy="494" rx="5" ry="12" fill="#9dbfdf" opacity="0.6" filter="url(#bl)"/>
<g opacity="0.7">
<rect x="65.5" y="466.1" width=".8" height=".8" fill="#5f95c8"/>
<rect x="65.7" y="475.7" width=".8" height=".8" fill="#5f95c8"/>
<rect x="65.6" y="451.5" width=".8" height=".8" fill="#5f95c8"/>
<rect x="68.8" y="465.1" width=".8" height=".8" fill="#5f95c8"/>
<rect x="65.0" y="469.3" width=".8" height=".8" fill="#5f95c8"/>
<rect x="68.1" y="480.8" width=".8" height=".8" fill="#5f95c8"/>
<rect x="71.0" y="469.2" width=".8" height=".8" fill="#5f95c8"/>
<rect x="61.5" y="456.8" width=".8" height=".8" fill="#5f95c8"/>
<rect x="68.2" y="482.4" width=".8" height=".8" fill="#5f95c8"/>
<rect x="66.8" y="466.8" width=".8" height=".8" fill="#5f95c8"/>
<rect x="70.1" y="452.0" width=".8" height=".8" fill="#5f95c8"/>
<rect x="64.4" y="473.4" width=".8" height=".8" fill="#5f95c8"/>
<rect x="72.4" y="465.4" width=".8" height=".8" fill="#5f95c8"/>
<rect x="69.1" y="470.7" width=".8" height=".8" fill="#5f95c8"/>
<rect x="71.8" y="455.8" width=".8" height=".8" fill="#5f95c8"/>
<rect x="70.4" y="451.3" width=".8" height=".8" fill="#5f95c8"/>
<rect x="48.7" y="461.3" width=".8" height=".8" fill="#5f95c8"/>
<rect x="60.3" y="477.6" width=".8" height=".8" fill="#5f95c8"/>
<rect x="71.0" y="454.6" width=".8" height=".8" fill="#5f95c8"/>
<rect x="72.3" y="457.0" width=".8" height=".8" fill="#5f95c8"/>
<rect x="65.9" y="464.8" width=".8" height=".8" fill="#5f95c8"/>
<rect x="67.3" y="477.0" width=".8" height=".8" fill="#5f95c8"/>
<rect x="70.8" y="471.8" width=".8" height=".8" fill="#5f95c8"/>
<rect x="70.9" y="473.3" width=".8" height=".8" fill="#5f95c8"/>
<rect x="62.2" y="460.1" width=".8" height=".8" fill="#5f95c8"/>
<rect x="63.3" y="473.5" width=".8" height=".8" fill="#5f95c8"/>
<rect x="64.8" y="493.7" width=".8" height=".8" fill="#5f95c8"/>
<rect x="60.9" y="455.9" width=".8" height=".8" fill="#5f95c8"/>
<rect x="71.7" y="483.6" width=".8" height=".8" fill="#5f95c8"/>
<rect x="69.9" y="477.2" width=".8" height=".8" fill="#5f95c8"/>
<rect x="76.2" y="467.0" width=".8" height=".8" fill="#5f95c8"/>
<rect x="56.8" y="462.1" width=".8" height=".8" fill="#5f95c8"/>
<rect x="73.0" y="452.1" width=".8" height=".8" fill="#5f95c8"/>
<rect x="66.7" y="470.8" width=".8" height=".8" fill="#5f95c8"/>
<rect x="64.4" y="476.0" width=".8" height=".8" fill="#5f95c8"/>
<rect x="70.4" y="493.5" width=".8" height=".8" fill="#5f95c8"/>
<rect x="70.7" y="461.3" width=".8" height=".8" fill="#5f95c8"/>
<rect x="62.7" y="458.9" width=".8" height=".8" fill="#5f95c8"/>
<rect x="73.0" y="461.8" width=".8" height=".8" fill="#5f95c8"/>
<rect x="66.0" y="476.2" width=".8" height=".8" fill="#5f95c8"/>
<rect x="61.6" y="464.8" width=".8" height=".8" fill="#5f95c8"/>
<rect x="54.0" y="456.1" width=".8" height=".8" fill="#5f95c8"/>
<rect x="62.6" y="472.6" width=".8" height=".8" fill="#5f95c8"/>
<rect x="74.6" y="467.8" width=".8" height=".8" fill="#5f95c8"/>
<rect x="68.3" y="469.8" width=".8" height=".8" fill="#5f95c8"/>
<rect x="73.9" y="477.8" width=".8" height=".8" fill="#5f95c8"/>
<rect x="68.4" y="456.9" width=".8" height=".8" fill="#5f95c8"/>
<rect x="72.6" y="472.2" width=".8" height=".8" fill="#5f95c8"/>
<rect x="74.8" y="467.7" width=".8" height=".8" fill="#5f95c8"/>
<rect x="79.8" y="464.1" width=".8" height=".8" fill="#5f95c8"/>
<rect x="77.3" y="469.3" width=".8" height=".8" fill="#5f95c8"/>
<rect x="63.0" y="455.6" width=".8" height=".8" fill="#5f95c8"/>
<rect x="65.5" y="483.7" width=".8" height=".8" fill="#5f95c8"/>
<rect x="72.1" y="475.6" width=".8" height=".8" fill="#5f95c8"/>
<rect x="50.3" y="475.8" width=".8" height=".8" fill="#5f95c8"/>
<rect x="70.3" y="462.0" width=".8" height=".8" fill="#5f95c8"/>
<rect x="62.2" y="468.0" width=".8" height=".8" fill="#5f95c8"/>
<rect x="78.2" y="456.4" width=".8" height=".8" fill="#5f95c8"/>
<rect x="63.6" y="483.0" width=".8" height=".8" fill="#5f95c8"/>
<rect x="63.5" y="464.0" width=".8" height=".8" fill="#5f95c8"/>
<rect x="67.2" y="454.3" width=".8" height=".8" fill="#5f95c8"/>
<rect x="68.0" y="454.7" width=".8" height=".8" fill="#5f95c8"/>
<rect x="72.5" y="468.0" width=".8" height=".8" fill="#5f95c8"/>
<rect x="82.0" y="471.1" width=".8" height=".8" fill="#5f95c8"/>
<rect x="75.8" y="453.7" width=".8" height=".8" fill="#5f95c8"/>
<rect x="65.7" y="471.6" width=".8" height=".8" fill="#5f95c8"/>
<rect x="78.4" y="449.5" width=".8" height=".8" fill="#5f95c8"/>
<rect x="73.2" y="474.5" width=".8" height=".8" fill="#5f95c8"/>
<rect x="76.9" y="475.8" width=".8" height=".8" fill="#5f95c8"/>
<rect x="66.9" y="462.3" width=".8" height=".8" fill="#5f95c8"/>
<rect x="58.0" y="470.1" width=".8" height=".8" fill="#5f95c8"/>
<rect x="65.2" y="490.2" width=".8" height=".8" fill="#5f95c8"/>
<rect x="62.3" y="471.5" width=".8" height=".8" fill="#5f95c8"/>
<rect x="55.8" y="463.6" width=".8" height=".8" fill="#5f95c8"/>
<rect x="68.3" y="477.1" width=".8" height=".8" fill="#5f95c8"/>
<rect x="76.3" y="467.5" width=".8" height=".8" fill="#5f95c8"/>
<rect x="58.9" y="473.0" width=".8" height=".8" fill="#5f95c8"/>
<rect x="70.0" y="473.4" width=".8" height=".8" fill="#5f95c8"/>
<rect x="61.7" y="480.5" width=".8" height=".8" fill="#5f95c8"/>
<rect x="67.1" y="475.7" width=".8" height=".8" fill="#5f95c8"/>
<rect x="75.2" y="474.7" width=".8" height=".8" fill="#5f95c8"/>
<rect x="68.4" y="491.7" width=".8" height=".8" fill="#5f95c8"/>
<rect x="68.2" y="464.7" width=".8" height=".8" fill="#5f95c8"/>
<rect x="67.3" y="484.3" width=".8" height=".8" fill="#5f95c8"/>
<rect x="67.3" y="473.7" width=".8" height=".8" fill="#5f95c8"/>
<rect x="74.6" y="462.4" width=".8" height=".8" fill="#5f95c8"/>
<rect x="54.8" y="471.3" width=".8" height=".8" fill="#5f95c8"/>
<rect x="68.1" y="461.3" width=".8" height=".8" fill="#5f95c8"/>
<rect x="72.4" y="474.7" width=".8" height=".8" fill="#5f95c8"/>
<rect x="59.7" y="473.7" width=".8" height=".8" fill="#5f95c8"/>
<rect x="65.2" y="451.7" width=".8" height=".8" fill="#5f95c8"/>
<rect x="69.6" y="467.5" width=".8" height=".8" fill="#5f95c8"/>
<rect x="61.4" y="473.8" width=".8" height=".8" fill="#5f95c8"/>
<rect x="69.8" y="461.6" width=".8" height=".8" fill="#5f95c8"/>
<rect x="69.2" y="479.2" width=".8" height=".8" fill="#5f95c8"/>
<rect x="61.7" y="472.2" width=".8" height=".8" fill="#5f95c8"/>
<rect x="66.5" y="492.9" width=".8" height=".8" fill="#5f95c8"/>
<rect x="53.8" y="475.6" width=".8" height=".8" fill="#5f95c8"/>
<rect x="64.4" y="466.9" width=".8" height=".8" fill="#5f95c8"/>
<rect x="79.4" y="467.9" width=".8" height=".8" fill="#5f95c8"/>
<rect x="81.7" y="463.1" width=".8" height=".8" fill="#5f95c8"/>
<rect x="68.9" y="462.6" width=".8" height=".8" fill="#5f95c8"/>
<rect x="61.8" y="468.7" width=".8" height=".8" fill="#5f95c8"/>
<rect x="64.6" y="470.2" width=".8" height=".8" fill="#5f95c8"/>
<rect x="52.2" y="490.0" width=".8" height=".8" fill="#5f95c8"/>
<rect x="65.4" y="487.2" width=".8" height=".8" fill="#5f95c8"/>
<rect x="59.7" y="471.2" width=".8" height=".8" fill="#5f95c8"/>
<rect x="88.0" y="458.4" width=".8" height=".8" fill="#5f95c8"/>
<rect x="56.3" y="462.0" width=".8" height=".8" fill="#5f95c8"/>
<rect x="69.7" y="475.6" width=".8" height=".8" fill="#5f95c8"/>
<rect x="75.3" y="465.2" width=".8" height=".8" fill="#5f95c8"/>
<rect x="55.6" y="463.2" width=".8" height=".8" fill="#5f95c8"/>
<rect x="74.9" y="473.1" width=".8" height=".8" fill="#5f95c8"/>
<rect x="53.2" y="467.6" width=".8" height=".8" fill="#5f95c8"/>
<rect x="76.0" y="491.4" width=".8" height=".8" fill="#5f95c8"/>
<rect x="70.3" y="471.4" width=".8" height=".8" fill="#5f95c8"/>
<rect x="58.1" y="458.7" width=".8" height=".8" fill="#5f95c8"/>
<rect x="66.8" y="473.5" width=".8" height=".8" fill="#5f95c8"/>
<rect x="70.4" y="462.7" width=".8" height=".8" fill="#5f95c8"/>
<rect x="58.7" y="459.4" width=".8" height=".8" fill="#5f95c8"/>
<rect x="58.6" y="475.1" width=".8" height=".8" fill="#5f95c8"/>
<rect x="50.8" y="464.3" width=".8" height=".8" fill="#5f95c8"/>
<rect x="69.6" y="484.7" width=".8" height=".8" fill="#5f95c8"/>
<rect x="67.0" y="479.0" width=".8" height=".8" fill="#5f95c8"/>
<rect x="63.8" y="459.8" width=".8" height=".8" fill="#5f95c8"/>
<rect x="61.9" y="484.8" width=".8" height=".8" fill="#5f95c8"/>
<rect x="73.3" y="473.4" width=".8" height=".8" fill="#5f95c8"/>
<rect x="89.1" y="467.6" width=".8" height=".8" fill="#5f95c8"/>
<rect x="70.7" y="471.4" width=".8" height=".8" fill="#5f95c8"/>
<rect x="65.0" y="493.5" width=".8" height=".8" fill="#5f95c8"/>
<rect x="76.7" y="452.6" width=".8" height=".8" fill="#5f95c8"/>
<rect x="63.8" y="472.7" width=".8" height=".8" fill="#5f95c8"/>
<rect x="71.8" y="453.2" width=".8" height=".8" fill="#5f95c8"/>
<rect x="51.2" y="447.0" width=".8" height=".8" fill="#5f95c8"/>
<rect x="66.0" y="466.9" width=".8" height=".8" fill="#5f95c8"/>
<rect x="68.8" y="459.5" width=".8" height=".8" fill="#5f95c8"/>
<rect x="58.2" y="445.7" width=".8" height=".8" fill="#5f95c8"/>
<rect x="68.7" y="472.1" width=".8" height=".8" fill="#5f95c8"/>
<rect x="73.3" y="476.7" width=".8" height=".8" fill="#5f95c8"/>
<rect x="65.2" y="482.8" width=".8" height=".8" fill="#5f95c8"/>
<rect x="65.6" y="460.7" width=".8" height=".8" fill="#5f95c8"/>
<rect x="63.0" y="461.6" width=".8" height=".8" fill="#5f95c8"/>
<rect x="51.8" y="469.7" width=".8" height=".8" fill="#5f95c8"/>
<rect x="68.2" y="464.0" width=".8" height=".8" fill="#5f95c8"/>
<rect x="61.6" y="472.1" width=".8" height=".8" fill="#5f95c8"/>
<rect x="78.2" y="468.4" width=".8" height=".8" fill="#5f95c8"/>
<rect x="63.0" y="461.5" width=".8" height=".8" fill="#5f95c8"/>
<rect x="66.0" y="454.1" width=".8" height=".8" fill="#5f95c8"/>
<rect x="65.6" y="468.7" width=".8" height=".8" fill="#5f95c8"/>
<rect x="79.0" y="478.4" width=".8" height=".8" fill="#5f95c8"/>
<rect x="73.5" y="460.2" width=".8" height=".8" fill="#5f95c8"/>
<rect x="71.1" y="455.5" width=".8" height=".8" fill="#5f95c8"/>
<rect x="68.6" y="472.6" width=".8" height=".8" fill="#5f95c8"/>
<rect x="61.3" y="490.0" width=".8" height=".8" fill="#5f95c8"/>
<rect x="70.4" y="447.1" width=".8" height=".8" fill="#5f95c8"/>
<rect x="70.3" y="463.5" width=".8" height=".8" fill="#5f95c8"/>
<rect x="66.5" y="473.1" width=".8" height=".8" fill="#5f95c8"/>
<rect x="69.2" y="445.6" width=".8" height=".8" fill="#5f95c8"/>
<rect x="58.6" y="476.5" width=".8" height=".8" fill="#5f95c8"/>
<rect x="75.3" y="488.9" width=".8" height=".8" fill="#5f95c8"/>
<rect x="78.8" y="445.4" width=".8" height=".8" fill="#5f95c8"/>
<rect x="71.7" y="446.9" width=".8" height=".8" fill="#5f95c8"/>
<rect x="77.5" y="470.8" width=".8" height=".8" fill="#5f95c8"/>
<rect x="58.7" y="490.1" width=".8" height=".8" fill="#5f95c8"/>
<rect x="70.9" y="447.2" width=".8" height=".8" fill="#5f95c8"/>
<rect x="68.5" y="460.0" width=".8" height=".8" fill="#5f95c8"/>
<rect x="67.3" y="462.9" width=".8" height=".8" fill="#5f95c8"/>
<rect x="75.8" y="452.3" width=".8" height=".8" fill="#5f95c8"/>
<rect x="68.7" y="488.0" width=".8" height=".8" fill="#5f95c8"/>
<rect x="60.9" y="470.3" width=".8" height=".8" fill="#5f95c8"/>
<rect x="67.9" y="460.4" width=".8" height=".8" fill="#5f95c8"/>
<rect x="70.9" y="469.1" width=".8" height=".8" fill="#5f95c8"/>
<rect x="60.1" y="487.4" width=".8" height=".8" fill="#5f95c8"/>
<rect x="71.9" y="466.2" width=".8" height=".8" fill="#5f95c8"/>
<rect x="62.2" y="459.4" width=".8" height=".8" fill="#5f95c8"/>
<rect x="74.9" y="466.4" width=".8" height=".8" fill="#5f95c8"/>
<rect x="69.6" y="466.0" width=".8" height=".8" fill="#5f95c8"/>
<rect x="70.7" y="466.7" width=".8" height=".8" fill="#5f95c8"/>
<rect x="71.7" y="466.0" width=".8" height=".8" fill="#5f95c8"/>
<rect x="72.1" y="475.4" width=".8" height=".8" fill="#5f95c8"/>
<rect x="65.7" y="458.5" width=".8" height=".8" fill="#5f95c8"/>
<rect x="60.1" y="459.9" width=".8" height=".8" fill="#5f95c8"/>
<rect x="59.8" y="477.5" width=".8" height=".8" fill="#5f95c8"/>
<rect x="66.2" y="485.3" width=".8" height=".8" fill="#5f95c8"/>
<rect x="82.0" y="468.3" width=".8" height=".8" fill="#5f95c8"/>
<rect x="56.0" y="463.8" width=".8" height=".8" fill="#5f95c8"/>
<rect x="66.0" y="451.6" width=".8" height=".8" fill="#5f95c8"/>
<rect x="64.8" y="471.2" width=".8" height=".8" fill="#5f95c8"/>
<rect x="63.4" y="459.5" width=".8" height=".8" fill="#5f95c8"/>
<rect x="61.3" y="487.7" width=".8" height=".8" fill="#5f95c8"/>
<rect x="65.4" y="458.9" width=".8" height=".8" fill="#5f95c8"/>
<rect x="64.0" y="478.5" width=".8" height=".8" fill="#5f95c8"/>
<rect x="61.8" y="473.3" width=".8" height=".8" fill="#5f95c8"/>
<rect x="71.4" y="476.2" width=".8" height=".8" fill="#5f95c8"/>
<rect x="76.0" y="461.9" width=".8" height=".8" fill="#5f95c8"/>
<rect x="74.2" y="459.3" width=".8" height=".8" fill="#5f95c8"/>
<rect x="63.8" y="481.2" width=".8" height=".8" fill="#5f95c8"/>
<rect x="72.1" y="468.0" width=".8" height=".8" fill="#5f95c8"/>
<rect x="58.4" y="474.2" width=".8" height=".8" fill="#5f95c8"/>
<rect x="62.2" y="457.8" width=".8" height=".8" fill="#5f95c8"/>
<rect x="62.1" y="470.7" width=".8" height=".8" fill="#5f95c8"/>
<rect x="52.1" y="472.0" width=".8" height=".8" fill="#5f95c8"/>
<rect x="67.7" y="461.6" width=".8" height=".8" fill="#5f95c8"/>
<rect x="73.6" y="474.7" width=".8" height=".8" fill="#5f95c8"/>
<rect x="62.4" y="460.6" width=".8" height=".8" fill="#5f95c8"/>
<rect x="71.2" y="451.3" width=".8" height=".8" fill="#5f95c8"/>
<rect x="64.2" y="461.1" width=".8" height=".8" fill="#5f95c8"/>
<rect x="67.0" y="470.3" width=".8" height=".8" fill="#5f95c8"/>
<rect x="66.8" y="480.5" width=".8" height=".8" fill="#5f95c8"/>
<rect x="68.1" y="464.5" width=".8" height=".8" fill="#5f95c8"/>
<rect x="58.3" y="475.9" width=".8" height=".8" fill="#5f95c8"/>
<rect x="70.1" y="484.0" width=".8" height=".8" fill="#5f95c8"/>
<rect x="61.4" y="468.3" width=".8" height=".8" fill="#5f95c8"/>
<rect x="66.1" y="467.0" width=".8" height=".8" fill="#5f95c8"/>
<rect x="66.6" y="449.1" width=".8" height=".8" fill="#5f95c8"/>
<rect x="72.1" y="475.2" width=".8" height=".8" fill="#5f95c8"/>
<rect x="74.2" y="492.7" width=".8" height=".8" fill="#5f95c8"/>
<rect x="64.3" y="467.6" width=".8" height=".8" fill="#5f95c8"/>
<rect x="66.6" y="489.4" width=".8" height=".8" fill="#5f95c8"/>
<rect x="54.7" y="473.3" width=".8" height=".8" fill="#5f95c8"/>
<rect x="52.8" y="452.8" width=".8" height=".8" fill="#5f95c8"/>
<rect x="73.8" y="458.4" width=".8" height=".8" fill="#5f95c8"/>
<rect x="65.0" y="455.2" width=".8" height=".8" fill="#5f95c8"/>
<rect x="70.7" y="455.9" width=".8" height=".8" fill="#5f95c8"/>
<rect x="75.5" y="457.1" width=".8" height=".8" fill="#5f95c8"/>
<rect x="61.3" y="469.4" width=".8" height=".8" fill="#5f95c8"/>
<rect x="66.7" y="483.7" width=".8" height=".8" fill="#5f95c8"/>
<rect x="67.3" y="454.7" width=".8" height=".8" fill="#5f95c8"/>
<rect x="62.7" y="461.7" width=".8" height=".8" fill="#5f95c8"/>
<rect x="71.4" y="472.2" width=".8" height=".8" fill="#5f95c8"/>
<rect x="65.7" y="477.6" width=".8" height=".8" fill="#5f95c8"/>
<rect x="62.9" y="466.5" width=".8" height=".8" fill="#5f95c8"/>
<rect x="67.7" y="484.8" width=".8" height=".8" fill="#5f95c8"/>
<rect x="65.8" y="464.1" width=".8" height=".8" fill="#5f95c8"/>
<rect x="59.4" y="475.5" width=".8" height=".8" fill="#5f95c8"/>
<rect x="62.5" y="471.8" width=".8" height=".8" fill="#5f95c8"/>
<rect x="53.6" y="479.5" width=".8" height=".8" fill="#5f95c8"/>
<rect x="57.4" y="459.4" width=".8" height=".8" fill="#5f95c8"/>
<rect x="73.7" y="453.3" width=".8" height=".8" fill="#5f95c8"/>
<rect x="66.0" y="468.8" width=".8" height=".8" fill="#5f95c8"/>
<rect x="59.7" y="482.8" width=".8" height=".8" fill="#5f95c8"/>
<rect x="76.7" y="446.3" width=".8" height=".8" fill="#5f95c8"/>
<rect x="56.6" y="476.9" width=".8" height=".8" fill="#5f95c8"/>
<rect x="57.6" y="463.7" width=".8" height=".8" fill="#5f95c8"/>
<rect x="67.4" y="475.6" width=".8" height=".8" fill="#5f95c8"/>
<rect x="65.0" y="469.0" width=".8" height=".8" fill="#5f95c8"/>
<rect x="61.2" y="482.2" width=".8" height=".8" fill="#5f95c8"/>
<rect x="63.1" y="471.7" width=".8" height=".8" fill="#5f95c8"/>
<rect x="63.0" y="469.2" width=".8" height=".8" fill="#5f95c8"/>
<rect x="65.4" y="466.2" width=".8" height=".8" fill="#5f95c8"/>
<rect x="59.6" y="476.8" width=".8" height=".8" fill="#5f95c8"/>
<rect x="76.1" y="470.7" width=".8" height=".8" fill="#5f95c8"/>
<rect x="71.5" y="477.2" width=".8" height=".8" fill="#5f95c8"/>
<rect x="72.8" y="471.3" width=".8" height=".8" fill="#5f95c8"/>
<rect x="67.9" y="477.5" width=".8" height=".8" fill="#5f95c8"/>
<rect x="67.0" y="457.3" width=".8" height=".8" fill="#5f95c8"/>
<rect x="66.7" y="447.2" width=".8" height=".8" fill="#5f95c8"/>
<rect x="66.5" y="472.5" width=".8" height=".8" fill="#5f95c8"/>
<rect x="74.9" y="469.7" width=".8" height=".8" fill="#5f95c8"/>
<rect x="72.8" y="468.0" width=".8" height=".8" fill="#5f95c8"/>
<rect x="59.5" y="452.5" width=".8" height=".8" fill="#5f95c8"/>
<rect x="59.9" y="453.0" width=".8" height=".8" fill="#5f95c8"/>
<rect x="70.8" y="465.7" width=".8" height=".8" fill="#5f95c8"/>
<rect x="70.4" y="468.8" width=".8" height=".8" fill="#5f95c8"/>
<rect x="73.6" y="479.7" width=".8" height=".8" fill="#5f95c8"/>
<rect x="62.1" y="465.0" width=".8" height=".8" fill="#5f95c8"/>
<rect x="62.9" y="450.2" width=".8" height=".8" fill="#5f95c8"/>
<rect x="71.1" y="481.1" width=".8" height=".8" fill="#5f95c8"/>
<rect x="66.5" y="462.6" width=".8" height=".8" fill="#5f95c8"/>
<rect x="67.7" y="469.6" width=".8" height=".8" fill="#5f95c8"/>
<rect x="62.6" y="483.3" width=".8" height=".8" fill="#5f95c8"/>
<rect x="73.1" y="465.1" width=".8" height=".8" fill="#5f95c8"/>
<rect x="65.9" y="463.7" width=".8" height=".8" fill="#5f95c8"/>
<rect x="63.0" y="453.6" width=".8" height=".8" fill="#5f95c8"/>
<rect x="75.9" y="479.3" width=".8" height=".8" fill="#5f95c8"/>
<rect x="71.9" y="456.0" width=".8" height=".8" fill="#5f95c8"/>
<rect x="80.6" y="489.8" width=".8" height=".8" fill="#5f95c8"/>
<rect x="67.8" y="458.1" width=".8" height=".8" fill="#5f95c8"/>
<rect x="60.6" y="472.6" width=".8" height=".8" fill="#5f95c8"/>
<rect x="60.3" y="467.6" width=".8" height=".8" fill="#5f95c8"/>
<rect x="73.9" y="451.4" width=".8" height=".8" fill="#5f95c8"/>
<rect x="80.1" y="485.2" width=".8" height=".8" fill="#5f95c8"/>
<rect x="58.1" y="452.4" width=".8" height=".8" fill="#5f95c8"/>
<rect x="64.6" y="456.7" width=".8" height=".8" fill="#5f95c8"/>
<rect x="64.9" y="487.8" width=".8" height=".8" fill="#5f95c8"/>
<rect x="58.9" y="465.0" width=".8" height=".8" fill="#5f95c8"/>
<rect x="56.4" y="475.0" width=".8" height=".8" fill="#5f95c8"/>
<rect x="65.0" y="489.3" width=".8" height=".8" fill="#5f95c8"/>
<rect x="67.9" y="463.9" width=".8" height=".8" fill="#5f95c8"/>
<rect x="70.2" y="462.4" width=".8" height=".8" fill="#5f95c8"/>
<rect x="57.4" y="471.3" width=".8" height=".8" fill="#5f95c8"/>
<rect x="65.3" y="469.8" width=".8" height=".8" fill="#5f95c8"/>
<rect x="69.1" y="462.4" width=".8" height=".8" fill="#5f95c8"/>
<rect x="69.4" y="487.1" width=".8" height=".8" fill="#5f95c8"/>
<rect x="59.0" y="487.1" width=".8" height=".8" fill="#5f95c8"/>
<rect x="64.8" y="459.6" width=".8" height=".8" fill="#5f95c8"/>
<rect x="83.0" y="469.7" width=".8" height=".8" fill="#5f95c8"/>
<rect x="75.8" y="477.0" width=".8" height=".8" fill="#5f95c8"/>
<rect x="55.1" y="469.3" width=".8" height=".8" fill="#5f95c8"/>
<rect x="62.9" y="453.2" width=".8" height=".8" fill="#5f95c8"/>
<rect x="54.5" y="469.1" width=".8" height=".8" fill="#5f95c8"/>
<rect x="70.5" y="472.3" width=".8" height=".8" fill="#5f95c8"/>
<rect x="64.4" y="459.2" width=".8" height=".8" fill="#5f95c8"/>
<rect x="59.8" y="461.9" width=".8" height=".8" fill="#5f95c8"/>
<rect x="59.5" y="465.8" width=".8" height=".8" fill="#5f95c8"/>
<rect x="66.3" y="458.1" width=".8" height=".8" fill="#5f95c8"/>
<rect x="64.9" y="459.6" width=".8" height=".8" fill="#5f95c8"/>
<rect x="66.5" y="473.6" width=".8" height=".8" fill="#5f95c8"/>
<rect x="67.7" y="473.2" width=".8" height=".8" fill="#5f95c8"/>
<rect x="55.3" y="463.8" width=".8" height=".8" fill="#5f95c8"/>
<rect x="68.4" y="475.1" width=".8" height=".8" fill="#5f95c8"/>
<rect x="55.6" y="469.8" width=".8" height=".8" fill="#5f95c8"/>
<rect x="74.7" y="466.0" width=".8" height=".8" fill="#5f95c8"/>
<rect x="65.9" y="473.0" width=".8" height=".8" fill="#5f95c8"/>
<rect x="68.2" y="475.4" width=".8" height=".8" fill="#5f95c8"/>
<rect x="67.0" y="469.7" width=".8" height=".8" fill="#5f95c8"/>
<rect x="61.2" y="466.1" width=".8" height=".8" fill="#5f95c8"/>
<rect x="75.0" y="465.8" width=".8" height=".8" fill="#5f95c8"/>
<rect x="65.4" y="462.6" width=".8" height=".8" fill="#5f95c8"/>
<rect x="71.9" y="458.6" width=".8" height=".8" fill="#5f95c8"/>
<rect x="72.7" y="457.7" width=".8" height=".8" fill="#5f95c8"/>
<rect x="59.3" y="470.3" width=".8" height=".8" fill="#5f95c8"/>
<rect x="67.4" y="471.3" width=".8" height=".8" fill="#5f95c8"/>
<rect x="73.7" y="463.5" width=".8" height=".8" fill="#5f95c8"/>
<rect x="69.5" y="458.0" width=".8" height=".8" fill="#5f95c8"/>
<rect x="75.1" y="475.0" width=".8" height=".8" fill="#5f95c8"/>
<rect x="70.1" y="470.1" width=".8" height=".8" fill="#5f95c8"/>
<rect x="61.2" y="464.4" width=".8" height=".8" fill="#5f95c8"/>
<rect x="69.9" y="467.8" width=".8" height=".8" fill="#5f95c8"/>
<rect x="67.3" y="453.0" width=".8" height=".8" fill="#5f95c8"/>
<rect x="67.7" y="460.4" width=".8" height=".8" fill="#5f95c8"/>
<rect x="59.1" y="466.3" width=".8" height=".8" fill="#5f95c8"/>
<rect x="53.9" y="475.7" width=".8" height=".8" fill="#5f95c8"/>
<rect x="72.3" y="467.4" width=".8" height=".8" fill="#5f95c8"/>
<rect x="59.7" y="457.6" width=".8" height=".8" fill="#5f95c8"/>
<rect x="67.7" y="475.3" width=".8" height=".8" fill="#5f95c8"/>
<rect x="64.4" y="462.6" width=".8" height=".8" fill="#5f95c8"/>
<rect x="67.7" y="471.9" width=".8" height=".8" fill="#5f95c8"/>
<rect x="73.9" y="468.2" width=".8" height=".8" fill="#5f95c8"/>
<rect x="61.8" y="462.9" width=".8" height=".8" fill="#5f95c8"/>
<rect x="67.7" y="485.1" width=".8" height=".8" fill="#5f95c8"/>
<rect x="64.3" y="456.4" width=".8" height=".8" fill="#5f95c8"/>
<rect x="60.6" y="444.9" width=".8" height=".8" fill="#5f95c8"/>
<rect x="68.7" y="453.0" width=".8" height=".8" fill="#5f95c8"/>
<rect x="58.1" y="446.3" width=".8" height=".8" fill="#5f95c8"/>
<rect x="58.9" y="474.3" width=".8" height=".8" fill="#5f95c8"/>
<rect x="57.6" y="448.8" width=".8" height=".8" fill="#5f95c8"/>
<rect x="67.7" y="464.2" width=".8" height=".8" fill="#5f95c8"/>
<rect x="69.4" y="476.1" width=".8" height=".8" fill="#5f95c8"/>
<rect x="66.4" y="453.7" width=".8" height=".8" fill="#5f95c8"/>
<rect x="65.7" y="473.5" width=".8" height=".8" fill="#5f95c8"/>
<rect x="62.5" y="452.2" width=".8" height=".8" fill="#5f95c8"/>
<rect x="74.0" y="463.4" width=".8" height=".8" fill="#5f95c8"/>
<rect x="63.7" y="468.2" width=".8" height=".8" fill="#5f95c8"/>
<rect x="73.5" y="470.9" width=".8" height=".8" fill="#5f95c8"/>
<rect x="64.2" y="475.5" width=".8" height=".8" fill="#5f95c8"/>
<rect x="81.1" y="483.3" width=".8" height=".8" fill="#5f95c8"/>
<rect x="71.1" y="455.7" width=".8" height=".8" fill="#5f95c8"/>
<rect x="92.0" y="454.8" width=".8" height=".8" fill="#5f95c8"/>
<rect x="64.0" y="460.3" width=".8" height=".8" fill="#5f95c8"/>
<rect x="77.6" y="472.6" width=".8" height=".8" fill="#5f95c8"/>
<rect x="56.8" y="470.9" width=".8" height=".8" fill="#5f95c8"/>
<rect x="70.2" y="464.5" width=".8" height=".8" fill="#5f95c8"/>
<rect x="58.2" y="460.0" width=".8" height=".8" fill="#5f95c8"/>
<rect x="63.5" y="468.3" width=".8" height=".8" fill="#5f95c8"/>
<rect x="63.0" y="476.1" width=".8" height=".8" fill="#5f95c8"/>
<rect x="60.0" y="449.0" width=".8" height=".8" fill="#5f95c8"/>
<rect x="61.5" y="482.8" width=".8" height=".8" fill="#5f95c8"/>
<rect x="62.6" y="493.7" width=".8" height=".8" fill="#5f95c8"/>
<rect x="69.8" y="455.2" width=".8" height=".8" fill="#5f95c8"/>
<rect x="60.8" y="470.7" width=".8" height=".8" fill="#5f95c8"/>
<rect x="58.5" y="494.1" width=".8" height=".8" fill="#5f95c8"/>
<rect x="59.8" y="475.5" width=".8" height=".8" fill="#5f95c8"/>
<rect x="76.4" y="466.8" width=".8" height=".8" fill="#5f95c8"/>
<rect x="59.7" y="465.0" width=".8" height=".8" fill="#5f95c8"/>
<rect x="69.0" y="477.6" width=".8" height=".8" fill="#5f95c8"/>
<rect x="66.9" y="452.6" width=".8" height=".8" fill="#5f95c8"/>
<rect x="66.8" y="460.6" width=".8" height=".8" fill="#5f95c8"/>
<rect x="51.7" y="460.3" width=".8" height=".8" fill="#5f95c8"/>
<rect x="56.8" y="474.5" width=".8" height=".8" fill="#5f95c8"/>
<rect x="79.7" y="488.4" width=".8" height=".8" fill="#5f95c8"/>
<rect x="62.6" y="462.9" width=".8" height=".8" fill="#5f95c8"/>
<rect x="71.2" y="479.7" width=".8" height=".8" fill="#5f95c8"/>
<rect x="63.7" y="466.4" width=".8" height=".8" fill="#5f95c8"/>
<rect x="81.5" y="466.8" width=".8" height=".8" fill="#5f95c8"/>
<rect x="63.2" y="469.3" width=".8" height=".8" fill="#5f95c8"/>
<rect x="70.4" y="456.8" width=".8" height=".8" fill="#5f95c8"/>
<rect x="64.8" y="455.2" width=".8" height=".8" fill="#5f95c8"/>
<rect x="64.6" y="488.6" width=".8" height=".8" fill="#5f95c8"/>
<rect x="71.5" y="467.0" width=".8" height=".8" fill="#5f95c8"/>
<rect x="60.2" y="464.6" width=".8" height=".8" fill="#5f95c8"/>
<rect x="73.6" y="461.8" width=".8" height=".8" fill="#5f95c8"/>
<rect x="76.4" y="452.9" width=".8" height=".8" fill="#5f95c8"/>
<rect x="64.5" y="487.2" width=".8" height=".8" fill="#5f95c8"/>
<rect x="52.8" y="481.1" width=".8" height=".8" fill="#5f95c8"/>
<rect x="53.9" y="467.0" width=".8" height=".8" fill="#5f95c8"/>
<rect x="65.3" y="477.1" width=".8" height=".8" fill="#5f95c8"/>
<rect x="45.0" y="446.9" width=".8" height=".8" fill="#5f95c8"/>
<rect x="62.7" y="468.4" width=".8" height=".8" fill="#5f95c8"/>
<rect x="60.4" y="465.6" width=".8" height=".8" fill="#5f95c8"/>
<rect x="58.4" y="463.6" width=".8" height=".8" fill="#5f95c8"/>
<rect x="60.7" y="470.7" width=".8" height=".8" fill="#5f95c8"/>
<rect x="70.5" y="483.8" width=".8" height=".8" fill="#5f95c8"/>
<rect x="62.0" y="464.5" width=".8" height=".8" fill="#5f95c8"/>
<rect x="66.8" y="464.8" width=".8" height=".8" fill="#5f95c8"/>
<rect x="66.1" y="450.8" width=".8" height=".8" fill="#5f95c8"/>
<rect x="69.0" y="457.9" width=".8" height=".8" fill="#5f95c8"/>
<rect x="60.0" y="450.5" width=".8" height=".8" fill="#5f95c8"/>
<rect x="74.4" y="466.5" width=".8" height=".8" fill="#5f95c8"/>
<rect x="74.3" y="471.0" width=".8" height=".8" fill="#5f95c8"/>
<rect x="54.9" y="456.1" width=".8" height=".8" fill="#5f95c8"/>
<rect x="71.7" y="459.6" width=".8" height=".8" fill="#5f95c8"/>
<rect x="59.1" y="466.0" width=".8" height=".8" fill="#5f95c8"/>
<rect x="65.3" y="456.9" width=".8" height=".8" fill="#5f95c8"/>
<rect x="64.3" y="462.7" width=".8" height=".8" fill="#5f95c8"/>
<rect x="48.9" y="473.5" width=".8" height=".8" fill="#5f95c8"/>
<rect x="61.0" y="482.3" width=".8" height=".8" fill="#5f95c8"/>
<rect x="58.7" y="450.6" width=".8" height=".8" fill="#5f95c8"/>
<rect x="74.6" y="450.6" width=".8" height=".8" fill="#5f95c8"/>
<rect x="62.2" y="474.6" width=".8" height=".8" fill="#5f95c8"/>
<rect x="64.3" y="449.8" width=".8" height=".8" fill="#5f95c8"/>
<rect x="67.8" y="465.9" width=".8" height=".8" fill="#5f95c8"/>
<rect x="75.2" y="474.5" width=".8" height=".8" fill="#5f95c8"/>
<rect x="87.1" y="449.9" width=".8" height=".8" fill="#5f95c8"/>
<rect x="66.4" y="456.3" width=".8" height=".8" fill="#5f95c8"/>
<rect x="74.4" y="477.0" width=".8" height=".8" fill="#5f95c8"/>
<rect x="71.6" y="459.4" width=".8" height=".8" fill="#5f95c8"/>
<rect x="61.4" y="445.7" width=".8" height=".8" fill="#5f95c8"/>
<rect x="78.1" y="473.6" width=".8" height=".8" fill="#5f95c8"/>
<rect x="64.7" y="478.3" width=".8" height=".8" fill="#5f95c8"/>
<rect x="71.6" y="478.7" width=".8" height=".8" fill="#5f95c8"/>
<rect x="55.5" y="460.1" width=".8" height=".8" fill="#5f95c8"/>
<rect x="67.8" y="471.9" width=".8" height=".8" fill="#5f95c8"/>
<rect x="73.0" y="456.9" width=".8" height=".8" fill="#5f95c8"/>
<rect x="67.4" y="492.3" width=".8" height=".8" fill="#5f95c8"/>
<rect x="71.2" y="477.6" width=".8" height=".8" fill="#5f95c8"/>
<rect x="66.4" y="476.4" width=".8" height=".8" fill="#5f95c8"/>
<rect x="78.8" y="469.2" width=".8" height=".8" fill="#5f95c8"/>
<rect x="74.8" y="458.4" width=".8" height=".8" fill="#5f95c8"/>
<rect x="70.5" y="477.9" width=".8" height=".8" fill="#5f95c8"/>
<rect x="61.4" y="480.1" width=".8" height=".8" fill="#5f95c8"/>
<rect x="61.9" y="459.1" width=".8" height=".8" fill="#5f95c8"/>
<rect x="66.5" y="489.3" width=".8" height=".8" fill="#5f95c8"/>
<rect x="68.6" y="478.3" width=".8" height=".8" fill="#5f95c8"/>
<rect x="61.5" y="468.9" width=".8" height=".8" fill="#5f95c8"/>
<rect x="58.5" y="461.7" width=".8" height=".8" fill="#5f95c8"/>
<rect x="72.2" y="467.6" width=".8" height=".8" fill="#5f95c8"/>
<rect x="76.4" y="465.8" width=".8" height=".8" fill="#5f95c8"/>
<rect x="65.2" y="482.0" width=".8" height=".8" fill="#5f95c8"/>
<rect x="62.1" y="451.3" width=".8" height=".8" fill="#5f95c8"/>
<rect x="75.3" y="472.6" width=".8" height=".8" fill="#5f95c8"/>
<rect x="51.8" y="468.5" width=".8" height=".8" fill="#5f95c8"/>
<rect x="63.8" y="487.2" width=".8" height=".8" fill="#5f95c8"/>
<rect x="61.5" y="461.6" width=".8" height=".8" fill="#5f95c8"/>
<rect x="60.3" y="456.4" width=".8" height=".8" fill="#5f95c8"/>
<rect x="61.7" y="452.2" width=".8" height=".8" fill="#5f95c8"/>
<rect x="59.5" y="450.3" width=".8" height=".8" fill="#5f95c8"/>
<rect x="56.3" y="450.8" width=".8" height=".8" fill="#5f95c8"/>
<rect x="63.0" y="460.5" width=".8" height=".8" fill="#5f95c8"/>
<rect x="58.2" y="473.3" width=".8" height=".8" fill="#5f95c8"/>
<rect x="66.2" y="463.2" width=".8" height=".8" fill="#5f95c8"/>
<rect x="63.3" y="485.5" width=".8" height=".8" fill="#5f95c8"/>
<rect x="68.1" y="473.2" width=".8" height=".8" fill="#5f95c8"/>
<rect x="48.9" y="460.8" width=".8" height=".8" fill="#5f95c8"/>
<rect x="51.7" y="463.3" width=".8" height=".8" fill="#5f95c8"/>
<rect x="69.0" y="460.6" width=".8" height=".8" fill="#5f95c8"/>
<rect x="70.0" y="456.7" width=".8" height=".8" fill="#5f95c8"/>
<rect x="70.4" y="450.9" width=".8" height=".8" fill="#5f95c8"/>
<rect x="64.7" y="472.6" width=".8" height=".8" fill="#5f95c8"/>
<rect x="70.1" y="466.6" width=".8" height=".8" fill="#5f95c8"/>
<rect x="79.7" y="463.4" width=".8" height=".8" fill="#5f95c8"/>
<rect x="78.5" y="463.9" width=".8" height=".8" fill="#5f95c8"/>
<rect x="58.5" y="482.5" width=".8" height=".8" fill="#5f95c8"/>
<rect x="74.9" y="469.2" width=".8" height=".8" fill="#5f95c8"/>
<rect x="56.7" y="472.6" width=".8" height=".8" fill="#5f95c8"/>
<rect x="62.3" y="455.1" width=".8" height=".8" fill="#5f95c8"/>
<rect x="73.6" y="444.5" width=".8" height=".8" fill="#5f95c8"/>
<rect x="70.4" y="473.1" width=".8" height=".8" fill="#5f95c8"/>
<rect x="80.4" y="471.6" width=".8" height=".8" fill="#5f95c8"/>
<rect x="52.5" y="458.8" width=".8" height=".8" fill="#5f95c8"/>
<rect x="66.9" y="471.9" width=".8" height=".8" fill="#5f95c8"/>
<rect x="73.2" y="446.4" width=".8" height=".8" fill="#5f95c8"/>
<rect x="64.3" y="478.7" width=".8" height=".8" fill="#5f95c8"/>
<rect x="77.0" y="488.5" width=".8" height=".8" fill="#5f95c8"/>
<rect x="63.8" y="480.1" width=".8" height=".8" fill="#5f95c8"/>
<rect x="78.1" y="481.2" width=".8" height=".8" fill="#5f95c8"/>
<rect x="71.4" y="477.1" width=".8" height=".8" fill="#5f95c8"/>
<rect x="61.1" y="452.1" width=".8" height=".8" fill="#5f95c8"/>
<rect x="73.2" y="464.2" width=".8" height=".8" fill="#5f95c8"/>
<rect x="66.3" y="461.6" width=".8" height=".8" fill="#5f95c8"/>
<rect x="63.8" y="470.6" width=".8" height=".8" fill="#5f95c8"/>
<rect x="59.6" y="468.8" width=".8" height=".8" fill="#5f95c8"/>
<rect x="68.2" y="467.1" width=".8" height=".8" fill="#5f95c8"/>
<rect x="61.4" y="476.7" width=".8" height=".8" fill="#5f95c8"/>
<rect x="79.2" y="461.4" width=".8" height=".8" fill="#5f95c8"/>
<rect x="74.9" y="477.8" width=".8" height=".8" fill="#5f95c8"/>
<rect x="48.5" y="459.6" width=".8" height=".8" fill="#5f95c8"/>
<rect x="62.2" y="476.6" width=".8" height=".8" fill="#5f95c8"/>
<rect x="67.8" y="473.2" width=".8" height=".8" fill="#5f95c8"/>
<rect x="70.8" y="458.1" width=".8" height=".8" fill="#5f95c8"/>
<rect x="61.4" y="454.5" width=".8" height=".8" fill="#5f95c8"/>
<rect x="65.3" y="466.7" width=".8" height=".8" fill="#5f95c8"/>
<rect x="67.7" y="460.0" width=".8" height=".8" fill="#5f95c8"/>
<rect x="72.7" y="478.1" width=".8" height=".8" fill="#5f95c8"/>
<rect x="77.0" y="475.8" width=".8" height=".8" fill="#5f95c8"/>
<rect x="67.8" y="475.4" width=".8" height=".8" fill="#5f95c8"/>
<rect x="70.6" y="460.8" width=".8" height=".8" fill="#5f95c8"/>
<rect x="75.3" y="486.9" width=".8" height=".8" fill="#5f95c8"/>
<rect x="79.9" y="468.4" width=".8" height=".8" fill="#5f95c8"/>
<rect x="68.7" y="472.6" width=".8" height=".8" fill="#5f95c8"/>
<rect x="66.5" y="474.8" width=".8" height=".8" fill="#5f95c8"/>
<rect x="65.7" y="465.9" width=".8" height=".8" fill="#5f95c8"/>
<rect x="78.5" y="469.8" width=".8" height=".8" fill="#5f95c8"/>
<rect x="67.0" y="477.7" width=".8" height=".8" fill="#5f95c8"/>
<rect x="67.5" y="471.2" width=".8" height=".8" fill="#5f95c8"/>
<rect x="66.1" y="454.6" width=".8" height=".8" fill="#5f95c8"/>
<rect x="66.3" y="455.5" width=".8" height=".8" fill="#5f95c8"/>
<rect x="67.9" y="455.0" width=".8" height=".8" fill="#5f95c8"/>
<rect x="72.7" y="476.2" width=".8" height=".8" fill="#5f95c8"/>
<rect x="68.4" y="466.9" width=".8" height=".8" fill="#5f95c8"/>
<rect x="69.3" y="446.4" width=".8" height=".8" fill="#5f95c8"/>
<rect x="59.0" y="466.4" width=".8" height=".8" fill="#5f95c8"/>
<rect x="68.8" y="467.1" width=".8" height=".8" fill="#5f95c8"/>
<rect x="59.7" y="469.5" width=".8" height=".8" fill="#5f95c8"/>
<rect x="63.4" y="456.2" width=".8" height=".8" fill="#5f95c8"/>
<rect x="68.7" y="465.7" width=".8" height=".8" fill="#5f95c8"/>
<rect x="74.6" y="475.3" width=".8" height=".8" fill="#5f95c8"/>
<rect x="71.5" y="471.5" width=".8" height=".8" fill="#5f95c8"/>
<rect x="60.8" y="457.7" width=".8" height=".8" fill="#5f95c8"/>
<rect x="56.5" y="499.7" width=".8" height=".8" fill="#5f95c8"/>
<rect x="59.2" y="465.7" width=".8" height=".8" fill="#5f95c8"/>
<rect x="64.0" y="464.9" width=".8" height=".8" fill="#5f95c8"/>
<rect x="62.5" y="447.4" width=".8" height=".8" fill="#5f95c8"/>
<rect x="59.7" y="452.7" width=".8" height=".8" fill="#5f95c8"/>
<rect x="65.6" y="460.5" width=".8" height=".8" fill="#5f95c8"/>
<rect x="61.8" y="470.4" width=".8" height=".8" fill="#5f95c8"/>
<rect x="62.5" y="478.3" width=".8" height=".8" fill="#5f95c8"/>
<rect x="63.9" y="470.5" width=".8" height=".8" fill="#5f95c8"/>
<rect x="57.5" y="475.2" width=".8" height=".8" fill="#5f95c8"/>
<rect x="63.7" y="472.5" width=".8" height=".8" fill="#5f95c8"/>
<rect x="68.7" y="466.1" width=".8" height=".8" fill="#5f95c8"/>
<rect x="68.0" y="463.8" width=".8" height=".8" fill="#5f95c8"/>
<rect x="75.7" y="478.3" width=".8" height=".8" fill="#5f95c8"/>
<rect x="69.8" y="455.0" width=".8" height=".8" fill="#5f95c8"/>
<rect x="59.0" y="460.7" width=".8" height=".8" fill="#5f95c8"/>
<rect x="64.8" y="472.9" width=".8" height=".8" fill="#5f95c8"/>
<rect x="60.4" y="480.9" width=".8" height=".8" fill="#5f95c8"/>
<rect x="66.5" y="445.9" width=".8" height=".8" fill="#5f95c8"/>
<rect x="61.4" y="462.0" width=".8" height=".8" fill="#5f95c8"/>
<rect x="62.3" y="464.4" width=".8" height=".8" fill="#5f95c8"/>
<rect x="63.8" y="461.5" width=".8" height=".8" fill="#5f95c8"/>
<rect x="76.7" y="481.4" width=".8" height=".8" fill="#5f95c8"/>
<rect x="58.7" y="481.8" width=".8" height=".8" fill="#5f95c8"/>
<rect x="55.5" y="459.0" width=".8" height=".8" fill="#5f95c8"/>
<rect x="76.9" y="443.4" width=".8" height=".8" fill="#5f95c8"/>
<rect x="70.4" y="454.2" width=".8" height=".8" fill="#5f95c8"/>
<rect x="65.5" y="466.0" width=".8" height=".8" fill="#5f95c8"/>
<rect x="78.0" y="459.1" width=".8" height=".8" fill="#5f95c8"/>
<rect x="66.0" y="474.9" width=".8" height=".8" fill="#5f95c8"/>
<rect x="64.8" y="459.0" width=".8" height=".8" fill="#5f95c8"/>
<rect x="66.1" y="469.0" width=".8" height=".8" fill="#5f95c8"/>
<rect x="72.5" y="457.6" width=".8" height=".8" fill="#5f95c8"/>
<rect x="63.4" y="471.6" width=".8" height=".8" fill="#5f95c8"/>
<rect x="65.4" y="466.0" width=".8" height=".8" fill="#5f95c8"/>
<rect x="66.4" y="460.3" width=".8" height=".8" fill="#5f95c8"/>
<rect x="61.1" y="472.8" width=".8" height=".8" fill="#5f95c8"/>
<rect x="59.1" y="480.8" width=".8" height=".8" fill="#5f95c8"/>
<rect x="68.0" y="454.0" width=".8" height=".8" fill="#5f95c8"/>
<rect x="68.4" y="469.8" width=".8" height=".8" fill="#5f95c8"/>
<rect x="71.7" y="480.7" width=".8" height=".8" fill="#5f95c8"/>
<rect x="64.0" y="460.2" width=".8" height=".8" fill="#5f95c8"/>
<rect x="62.4" y="457.2" width=".8" height=".8" fill="#5f95c8"/>
<rect x="61.4" y="471.1" width=".8" height=".8" fill="#5f95c8"/>
<rect x="66.6" y="462.6" width=".8" height=".8" fill="#5f95c8"/>
<rect x="61.5" y="471.8" width=".8" height=".8" fill="#5f95c8"/>
<rect x="63.1" y="456.6" width=".8" height=".8" fill="#5f95c8"/>
<rect x="65.5" y="465.1" width=".8" height=".8" fill="#5f95c8"/>
<rect x="59.2" y="477.1" width=".8" height=".8" fill="#5f95c8"/>
<rect x="72.3" y="468.4" width=".8" height=".8" fill="#5f95c8"/>
<rect x="67.4" y="473.8" width=".8" height=".8" fill="#5f95c8"/>
<rect x="66.3" y="477.8" width=".8" height=".8" fill="#5f95c8"/>
<rect x="77.8" y="468.9" width=".8" height=".8" fill="#5f95c8"/>
<rect x="69.5" y="477.6" width=".8" height=".8" fill="#5f95c8"/>
<rect x="64.2" y="455.6" width=".8" height=".8" fill="#5f95c8"/>
<rect x="72.7" y="450.7" width=".8" height=".8" fill="#5f95c8"/>
<rect x="78.7" y="477.6" width=".8" height=".8" fill="#5f95c8"/>
<rect x="67.8" y="468.6" width=".8" height=".8" fill="#5f95c8"/>
<rect x="78.4" y="457.6" width=".8" height=".8" fill="#5f95c8"/>
<rect x="58.6" y="461.4" width=".8" height=".8" fill="#5f95c8"/>
<rect x="64.7" y="456.9" width=".8" height=".8" fill="#5f95c8"/>
<rect x="67.5" y="469.5" width=".8" height=".8" fill="#5f95c8"/>
<rect x="61.0" y="485.6" width=".8" height=".8" fill="#5f95c8"/>
<rect x="57.0" y="454.0" width=".8" height=".8" fill="#5f95c8"/>
<rect x="69.1" y="465.7" width=".8" height=".8" fill="#5f95c8"/>
<rect x="69.3" y="461.2" width=".8" height=".8" fill="#5f95c8"/>
<rect x="59.5" y="460.9" width=".8" height=".8" fill="#5f95c8"/>
<rect x="61.9" y="473.8" width=".8" height=".8" fill="#5f95c8"/>
<rect x="63.2" y="476.4" width=".8" height=".8" fill="#5f95c8"/>
<rect x="70.5" y="479.4" width=".8" height=".8" fill="#5f95c8"/>
<rect x="72.6" y="476.6" width=".8" height=".8" fill="#5f95c8"/>
<rect x="71.7" y="462.3" width=".8" height=".8" fill="#5f95c8"/>
<rect x="64.7" y="447.9" width=".8" height=".8" fill="#5f95c8"/>
<rect x="68.5" y="460.6" width=".8" height=".8" fill="#5f95c8"/>
<rect x="69.2" y="473.8" width=".8" height=".8" fill="#5f95c8"/>
<rect x="57.3" y="456.8" width=".8" height=".8" fill="#5f95c8"/>
<rect x="64.1" y="462.3" width=".8" height=".8" fill="#5f95c8"/>
<rect x="67.6" y="455.3" width=".8" height=".8" fill="#5f95c8"/>
<rect x="66.8" y="449.4" width=".8" height=".8" fill="#5f95c8"/>
<rect x="51.8" y="475.9" width=".8" height=".8" fill="#5f95c8"/>
<rect x="57.6" y="461.8" width=".8" height=".8" fill="#5f95c8"/>
<rect x="56.9" y="452.5" width=".8" height=".8" fill="#5f95c8"/>
<rect x="63.8" y="463.5" width=".8" height=".8" fill="#5f95c8"/>
<rect x="73.2" y="472.9" width=".8" height=".8" fill="#5f95c8"/>
<rect x="64.7" y="476.3" width=".8" height=".8" fill="#5f95c8"/>
<rect x="74.1" y="472.5" width=".8" height=".8" fill="#5f95c8"/>
<rect x="63.7" y="479.2" width=".8" height=".8" fill="#5f95c8"/>
<rect x="78.5" y="475.3" width=".8" height=".8" fill="#5f95c8"/>
<rect x="78.5" y="478.2" width=".8" height=".8" fill="#5f95c8"/>
<rect x="72.3" y="456.0" width=".8" height=".8" fill="#5f95c8"/>
<rect x="58.9" y="467.5" width=".8" height=".8" fill="#5f95c8"/>
<rect x="55.1" y="461.5" width=".8" height=".8" fill="#5f95c8"/>
<rect x="72.4" y="460.7" width=".8" height=".8" fill="#5f95c8"/>
<rect x="70.1" y="453.1" width=".8" height=".8" fill="#5f95c8"/>
<rect x="63.1" y="479.3" width=".8" height=".8" fill="#5f95c8"/>
<rect x="67.9" y="471.2" width=".8" height=".8" fill="#5f95c8"/>
<rect x="78.1" y="482.3" width=".8" height=".8" fill="#5f95c8"/>
<rect x="60.5" y="482.5" width=".8" height=".8" fill="#5f95c8"/>
<rect x="62.3" y="467.8" width=".8" height=".8" fill="#5f95c8"/>
<rect x="66.6" y="479.8" width=".8" height=".8" fill="#5f95c8"/>
<rect x="58.8" y="473.0" width=".8" height=".8" fill="#5f95c8"/>
<rect x="70.1" y="476.9" width=".8" height=".8" fill="#5f95c8"/>
<rect x="65.1" y="479.0" width=".8" height=".8" fill="#5f95c8"/>
<rect x="61.7" y="480.6" width=".8" height=".8" fill="#5f95c8"/>
<rect x="68.9" y="452.6" width=".8" height=".8" fill="#5f95c8"/>
<rect x="69.3" y="470.0" width=".8" height=".8" fill="#5f95c8"/>
<rect x="64.1" y="459.9" width=".8" height=".8" fill="#5f95c8"/>
<rect x="64.9" y="452.1" width=".8" height=".8" fill="#5f95c8"/>
<rect x="78.0" y="455.6" width=".8" height=".8" fill="#5f95c8"/>
<rect x="62.0" y="480.6" width=".8" height=".8" fill="#5f95c8"/>
<rect x="70.5" y="475.9" width=".8" height=".8" fill="#5f95c8"/>
<rect x="76.8" y="464.6" width=".8" height=".8" fill="#5f95c8"/>
<rect x="59.4" y="477.3" width=".8" height=".8" fill="#5f95c8"/>
<rect x="71.9" y="464.4" width=".8" height=".8" fill="#5f95c8"/>
<rect x="57.9" y="481.6" width=".8" height=".8" fill="#5f95c8"/>
<rect x="70.4" y="452.9" width=".8" height=".8" fill="#5f95c8"/>
<rect x="71.8" y="452.1" width=".8" height=".8" fill="#5f95c8"/>
<rect x="63.2" y="455.6" width=".8" height=".8" fill="#5f95c8"/>
<rect x="62.2" y="458.8" width=".8" height=".8" fill="#5f95c8"/>
<rect x="62.3" y="476.0" width=".8" height=".8" fill="#5f95c8"/>
<rect x="68.5" y="474.9" width=".8" height=".8" fill="#5f95c8"/>
<rect x="73.9" y="463.9" width=".8" height=".8" fill="#5f95c8"/>
<rect x="67.0" y="473.9" width=".8" height=".8" fill="#5f95c8"/>
<rect x="78.1" y="477.9" width=".8" height=".8" fill="#5f95c8"/>
<rect x="75.9" y="479.2" width=".8" height=".8" fill="#5f95c8"/>
<rect x="73.7" y="448.4" width=".8" height=".8" fill="#5f95c8"/>
<rect x="72.5" y="470.3" width=".8" height=".8" fill="#5f95c8"/>
<rect x="66.9" y="462.2" width=".8" height=".8" fill="#5f95c8"/>
<rect x="63.6" y="472.6" width=".8" height=".8" fill="#5f95c8"/>
<rect x="72.2" y="451.5" width=".8" height=".8" fill="#5f95c8"/>
<rect x="68.0" y="461.8" width=".8" height=".8" fill="#5f95c8"/>
<rect x="60.0" y="472.3" width=".8" height=".8" fill="#5f95c8"/>
<rect x="64.3" y="460.8" width=".8" height=".8" fill="#5f95c8"/>
<rect x="61.3" y="471.1" width=".8" height=".8" fill="#5f95c8"/>
<rect x="66.4" y="456.0" width=".8" height=".8" fill="#5f95c8"/>
<rect x="60.8" y="466.0" width=".8" height=".8" fill="#5f95c8"/>
<rect x="69.3" y="456.5" width=".8" height=".8" fill="#5f95c8"/>
<rect x="69.8" y="458.9" width=".8" height=".8" fill="#5f95c8"/>
<rect x="85.0" y="457.6" width=".8" height=".8" fill="#5f95c8"/>
<rect x="61.1" y="470.1" width=".8" height=".8" fill="#5f95c8"/>
<rect x="60.4" y="477.1" width=".8" height=".8" fill="#5f95c8"/>
<rect x="78.7" y="463.7" width=".8" height=".8" fill="#5f95c8"/>
<rect x="67.7" y="462.3" width=".8" height=".8" fill="#5f95c8"/>
<rect x="66.5" y="483.7" width=".8" height=".8" fill="#5f95c8"/>
<rect x="72.6" y="458.1" width=".8" height=".8" fill="#5f95c8"/>
<rect x="77.0" y="480.8" width=".8" height=".8" fill="#5f95c8"/>
<rect x="69.8" y="460.7" width=".8" height=".8" fill="#5f95c8"/>
<rect x="66.9" y="459.2" width=".8" height=".8" fill="#5f95c8"/>
<rect x="69.7" y="464.5" width=".8" height=".8" fill="#5f95c8"/>
<rect x="51.3" y="478.2" width=".8" height=".8" fill="#5f95c8"/>
<rect x="67.8" y="479.9" width=".8" height=".8" fill="#5f95c8"/>
<rect x="65.6" y="470.1" width=".8" height=".8" fill="#5f95c8"/>
<rect x="74.1" y="472.3" width=".8" height=".8" fill="#5f95c8"/>
<rect x="68.5" y="503.4" width=".8" height=".8" fill="#5f95c8"/>
<rect x="65.4" y="469.9" width=".8" height=".8" fill="#5f95c8"/>
<rect x="78.3" y="459.1" width=".8" height=".8" fill="#5f95c8"/>
<rect x="59.4" y="452.2" width=".8" height=".8" fill="#5f95c8"/>
<rect x="70.1" y="474.9" width=".8" height=".8" fill="#5f95c8"/>
<rect x="71.5" y="453.1" width=".8" height=".8" fill="#5f95c8"/>
<rect x="73.3" y="481.2" width=".8" height=".8" fill="#5f95c8"/>
<rect x="65.8" y="468.4" width=".8" height=".8" fill="#5f95c8"/>
<rect x="71.1" y="472.0" width=".8" height=".8" fill="#5f95c8"/>
<rect x="70.9" y="456.1" width=".8" height=".8" fill="#5f95c8"/>
<rect x="65.3" y="454.7" width=".8" height=".8" fill="#5f95c8"/>
<rect x="70.8" y="473.8" width=".8" height=".8" fill="#5f95c8"/>
<rect x="65.8" y="471.3" width=".8" height=".8" fill="#5f95c8"/>
<rect x="55.9" y="477.4" width=".8" height=".8" fill="#5f95c8"/>
<rect x="63.3" y="469.4" width=".8" height=".8" fill="#5f95c8"/>
<rect x="74.1" y="459.7" width=".8" height=".8" fill="#5f95c8"/>
<rect x="74.6" y="469.4" width=".8" height=".8" fill="#5f95c8"/>
<rect x="66.7" y="474.1" width=".8" height=".8" fill="#5f95c8"/>
<rect x="58.0" y="474.5" width=".8" height=".8" fill="#5f95c8"/>
<rect x="66.9" y="479.4" width=".8" height=".8" fill="#5f95c8"/>
<rect x="65.0" y="464.0" width=".8" height=".8" fill="#5f95c8"/>
<rect x="69.0" y="467.3" width=".8" height=".8" fill="#5f95c8"/>
<rect x="58.5" y="465.9" width=".8" height=".8" fill="#5f95c8"/>
<rect x="75.1" y="467.0" width=".8" height=".8" fill="#5f95c8"/>
<rect x="60.6" y="475.9" width=".8" height=".8" fill="#5f95c8"/>
<rect x="53.9" y="444.7" width=".8" height=".8" fill="#5f95c8"/>
<rect x="66.5" y="470.0" width=".8" height=".8" fill="#5f95c8"/>
<rect x="68.0" y="458.2" width=".8" height=".8" fill="#5f95c8"/>
<rect x="65.5" y="452.6" width=".8" height=".8" fill="#5f95c8"/>
<rect x="68.0" y="450.2" width=".8" height=".8" fill="#5f95c8"/>
<rect x="65.5" y="470.9" width=".8" height=".8" fill="#5f95c8"/>
<rect x="54.6" y="462.3" width=".8" height=".8" fill="#5f95c8"/>
<rect x="71.9" y="485.0" width=".8" height=".8" fill="#5f95c8"/>
<rect x="56.3" y="471.7" width=".8" height=".8" fill="#5f95c8"/>
<rect x="58.1" y="453.2" width=".8" height=".8" fill="#5f95c8"/>
<rect x="77.4" y="475.4" width=".8" height=".8" fill="#5f95c8"/>
<rect x="61.0" y="470.4" width=".8" height=".8" fill="#5f95c8"/>
<rect x="70.9" y="470.0" width=".8" height=".8" fill="#5f95c8"/>
<rect x="81.8" y="474.7" width=".8" height=".8" fill="#5f95c8"/>
<rect x="46.1" y="464.8" width=".8" height=".8" fill="#5f95c8"/>
<rect x="61.5" y="465.8" width=".8" height=".8" fill="#5f95c8"/>
<rect x="66.6" y="460.8" width=".8" height=".8" fill="#5f95c8"/>
<rect x="59.1" y="483.0" width=".8" height=".8" fill="#5f95c8"/>
<rect x="70.6" y="460.6" width=".8" height=".8" fill="#5f95c8"/>
<rect x="71.1" y="475.4" width=".8" height=".8" fill="#5f95c8"/>
<rect x="75.1" y="456.4" width=".8" height=".8" fill="#5f95c8"/>
<rect x="71.8" y="461.3" width=".8" height=".8" fill="#5f95c8"/>
<rect x="74.4" y="465.9" width=".8" height=".8" fill="#5f95c8"/>
<rect x="51.1" y="468.4" width=".8" height=".8" fill="#5f95c8"/>
<rect x="54.4" y="465.6" width=".8" height=".8" fill="#5f95c8"/>
<rect x="66.1" y="463.6" width=".8" height=".8" fill="#5f95c8"/>
<rect x="56.4" y="455.7" width=".8" height=".8" fill="#5f95c8"/>
<rect x="60.8" y="465.3" width=".8" height=".8" fill="#5f95c8"/>
<rect x="75.3" y="475.8" width=".8" height=".8" fill="#5f95c8"/>
<rect x="63.3" y="482.0" width=".8" height=".8" fill="#5f95c8"/>
<rect x="57.2" y="475.5" width=".8" height=".8" fill="#5f95c8"/>
<rect x="65.3" y="470.6" width=".8" height=".8" fill="#5f95c8"/>
<rect x="70.8" y="460.5" width=".8" height=".8" fill="#5f95c8"/>
<rect x="71.9" y="467.9" width=".8" height=".8" fill="#5f95c8"/>
<rect x="82.9" y="464.7" width=".8" height=".8" fill="#5f95c8"/>
<rect x="75.1" y="475.1" width=".8" height=".8" fill="#5f95c8"/>
<rect x="58.5" y="483.0" width=".8" height=".8" fill="#5f95c8"/>
<rect x="52.0" y="486.2" width=".8" height=".8" fill="#5b8fc4"/>
<rect x="80.0" y="493.6" width=".8" height=".8" fill="#5b8fc4"/>
<rect x="68.3" y="490.7" width=".8" height=".8" fill="#5b8fc4"/>
<rect x="88.7" y="489.4" width=".8" height=".8" fill="#5b8fc4"/>
<rect x="60.7" y="497.5" width=".8" height=".8" fill="#5b8fc4"/>
<rect x="51.8" y="494.0" width=".8" height=".8" fill="#5b8fc4"/>
<rect x="52.1" y="486.3" width=".8" height=".8" fill="#5b8fc4"/>
<rect x="54.8" y="501.5" width=".8" height=".8" fill="#5b8fc4"/>
<rect x="53.6" y="493.6" width=".8" height=".8" fill="#5b8fc4"/>
<rect x="54.6" y="499.9" width=".8" height=".8" fill="#5b8fc4"/>
<rect x="68.6" y="494.1" width=".8" height=".8" fill="#5b8fc4"/>
<rect x="65.2" y="487.3" width=".8" height=".8" fill="#5b8fc4"/>
<rect x="56.9" y="499.1" width=".8" height=".8" fill="#5b8fc4"/>
<rect x="68.2" y="495.6" width=".8" height=".8" fill="#5b8fc4"/>
<rect x="64.5" y="503.2" width=".8" height=".8" fill="#5b8fc4"/>
<rect x="61.7" y="494.0" width=".8" height=".8" fill="#5b8fc4"/>
<rect x="75.2" y="485.8" width=".8" height=".8" fill="#5b8fc4"/>
<rect x="78.1" y="486.1" width=".8" height=".8" fill="#5b8fc4"/>
<rect x="85.1" y="490.8" width=".8" height=".8" fill="#5b8fc4"/>
<rect x="73.3" y="487.1" width=".8" height=".8" fill="#5b8fc4"/>
<rect x="65.7" y="494.1" width=".8" height=".8" fill="#5b8fc4"/>
<rect x="41.9" y="496.9" width=".8" height=".8" fill="#5b8fc4"/>
<rect x="78.1" y="483.1" width=".8" height=".8" fill="#5b8fc4"/>
<rect x="83.2" y="484.7" width=".8" height=".8" fill="#5b8fc4"/>
<rect x="70.6" y="485.9" width=".8" height=".8" fill="#5b8fc4"/>
<rect x="74.6" y="492.3" width=".8" height=".8" fill="#5b8fc4"/>
<rect x="83.9" y="493.8" width=".8" height=".8" fill="#5b8fc4"/>
<rect x="83.9" y="488.4" width=".8" height=".8" fill="#5b8fc4"/>
<rect x="54.3" y="502.1" width=".8" height=".8" fill="#5b8fc4"/>
<rect x="51.2" y="494.8" width=".8" height=".8" fill="#5b8fc4"/>
<rect x="77.8" y="491.3" width=".8" height=".8" fill="#5b8fc4"/>
<rect x="87.9" y="486.3" width=".8" height=".8" fill="#5b8fc4"/>
<rect x="46.5" y="496.9" width=".8" height=".8" fill="#5b8fc4"/>
<rect x="69.7" y="489.9" width=".8" height=".8" fill="#5b8fc4"/>
<rect x="85.3" y="485.9" width=".8" height=".8" fill="#5b8fc4"/>
<rect x="50.6" y="499.2" width=".8" height=".8" fill="#5b8fc4"/>
<rect x="55.8" y="503.5" width=".8" height=".8" fill="#5b8fc4"/>
<rect x="69.6" y="485.0" width=".8" height=".8" fill="#5b8fc4"/>
<rect x="84.4" y="498.4" width=".8" height=".8" fill="#5b8fc4"/>
<rect x="44.1" y="503.1" width=".8" height=".8" fill="#5b8fc4"/>
<rect x="74.3" y="491.0" width=".8" height=".8" fill="#5b8fc4"/>
<rect x="72.9" y="492.9" width=".8" height=".8" fill="#5b8fc4"/>
<rect x="61.1" y="500.6" width=".8" height=".8" fill="#5b8fc4"/>
<rect x="53.6" y="505.3" width=".8" height=".8" fill="#5b8fc4"/>
<rect x="85.6" y="481.4" width=".8" height=".8" fill="#5b8fc4"/>
<rect x="69.7" y="498.2" width=".8" height=".8" fill="#5b8fc4"/>
<rect x="61.7" y="493.1" width=".8" height=".8" fill="#5b8fc4"/>
<rect x="64.4" y="498.5" width=".8" height=".8" fill="#5b8fc4"/>
<rect x="60.4" y="494.1" width=".8" height=".8" fill="#5b8fc4"/>
<rect x="74.5" y="489.2" width=".8" height=".8" fill="#5b8fc4"/>
<rect x="55.5" y="489.3" width=".8" height=".8" fill="#5b8fc4"/>
<rect x="47.6" y="492.4" width=".8" height=".8" fill="#5b8fc4"/>
<rect x="45.6" y="495.0" width=".8" height=".8" fill="#5b8fc4"/>
<rect x="71.8" y="491.2" width=".8" height=".8" fill="#5b8fc4"/>
<rect x="56.4" y="490.6" width=".8" height=".8" fill="#5b8fc4"/>
<rect x="53.9" y="489.6" width=".8" height=".8" fill="#5b8fc4"/>
<rect x="53.4" y="499.5" width=".8" height=".8" fill="#5b8fc4"/>
<rect x="50.5" y="497.1" width=".8" height=".8" fill="#5b8fc4"/>
<rect x="63.3" y="504.7" width=".8" height=".8" fill="#5b8fc4"/>
<rect x="45.8" y="499.3" width=".8" height=".8" fill="#5b8fc4"/>
<rect x="62.9" y="489.9" width=".8" height=".8" fill="#5b8fc4"/>
<rect x="72.1" y="491.5" width=".8" height=".8" fill="#5b8fc4"/>
<rect x="55.2" y="497.7" width=".8" height=".8" fill="#5b8fc4"/>
<rect x="74.5" y="496.3" width=".8" height=".8" fill="#5b8fc4"/>
<rect x="62.2" y="500.6" width=".8" height=".8" fill="#5b8fc4"/>
<rect x="63.1" y="484.2" width=".8" height=".8" fill="#5b8fc4"/>
<rect x="74.4" y="489.8" width=".8" height=".8" fill="#5b8fc4"/>
<rect x="58.1" y="499.2" width=".8" height=".8" fill="#5b8fc4"/>
<rect x="63.4" y="498.1" width=".8" height=".8" fill="#5b8fc4"/>
<rect x="67.9" y="495.5" width=".8" height=".8" fill="#5b8fc4"/>
<rect x="77.1" y="491.6" width=".8" height=".8" fill="#5b8fc4"/>
<rect x="56.2" y="499.7" width=".8" height=".8" fill="#5b8fc4"/>
<rect x="70.8" y="500.6" width=".8" height=".8" fill="#5b8fc4"/>
<rect x="74.9" y="493.5" width=".8" height=".8" fill="#5b8fc4"/>
<rect x="57.9" y="493.0" width=".8" height=".8" fill="#5b8fc4"/>
<rect x="67.8" y="486.6" width=".8" height=".8" fill="#5b8fc4"/>
<rect x="53.2" y="495.7" width=".8" height=".8" fill="#5b8fc4"/>
<rect x="67.3" y="493.2" width=".8" height=".8" fill="#5b8fc4"/>
<rect x="81.5" y="486.3" width=".8" height=".8" fill="#5b8fc4"/>
<rect x="76.3" y="488.9" width=".8" height=".8" fill="#5b8fc4"/>
<rect x="65.9" y="493.8" width=".8" height=".8" fill="#5b8fc4"/>
<rect x="42.2" y="499.7" width=".8" height=".8" fill="#5b8fc4"/>
<rect x="58.9" y="490.3" width=".8" height=".8" fill="#5b8fc4"/>
<rect x="43.9" y="496.9" width=".8" height=".8" fill="#5b8fc4"/>
<rect x="45.6" y="502.5" width=".8" height=".8" fill="#5b8fc4"/>
<rect x="62.9" y="485.6" width=".8" height=".8" fill="#5b8fc4"/>
<rect x="60.5" y="497.7" width=".8" height=".8" fill="#5b8fc4"/>
<rect x="60.2" y="492.9" width=".8" height=".8" fill="#5b8fc4"/>
<rect x="63.2" y="492.8" width=".8" height=".8" fill="#5b8fc4"/>
<rect x="46.7" y="497.9" width=".8" height=".8" fill="#5b8fc4"/>
<rect x="64.7" y="506.8" width=".8" height=".8" fill="#5b8fc4"/>
<rect x="64.8" y="490.8" width=".8" height=".8" fill="#5b8fc4"/>
<rect x="80.2" y="487.8" width=".8" height=".8" fill="#5b8fc4"/>
<rect x="70.1" y="487.3" width=".8" height=".8" fill="#5b8fc4"/>
<rect x="86.7" y="483.7" width=".8" height=".8" fill="#5b8fc4"/>
<rect x="74.1" y="495.5" width=".8" height=".8" fill="#5b8fc4"/>
<rect x="64.2" y="493.1" width=".8" height=".8" fill="#5b8fc4"/>
<rect x="76.2" y="492.8" width=".8" height=".8" fill="#5b8fc4"/>
<rect x="54.6" y="496.7" width=".8" height=".8" fill="#5b8fc4"/>
<rect x="55.3" y="492.2" width=".8" height=".8" fill="#5b8fc4"/>
<rect x="61.4" y="499.6" width=".8" height=".8" fill="#5b8fc4"/>
<rect x="91.2" y="497.5" width=".8" height=".8" fill="#5b8fc4"/>
<rect x="66.2" y="488.6" width=".8" height=".8" fill="#5b8fc4"/>
<rect x="57.9" y="502.4" width=".8" height=".8" fill="#5b8fc4"/>
<rect x="48.4" y="496.2" width=".8" height=".8" fill="#5b8fc4"/>
<rect x="63.1" y="501.6" width=".8" height=".8" fill="#5b8fc4"/>
<rect x="56.7" y="500.4" width=".8" height=".8" fill="#5b8fc4"/>
<rect x="84.2" y="486.6" width=".8" height=".8" fill="#5b8fc4"/>
<rect x="71.9" y="483.7" width=".8" height=".8" fill="#5b8fc4"/>
<rect x="66.6" y="491.4" width=".8" height=".8" fill="#5b8fc4"/>
<rect x="36.3" y="503.1" width=".8" height=".8" fill="#5b8fc4"/>
<rect x="70.3" y="483.4" width=".8" height=".8" fill="#5b8fc4"/>
<rect x="49.4" y="493.8" width=".8" height=".8" fill="#5b8fc4"/>
<rect x="61.0" y="492.6" width=".8" height=".8" fill="#5b8fc4"/>
<rect x="54.8" y="491.1" width=".8" height=".8" fill="#5b8fc4"/>
<rect x="71.2" y="488.8" width=".8" height=".8" fill="#5b8fc4"/>
<rect x="66.4" y="491.4" width=".8" height=".8" fill="#5b8fc4"/>
<rect x="73.5" y="489.7" width=".8" height=".8" fill="#5b8fc4"/>
<rect x="78.9" y="489.4" width=".8" height=".8" fill="#5b8fc4"/>
<rect x="80.7" y="494.2" width=".8" height=".8" fill="#5b8fc4"/>
<rect x="50.9" y="501.2" width=".8" height=".8" fill="#5b8fc4"/>
<rect x="89.1" y="481.4" width=".8" height=".8" fill="#5b8fc4"/>
<rect x="67.2" y="490.6" width=".8" height=".8" fill="#5b8fc4"/>
<rect x="74.2" y="492.7" width=".8" height=".8" fill="#5b8fc4"/>
<rect x="61.3" y="500.1" width=".8" height=".8" fill="#5b8fc4"/>
<rect x="57.1" y="494.5" width=".8" height=".8" fill="#5b8fc4"/>
<rect x="83.2" y="496.8" width=".8" height=".8" fill="#5b8fc4"/>
<rect x="62.6" y="497.2" width=".8" height=".8" fill="#5b8fc4"/>
<rect x="68.8" y="484.4" width=".8" height=".8" fill="#5b8fc4"/>
<rect x="54.6" y="490.2" width=".8" height=".8" fill="#5b8fc4"/>
<rect x="61.2" y="492.0" width=".8" height=".8" fill="#5b8fc4"/>
<rect x="69.9" y="497.4" width=".8" height=".8" fill="#5b8fc4"/>
<rect x="76.6" y="502.0" width=".8" height=".8" fill="#5b8fc4"/>
<rect x="65.9" y="496.3" width=".8" height=".8" fill="#5b8fc4"/>
<rect x="75.1" y="497.0" width=".8" height=".8" fill="#5b8fc4"/>
<rect x="64.3" y="497.0" width=".8" height=".8" fill="#5b8fc4"/>
<rect x="87.5" y="483.0" width=".8" height=".8" fill="#5b8fc4"/>
<rect x="67.7" y="494.4" width=".8" height=".8" fill="#5b8fc4"/>
<rect x="61.5" y="489.8" width=".8" height=".8" fill="#5b8fc4"/>
<rect x="90.6" y="484.4" width=".8" height=".8" fill="#5b8fc4"/>
<rect x="89.0" y="483.6" width=".8" height=".8" fill="#5b8fc4"/>
<rect x="66.4" y="496.2" width=".8" height=".8" fill="#5b8fc4"/>
<rect x="64.3" y="488.9" width=".8" height=".8" fill="#5b8fc4"/>
<rect x="59.3" y="495.8" width=".8" height=".8" fill="#5b8fc4"/>
<rect x="59.8" y="494.8" width=".8" height=".8" fill="#5b8fc4"/>
<rect x="39.1" y="497.7" width=".8" height=".8" fill="#5b8fc4"/>
<rect x="65.1" y="490.4" width=".8" height=".8" fill="#5b8fc4"/>
<rect x="54.5" y="491.7" width=".8" height=".8" fill="#5b8fc4"/>
<rect x="70.7" y="498.2" width=".8" height=".8" fill="#5b8fc4"/>
<rect x="50.2" y="495.8" width=".8" height=".8" fill="#5b8fc4"/>
<rect x="80.6" y="489.9" width=".8" height=".8" fill="#5b8fc4"/>
<rect x="66.3" y="490.4" width=".8" height=".8" fill="#5b8fc4"/>
<rect x="68.0" y="491.5" width=".8" height=".8" fill="#5b8fc4"/>
<rect x="39.8" y="496.8" width=".8" height=".8" fill="#5b8fc4"/>
<rect x="45.2" y="504.6" width=".8" height=".8" fill="#5b8fc4"/>
<rect x="77.3" y="485.6" width=".8" height=".8" fill="#5b8fc4"/>
<rect x="81.1" y="499.7" width=".8" height=".8" fill="#5b8fc4"/>
<rect x="61.8" y="499.9" width=".8" height=".8" fill="#5b8fc4"/>
<rect x="72.2" y="489.7" width=".8" height=".8" fill="#5b8fc4"/>
<rect x="53.5" y="493.6" width=".8" height=".8" fill="#5b8fc4"/>
<rect x="60.2" y="483.4" width=".8" height=".8" fill="#5b8fc4"/>
<rect x="74.2" y="488.7" width=".8" height=".8" fill="#5b8fc4"/>
<rect x="73.2" y="488.5" width=".8" height=".8" fill="#5b8fc4"/>
<rect x="57.2" y="498.4" width=".8" height=".8" fill="#5b8fc4"/>
<rect x="96.2" y="479.2" width=".8" height=".8" fill="#5b8fc4"/>
<rect x="89.7" y="481.5" width=".8" height=".8" fill="#5b8fc4"/>
<rect x="84.3" y="487.7" width=".8" height=".8" fill="#5b8fc4"/>
<rect x="98.1" y="491.7" width=".8" height=".8" fill="#5b8fc4"/>
<rect x="63.6" y="507.0" width=".8" height=".8" fill="#5b8fc4"/>
<rect x="53.6" y="494.7" width=".8" height=".8" fill="#5b8fc4"/>
<rect x="89.7" y="482.3" width=".8" height=".8" fill="#5b8fc4"/>
<rect x="60.1" y="494.9" width=".8" height=".8" fill="#5b8fc4"/>
<rect x="74.1" y="492.0" width=".8" height=".8" fill="#5b8fc4"/>
<rect x="58.9" y="495.5" width=".8" height=".8" fill="#5b8fc4"/>
<rect x="77.8" y="496.2" width=".8" height=".8" fill="#5b8fc4"/>
<rect x="70.5" y="485.4" width=".8" height=".8" fill="#5b8fc4"/>
<rect x="67.6" y="489.2" width=".8" height=".8" fill="#5b8fc4"/>
<rect x="82.4" y="480.0" width=".8" height=".8" fill="#5b8fc4"/>
<rect x="73.7" y="485.4" width=".8" height=".8" fill="#5b8fc4"/>
<rect x="84.9" y="490.8" width=".8" height=".8" fill="#5b8fc4"/>
<rect x="71.4" y="493.4" width=".8" height=".8" fill="#5b8fc4"/>
<rect x="64.6" y="496.1" width=".8" height=".8" fill="#5b8fc4"/>
<rect x="68.3" y="495.3" width=".8" height=".8" fill="#5b8fc4"/>
<rect x="65.6" y="481.1" width=".8" height=".8" fill="#5b8fc4"/>
<rect x="63.5" y="500.4" width=".8" height=".8" fill="#5b8fc4"/>
<rect x="86.3" y="487.2" width=".8" height=".8" fill="#5b8fc4"/>
<rect x="66.0" y="491.0" width=".8" height=".8" fill="#5b8fc4"/>
<rect x="76.6" y="492.2" width=".8" height=".8" fill="#5b8fc4"/>
<rect x="56.6" y="498.4" width=".8" height=".8" fill="#5b8fc4"/>
<rect x="82.2" y="483.4" width=".8" height=".8" fill="#5b8fc4"/>
<rect x="66.2" y="494.7" width=".8" height=".8" fill="#5b8fc4"/>
<rect x="76.5" y="487.6" width=".8" height=".8" fill="#5b8fc4"/>
<rect x="60.8" y="491.9" width=".8" height=".8" fill="#5b8fc4"/>
<rect x="73.3" y="492.5" width=".8" height=".8" fill="#5b8fc4"/>
<rect x="66.1" y="486.2" width=".8" height=".8" fill="#5b8fc4"/>
<rect x="55.2" y="498.7" width=".8" height=".8" fill="#5b8fc4"/>
<rect x="53.0" y="497.4" width=".8" height=".8" fill="#5b8fc4"/>
<rect x="62.7" y="490.7" width=".8" height=".8" fill="#5b8fc4"/>
<rect x="70.4" y="499.2" width=".8" height=".8" fill="#5b8fc4"/>
<rect x="71.2" y="489.7" width=".8" height=".8" fill="#5b8fc4"/>
<rect x="50.2" y="499.5" width=".8" height=".8" fill="#5b8fc4"/>
<rect x="83.0" y="490.5" width=".8" height=".8" fill="#5b8fc4"/>
<rect x="83.2" y="489.9" width=".8" height=".8" fill="#5b8fc4"/>
<rect x="51.7" y="496.5" width=".8" height=".8" fill="#5b8fc4"/>
<rect x="75.5" y="493.2" width=".8" height=".8" fill="#5b8fc4"/>
<rect x="61.8" y="493.5" width=".8" height=".8" fill="#5b8fc4"/>
<rect x="74.2" y="496.2" width=".8" height=".8" fill="#5b8fc4"/>
<rect x="81.4" y="491.2" width=".8" height=".8" fill="#5b8fc4"/>
<rect x="71.7" y="486.1" width=".8" height=".8" fill="#5b8fc4"/>
<rect x="54.1" y="495.6" width=".8" height=".8" fill="#5b8fc4"/>
<rect x="81.5" y="490.0" width=".8" height=".8" fill="#5b8fc4"/>
<rect x="73.1" y="483.5" width=".8" height=".8" fill="#5b8fc4"/>
<rect x="51.1" y="502.1" width=".8" height=".8" fill="#5b8fc4"/>
<rect x="65.9" y="486.4" width=".8" height=".8" fill="#5b8fc4"/>
<rect x="79.3" y="489.9" width=".8" height=".8" fill="#5b8fc4"/>
<rect x="72.1" y="490.1" width=".8" height=".8" fill="#5b8fc4"/>
<rect x="70.8" y="490.7" width=".8" height=".8" fill="#5b8fc4"/>
<rect x="51.2" y="501.2" width=".8" height=".8" fill="#5b8fc4"/>
<rect x="68.0" y="479.1" width=".8" height=".8" fill="#5b8fc4"/>
<rect x="59.0" y="490.7" width=".8" height=".8" fill="#5b8fc4"/>
<rect x="80.2" y="488.3" width=".8" height=".8" fill="#5b8fc4"/>
<rect x="84.6" y="479.8" width=".8" height=".8" fill="#5b8fc4"/>
<rect x="55.9" y="500.5" width=".8" height=".8" fill="#5b8fc4"/>
<rect x="58.5" y="489.8" width=".8" height=".8" fill="#5b8fc4"/>
<rect x="60.5" y="490.6" width=".8" height=".8" fill="#5b8fc4"/>
<rect x="76.1" y="494.9" width=".8" height=".8" fill="#5b8fc4"/>
<rect x="47.8" y="496.4" width=".8" height=".8" fill="#5b8fc4"/>
<rect x="68.3" y="492.3" width=".8" height=".8" fill="#5b8fc4"/>
<rect x="78.6" y="489.5" width=".8" height=".8" fill="#5b8fc4"/>
<rect x="59.4" y="489.3" width=".8" height=".8" fill="#5b8fc4"/>
<rect x="44.7" y="497.0" width=".8" height=".8" fill="#5b8fc4"/>
<rect x="69.3" y="495.9" width=".8" height=".8" fill="#5b8fc4"/>
<rect x="66.2" y="503.4" width=".8" height=".8" fill="#5b8fc4"/>
<rect x="66.4" y="490.2" width=".8" height=".8" fill="#5b8fc4"/>
<rect x="71.5" y="486.4" width=".8" height=".8" fill="#5b8fc4"/>
<rect x="68.0" y="482.3" width=".8" height=".8" fill="#5b8fc4"/>
<rect x="76.5" y="489.9" width=".8" height=".8" fill="#5b8fc4"/>
<rect x="70.8" y="491.9" width=".8" height=".8" fill="#5b8fc4"/>
<rect x="51.0" y="492.7" width=".8" height=".8" fill="#5b8fc4"/>
<rect x="88.2" y="488.5" width=".8" height=".8" fill="#5b8fc4"/>
<rect x="61.1" y="496.0" width=".8" height=".8" fill="#5b8fc4"/>
<rect x="75.5" y="499.0" width=".8" height=".8" fill="#5b8fc4"/>
<rect x="82.4" y="489.8" width=".8" height=".8" fill="#5b8fc4"/>
<rect x="64.6" y="501.3" width=".8" height=".8" fill="#5b8fc4"/>
<rect x="65.6" y="488.6" width=".8" height=".8" fill="#5b8fc4"/>
<rect x="51.7" y="492.7" width=".8" height=".8" fill="#5b8fc4"/>
<rect x="64.4" y="496.6" width=".8" height=".8" fill="#5b8fc4"/>
<rect x="80.8" y="493.7" width=".8" height=".8" fill="#5b8fc4"/>
<rect x="70.9" y="495.0" width=".8" height=".8" fill="#5b8fc4"/>
<rect x="97.4" y="487.8" width=".8" height=".8" fill="#5b8fc4"/>
<rect x="86.1" y="479.7" width=".8" height=".8" fill="#5b8fc4"/>
<rect x="57.8" y="491.4" width=".8" height=".8" fill="#5b8fc4"/>
<rect x="84.7" y="484.7" width=".8" height=".8" fill="#5b8fc4"/>
<rect x="69.4" y="487.6" width=".8" height=".8" fill="#5b8fc4"/>
<rect x="62.2" y="495.0" width=".8" height=".8" fill="#5b8fc4"/>
<rect x="54.5" y="501.4" width=".8" height=".8" fill="#5b8fc4"/>
<rect x="44.4" y="500.3" width=".8" height=".8" fill="#5b8fc4"/>
<rect x="63.7" y="500.2" width=".8" height=".8" fill="#5b8fc4"/>
<rect x="74.9" y="480.2" width=".8" height=".8" fill="#5b8fc4"/>
<rect x="36.5" y="496.4" width=".8" height=".8" fill="#5b8fc4"/>
<rect x="61.5" y="493.0" width=".8" height=".8" fill="#5b8fc4"/>
<rect x="69.2" y="494.8" width=".8" height=".8" fill="#5b8fc4"/>
<rect x="48.7" y="489.1" width=".8" height=".8" fill="#5b8fc4"/>
<rect x="70.7" y="489.5" width=".8" height=".8" fill="#5b8fc4"/>
<rect x="65.9" y="489.6" width=".8" height=".8" fill="#5b8fc4"/>
<rect x="67.7" y="499.1" width=".8" height=".8" fill="#5b8fc4"/>
<rect x="46.2" y="492.5" width=".8" height=".8" fill="#5b8fc4"/>
<rect x="78.0" y="496.5" width=".8" height=".8" fill="#5b8fc4"/>
<rect x="63.9" y="487.3" width=".8" height=".8" fill="#5b8fc4"/>
<rect x="43.3" y="500.3" width=".8" height=".8" fill="#5b8fc4"/>
<rect x="55.1" y="505.9" width=".8" height=".8" fill="#5b8fc4"/>
<rect x="97.5" y="484.6" width=".8" height=".8" fill="#5b8fc4"/>
<rect x="73.9" y="489.7" width=".8" height=".8" fill="#5b8fc4"/>
<rect x="82.3" y="487.9" width=".8" height=".8" fill="#5b8fc4"/>
<rect x="70.5" y="497.7" width=".8" height=".8" fill="#5b8fc4"/>
<rect x="78.5" y="499.0" width=".8" height=".8" fill="#5b8fc4"/>
<rect x="46.9" y="495.5" width=".8" height=".8" fill="#5b8fc4"/>
<rect x="57.8" y="498.9" width=".8" height=".8" fill="#5b8fc4"/>
<rect x="62.6" y="496.4" width=".8" height=".8" fill="#5b8fc4"/>
<rect x="53.3" y="495.8" width=".8" height=".8" fill="#5b8fc4"/>
<rect x="98.7" y="490.8" width=".8" height=".8" fill="#5b8fc4"/>
<rect x="45.0" y="500.3" width=".8" height=".8" fill="#5b8fc4"/>
<rect x="77.7" y="486.9" width=".8" height=".8" fill="#5b8fc4"/>
<rect x="55.1" y="498.8" width=".8" height=".8" fill="#5b8fc4"/>
<rect x="69.9" y="494.0" width=".8" height=".8" fill="#5b8fc4"/>
<rect x="68.9" y="502.6" width=".8" height=".8" fill="#5b8fc4"/>
<rect x="56.0" y="493.1" width=".8" height=".8" fill="#5b8fc4"/>
<rect x="75.3" y="493.3" width=".8" height=".8" fill="#5b8fc4"/>
<rect x="52.4" y="502.6" width=".8" height=".8" fill="#5b8fc4"/>
<rect x="49.8" y="497.3" width=".8" height=".8" fill="#5b8fc4"/>
<rect x="63.3" y="490.0" width=".8" height=".8" fill="#5b8fc4"/>
<rect x="79.2" y="477.8" width=".8" height=".8" fill="#5b8fc4"/>
<rect x="57.7" y="490.7" width=".8" height=".8" fill="#5b8fc4"/>
<rect x="80.9" y="495.6" width=".8" height=".8" fill="#5b8fc4"/>
<rect x="79.4" y="495.2" width=".8" height=".8" fill="#5b8fc4"/>
<rect x="40.4" y="500.7" width=".8" height=".8" fill="#5b8fc4"/>
<rect x="50.3" y="495.3" width=".8" height=".8" fill="#5b8fc4"/>
<rect x="71.2" y="491.5" width=".8" height=".8" fill="#5b8fc4"/>
<rect x="82.7" y="478.5" width=".8" height=".8" fill="#5b8fc4"/>
<rect x="55.7" y="488.6" width=".8" height=".8" fill="#5b8fc4"/>
<rect x="48.8" y="502.2" width=".8" height=".8" fill="#5b8fc4"/>
<rect x="72.2" y="498.1" width=".8" height=".8" fill="#5b8fc4"/>
<rect x="82.9" y="488.0" width=".8" height=".8" fill="#5b8fc4"/>
<rect x="57.1" y="499.8" width=".8" height=".8" fill="#5b8fc4"/>
<rect x="57.9" y="489.3" width=".8" height=".8" fill="#5b8fc4"/>
<rect x="53.8" y="496.7" width=".8" height=".8" fill="#5b8fc4"/>
<rect x="83.9" y="487.7" width=".8" height=".8" fill="#5b8fc4"/>
<rect x="83.4" y="488.0" width=".8" height=".8" fill="#5b8fc4"/>
<rect x="66.1" y="505.3" width=".8" height=".8" fill="#5b8fc4"/>
<rect x="91.0" y="486.3" width=".8" height=".8" fill="#5b8fc4"/>
<rect x="55.6" y="488.0" width=".8" height=".8" fill="#5b8fc4"/>
<rect x="72.7" y="489.5" width=".8" height=".8" fill="#5b8fc4"/>
<rect x="74.2" y="491.7" width=".8" height=".8" fill="#5b8fc4"/>
<rect x="74.9" y="495.4" width=".8" height=".8" fill="#5b8fc4"/>
<rect x="71.0" y="487.7" width=".8" height=".8" fill="#5b8fc4"/>
<rect x="59.1" y="497.3" width=".8" height=".8" fill="#5b8fc4"/>
<rect x="55.5" y="499.0" width=".8" height=".8" fill="#5b8fc4"/>
<rect x="76.9" y="489.2" width=".8" height=".8" fill="#5b8fc4"/>
<rect x="56.0" y="487.1" width=".8" height=".8" fill="#5b8fc4"/>
<rect x="51.9" y="489.0" width=".8" height=".8" fill="#5b8fc4"/>
<rect x="67.8" y="490.0" width=".8" height=".8" fill="#5b8fc4"/>
<rect x="57.6" y="499.1" width=".8" height=".8" fill="#5b8fc4"/>
<rect x="69.7" y="491.7" width=".8" height=".8" fill="#5b8fc4"/>
<rect x="76.3" y="494.5" width=".8" height=".8" fill="#5b8fc4"/>
<rect x="48.9" y="500.8" width=".8" height=".8" fill="#5b8fc4"/>
<rect x="44.4" y="495.1" width=".8" height=".8" fill="#5b8fc4"/>
<rect x="81.5" y="491.4" width=".8" height=".8" fill="#5b8fc4"/>
<rect x="76.5" y="490.4" width=".8" height=".8" fill="#5b8fc4"/>
<rect x="83.7" y="480.3" width=".8" height=".8" fill="#5b8fc4"/>
<rect x="64.2" y="493.3" width=".8" height=".8" fill="#5b8fc4"/>
<rect x="94.7" y="489.1" width=".8" height=".8" fill="#5b8fc4"/>
<rect x="80.0" y="485.0" width=".8" height=".8" fill="#5b8fc4"/>
<rect x="96.7" y="486.0" width=".8" height=".8" fill="#5b8fc4"/>
<rect x="58.3" y="505.8" width=".8" height=".8" fill="#5b8fc4"/>
<rect x="49.1" y="493.4" width=".8" height=".8" fill="#5b8fc4"/>
<rect x="63.9" y="488.6" width=".8" height=".8" fill="#5b8fc4"/>
<rect x="74.9" y="491.3" width=".8" height=".8" fill="#5b8fc4"/>
<rect x="71.8" y="499.8" width=".8" height=".8" fill="#5b8fc4"/>
<rect x="49.3" y="503.8" width=".8" height=".8" fill="#5b8fc4"/>
<rect x="59.5" y="501.3" width=".8" height=".8" fill="#5b8fc4"/>
<rect x="94.7" y="495.1" width=".8" height=".8" fill="#5b8fc4"/>
<rect x="64.2" y="487.7" width=".8" height=".8" fill="#5b8fc4"/>
<rect x="72.0" y="490.6" width=".8" height=".8" fill="#5b8fc4"/>
<rect x="46.9" y="501.5" width=".8" height=".8" fill="#5b8fc4"/>
<rect x="58.3" y="501.6" width=".8" height=".8" fill="#5b8fc4"/>
<rect x="79.7" y="487.3" width=".8" height=".8" fill="#5b8fc4"/>
<rect x="68.2" y="490.8" width=".8" height=".8" fill="#5b8fc4"/>
<rect x="66.1" y="507.0" width=".8" height=".8" fill="#5b8fc4"/>
<rect x="56.4" y="495.6" width=".8" height=".8" fill="#5b8fc4"/>
<rect x="79.9" y="486.8" width=".8" height=".8" fill="#5b8fc4"/>
<rect x="58.5" y="488.5" width=".8" height=".8" fill="#5b8fc4"/>
<rect x="83.8" y="490.8" width=".8" height=".8" fill="#5b8fc4"/>
<rect x="72.0" y="483.8" width=".8" height=".8" fill="#5b8fc4"/>
<rect x="74.6" y="491.4" width=".8" height=".8" fill="#5b8fc4"/>
<rect x="62.1" y="487.3" width=".8" height=".8" fill="#5b8fc4"/>
<rect x="66.2" y="488.4" width=".8" height=".8" fill="#5b8fc4"/>
<rect x="69.1" y="492.0" width=".8" height=".8" fill="#5b8fc4"/>
<rect x="64.9" y="497.0" width=".8" height=".8" fill="#5b8fc4"/>
<rect x="67.8" y="494.5" width=".8" height=".8" fill="#5b8fc4"/>
<rect x="74.5" y="494.9" width=".8" height=".8" fill="#5b8fc4"/>
<rect x="55.5" y="494.0" width=".8" height=".8" fill="#5b8fc4"/>
<rect x="79.7" y="489.4" width=".8" height=".8" fill="#5b8fc4"/>
<rect x="83.0" y="491.2" width=".8" height=".8" fill="#5b8fc4"/>
<rect x="63.5" y="497.4" width=".8" height=".8" fill="#5b8fc4"/>
<rect x="66.0" y="497.1" width=".8" height=".8" fill="#5b8fc4"/>
<rect x="92.5" y="490.1" width=".8" height=".8" fill="#5b8fc4"/>
<rect x="94.7" y="477.1" width=".8" height=".8" fill="#5b8fc4"/>
<rect x="60.8" y="492.8" width=".8" height=".8" fill="#5b8fc4"/>
<rect x="63.5" y="495.0" width=".8" height=".8" fill="#5b8fc4"/>
<rect x="64.8" y="498.1" width=".8" height=".8" fill="#5b8fc4"/>
<rect x="80.8" y="490.3" width=".8" height=".8" fill="#5b8fc4"/>
<rect x="56.0" y="498.0" width=".8" height=".8" fill="#5b8fc4"/>
<rect x="76.9" y="491.1" width=".8" height=".8" fill="#5b8fc4"/>
<rect x="70.1" y="497.9" width=".8" height=".8" fill="#5b8fc4"/>
<rect x="60.7" y="492.4" width=".8" height=".8" fill="#5b8fc4"/>
<rect x="77.0" y="491.9" width=".8" height=".8" fill="#5b8fc4"/>
<rect x="78.3" y="487.7" width=".8" height=".8" fill="#5b8fc4"/>
<rect x="50.0" y="491.4" width=".8" height=".8" fill="#5b8fc4"/>
<rect x="63.6" y="497.0" width=".8" height=".8" fill="#5b8fc4"/>
<rect x="75.6" y="481.3" width=".8" height=".8" fill="#5b8fc4"/>
<rect x="74.6" y="489.7" width=".8" height=".8" fill="#5b8fc4"/>
<rect x="57.7" y="505.2" width=".8" height=".8" fill="#5b8fc4"/>
<rect x="72.3" y="494.6" width=".8" height=".8" fill="#5b8fc4"/>
<rect x="99.4" y="480.3" width=".8" height=".8" fill="#5b8fc4"/>
<rect x="64.9" y="499.9" width=".8" height=".8" fill="#5b8fc4"/>
<rect x="51.8" y="497.0" width=".8" height=".8" fill="#5b8fc4"/>
<rect x="69.8" y="496.0" width=".8" height=".8" fill="#5b8fc4"/>
<rect x="71.9" y="486.6" width=".8" height=".8" fill="#5b8fc4"/>
<rect x="81.2" y="492.2" width=".8" height=".8" fill="#5b8fc4"/>
<rect x="54.0" y="492.8" width=".8" height=".8" fill="#5b8fc4"/>
<rect x="60.0" y="488.9" width=".8" height=".8" fill="#5b8fc4"/>
<rect x="80.9" y="486.8" width=".8" height=".8" fill="#5b8fc4"/>
<rect x="63.2" y="488.5" width=".8" height=".8" fill="#5b8fc4"/>
<rect x="64.9" y="499.8" width=".8" height=".8" fill="#5b8fc4"/>
<rect x="75.3" y="482.3" width=".8" height=".8" fill="#5b8fc4"/>
<rect x="56.4" y="498.3" width=".8" height=".8" fill="#5b8fc4"/>
<rect x="61.1" y="491.4" width=".8" height=".8" fill="#5b8fc4"/>
<rect x="55.6" y="489.3" width=".8" height=".8" fill="#5b8fc4"/>
<rect x="68.7" y="490.0" width=".8" height=".8" fill="#5b8fc4"/>
<rect x="82.2" y="487.6" width=".8" height=".8" fill="#5b8fc4"/>
<rect x="56.8" y="498.5" width=".8" height=".8" fill="#5b8fc4"/>
<rect x="83.9" y="484.0" width=".8" height=".8" fill="#5b8fc4"/>
<rect x="46.1" y="496.0" width=".8" height=".8" fill="#5b8fc4"/>
<rect x="53.2" y="503.9" width=".8" height=".8" fill="#5b8fc4"/>
<rect x="50.3" y="495.6" width=".8" height=".8" fill="#5b8fc4"/>
<rect x="87.5" y="490.5" width=".8" height=".8" fill="#5b8fc4"/>
<rect x="60.6" y="490.5" width=".8" height=".8" fill="#5b8fc4"/>
<rect x="65.4" y="491.6" width=".8" height=".8" fill="#5b8fc4"/>
<rect x="86.5" y="486.0" width=".8" height=".8" fill="#5b8fc4"/>
<rect x="52.4" y="501.1" width=".8" height=".8" fill="#5b8fc4"/>
<rect x="80.7" y="487.3" width=".8" height=".8" fill="#5b8fc4"/>
<rect x="77.7" y="489.4" width=".8" height=".8" fill="#5b8fc4"/>
<rect x="52.8" y="496.0" width=".8" height=".8" fill="#5b8fc4"/>
<rect x="52.9" y="493.4" width=".8" height=".8" fill="#5b8fc4"/>
<rect x="56.7" y="496.8" width=".8" height=".8" fill="#5b8fc4"/>
<rect x="68.7" y="485.6" width=".8" height=".8" fill="#5b8fc4"/>
<rect x="56.5" y="495.3" width=".8" height=".8" fill="#5b8fc4"/>
<rect x="73.9" y="490.6" width=".8" height=".8" fill="#5b8fc4"/>
<rect x="42.0" y="505.5" width=".8" height=".8" fill="#5b8fc4"/>
<rect x="92.1" y="492.5" width=".8" height=".8" fill="#5b8fc4"/>
<rect x="75.6" y="493.0" width=".8" height=".8" fill="#5b8fc4"/>
<rect x="60.1" y="495.2" width=".8" height=".8" fill="#5b8fc4"/>
<rect x="54.0" y="496.6" width=".8" height=".8" fill="#5b8fc4"/>
<rect x="50.9" y="499.7" width=".8" height=".8" fill="#5b8fc4"/>
<rect x="64.5" y="496.6" width=".8" height=".8" fill="#5b8fc4"/>
<rect x="69.7" y="489.4" width=".8" height=".8" fill="#5b8fc4"/>
<rect x="77.1" y="483.9" width=".8" height=".8" fill="#5b8fc4"/>
<rect x="64.0" y="490.6" width=".8" height=".8" fill="#5b8fc4"/>
<rect x="77.2" y="489.0" width=".8" height=".8" fill="#5b8fc4"/>
<rect x="72.0" y="493.3" width=".8" height=".8" fill="#5b8fc4"/>
<rect x="37.5" y="496.4" width=".8" height=".8" fill="#5b8fc4"/>
<rect x="70.7" y="496.0" width=".8" height=".8" fill="#5b8fc4"/>
<rect x="76.8" y="495.6" width=".8" height=".8" fill="#5b8fc4"/>
<rect x="65.4" y="493.2" width=".8" height=".8" fill="#5b8fc4"/>
<rect x="61.2" y="491.9" width=".8" height=".8" fill="#5b8fc4"/>
<rect x="56.9" y="492.6" width=".8" height=".8" fill="#5b8fc4"/>
<rect x="64.8" y="489.9" width=".8" height=".8" fill="#5b8fc4"/>
<rect x="66.1" y="484.0" width=".8" height=".8" fill="#5b8fc4"/>
<rect x="73.6" y="491.2" width=".8" height=".8" fill="#5b8fc4"/>
<rect x="73.0" y="488.4" width=".8" height=".8" fill="#5b8fc4"/>
<rect x="62.9" y="498.1" width=".8" height=".8" fill="#5b8fc4"/>
<rect x="68.5" y="501.1" width=".8" height=".8" fill="#5b8fc4"/>
<rect x="50.1" y="496.0" width=".8" height=".8" fill="#5b8fc4"/>
<rect x="52.9" y="492.6" width=".8" height=".8" fill="#5b8fc4"/>
<rect x="57.5" y="492.8" width=".8" height=".8" fill="#5b8fc4"/>
<rect x="76.4" y="484.2" width=".8" height=".8" fill="#5b8fc4"/>
<rect x="43.8" y="478.6" width=".8" height=".8" fill="#6f9ecb"/>
<rect x="40.0" y="506.2" width=".8" height=".8" fill="#6f9ecb"/>
<rect x="43.3" y="495.7" width=".8" height=".8" fill="#6f9ecb"/>
<rect x="43.9" y="498.8" width=".8" height=".8" fill="#6f9ecb"/>
<rect x="43.9" y="507.0" width=".8" height=".8" fill="#6f9ecb"/>
<rect x="37.6" y="492.3" width=".8" height=".8" fill="#6f9ecb"/>
<rect x="43.9" y="500.5" width=".8" height=".8" fill="#6f9ecb"/>
<rect x="43.6" y="506.1" width=".8" height=".8" fill="#6f9ecb"/>
<rect x="39.6" y="479.5" width=".8" height=".8" fill="#6f9ecb"/>
<rect x="46.3" y="493.0" width=".8" height=".8" fill="#6f9ecb"/>
<rect x="39.4" y="493.4" width=".8" height=".8" fill="#6f9ecb"/>
<rect x="39.9" y="503.1" width=".8" height=".8" fill="#6f9ecb"/>
<rect x="44.9" y="496.1" width=".8" height=".8" fill="#6f9ecb"/>
<rect x="43.6" y="493.3" width=".8" height=".8" fill="#6f9ecb"/>
<rect x="45.4" y="469.4" width=".8" height=".8" fill="#6f9ecb"/>
<rect x="37.1" y="492.6" width=".8" height=".8" fill="#6f9ecb"/>
<rect x="39.9" y="483.5" width=".8" height=".8" fill="#6f9ecb"/>
<rect x="43.9" y="483.2" width=".8" height=".8" fill="#6f9ecb"/>
<rect x="42.3" y="494.2" width=".8" height=".8" fill="#6f9ecb"/>
<rect x="41.7" y="484.7" width=".8" height=".8" fill="#6f9ecb"/>
<rect x="40.8" y="505.3" width=".8" height=".8" fill="#6f9ecb"/>
<rect x="43.6" y="502.6" width=".8" height=".8" fill="#6f9ecb"/>
<rect x="41.2" y="476.0" width=".8" height=".8" fill="#6f9ecb"/>
<rect x="39.7" y="491.5" width=".8" height=".8" fill="#6f9ecb"/>
<rect x="46.4" y="504.4" width=".8" height=".8" fill="#6f9ecb"/>
<rect x="43.1" y="484.4" width=".8" height=".8" fill="#6f9ecb"/>
<rect x="42.0" y="490.4" width=".8" height=".8" fill="#6f9ecb"/>
<rect x="40.6" y="480.7" width=".8" height=".8" fill="#6f9ecb"/>
<rect x="43.3" y="492.7" width=".8" height=".8" fill="#6f9ecb"/>
<rect x="44.6" y="478.4" width=".8" height=".8" fill="#6f9ecb"/>
<rect x="38.2" y="495.9" width=".8" height=".8" fill="#6f9ecb"/>
<rect x="43.2" y="483.2" width=".8" height=".8" fill="#6f9ecb"/>
<rect x="48.1" y="492.3" width=".8" height=".8" fill="#6f9ecb"/>
<rect x="38.5" y="488.1" width=".8" height=".8" fill="#6f9ecb"/>
<rect x="40.2" y="479.3" width=".8" height=".8" fill="#6f9ecb"/>
<rect x="42.5" y="497.7" width=".8" height=".8" fill="#6f9ecb"/>
<rect x="42.2" y="499.6" width=".8" height=".8" fill="#6f9ecb"/>
<rect x="44.8" y="496.4" width=".8" height=".8" fill="#6f9ecb"/>
<rect x="40.6" y="505.2" width=".8" height=".8" fill="#6f9ecb"/>
<rect x="38.9" y="507.0" width=".8" height=".8" fill="#6f9ecb"/>
<rect x="40.8" y="500.6" width=".8" height=".8" fill="#6f9ecb"/>
<rect x="48.4" y="470.4" width=".8" height=".8" fill="#6f9ecb"/>
<rect x="40.8" y="489.0" width=".8" height=".8" fill="#6f9ecb"/>
<rect x="48.0" y="488.9" width=".8" height=".8" fill="#6f9ecb"/>
<rect x="51.9" y="477.7" width=".8" height=".8" fill="#6f9ecb"/>
<rect x="42.8" y="489.1" width=".8" height=".8" fill="#6f9ecb"/>
<rect x="43.4" y="487.3" width=".8" height=".8" fill="#6f9ecb"/>
<rect x="39.8" y="474.8" width=".8" height=".8" fill="#6f9ecb"/>
<rect x="41.9" y="478.0" width=".8" height=".8" fill="#6f9ecb"/>
<rect x="36.5" y="493.9" width=".8" height=".8" fill="#6f9ecb"/>
<rect x="41.0" y="503.3" width=".8" height=".8" fill="#6f9ecb"/>
<rect x="36.4" y="497.2" width=".8" height=".8" fill="#6f9ecb"/>
<rect x="42.7" y="490.0" width=".8" height=".8" fill="#6f9ecb"/>
<rect x="38.4" y="492.2" width=".8" height=".8" fill="#6f9ecb"/>
<rect x="44.9" y="489.3" width=".8" height=".8" fill="#6f9ecb"/>
<rect x="44.7" y="490.3" width=".8" height=".8" fill="#6f9ecb"/>
<rect x="48.1" y="493.3" width=".8" height=".8" fill="#6f9ecb"/>
<rect x="40.8" y="476.9" width=".8" height=".8" fill="#6f9ecb"/>
<rect x="36.1" y="496.8" width=".8" height=".8" fill="#6f9ecb"/>
<rect x="40.6" y="495.8" width=".8" height=".8" fill="#6f9ecb"/>
<rect x="38.9" y="491.5" width=".8" height=".8" fill="#6f9ecb"/>
<rect x="39.1" y="496.0" width=".8" height=".8" fill="#6f9ecb"/>
<rect x="38.9" y="504.2" width=".8" height=".8" fill="#6f9ecb"/>
<rect x="37.5" y="488.3" width=".8" height=".8" fill="#6f9ecb"/>
<rect x="38.3" y="505.6" width=".8" height=".8" fill="#6f9ecb"/>
<rect x="43.2" y="494.4" width=".8" height=".8" fill="#6f9ecb"/>
<rect x="42.4" y="482.2" width=".8" height=".8" fill="#6f9ecb"/>
<rect x="46.8" y="506.9" width=".8" height=".8" fill="#6f9ecb"/>
<rect x="41.4" y="493.1" width=".8" height=".8" fill="#6f9ecb"/>
<rect x="44.0" y="491.2" width=".8" height=".8" fill="#6f9ecb"/>
<rect x="40.7" y="488.1" width=".8" height=".8" fill="#6f9ecb"/>
<rect x="40.2" y="488.2" width=".8" height=".8" fill="#6f9ecb"/>
<rect x="44.3" y="489.7" width=".8" height=".8" fill="#6f9ecb"/>
<rect x="39.9" y="486.7" width=".8" height=".8" fill="#6f9ecb"/>
<rect x="43.4" y="501.7" width=".8" height=".8" fill="#6f9ecb"/>
<rect x="39.5" y="507.6" width=".8" height=".8" fill="#6f9ecb"/>
<rect x="42.1" y="507.5" width=".8" height=".8" fill="#6f9ecb"/>
<rect x="41.4" y="492.6" width=".8" height=".8" fill="#6f9ecb"/>
<rect x="39.5" y="493.8" width=".8" height=".8" fill="#6f9ecb"/>
<rect x="47.4" y="493.9" width=".8" height=".8" fill="#6f9ecb"/>
<rect x="46.1" y="465.8" width=".8" height=".8" fill="#6f9ecb"/>
<rect x="39.7" y="495.5" width=".8" height=".8" fill="#6f9ecb"/>
<rect x="44.9" y="497.2" width=".8" height=".8" fill="#6f9ecb"/>
<rect x="41.3" y="488.4" width=".8" height=".8" fill="#6f9ecb"/>
<rect x="45.8" y="506.1" width=".8" height=".8" fill="#6f9ecb"/>
<rect x="41.5" y="487.7" width=".8" height=".8" fill="#6f9ecb"/>
<rect x="43.6" y="492.8" width=".8" height=".8" fill="#6f9ecb"/>
<rect x="41.0" y="492.8" width=".8" height=".8" fill="#6f9ecb"/>
<rect x="39.1" y="484.3" width=".8" height=".8" fill="#6f9ecb"/>
<rect x="40.6" y="479.1" width=".8" height=".8" fill="#6f9ecb"/>
<rect x="43.8" y="501.4" width=".8" height=".8" fill="#6f9ecb"/>
<rect x="38.6" y="474.7" width=".8" height=".8" fill="#6f9ecb"/>
<rect x="43.0" y="495.4" width=".8" height=".8" fill="#6f9ecb"/>
<rect x="41.6" y="479.7" width=".8" height=".8" fill="#6f9ecb"/>
<rect x="40.7" y="498.0" width=".8" height=".8" fill="#6f9ecb"/>
<rect x="41.2" y="497.1" width=".8" height=".8" fill="#6f9ecb"/>
<rect x="36.6" y="488.5" width=".8" height=".8" fill="#6f9ecb"/>
<rect x="36.3" y="482.1" width=".8" height=".8" fill="#6f9ecb"/>
<rect x="38.8" y="474.9" width=".8" height=".8" fill="#6f9ecb"/>
<rect x="39.7" y="485.9" width=".8" height=".8" fill="#6f9ecb"/>
<rect x="37.0" y="491.7" width=".8" height=".8" fill="#6f9ecb"/>
<rect x="41.5" y="484.6" width=".8" height=".8" fill="#6f9ecb"/>
<rect x="49.1" y="500.2" width=".8" height=".8" fill="#6f9ecb"/>
<rect x="45.8" y="489.7" width=".8" height=".8" fill="#6f9ecb"/>
<rect x="44.9" y="500.7" width=".8" height=".8" fill="#6f9ecb"/>
<rect x="37.6" y="486.2" width=".8" height=".8" fill="#6f9ecb"/>
<rect x="52.6" y="488.9" width=".8" height=".8" fill="#6f9ecb"/>
<rect x="43.4" y="490.9" width=".8" height=".8" fill="#6f9ecb"/>
<rect x="44.7" y="483.1" width=".8" height=".8" fill="#6f9ecb"/>
<rect x="37.7" y="504.3" width=".8" height=".8" fill="#6f9ecb"/>
<rect x="42.3" y="468.2" width=".8" height=".8" fill="#6f9ecb"/>
<rect x="41.6" y="491.2" width=".8" height=".8" fill="#6f9ecb"/>
<rect x="44.2" y="496.2" width=".8" height=".8" fill="#6f9ecb"/>
<rect x="42.8" y="493.9" width=".8" height=".8" fill="#6f9ecb"/>
<rect x="42.6" y="481.5" width=".8" height=".8" fill="#6f9ecb"/>
<rect x="38.4" y="484.5" width=".8" height=".8" fill="#6f9ecb"/>
<rect x="36.4" y="500.9" width=".8" height=".8" fill="#6f9ecb"/>
<rect x="45.6" y="499.1" width=".8" height=".8" fill="#6f9ecb"/>
<rect x="39.2" y="487.6" width=".8" height=".8" fill="#6f9ecb"/>
<rect x="39.8" y="504.1" width=".8" height=".8" fill="#6f9ecb"/>
<rect x="37.8" y="490.7" width=".8" height=".8" fill="#6f9ecb"/>
<rect x="36.7" y="478.8" width=".8" height=".8" fill="#6f9ecb"/>
<rect x="40.9" y="489.6" width=".8" height=".8" fill="#6f9ecb"/>
<rect x="39.6" y="477.7" width=".8" height=".8" fill="#6f9ecb"/>
<rect x="42.2" y="490.2" width=".8" height=".8" fill="#6f9ecb"/>
<rect x="45.0" y="498.5" width=".8" height=".8" fill="#6f9ecb"/>
<rect x="36.5" y="497.0" width=".8" height=".8" fill="#6f9ecb"/>
<rect x="41.4" y="488.0" width=".8" height=".8" fill="#6f9ecb"/>
<rect x="40.0" y="478.0" width=".8" height=".8" fill="#6f9ecb"/>
<rect x="41.1" y="487.1" width=".8" height=".8" fill="#6f9ecb"/>
<rect x="46.1" y="505.5" width=".8" height=".8" fill="#6f9ecb"/>
<rect x="41.6" y="490.6" width=".8" height=".8" fill="#6f9ecb"/>
<rect x="42.6" y="485.5" width=".8" height=".8" fill="#6f9ecb"/>
<rect x="47.0" y="499.2" width=".8" height=".8" fill="#6f9ecb"/>
<rect x="40.2" y="491.1" width=".8" height=".8" fill="#6f9ecb"/>
<rect x="38.1" y="495.6" width=".8" height=".8" fill="#6f9ecb"/>
<rect x="36.6" y="493.0" width=".8" height=".8" fill="#6f9ecb"/>
<rect x="39.5" y="498.7" width=".8" height=".8" fill="#6f9ecb"/>
<rect x="45.5" y="500.9" width=".8" height=".8" fill="#6f9ecb"/>
<rect x="41.0" y="485.9" width=".8" height=".8" fill="#6f9ecb"/>
<rect x="40.4" y="492.8" width=".8" height=".8" fill="#6f9ecb"/>
<rect x="43.4" y="487.3" width=".8" height=".8" fill="#6f9ecb"/>
<rect x="37.8" y="494.7" width=".8" height=".8" fill="#6f9ecb"/>
<rect x="44.5" y="483.1" width=".8" height=".8" fill="#6f9ecb"/>
<rect x="46.9" y="484.5" width=".8" height=".8" fill="#6f9ecb"/>
<rect x="38.6" y="497.3" width=".8" height=".8" fill="#6f9ecb"/>
<rect x="36.3" y="501.0" width=".8" height=".8" fill="#6f9ecb"/>
<rect x="41.3" y="497.0" width=".8" height=".8" fill="#6f9ecb"/>
<rect x="38.4" y="501.5" width=".8" height=".8" fill="#6f9ecb"/>
<rect x="43.4" y="489.4" width=".8" height=".8" fill="#6f9ecb"/>
<rect x="45.1" y="466.4" width=".8" height=".8" fill="#6f9ecb"/>
<rect x="42.9" y="491.9" width=".8" height=".8" fill="#6f9ecb"/>
<rect x="38.5" y="494.8" width=".8" height=".8" fill="#6f9ecb"/>
<rect x="43.4" y="485.6" width=".8" height=".8" fill="#6f9ecb"/>
<rect x="41.0" y="492.6" width=".8" height=".8" fill="#6f9ecb"/>
<rect x="43.0" y="505.3" width=".8" height=".8" fill="#6f9ecb"/>
<rect x="39.7" y="506.2" width=".8" height=".8" fill="#6f9ecb"/>
<rect x="36.5" y="496.0" width=".8" height=".8" fill="#6f9ecb"/>
<rect x="41.7" y="485.5" width=".8" height=".8" fill="#6f9ecb"/>
<rect x="45.4" y="493.4" width=".8" height=".8" fill="#6f9ecb"/>
<rect x="41.9" y="502.2" width=".8" height=".8" fill="#6f9ecb"/>
<rect x="45.7" y="475.7" width=".8" height=".8" fill="#6f9ecb"/>
<rect x="41.7" y="492.8" width=".8" height=".8" fill="#6f9ecb"/>
<rect x="37.4" y="476.8" width=".8" height=".8" fill="#6f9ecb"/>
<rect x="41.2" y="488.4" width=".8" height=".8" fill="#6f9ecb"/>
<rect x="38.7" y="491.6" width=".8" height=".8" fill="#6f9ecb"/>
<rect x="40.2" y="493.2" width=".8" height=".8" fill="#6f9ecb"/>
<rect x="47.5" y="492.7" width=".8" height=".8" fill="#6f9ecb"/>
<rect x="48.6" y="505.4" width=".8" height=".8" fill="#6f9ecb"/>
<rect x="45.2" y="485.7" width=".8" height=".8" fill="#6f9ecb"/>
<rect x="40.4" y="483.8" width=".8" height=".8" fill="#6f9ecb"/>
<rect x="43.1" y="492.3" width=".8" height=".8" fill="#6f9ecb"/>
<rect x="43.2" y="496.0" width=".8" height=".8" fill="#6f9ecb"/>
<rect x="42.1" y="489.4" width=".8" height=".8" fill="#6f9ecb"/>
<rect x="37.8" y="488.6" width=".8" height=".8" fill="#6f9ecb"/>
<rect x="44.2" y="491.4" width=".8" height=".8" fill="#6f9ecb"/>
<rect x="41.3" y="501.7" width=".8" height=".8" fill="#6f9ecb"/>
<rect x="43.4" y="478.3" width=".8" height=".8" fill="#6f9ecb"/>
<rect x="41.2" y="484.3" width=".8" height=".8" fill="#6f9ecb"/>
<rect x="41.3" y="496.9" width=".8" height=".8" fill="#6f9ecb"/>
<rect x="39.6" y="490.1" width=".8" height=".8" fill="#6f9ecb"/>
<rect x="43.7" y="502.6" width=".8" height=".8" fill="#6f9ecb"/>
<rect x="37.6" y="499.9" width=".8" height=".8" fill="#6f9ecb"/>
<rect x="44.0" y="491.5" width=".8" height=".8" fill="#6f9ecb"/>
<rect x="40.4" y="500.3" width=".8" height=".8" fill="#6f9ecb"/>
<rect x="43.1" y="497.0" width=".8" height=".8" fill="#6f9ecb"/>
<rect x="38.7" y="475.8" width=".8" height=".8" fill="#6f9ecb"/>
<rect x="41.1" y="490.3" width=".8" height=".8" fill="#6f9ecb"/>
<rect x="43.2" y="485.4" width=".8" height=".8" fill="#6f9ecb"/>
<rect x="43.9" y="497.1" width=".8" height=".8" fill="#6f9ecb"/>
<rect x="38.7" y="502.5" width=".8" height=".8" fill="#6f9ecb"/>
<rect x="40.2" y="486.0" width=".8" height=".8" fill="#6f9ecb"/>
<rect x="42.5" y="492.9" width=".8" height=".8" fill="#6f9ecb"/>
<rect x="38.1" y="499.2" width=".8" height=".8" fill="#6f9ecb"/>
<rect x="41.5" y="485.4" width=".8" height=".8" fill="#6f9ecb"/>
<rect x="41.9" y="494.2" width=".8" height=".8" fill="#6f9ecb"/>
<rect x="46.7" y="468.1" width=".8" height=".8" fill="#6f9ecb"/>
<rect x="46.3" y="506.6" width=".8" height=".8" fill="#6f9ecb"/>
<rect x="37.8" y="503.1" width=".8" height=".8" fill="#6f9ecb"/>
<rect x="38.4" y="482.6" width=".8" height=".8" fill="#6f9ecb"/>
<rect x="42.9" y="493.5" width=".8" height=".8" fill="#6f9ecb"/>
<rect x="44.9" y="486.8" width=".8" height=".8" fill="#6f9ecb"/>
<rect x="43.1" y="485.1" width=".8" height=".8" fill="#6f9ecb"/>
<rect x="45.6" y="495.9" width=".8" height=".8" fill="#6f9ecb"/>
<rect x="43.9" y="504.4" width=".8" height=".8" fill="#6f9ecb"/>
<rect x="43.2" y="484.0" width=".8" height=".8" fill="#6f9ecb"/>
<rect x="47.2" y="495.8" width=".8" height=".8" fill="#6f9ecb"/>
<rect x="42.7" y="499.2" width=".8" height=".8" fill="#6f9ecb"/>
<rect x="42.7" y="500.5" width=".8" height=".8" fill="#6f9ecb"/>
<rect x="42.3" y="491.2" width=".8" height=".8" fill="#6f9ecb"/>
<rect x="39.4" y="487.9" width=".8" height=".8" fill="#6f9ecb"/>
<rect x="40.4" y="502.9" width=".8" height=".8" fill="#6f9ecb"/>
<rect x="40.2" y="491.9" width=".8" height=".8" fill="#6f9ecb"/>
<rect x="41.1" y="498.3" width=".8" height=".8" fill="#6f9ecb"/>
<rect x="36.2" y="490.7" width=".8" height=".8" fill="#6f9ecb"/>
<rect x="43.7" y="476.1" width=".8" height=".8" fill="#6f9ecb"/>
<rect x="48.1" y="491.8" width=".8" height=".8" fill="#6f9ecb"/>
<rect x="38.5" y="502.7" width=".8" height=".8" fill="#6f9ecb"/>
<rect x="37.7" y="492.9" width=".8" height=".8" fill="#6f9ecb"/>
<rect x="42.9" y="500.9" width=".8" height=".8" fill="#6f9ecb"/>
<rect x="41.7" y="489.6" width=".8" height=".8" fill="#6f9ecb"/>
<rect x="46.2" y="492.3" width=".8" height=".8" fill="#6f9ecb"/>
<rect x="43.1" y="453.6" width=".8" height=".8" fill="#6f9ecb"/>
<rect x="43.2" y="492.3" width=".8" height=".8" fill="#6f9ecb"/>
<rect x="39.8" y="486.4" width=".8" height=".8" fill="#6f9ecb"/>
<rect x="44.9" y="472.6" width=".8" height=".8" fill="#6f9ecb"/>
<rect x="53.5" y="504.5" width=".8" height=".8" fill="#6f9ecb"/>
<rect x="42.5" y="484.1" width=".8" height=".8" fill="#6f9ecb"/>
<rect x="45.4" y="476.6" width=".8" height=".8" fill="#6f9ecb"/>
<rect x="43.8" y="505.0" width=".8" height=".8" fill="#6f9ecb"/>
<rect x="43.5" y="478.5" width=".8" height=".8" fill="#6f9ecb"/>
<rect x="42.3" y="491.8" width=".8" height=".8" fill="#6f9ecb"/>
<rect x="38.7" y="469.9" width=".8" height=".8" fill="#6f9ecb"/>
<rect x="37.0" y="488.0" width=".8" height=".8" fill="#6f9ecb"/>
<rect x="44.8" y="485.1" width=".8" height=".8" fill="#6f9ecb"/>
<rect x="39.9" y="503.8" width=".8" height=".8" fill="#6f9ecb"/>
<rect x="43.8" y="496.9" width=".8" height=".8" fill="#6f9ecb"/>
<rect x="42.4" y="505.0" width=".8" height=".8" fill="#6f9ecb"/>
<rect x="50.0" y="493.1" width=".8" height=".8" fill="#6f9ecb"/>
<rect x="42.1" y="498.0" width=".8" height=".8" fill="#6f9ecb"/>
<rect x="39.7" y="471.1" width=".8" height=".8" fill="#6f9ecb"/>
<rect x="43.4" y="485.7" width=".8" height=".8" fill="#6f9ecb"/>
<rect x="46.5" y="494.8" width=".8" height=".8" fill="#6f9ecb"/>
<rect x="47.2" y="484.4" width=".8" height=".8" fill="#6f9ecb"/>
<rect x="45.8" y="476.7" width=".8" height=".8" fill="#6f9ecb"/>
<rect x="45.1" y="490.6" width=".8" height=".8" fill="#6f9ecb"/>
<rect x="45.1" y="489.4" width=".8" height=".8" fill="#6f9ecb"/>
<rect x="44.1" y="498.0" width=".8" height=".8" fill="#6f9ecb"/>
<rect x="43.0" y="497.4" width=".8" height=".8" fill="#6f9ecb"/>
<rect x="47.9" y="487.4" width=".8" height=".8" fill="#6f9ecb"/>
<rect x="46.8" y="489.5" width=".8" height=".8" fill="#6f9ecb"/>
<rect x="38.5" y="471.4" width=".8" height=".8" fill="#6f9ecb"/>
<rect x="42.1" y="486.1" width=".8" height=".8" fill="#6f9ecb"/>
<rect x="39.5" y="489.7" width=".8" height=".8" fill="#6f9ecb"/>
<rect x="39.5" y="507.3" width=".8" height=".8" fill="#6f9ecb"/>
<rect x="45.8" y="504.6" width=".8" height=".8" fill="#6f9ecb"/>
<rect x="50.3" y="485.3" width=".8" height=".8" fill="#6f9ecb"/>
<rect x="42.5" y="492.4" width=".8" height=".8" fill="#6f9ecb"/>
<rect x="44.1" y="491.6" width=".8" height=".8" fill="#6f9ecb"/>
<rect x="45.5" y="505.8" width=".8" height=".8" fill="#6f9ecb"/>
<rect x="46.6" y="501.3" width=".8" height=".8" fill="#6f9ecb"/>
<rect x="36.4" y="477.0" width=".8" height=".8" fill="#6f9ecb"/>
<rect x="38.7" y="495.6" width=".8" height=".8" fill="#6f9ecb"/>
<rect x="41.5" y="496.7" width=".8" height=".8" fill="#6f9ecb"/>
<rect x="41.4" y="497.8" width=".8" height=".8" fill="#6f9ecb"/>
<rect x="45.3" y="493.1" width=".8" height=".8" fill="#6f9ecb"/>
<rect x="40.4" y="466.8" width=".8" height=".8" fill="#6f9ecb"/>
<rect x="44.8" y="485.3" width=".8" height=".8" fill="#6f9ecb"/>
<rect x="38.0" y="501.7" width=".8" height=".8" fill="#6f9ecb"/>
<rect x="45.0" y="499.8" width=".8" height=".8" fill="#6f9ecb"/>
<rect x="45.1" y="482.1" width=".8" height=".8" fill="#6f9ecb"/>
<rect x="40.6" y="487.5" width=".8" height=".8" fill="#6f9ecb"/>
<rect x="48.1" y="501.6" width=".8" height=".8" fill="#6f9ecb"/>
<rect x="40.6" y="501.4" width=".8" height=".8" fill="#6f9ecb"/>
<rect x="42.9" y="491.8" width=".8" height=".8" fill="#6f9ecb"/>
<rect x="43.3" y="501.5" width=".8" height=".8" fill="#6f9ecb"/>
<rect x="41.0" y="480.5" width=".8" height=".8" fill="#6f9ecb"/>
<rect x="42.8" y="490.4" width=".8" height=".8" fill="#6f9ecb"/>
<rect x="37.1" y="485.3" width=".8" height=".8" fill="#6f9ecb"/>
<rect x="40.6" y="493.3" width=".8" height=".8" fill="#6f9ecb"/>
<rect x="43.6" y="490.9" width=".8" height=".8" fill="#6f9ecb"/>
<rect x="43.2" y="489.3" width=".8" height=".8" fill="#6f9ecb"/>
<rect x="43.6" y="497.0" width=".8" height=".8" fill="#6f9ecb"/>
<rect x="43.7" y="507.4" width=".8" height=".8" fill="#6f9ecb"/>
<rect x="40.4" y="477.1" width=".8" height=".8" fill="#6f9ecb"/>
<rect x="41.2" y="501.1" width=".8" height=".8" fill="#6f9ecb"/>
<rect x="41.6" y="496.2" width=".8" height=".8" fill="#6f9ecb"/>
<rect x="43.5" y="500.8" width=".8" height=".8" fill="#6f9ecb"/>
<rect x="38.6" y="496.7" width=".8" height=".8" fill="#6f9ecb"/>
<rect x="60.0" y="460.7" width=".8" height=".8" fill="#9dbede"/>
<rect x="71.0" y="481.3" width=".8" height=".8" fill="#9dbede"/>
<rect x="75.5" y="489.0" width=".8" height=".8" fill="#9dbede"/>
<rect x="93.5" y="492.2" width=".8" height=".8" fill="#9dbede"/>
<rect x="64.9" y="492.1" width=".8" height=".8" fill="#9dbede"/>
<rect x="49.5" y="479.5" width=".8" height=".8" fill="#9dbede"/>
<rect x="84.7" y="488.2" width=".8" height=".8" fill="#9dbede"/>
<rect x="81.6" y="506.7" width=".8" height=".8" fill="#9dbede"/>
<rect x="59.6" y="489.9" width=".8" height=".8" fill="#9dbede"/>
<rect x="68.7" y="494.7" width=".8" height=".8" fill="#9dbede"/>
<rect x="71.6" y="489.7" width=".8" height=".8" fill="#9dbede"/>
<rect x="91.7" y="487.5" width=".8" height=".8" fill="#9dbede"/>
<rect x="67.1" y="472.5" width=".8" height=".8" fill="#9dbede"/>
<rect x="60.3" y="493.6" width=".8" height=".8" fill="#9dbede"/>
<rect x="88.4" y="474.3" width=".8" height=".8" fill="#9dbede"/>
<rect x="44.7" y="468.5" width=".8" height=".8" fill="#9dbede"/>
<rect x="76.1" y="463.8" width=".8" height=".8" fill="#9dbede"/>
<rect x="42.6" y="471.3" width=".8" height=".8" fill="#9dbede"/>
<rect x="41.4" y="482.9" width=".8" height=".8" fill="#9dbede"/>
<rect x="64.4" y="478.9" width=".8" height=".8" fill="#9dbede"/>
<rect x="88.2" y="464.4" width=".8" height=".8" fill="#9dbede"/>
<rect x="39.9" y="477.6" width=".8" height=".8" fill="#9dbede"/>
<rect x="76.6" y="456.6" width=".8" height=".8" fill="#9dbede"/>
<rect x="64.8" y="472.8" width=".8" height=".8" fill="#9dbede"/>
<rect x="70.4" y="468.8" width=".8" height=".8" fill="#9dbede"/>
<rect x="72.6" y="470.7" width=".8" height=".8" fill="#9dbede"/>
<rect x="51.5" y="457.6" width=".8" height=".8" fill="#9dbede"/>
<rect x="74.5" y="475.1" width=".8" height=".8" fill="#9dbede"/>
<rect x="59.3" y="487.8" width=".8" height=".8" fill="#9dbede"/>
<rect x="64.8" y="488.7" width=".8" height=".8" fill="#9dbede"/>
<rect x="42.5" y="485.9" width=".8" height=".8" fill="#9dbede"/>
<rect x="74.5" y="457.6" width=".8" height=".8" fill="#9dbede"/>
<rect x="55.5" y="475.8" width=".8" height=".8" fill="#9dbede"/>
<rect x="63.2" y="482.4" width=".8" height=".8" fill="#9dbede"/>
<rect x="49.9" y="464.7" width=".8" height=".8" fill="#9dbede"/>
<rect x="99.6" y="465.4" width=".8" height=".8" fill="#9dbede"/>
<rect x="64.0" y="475.3" width=".8" height=".8" fill="#9dbede"/>
<rect x="66.1" y="496.1" width=".8" height=".8" fill="#9dbede"/>
<rect x="62.0" y="490.8" width=".8" height=".8" fill="#9dbede"/>
<rect x="58.0" y="489.6" width=".8" height=".8" fill="#9dbede"/>
<rect x="67.0" y="475.4" width=".8" height=".8" fill="#9dbede"/>
<rect x="68.8" y="486.3" width=".8" height=".8" fill="#9dbede"/>
<rect x="53.3" y="463.4" width=".8" height=".8" fill="#9dbede"/>
<rect x="98.5" y="485.6" width=".8" height=".8" fill="#9dbede"/>
<rect x="64.9" y="487.6" width=".8" height=".8" fill="#9dbede"/>
<rect x="69.2" y="444.2" width=".8" height=".8" fill="#9dbede"/>
<rect x="72.3" y="476.2" width=".8" height=".8" fill="#9dbede"/>
<rect x="74.9" y="466.4" width=".8" height=".8" fill="#9dbede"/>
<rect x="66.9" y="495.1" width=".8" height=".8" fill="#9dbede"/>
<rect x="67.9" y="471.6" width=".8" height=".8" fill="#9dbede"/>
<rect x="75.1" y="472.1" width=".8" height=".8" fill="#9dbede"/>
<rect x="85.0" y="475.4" width=".8" height=".8" fill="#9dbede"/>
<rect x="75.1" y="467.4" width=".8" height=".8" fill="#9dbede"/>
<rect x="52.5" y="488.8" width=".8" height=".8" fill="#9dbede"/>
<rect x="73.7" y="487.6" width=".8" height=".8" fill="#9dbede"/>
<rect x="80.3" y="456.0" width=".8" height=".8" fill="#9dbede"/>
<rect x="71.7" y="447.9" width=".8" height=".8" fill="#9dbede"/>
<rect x="77.3" y="461.7" width=".8" height=".8" fill="#9dbede"/>
<rect x="76.5" y="488.9" width=".8" height=".8" fill="#9dbede"/>
<rect x="62.4" y="477.7" width=".8" height=".8" fill="#9dbede"/>
<rect x="87.1" y="453.2" width=".8" height=".8" fill="#9dbede"/>
<rect x="79.0" y="479.8" width=".8" height=".8" fill="#9dbede"/>
<rect x="83.3" y="453.2" width=".8" height=".8" fill="#9dbede"/>
<rect x="70.0" y="494.6" width=".8" height=".8" fill="#9dbede"/>
<rect x="89.0" y="466.5" width=".8" height=".8" fill="#9dbede"/>
<rect x="66.1" y="505.6" width=".8" height=".8" fill="#9dbede"/>
<rect x="50.1" y="477.3" width=".8" height=".8" fill="#9dbede"/>
<rect x="72.5" y="480.6" width=".8" height=".8" fill="#9dbede"/>
<rect x="56.9" y="492.5" width=".8" height=".8" fill="#9dbede"/>
<rect x="82.4" y="505.2" width=".8" height=".8" fill="#9dbede"/>
<rect x="58.9" y="470.8" width=".8" height=".8" fill="#9dbede"/>
<rect x="85.4" y="505.2" width=".8" height=".8" fill="#9dbede"/>
<rect x="69.9" y="455.1" width=".8" height=".8" fill="#9dbede"/>
<rect x="67.0" y="492.5" width=".8" height=".8" fill="#9dbede"/>
<rect x="79.5" y="494.7" width=".8" height=".8" fill="#9dbede"/>
<rect x="96.9" y="471.5" width=".8" height=".8" fill="#9dbede"/>
<rect x="57.3" y="460.0" width=".8" height=".8" fill="#9dbede"/>
<rect x="68.3" y="493.3" width=".8" height=".8" fill="#9dbede"/>
<rect x="94.2" y="481.3" width=".8" height=".8" fill="#9dbede"/>
<rect x="70.2" y="476.0" width=".8" height=".8" fill="#9dbede"/>
<rect x="87.2" y="466.6" width=".8" height=".8" fill="#9dbede"/>
<rect x="68.5" y="476.8" width=".8" height=".8" fill="#9dbede"/>
<rect x="69.6" y="505.1" width=".8" height=".8" fill="#9dbede"/>
<rect x="60.8" y="465.7" width=".8" height=".8" fill="#9dbede"/>
<rect x="60.7" y="487.7" width=".8" height=".8" fill="#9dbede"/>
<rect x="69.8" y="494.8" width=".8" height=".8" fill="#9dbede"/>
<rect x="58.5" y="452.9" width=".8" height=".8" fill="#9dbede"/>
<rect x="64.8" y="482.2" width=".8" height=".8" fill="#9dbede"/>
<rect x="49.4" y="476.4" width=".8" height=".8" fill="#9dbede"/>
<rect x="77.5" y="465.9" width=".8" height=".8" fill="#9dbede"/>
<rect x="58.5" y="461.6" width=".8" height=".8" fill="#9dbede"/>
<rect x="68.0" y="484.8" width=".8" height=".8" fill="#9dbede"/>
<rect x="52.3" y="454.9" width=".8" height=".8" fill="#9dbede"/>
<rect x="68.5" y="501.6" width=".8" height=".8" fill="#9dbede"/>
<rect x="79.2" y="470.1" width=".8" height=".8" fill="#9dbede"/>
<rect x="84.0" y="498.7" width=".8" height=".8" fill="#9dbede"/>
<rect x="90.5" y="462.0" width=".8" height=".8" fill="#9dbede"/>
<rect x="76.1" y="458.8" width=".8" height=".8" fill="#9dbede"/>
<rect x="58.7" y="458.8" width=".8" height=".8" fill="#9dbede"/>
<rect x="66.3" y="456.5" width=".8" height=".8" fill="#9dbede"/>
<rect x="80.8" y="477.8" width=".8" height=".8" fill="#9dbede"/>
<rect x="57.9" y="485.3" width=".8" height=".8" fill="#9dbede"/>
<rect x="91.4" y="483.2" width=".8" height=".8" fill="#9dbede"/>
<rect x="61.8" y="473.7" width=".8" height=".8" fill="#9dbede"/>
<rect x="68.5" y="467.5" width=".8" height=".8" fill="#9dbede"/>
<rect x="46.0" y="472.3" width=".8" height=".8" fill="#9dbede"/>
<rect x="87.4" y="465.6" width=".8" height=".8" fill="#9dbede"/>
<rect x="43.0" y="476.7" width=".8" height=".8" fill="#9dbede"/>
<rect x="85.4" y="452.2" width=".8" height=".8" fill="#9dbede"/>
<rect x="72.7" y="484.2" width=".8" height=".8" fill="#9dbede"/>
<rect x="77.5" y="486.4" width=".8" height=".8" fill="#9dbede"/>
<rect x="78.5" y="454.2" width=".8" height=".8" fill="#9dbede"/>
<rect x="78.6" y="498.7" width=".8" height=".8" fill="#9dbede"/>
<rect x="66.9" y="483.6" width=".8" height=".8" fill="#9dbede"/>
<rect x="55.8" y="497.5" width=".8" height=".8" fill="#9dbede"/>
<rect x="61.3" y="502.7" width=".8" height=".8" fill="#9dbede"/>
<rect x="64.7" y="488.2" width=".8" height=".8" fill="#9dbede"/>
<rect x="62.5" y="506.2" width=".8" height=".8" fill="#9dbede"/>
<rect x="42.4" y="483.5" width=".8" height=".8" fill="#9dbede"/>
<rect x="40.9" y="459.9" width=".8" height=".8" fill="#9dbede"/>
<rect x="96.5" y="491.6" width=".8" height=".8" fill="#9dbede"/>
<rect x="41.9" y="477.9" width=".8" height=".8" fill="#9dbede"/>
<rect x="61.3" y="486.5" width=".8" height=".8" fill="#9dbede"/>
<rect x="95.9" y="487.8" width=".8" height=".8" fill="#9dbede"/>
<rect x="76.1" y="485.6" width=".8" height=".8" fill="#9dbede"/>
<rect x="54.7" y="488.5" width=".8" height=".8" fill="#9dbede"/>
<rect x="82.9" y="468.8" width=".8" height=".8" fill="#9dbede"/>
<rect x="61.0" y="499.7" width=".8" height=".8" fill="#9dbede"/>
<rect x="72.9" y="460.9" width=".8" height=".8" fill="#9dbede"/>
<rect x="64.1" y="471.1" width=".8" height=".8" fill="#9dbede"/>
<rect x="69.1" y="476.9" width=".8" height=".8" fill="#9dbede"/>
<rect x="66.5" y="503.1" width=".8" height=".8" fill="#9dbede"/>
<rect x="81.7" y="500.2" width=".8" height=".8" fill="#9dbede"/>
<rect x="46.3" y="479.7" width=".8" height=".8" fill="#9dbede"/>
<rect x="86.4" y="488.9" width=".8" height=".8" fill="#9dbede"/>
<rect x="60.5" y="466.7" width=".8" height=".8" fill="#9dbede"/>
<rect x="83.4" y="474.8" width=".8" height=".8" fill="#9dbede"/>
<rect x="79.1" y="480.3" width=".8" height=".8" fill="#9dbede"/>
<rect x="68.4" y="479.8" width=".8" height=".8" fill="#9dbede"/>
<rect x="58.4" y="503.5" width=".8" height=".8" fill="#9dbede"/>
<rect x="77.7" y="499.0" width=".8" height=".8" fill="#9dbede"/>
<rect x="62.6" y="469.9" width=".8" height=".8" fill="#9dbede"/>
<rect x="65.5" y="465.1" width=".8" height=".8" fill="#9dbede"/>
<rect x="79.5" y="488.7" width=".8" height=".8" fill="#9dbede"/>
<rect x="62.8" y="473.2" width=".8" height=".8" fill="#9dbede"/>
<rect x="75.3" y="466.7" width=".8" height=".8" fill="#9dbede"/>
<rect x="64.3" y="501.4" width=".8" height=".8" fill="#9dbede"/>
<rect x="59.5" y="470.2" width=".8" height=".8" fill="#9dbede"/>
<rect x="53.4" y="505.0" width=".8" height=".8" fill="#9dbede"/>
<rect x="64.3" y="485.5" width=".8" height=".8" fill="#9dbede"/>
<rect x="99.7" y="467.2" width=".8" height=".8" fill="#9dbede"/>
<rect x="61.7" y="484.2" width=".8" height=".8" fill="#9dbede"/>
<rect x="68.9" y="470.1" width=".8" height=".8" fill="#9dbede"/>
</g>
<g transform="rotate(-15 69 497)"><ellipse cx="69" cy="497" rx="20" ry="4.2" fill="#5bbcc4" opacity="0.9" filter="url(#bl2)"/></g>
<g transform="rotate(-17 67 497.8)"><ellipse cx="67" cy="497.8" rx="14" ry="2.4" fill="#8ccf52" filter="url(#bl2)"/></g>
<g transform="rotate(-17 70 496.8)"><ellipse cx="70" cy="496.8" rx="4" ry="1.5" fill="#dede40" filter="url(#bl2)"/></g>
<g transform="rotate(-15 58.5 500.9)"><ellipse cx="58.5" cy="500.9" rx="4.6" ry="1.8" fill="#f0b030" filter="url(#bl2)"/></g>
<g transform="rotate(-15 58.5 500.9)"><ellipse cx="58.5" cy="500.9" rx="2.4" ry="1.0" fill="#e04a22" filter="url(#bl2)"/></g>
<ellipse cx="37.5" cy="506" rx="2.5" ry="1.4" fill="#d8c23a" filter="url(#bl2)"/>
</g>
<rect x="35.40" y="442.80" width="65.20" height="64.90" fill="none" stroke="#111" stroke-width="1.3"/>
<rect x="48.5" y="446.5" width="51.3" height="61.2" fill="none" stroke="#3a2458" stroke-width="1"/>
<line x1="33.80" y1="501.21" x2="35.40" y2="501.21" stroke="#222" stroke-width="0.9" />
<line x1="33.80" y1="494.72" x2="35.40" y2="494.72" stroke="#222" stroke-width="0.9" />
<line x1="33.80" y1="488.23" x2="35.40" y2="488.23" stroke="#222" stroke-width="0.9" />
<line x1="33.80" y1="481.74" x2="35.40" y2="481.74" stroke="#222" stroke-width="0.9" />
<line x1="33.80" y1="475.25" x2="35.40" y2="475.25" stroke="#222" stroke-width="0.9" />
<line x1="33.80" y1="468.76" x2="35.40" y2="468.76" stroke="#222" stroke-width="0.9" />
<line x1="33.80" y1="462.27" x2="35.40" y2="462.27" stroke="#222" stroke-width="0.9" />
<line x1="33.80" y1="455.78" x2="35.40" y2="455.78" stroke="#222" stroke-width="0.9" />
<line x1="33.80" y1="449.29" x2="35.40" y2="449.29" stroke="#222" stroke-width="0.9" />
<line x1="47.47" y1="507.70" x2="47.47" y2="509.50" stroke="#222" stroke-width="0.9" />
<line x1="59.55" y1="507.70" x2="59.55" y2="509.50" stroke="#222" stroke-width="0.9" />
<line x1="71.62" y1="507.70" x2="71.62" y2="509.50" stroke="#222" stroke-width="0.9" />
<line x1="83.70" y1="507.70" x2="83.70" y2="509.50" stroke="#222" stroke-width="0.9" />
<line x1="95.77" y1="507.70" x2="95.77" y2="509.50" stroke="#222" stroke-width="0.9" />
<text x="98.5" y="506.5" font-size="4.6" fill="#6a4a8a" text-anchor="end" stroke="#6a4a8a" stroke-width="0.1">85.1</text>
<text x="29.3" y="447.7" font-size="6.1" fill="#262626" text-anchor="end" stroke="#262626" stroke-width="0.3" textLength="14.7" lengthAdjust="spacingAndGlyphs">250K</text>
<text x="29.3" y="509.1" font-size="6.1" fill="#262626" text-anchor="end" stroke="#262626" stroke-width="0.3">0</text>
<text x="34.8" y="518.5" font-size="5.6" fill="#262626" text-anchor="middle" stroke="#262626" stroke-width="0.3">0</text>
<text x="97.3" y="518.5" font-size="5.6" fill="#262626" text-anchor="middle" stroke="#262626" stroke-width="0.3" textLength="14.7" lengthAdjust="spacingAndGlyphs">250K</text>
<text x="63.9" y="529.6" font-size="8.9" fill="#262626" text-anchor="middle" stroke="#262626" stroke-width="0.1" font-weight="bold" textLength="16.1" lengthAdjust="spacingAndGlyphs">FSC-A</text>
<text transform="translate(14.1,485.0) rotate(-90)" font-size="8.9" fill="#262626" text-anchor="middle" stroke="#262626" stroke-width="0.1" font-weight="bold" textLength="15.3" lengthAdjust="spacingAndGlyphs">SSC-A</text>
<rect x="136.80" y="442.40" width="65.10" height="65.60" fill="none" stroke="#111" stroke-width="1.3"/>
<clipPath id="k9"><rect x="137.45000000000002" y="443.04999999999995" width="63.8" height="65.80000000000003"/></clipPath>
<g clip-path="url(#k9)">
<polyline points="135.8,507.4 136.2,506.0 136.7,503.2 137.1,498.8 137.6,496.4 138.0,496.2 138.5,496.0 138.9,494.9 139.4,496.9 139.8,496.7 140.3,495.8 140.7,496.3 141.2,496.5 141.6,496.1 142.1,495.8 142.5,495.1 143.0,494.1 143.4,496.1 143.9,494.9 144.3,495.6 144.8,495.0 145.2,495.3 145.7,494.7 146.1,495.0 146.6,494.9 147.0,493.2 147.5,494.8 147.9,494.9 148.4,495.1 148.8,494.6 149.3,494.6 149.7,495.5 150.2,495.0 150.6,496.4 151.1,493.9 151.5,494.1 152.0,492.5 152.4,492.9 152.9,490.7 153.3,491.2 153.8,489.4 154.2,489.5 154.7,488.0 155.1,487.8 155.6,487.6 156.0,486.2 156.5,487.3 156.9,486.3 157.4,489.0 157.8,487.5 158.3,489.0 158.7,491.8 159.2,491.0 159.6,493.3 160.1,494.1 160.5,494.7 161.0,495.2 161.4,498.0 161.9,497.3 162.3,499.4 162.8,498.6 163.2,499.8 163.7,500.5 164.1,500.3 164.6,501.2 165.0,499.8 165.5,500.4 165.9,499.5 166.4,499.8 166.8,501.4 167.3,500.9 167.7,499.1 168.2,497.5 168.6,495.8 169.1,493.8 169.5,492.5 170.0,489.9 170.4,486.2 170.9,482.0 171.3,474.7 171.8,470.5 172.2,463.1 172.7,457.5 173.1,454.7 173.6,451.4 174.0,449.0 174.5,451.0 174.9,452.0 175.4,457.0 175.8,461.0 176.3,466.6 176.7,473.6 177.2,479.4 177.6,488.2 178.1,496.2 178.5,502.5 179.0,506.4 179.4,507.3 179.9,507.4 180.3,507.6 180.8,507.7 181.2,507.8 181.7,507.8 182.1,507.8 182.6,507.8 183.0,507.8 183.5,507.8 183.9,507.8 184.4,507.8 184.8,507.8 185.3,507.8 185.7,507.8 186.2,507.8 186.6,507.8 187.1,507.8 187.5,507.8 188.0,507.8 188.4,507.8 188.9,507.8 189.3,507.8 189.8,507.8 190.2,507.8 190.7,507.8 191.1,507.8 191.6,507.8 192.0,507.8 192.5,507.8 192.9,507.8 193.4,507.8 193.8,507.8 194.3,507.8 194.7,507.8 195.2,507.8 195.6,507.8 196.1,507.8 196.5,507.8 197.0,507.8 197.4,507.8 197.9,507.8 198.3,507.8 198.8,507.8 199.2,507.8 199.7,507.8 200.1,507.8 200.6,507.8 201.0,507.8 201.5,507.8 201.9,507.8 202.4,507.8 202.8,507.8" fill="none" stroke="#d9a24a" stroke-width="1.15" stroke-linejoin="round" />
</g>
<line x1="134.20" y1="491.60" x2="136.80" y2="491.60" stroke="#222" stroke-width="0.9" />
<line x1="134.20" y1="475.20" x2="136.80" y2="475.20" stroke="#222" stroke-width="0.9" />
<line x1="134.20" y1="458.80" x2="136.80" y2="458.80" stroke="#222" stroke-width="0.9" />
<line x1="137.66" y1="508.00" x2="137.66" y2="509.80" stroke="#222" stroke-width="0.9" />
<line x1="139.49" y1="508.00" x2="139.49" y2="509.80" stroke="#222" stroke-width="0.9" />
<line x1="141.31" y1="508.00" x2="141.31" y2="509.80" stroke="#222" stroke-width="0.9" />
<line x1="143.40" y1="508.00" x2="143.40" y2="510.60" stroke="#222" stroke-width="0.9" />
<line x1="145.49" y1="508.00" x2="145.49" y2="509.80" stroke="#222" stroke-width="0.9" />
<line x1="147.31" y1="508.00" x2="147.31" y2="509.80" stroke="#222" stroke-width="0.9" />
<line x1="149.14" y1="508.00" x2="149.14" y2="509.80" stroke="#222" stroke-width="0.9" />
<line x1="153.84" y1="508.00" x2="153.84" y2="509.60" stroke="#222" stroke-width="0.9" />
<line x1="159.06" y1="508.00" x2="159.06" y2="509.60" stroke="#222" stroke-width="0.9" />
<line x1="165.32" y1="508.00" x2="165.32" y2="510.60" stroke="#222" stroke-width="0.9" />
<line x1="169.88" y1="508.00" x2="169.88" y2="509.50" stroke="#222" stroke-width="0.9" />
<line x1="172.55" y1="508.00" x2="172.55" y2="509.50" stroke="#222" stroke-width="0.9" />
<line x1="174.44" y1="508.00" x2="174.44" y2="509.50" stroke="#222" stroke-width="0.9" />
<line x1="175.91" y1="508.00" x2="175.91" y2="509.50" stroke="#222" stroke-width="0.9" />
<line x1="177.10" y1="508.00" x2="177.10" y2="509.50" stroke="#222" stroke-width="0.9" />
<line x1="178.12" y1="508.00" x2="178.12" y2="509.50" stroke="#222" stroke-width="0.9" />
<line x1="178.99" y1="508.00" x2="178.99" y2="509.50" stroke="#222" stroke-width="0.9" />
<line x1="179.77" y1="508.00" x2="179.77" y2="509.50" stroke="#222" stroke-width="0.9" />
<line x1="180.46" y1="508.00" x2="180.46" y2="510.60" stroke="#222" stroke-width="0.9" />
<line x1="185.02" y1="508.00" x2="185.02" y2="509.50" stroke="#222" stroke-width="0.9" />
<line x1="187.68" y1="508.00" x2="187.68" y2="509.50" stroke="#222" stroke-width="0.9" />
<line x1="189.58" y1="508.00" x2="189.58" y2="509.50" stroke="#222" stroke-width="0.9" />
<line x1="191.04" y1="508.00" x2="191.04" y2="509.50" stroke="#222" stroke-width="0.9" />
<line x1="192.24" y1="508.00" x2="192.24" y2="509.50" stroke="#222" stroke-width="0.9" />
<line x1="193.26" y1="508.00" x2="193.26" y2="509.50" stroke="#222" stroke-width="0.9" />
<line x1="194.13" y1="508.00" x2="194.13" y2="509.50" stroke="#222" stroke-width="0.9" />
<line x1="194.91" y1="508.00" x2="194.91" y2="509.50" stroke="#222" stroke-width="0.9" />
<line x1="195.60" y1="508.00" x2="195.60" y2="510.60" stroke="#222" stroke-width="0.9" />
<line x1="136.80" y1="493.00" x2="201.90" y2="493.00" stroke="#111" stroke-width="1.25" />
<line x1="165.30" y1="491.60" x2="165.30" y2="494.40" stroke="#111" stroke-width="1.1" />
<text x="137.5" y="490.0" font-size="4.6" fill="#262626" text-anchor="start" stroke="#262626" stroke-width="0.3" textLength="11.0" lengthAdjust="spacingAndGlyphs">56.2</text>
<text x="201.3" y="490.0" font-size="4.6" fill="#262626" text-anchor="end" stroke="#262626" stroke-width="0.3" textLength="10.3" lengthAdjust="spacingAndGlyphs">43.8</text>
<text x="132.1" y="444.0" font-size="6.1" fill="#262626" text-anchor="end" stroke="#262626" stroke-width="0.3" textLength="10.4" lengthAdjust="spacingAndGlyphs">800</text>
<text x="131.2" y="509.2" font-size="6.1" fill="#262626" text-anchor="end" stroke="#262626" stroke-width="0.3">0</text>
<text x="143.5" y="518.5" font-size="5.0" fill="#262626" text-anchor="middle" stroke="#262626" stroke-width="0.3">0</text>
<text x="196.0" y="518.5" font-size="5.0" fill="#262626" stroke="#262626" stroke-width="0.18" text-anchor="middle">10<tspan dy="-2.1" font-size="3.90">5</tspan></text>
<text x="169.65" y="529.9" font-size="8.6" fill="#262626" text-anchor="middle" stroke="#262626" stroke-width="0.1" font-weight="bold" textLength="16.9" lengthAdjust="spacingAndGlyphs">CD138</text>
<text transform="translate(118.6,475.0) rotate(-90)" font-size="8.8" fill="#262626" text-anchor="middle" stroke="#262626" stroke-width="0.1" font-weight="bold" textLength="41.3" lengthAdjust="spacingAndGlyphs">Buffy coat cells</text>
<rect x="207.60" y="442.40" width="65.80" height="65.60" fill="none" stroke="#111" stroke-width="1.3"/>
<clipPath id="k10"><rect x="208.25" y="443.04999999999995" width="64.49999999999999" height="65.80000000000003"/></clipPath>
<g clip-path="url(#k10)">
<polyline points="206.6,507.4 207.0,506.0 207.5,503.1 207.9,499.8 208.4,499.6 208.8,498.5 209.3,498.9 209.7,497.3 210.2,498.8 210.6,499.9 211.1,503.3 211.5,503.7 212.0,504.4 212.4,504.1 212.9,504.2 213.3,505.4 213.8,504.8 214.2,505.1 214.7,505.0 215.1,505.3 215.6,504.1 216.0,504.0 216.5,505.1 216.9,505.9 217.4,503.8 217.8,504.3 218.3,504.7 218.7,504.2 219.2,504.2 219.6,504.1 220.1,504.7 220.5,504.0 221.0,504.0 221.4,503.0 221.9,504.0 222.3,504.5 222.8,503.6 223.2,502.8 223.7,502.0 224.1,502.8 224.6,502.5 225.0,501.7 225.5,499.9 225.9,500.6 226.4,500.0 226.8,499.7 227.3,500.1 227.7,498.8 228.2,499.0 228.6,499.6 229.1,497.8 229.5,497.8 230.0,497.9 230.4,496.5 230.9,495.4 231.3,496.2 231.8,496.1 232.2,493.8 232.7,494.2 233.1,493.5 233.6,494.2 234.0,491.5 234.5,491.9 234.9,490.6 235.4,490.5 235.8,490.8 236.3,490.3 236.7,490.3 237.2,489.8 237.6,489.4 238.1,491.4 238.5,492.1 239.0,491.4 239.4,491.7 239.9,493.4 240.3,493.4 240.8,494.0 241.2,495.2 241.7,494.8 242.1,495.6 242.6,497.0 243.0,496.7 243.5,498.1 243.9,498.7 244.4,499.4 244.8,499.8 245.3,499.0 245.7,500.2 246.2,500.9 246.6,501.8 247.1,502.0 247.5,501.4 248.0,501.7 248.4,501.3 248.9,501.9 249.3,501.9 249.8,501.7 250.2,502.5 250.7,503.4 251.1,503.9 251.6,503.2 252.0,503.1 252.5,503.4 252.9,503.8 253.4,503.8 253.8,503.9 254.3,503.7 254.7,503.9 255.2,505.4 255.6,505.0 256.1,504.3 256.5,505.3 257.0,504.8 257.4,505.5 257.9,505.4 258.3,505.9 258.8,505.8 259.2,506.1 259.7,506.5 260.1,506.7 260.6,506.1 261.0,507.1 261.5,506.3 261.9,506.7 262.4,507.0 262.8,507.3 263.3,507.2 263.7,507.2 264.2,507.5 264.6,507.3 265.1,507.3 265.5,507.5 266.0,507.5 266.4,507.6 266.9,507.8 267.3,507.8 267.8,507.8 268.2,507.8 268.7,507.8 269.1,507.8 269.6,507.8 270.0,507.8 270.5,507.8 270.9,507.8 271.4,507.8 271.8,507.8 272.3,507.8 272.7,507.8 273.2,507.8 273.6,507.8 274.1,507.8" fill="none" stroke="#d9a24a" stroke-width="1.15" stroke-linejoin="round" />
<polyline points="206.6,507.8 207.0,507.7 207.5,507.5 207.9,507.3 208.4,507.3 208.8,507.6 209.3,507.2 209.7,507.1 210.2,507.3 210.6,507.3 211.1,507.3 211.5,507.2 212.0,507.4 212.4,507.3 212.9,507.6 213.3,507.3 213.8,507.2 214.2,507.4 214.7,507.3 215.1,507.1 215.6,507.3 216.0,507.1 216.5,507.4 216.9,507.1 217.4,507.2 217.8,507.1 218.3,507.2 218.7,507.4 219.2,507.3 219.6,507.1 220.1,507.0 220.5,507.3 221.0,507.1 221.4,507.0 221.9,507.3 222.3,507.0 222.8,507.3 223.2,507.3 223.7,507.2 224.1,507.0 224.6,507.1 225.0,507.4 225.5,507.2 225.9,507.3 226.4,507.2 226.8,507.2 227.3,507.2 227.7,507.2 228.2,507.2 228.6,507.3 229.1,507.3 229.5,507.1 230.0,507.0 230.4,507.1 230.9,507.0 231.3,506.8 231.8,507.1 232.2,507.0 232.7,507.4 233.1,507.1 233.6,506.9 234.0,507.2 234.5,507.1 234.9,507.3 235.4,507.2 235.8,507.4 236.3,507.0 236.7,507.2 237.2,507.1 237.6,507.1 238.1,506.9 238.5,507.2 239.0,506.9 239.4,507.2 239.9,507.2 240.3,507.2 240.8,506.9 241.2,507.3 241.7,507.0 242.1,507.2 242.6,507.1 243.0,507.4 243.5,507.0 243.9,507.1 244.4,507.2 244.8,506.9 245.3,507.0 245.7,507.1 246.2,507.1 246.6,507.0 247.1,507.4 247.5,507.4 248.0,507.3 248.4,507.1 248.9,507.2 249.3,507.4 249.8,507.3 250.2,507.2 250.7,507.0 251.1,507.2 251.6,507.2 252.0,507.0 252.5,507.0 252.9,506.8 253.4,506.7 253.8,506.6 254.3,506.6 254.7,505.9 255.2,504.7 255.6,503.6 256.1,502.8 256.5,500.0 257.0,498.3 257.4,495.3 257.9,493.4 258.3,488.5 258.8,484.8 259.2,479.1 259.7,472.7 260.1,468.2 260.6,464.0 261.0,461.0 261.5,458.4 261.9,456.8 262.4,455.8 262.8,455.1 263.3,456.6 263.7,457.3 264.2,459.2 264.6,462.8 265.1,467.0 265.5,472.8 266.0,479.0 266.4,486.5 266.9,492.6 267.3,496.9 267.8,501.5 268.2,503.5 268.7,505.3 269.1,506.3 269.6,507.1 270.0,507.1 270.5,507.3 270.9,507.4 271.4,507.6 271.8,507.7 272.3,507.8 272.7,507.8 273.2,507.8 273.6,507.8 274.1,507.8" fill="none" stroke="#3b1d5a" stroke-width="1.55" stroke-linejoin="round" />
</g>
<line x1="205.00" y1="491.60" x2="207.60" y2="491.60" stroke="#222" stroke-width="0.9" />
<line x1="205.00" y1="475.20" x2="207.60" y2="475.20" stroke="#222" stroke-width="0.9" />
<line x1="205.00" y1="458.80" x2="207.60" y2="458.80" stroke="#222" stroke-width="0.9" />
<line x1="208.50" y1="508.00" x2="208.50" y2="509.80" stroke="#222" stroke-width="0.9" />
<line x1="210.31" y1="508.00" x2="210.31" y2="509.80" stroke="#222" stroke-width="0.9" />
<line x1="212.13" y1="508.00" x2="212.13" y2="509.80" stroke="#222" stroke-width="0.9" />
<line x1="214.20" y1="508.00" x2="214.20" y2="510.60" stroke="#222" stroke-width="0.9" />
<line x1="216.27" y1="508.00" x2="216.27" y2="509.80" stroke="#222" stroke-width="0.9" />
<line x1="218.08" y1="508.00" x2="218.08" y2="509.80" stroke="#222" stroke-width="0.9" />
<line x1="219.90" y1="508.00" x2="219.90" y2="509.80" stroke="#222" stroke-width="0.9" />
<line x1="224.56" y1="508.00" x2="224.56" y2="509.60" stroke="#222" stroke-width="0.9" />
<line x1="229.74" y1="508.00" x2="229.74" y2="509.60" stroke="#222" stroke-width="0.9" />
<line x1="235.96" y1="508.00" x2="235.96" y2="510.60" stroke="#222" stroke-width="0.9" />
<line x1="240.48" y1="508.00" x2="240.48" y2="509.50" stroke="#222" stroke-width="0.9" />
<line x1="243.12" y1="508.00" x2="243.12" y2="509.50" stroke="#222" stroke-width="0.9" />
<line x1="245.00" y1="508.00" x2="245.00" y2="509.50" stroke="#222" stroke-width="0.9" />
<line x1="246.46" y1="508.00" x2="246.46" y2="509.50" stroke="#222" stroke-width="0.9" />
<line x1="247.65" y1="508.00" x2="247.65" y2="509.50" stroke="#222" stroke-width="0.9" />
<line x1="248.65" y1="508.00" x2="248.65" y2="509.50" stroke="#222" stroke-width="0.9" />
<line x1="249.52" y1="508.00" x2="249.52" y2="509.50" stroke="#222" stroke-width="0.9" />
<line x1="250.29" y1="508.00" x2="250.29" y2="509.50" stroke="#222" stroke-width="0.9" />
<line x1="250.98" y1="508.00" x2="250.98" y2="510.60" stroke="#222" stroke-width="0.9" />
<line x1="255.50" y1="508.00" x2="255.50" y2="509.50" stroke="#222" stroke-width="0.9" />
<line x1="258.15" y1="508.00" x2="258.15" y2="509.50" stroke="#222" stroke-width="0.9" />
<line x1="260.02" y1="508.00" x2="260.02" y2="509.50" stroke="#222" stroke-width="0.9" />
<line x1="261.48" y1="508.00" x2="261.48" y2="509.50" stroke="#222" stroke-width="0.9" />
<line x1="262.67" y1="508.00" x2="262.67" y2="509.50" stroke="#222" stroke-width="0.9" />
<line x1="263.67" y1="508.00" x2="263.67" y2="509.50" stroke="#222" stroke-width="0.9" />
<line x1="264.54" y1="508.00" x2="264.54" y2="509.50" stroke="#222" stroke-width="0.9" />
<line x1="265.31" y1="508.00" x2="265.31" y2="509.50" stroke="#222" stroke-width="0.9" />
<line x1="266.00" y1="508.00" x2="266.00" y2="510.60" stroke="#222" stroke-width="0.9" />
<rect x="210.60" y="445.30" width="2.60" height="2.60" fill="#3b1d5a"/>
<rect x="210.60" y="451.00" width="2.60" height="2.60" fill="#d9a24a"/>
<text x="216.1" y="448.0" font-size="4.9" fill="#262626" text-anchor="start" stroke="#262626" stroke-width="0.3" textLength="21.3" lengthAdjust="spacingAndGlyphs">CD138+</text>
<text x="216.1" y="453.7" font-size="4.9" fill="#262626" text-anchor="start" stroke="#262626" stroke-width="0.3" textLength="19.5" lengthAdjust="spacingAndGlyphs">CD138-</text>
<text x="214.2" y="518.5" font-size="5.0" fill="#262626" text-anchor="middle" stroke="#262626" stroke-width="0.3">0</text>
<text x="266.0" y="518.5" font-size="5.0" fill="#262626" stroke="#262626" stroke-width="0.18" text-anchor="middle">10<tspan dy="-2.1" font-size="3.90">5</tspan></text>
<text x="239.3" y="529.9" font-size="8.6" fill="#262626" text-anchor="middle" stroke="#262626" stroke-width="0.1" font-weight="bold" textLength="13.4" lengthAdjust="spacingAndGlyphs">CD38</text>
<rect x="105.40" y="538.60" width="65.00" height="65.40" fill="none" stroke="#111" stroke-width="1.3"/>
<clipPath id="k11"><rect x="106.05000000000001" y="539.25" width="63.7" height="65.59999999999998"/></clipPath>
<g clip-path="url(#k11)">
<polyline points="104.4,603.7 104.9,603.3 105.3,601.3 105.8,599.5 106.2,597.3 106.7,596.8 107.1,597.6 107.6,597.3 108.0,597.6 108.5,597.2 108.9,598.2 109.4,599.3 109.8,598.3 110.3,598.3 110.7,597.7 111.2,597.2 111.6,597.0 112.1,596.6 112.5,597.8 113.0,596.8 113.4,596.4 113.9,596.2 114.3,597.2 114.8,598.1 115.2,596.0 115.7,595.9 116.1,594.6 116.6,597.0 117.0,593.7 117.5,594.9 117.9,593.8 118.4,593.3 118.8,593.7 119.3,591.6 119.7,593.1 120.2,591.6 120.6,591.9 121.1,591.7 121.5,591.4 122.0,591.6 122.4,588.7 122.9,590.3 123.3,590.0 123.8,589.8 124.2,590.1 124.7,589.0 125.1,589.5 125.6,588.4 126.0,589.2 126.5,588.3 126.9,588.1 127.4,588.4 127.8,588.5 128.3,589.0 128.7,587.8 129.2,588.4 129.6,587.4 130.1,589.8 130.5,589.2 131.0,587.5 131.4,588.2 131.9,590.1 132.3,588.2 132.8,590.3 133.2,590.5 133.7,590.0 134.1,590.6 134.6,591.9 135.0,592.8 135.5,591.3 135.9,592.0 136.4,592.9 136.8,593.0 137.3,594.3 137.7,594.6 138.2,594.9 138.6,596.0 139.1,595.3 139.5,595.2 140.0,595.1 140.4,595.0 140.9,595.1 141.3,594.8 141.8,595.1 142.2,595.2 142.7,595.6 143.1,594.5 143.6,596.2 144.0,596.5 144.5,596.5 144.9,598.0 145.4,596.8 145.8,598.4 146.3,598.3 146.7,597.9 147.2,599.2 147.6,600.1 148.1,600.6 148.5,600.1 149.0,601.6 149.4,600.1 149.9,601.3 150.3,600.6 150.8,601.5 151.2,601.3 151.7,602.0 152.1,602.5 152.6,602.4 153.0,602.6 153.5,602.7 153.9,602.8 154.4,603.0 154.8,603.0 155.3,603.1 155.7,603.1 156.2,603.1 156.6,602.9 157.1,603.4 157.5,603.5 158.0,602.9 158.4,603.0 158.9,603.2 159.3,603.2 159.8,603.5 160.2,603.5 160.7,603.7 161.1,603.8 161.6,603.8 162.0,603.8 162.5,603.8 162.9,603.8 163.4,603.8 163.8,603.8 164.3,603.8 164.7,603.8 165.2,603.8 165.6,603.8 166.1,603.8 166.5,603.8 167.0,603.8 167.4,603.8 167.9,603.8 168.3,603.8 168.8,603.8 169.2,603.8 169.7,603.8 170.1,603.8 170.6,603.8 171.0,603.8" fill="none" stroke="#d9a24a" stroke-width="1.15" stroke-linejoin="round" />
<polyline points="104.4,603.8 104.9,603.7 105.3,603.6 105.8,603.4 106.2,603.4 106.7,603.2 107.1,603.4 107.6,603.2 108.0,603.1 108.5,603.4 108.9,603.3 109.4,603.3 109.8,603.2 110.3,603.3 110.7,603.2 111.2,603.1 111.6,603.2 112.1,603.3 112.5,603.3 113.0,603.5 113.4,603.3 113.9,603.2 114.3,603.3 114.8,603.1 115.2,603.2 115.7,603.1 116.1,603.1 116.6,603.2 117.0,603.4 117.5,603.1 117.9,603.3 118.4,603.3 118.8,603.1 119.3,603.3 119.7,603.3 120.2,603.6 120.6,603.3 121.1,603.2 121.5,603.4 122.0,603.3 122.4,603.5 122.9,603.1 123.3,603.2 123.8,603.0 124.2,603.1 124.7,603.2 125.1,603.3 125.6,603.2 126.0,603.1 126.5,603.0 126.9,603.3 127.4,603.4 127.8,603.4 128.3,603.5 128.7,603.2 129.2,603.0 129.6,602.8 130.1,603.0 130.5,603.1 131.0,603.2 131.4,603.0 131.9,602.8 132.3,603.2 132.8,603.3 133.2,602.8 133.7,603.1 134.1,602.5 134.6,603.0 135.0,602.5 135.5,602.6 135.9,602.9 136.4,602.7 136.8,603.0 137.3,602.5 137.7,602.7 138.2,602.7 138.6,602.5 139.1,602.5 139.5,602.5 140.0,602.3 140.4,602.2 140.9,602.0 141.3,601.5 141.8,601.5 142.2,601.3 142.7,601.7 143.1,600.7 143.6,600.6 144.0,599.6 144.5,600.3 144.9,599.7 145.4,599.6 145.8,599.2 146.3,598.7 146.7,598.5 147.2,597.5 147.6,596.3 148.1,595.1 148.5,593.0 149.0,590.6 149.4,588.6 149.9,584.7 150.3,580.3 150.8,574.6 151.2,569.6 151.7,564.1 152.1,559.6 152.6,554.8 153.0,550.9 153.5,549.0 153.9,547.5 154.4,548.1 154.8,550.4 155.3,554.4 155.7,559.6 156.2,566.4 156.6,572.6 157.1,579.7 157.5,585.6 158.0,590.8 158.4,595.9 158.9,599.7 159.3,601.5 159.8,602.2 160.2,602.1 160.7,602.8 161.1,603.2 161.6,603.5 162.0,603.7 162.5,603.8 162.9,603.8 163.4,603.8 163.8,603.8 164.3,603.8 164.7,603.8 165.2,603.8 165.6,603.8 166.1,603.8 166.5,603.8 167.0,603.8 167.4,603.8 167.9,603.8 168.3,603.8 168.8,603.8 169.2,603.8 169.7,603.8 170.1,603.8 170.6,603.8 171.0,603.8" fill="none" stroke="#3b1d5a" stroke-width="1.55" stroke-linejoin="round" />
</g>
<line x1="102.80" y1="587.65" x2="105.40" y2="587.65" stroke="#222" stroke-width="0.9" />
<line x1="102.80" y1="571.30" x2="105.40" y2="571.30" stroke="#222" stroke-width="0.9" />
<line x1="102.80" y1="554.95" x2="105.40" y2="554.95" stroke="#222" stroke-width="0.9" />
<line x1="107.28" y1="604.00" x2="107.28" y2="605.80" stroke="#222" stroke-width="0.9" />
<line x1="109.11" y1="604.00" x2="109.11" y2="605.80" stroke="#222" stroke-width="0.9" />
<line x1="111.20" y1="604.00" x2="111.20" y2="606.60" stroke="#222" stroke-width="0.9" />
<line x1="113.29" y1="604.00" x2="113.29" y2="605.80" stroke="#222" stroke-width="0.9" />
<line x1="115.12" y1="604.00" x2="115.12" y2="605.80" stroke="#222" stroke-width="0.9" />
<line x1="116.95" y1="604.00" x2="116.95" y2="605.80" stroke="#222" stroke-width="0.9" />
<line x1="121.66" y1="604.00" x2="121.66" y2="605.60" stroke="#222" stroke-width="0.9" />
<line x1="126.89" y1="604.00" x2="126.89" y2="605.60" stroke="#222" stroke-width="0.9" />
<line x1="133.17" y1="604.00" x2="133.17" y2="606.60" stroke="#222" stroke-width="0.9" />
<line x1="137.73" y1="604.00" x2="137.73" y2="605.50" stroke="#222" stroke-width="0.9" />
<line x1="140.40" y1="604.00" x2="140.40" y2="605.50" stroke="#222" stroke-width="0.9" />
<line x1="142.30" y1="604.00" x2="142.30" y2="605.50" stroke="#222" stroke-width="0.9" />
<line x1="143.77" y1="604.00" x2="143.77" y2="605.50" stroke="#222" stroke-width="0.9" />
<line x1="144.97" y1="604.00" x2="144.97" y2="605.50" stroke="#222" stroke-width="0.9" />
<line x1="145.98" y1="604.00" x2="145.98" y2="605.50" stroke="#222" stroke-width="0.9" />
<line x1="146.86" y1="604.00" x2="146.86" y2="605.50" stroke="#222" stroke-width="0.9" />
<line x1="147.64" y1="604.00" x2="147.64" y2="605.50" stroke="#222" stroke-width="0.9" />
<line x1="148.33" y1="604.00" x2="148.33" y2="606.60" stroke="#222" stroke-width="0.9" />
<line x1="152.90" y1="604.00" x2="152.90" y2="605.50" stroke="#222" stroke-width="0.9" />
<line x1="155.57" y1="604.00" x2="155.57" y2="605.50" stroke="#222" stroke-width="0.9" />
<line x1="157.46" y1="604.00" x2="157.46" y2="605.50" stroke="#222" stroke-width="0.9" />
<line x1="158.93" y1="604.00" x2="158.93" y2="605.50" stroke="#222" stroke-width="0.9" />
<line x1="160.14" y1="604.00" x2="160.14" y2="605.50" stroke="#222" stroke-width="0.9" />
<line x1="161.15" y1="604.00" x2="161.15" y2="605.50" stroke="#222" stroke-width="0.9" />
<line x1="162.03" y1="604.00" x2="162.03" y2="605.50" stroke="#222" stroke-width="0.9" />
<line x1="162.81" y1="604.00" x2="162.81" y2="605.50" stroke="#222" stroke-width="0.9" />
<line x1="163.50" y1="604.00" x2="163.50" y2="606.60" stroke="#222" stroke-width="0.9" />
<rect x="107.40" y="541.90" width="2.80" height="2.80" fill="#3b1d5a"/>
<rect x="107.40" y="547.60" width="2.80" height="2.80" fill="#d9a24a"/>
<text x="113.5" y="544.7" font-size="4.9" fill="#262626" text-anchor="start" stroke="#262626" stroke-width="0.3" textLength="21.3" lengthAdjust="spacingAndGlyphs">CD138+</text>
<text x="113.5" y="550.4" font-size="4.9" fill="#262626" text-anchor="start" stroke="#262626" stroke-width="0.3" textLength="19.5" lengthAdjust="spacingAndGlyphs">CD138-</text>
<text x="99.2" y="540.1999999999999" font-size="6.1" fill="#262626" text-anchor="end" stroke="#262626" stroke-width="0.3" textLength="10.4" lengthAdjust="spacingAndGlyphs">800</text>
<text x="98.0" y="605.8" font-size="6.1" fill="#262626" text-anchor="end" stroke="#262626" stroke-width="0.3">0</text>
<text x="111.2" y="614.5" font-size="5.0" fill="#262626" text-anchor="middle" stroke="#262626" stroke-width="0.3">0</text>
<text x="163.8" y="614.5" font-size="5.0" fill="#262626" stroke="#262626" stroke-width="0.18" text-anchor="middle">10<tspan dy="-2.1" font-size="3.90">5</tspan></text>
<text x="137.8" y="626.9" font-size="8.6" fill="#262626" text-anchor="middle" stroke="#262626" stroke-width="0.1" font-weight="bold" textLength="14.6" lengthAdjust="spacingAndGlyphs">CD28</text>
<text transform="translate(85.8,571.0) rotate(-90)" font-size="8.8" fill="#262626" text-anchor="middle" stroke="#262626" stroke-width="0.1" font-weight="bold" textLength="40.9" lengthAdjust="spacingAndGlyphs">Buffy coat cells</text>
<rect x="173.70" y="538.60" width="65.40" height="65.40" fill="none" stroke="#111" stroke-width="1.3"/>
<clipPath id="k12"><rect x="174.35" y="539.25" width="64.10000000000001" height="65.59999999999998"/></clipPath>
<g clip-path="url(#k12)">
<polyline points="172.7,603.6 173.1,602.6 173.6,600.2 174.0,597.3 174.5,592.9 174.9,590.0 175.4,589.4 175.8,590.3 176.3,589.1 176.7,587.5 177.2,586.7 177.6,584.6 178.1,584.9 178.5,583.8 179.0,581.5 179.4,580.8 179.9,580.5 180.3,579.4 180.8,579.3 181.2,577.5 181.7,577.8 182.1,577.8 182.6,577.5 183.0,577.7 183.5,576.0 183.9,577.6 184.4,577.0 184.8,575.5 185.3,576.3 185.7,576.4 186.2,575.3 186.6,576.0 187.1,577.3 187.5,576.4 188.0,578.0 188.4,579.2 188.9,580.2 189.3,582.4 189.8,583.3 190.2,584.5 190.7,587.5 191.1,587.9 191.6,589.7 192.0,590.9 192.5,593.8 192.9,594.6 193.4,596.7 193.8,597.9 194.3,598.9 194.7,600.9 195.2,601.3 195.6,601.5 196.1,602.6 196.5,602.6 197.0,603.5 197.4,603.0 197.9,603.3 198.3,603.6 198.8,603.7 199.2,603.8 199.7,603.8 200.1,603.8 200.6,603.8 201.0,603.8 201.5,603.8 201.9,603.8 202.4,603.8 202.8,603.8 203.3,603.8 203.7,603.8 204.2,603.8 204.6,603.8 205.1,603.8 205.5,603.8 206.0,603.8 206.4,603.8 206.9,603.8 207.3,603.8 207.8,603.8 208.2,603.8 208.7,603.8 209.1,603.8 209.6,603.8 210.0,603.8 210.5,603.8 210.9,603.8 211.4,603.8 211.8,603.8 212.3,603.8 212.7,603.8 213.2,603.8 213.6,603.8 214.1,603.8 214.5,603.8 215.0,603.8 215.4,603.8 215.9,603.8 216.3,603.8 216.8,603.8 217.2,603.8 217.7,603.8 218.1,603.8 218.6,603.8 219.0,603.8 219.5,603.8 219.9,603.8 220.4,603.8 220.8,603.8 221.3,603.8 221.7,603.8 222.2,603.8 222.6,603.8 223.1,603.8 223.5,603.8 224.0,603.8 224.4,603.8 224.9,603.8 225.3,603.8 225.8,603.8 226.2,603.8 226.7,603.8 227.1,603.8 227.6,603.8 228.0,603.8 228.5,603.8 228.9,603.8 229.4,603.8 229.8,603.8 230.3,603.8 230.7,603.8 231.2,603.8 231.6,603.8 232.1,603.8 232.5,603.8 233.0,603.8 233.4,603.8 233.9,603.8 234.3,603.8 234.8,603.8 235.2,603.8 235.7,603.8 236.1,603.8 236.6,603.8 237.0,603.8 237.5,603.8 237.9,603.8 238.4,603.8 238.8,603.8 239.3,603.8 239.7,603.8" fill="none" stroke="#d9a24a" stroke-width="1.15" stroke-linejoin="round" />
<polyline points="172.7,603.5 173.1,602.8 173.6,601.2 174.0,599.1 174.5,600.1 174.9,599.0 175.4,599.0 175.8,599.8 176.3,599.3 176.7,599.7 177.2,599.0 177.6,598.8 178.1,598.3 178.5,599.6 179.0,598.8 179.4,599.4 179.9,599.2 180.3,598.3 180.8,599.4 181.2,598.8 181.7,598.0 182.1,598.3 182.6,598.5 183.0,597.4 183.5,597.5 183.9,597.8 184.4,596.4 184.8,596.1 185.3,596.0 185.7,595.5 186.2,595.8 186.6,595.2 187.1,594.9 187.5,593.4 188.0,594.2 188.4,593.1 188.9,592.5 189.3,592.6 189.8,592.1 190.2,591.1 190.7,590.0 191.1,588.7 191.6,588.3 192.0,588.0 192.5,587.9 192.9,586.1 193.4,585.2 193.8,584.4 194.3,583.3 194.7,582.5 195.2,582.6 195.6,581.5 196.1,580.8 196.5,581.4 197.0,581.4 197.4,581.4 197.9,582.2 198.3,582.9 198.8,582.8 199.2,584.8 199.7,587.7 200.1,589.1 200.6,589.4 201.0,591.9 201.5,592.3 201.9,594.4 202.4,594.8 202.8,596.0 203.3,597.1 203.7,598.0 204.2,599.7 204.6,600.4 205.1,601.3 205.5,601.7 206.0,602.5 206.4,603.0 206.9,602.7 207.3,603.2 207.8,603.5 208.2,603.6 208.7,603.8 209.1,603.8 209.6,603.8 210.0,603.8 210.5,603.8 210.9,603.8 211.4,603.8 211.8,603.8 212.3,603.8 212.7,603.8 213.2,603.8 213.6,603.8 214.1,603.8 214.5,603.8 215.0,603.8 215.4,603.8 215.9,603.8 216.3,603.8 216.8,603.8 217.2,603.8 217.7,603.8 218.1,603.8 218.6,603.8 219.0,603.8 219.5,603.8 219.9,603.8 220.4,603.8 220.8,603.8 221.3,603.8 221.7,603.8 222.2,603.8 222.6,603.8 223.1,603.8 223.5,603.8 224.0,603.8 224.4,603.8 224.9,603.8 225.3,603.8 225.8,603.8 226.2,603.8 226.7,603.8 227.1,603.8 227.6,603.8 228.0,603.8 228.5,603.8 228.9,603.8 229.4,603.8 229.8,603.8 230.3,603.8 230.7,603.8 231.2,603.8 231.6,603.8 232.1,603.8 232.5,603.8 233.0,603.8 233.4,603.8 233.9,603.8 234.3,603.8 234.8,603.8 235.2,603.8 235.7,603.8 236.1,603.8 236.6,603.8 237.0,603.8 237.5,603.8 237.9,603.8 238.4,603.8 238.8,603.8 239.3,603.8 239.7,603.8" fill="none" stroke="#3b1d5a" stroke-width="1.75" stroke-linejoin="round" />
</g>
<line x1="171.10" y1="587.65" x2="173.70" y2="587.65" stroke="#222" stroke-width="0.9" />
<line x1="171.10" y1="571.30" x2="173.70" y2="571.30" stroke="#222" stroke-width="0.9" />
<line x1="171.10" y1="554.95" x2="173.70" y2="554.95" stroke="#222" stroke-width="0.9" />
<line x1="175.04" y1="604.00" x2="175.04" y2="605.80" stroke="#222" stroke-width="0.9" />
<line x1="176.87" y1="604.00" x2="176.87" y2="605.80" stroke="#222" stroke-width="0.9" />
<line x1="178.70" y1="604.00" x2="178.70" y2="605.80" stroke="#222" stroke-width="0.9" />
<line x1="180.80" y1="604.00" x2="180.80" y2="606.60" stroke="#222" stroke-width="0.9" />
<line x1="182.90" y1="604.00" x2="182.90" y2="605.80" stroke="#222" stroke-width="0.9" />
<line x1="184.73" y1="604.00" x2="184.73" y2="605.80" stroke="#222" stroke-width="0.9" />
<line x1="186.56" y1="604.00" x2="186.56" y2="605.80" stroke="#222" stroke-width="0.9" />
<line x1="191.28" y1="604.00" x2="191.28" y2="605.60" stroke="#222" stroke-width="0.9" />
<line x1="196.52" y1="604.00" x2="196.52" y2="605.60" stroke="#222" stroke-width="0.9" />
<line x1="202.81" y1="604.00" x2="202.81" y2="606.60" stroke="#222" stroke-width="0.9" />
<line x1="207.38" y1="604.00" x2="207.38" y2="605.50" stroke="#222" stroke-width="0.9" />
<line x1="210.06" y1="604.00" x2="210.06" y2="605.50" stroke="#222" stroke-width="0.9" />
<line x1="211.96" y1="604.00" x2="211.96" y2="605.50" stroke="#222" stroke-width="0.9" />
<line x1="213.43" y1="604.00" x2="213.43" y2="605.50" stroke="#222" stroke-width="0.9" />
<line x1="214.63" y1="604.00" x2="214.63" y2="605.50" stroke="#222" stroke-width="0.9" />
<line x1="215.65" y1="604.00" x2="215.65" y2="605.50" stroke="#222" stroke-width="0.9" />
<line x1="216.53" y1="604.00" x2="216.53" y2="605.50" stroke="#222" stroke-width="0.9" />
<line x1="217.31" y1="604.00" x2="217.31" y2="605.50" stroke="#222" stroke-width="0.9" />
<line x1="218.00" y1="604.00" x2="218.00" y2="606.60" stroke="#222" stroke-width="0.9" />
<line x1="222.58" y1="604.00" x2="222.58" y2="605.50" stroke="#222" stroke-width="0.9" />
<line x1="225.25" y1="604.00" x2="225.25" y2="605.50" stroke="#222" stroke-width="0.9" />
<line x1="227.15" y1="604.00" x2="227.15" y2="605.50" stroke="#222" stroke-width="0.9" />
<line x1="228.63" y1="604.00" x2="228.63" y2="605.50" stroke="#222" stroke-width="0.9" />
<line x1="229.83" y1="604.00" x2="229.83" y2="605.50" stroke="#222" stroke-width="0.9" />
<line x1="230.85" y1="604.00" x2="230.85" y2="605.50" stroke="#222" stroke-width="0.9" />
<line x1="231.73" y1="604.00" x2="231.73" y2="605.50" stroke="#222" stroke-width="0.9" />
<line x1="232.50" y1="604.00" x2="232.50" y2="605.50" stroke="#222" stroke-width="0.9" />
<line x1="233.20" y1="604.00" x2="233.20" y2="606.60" stroke="#222" stroke-width="0.9" />
<text x="180.8" y="614.5" font-size="5.0" fill="#262626" text-anchor="middle" stroke="#262626" stroke-width="0.3">0</text>
<text x="233.5" y="614.5" font-size="5.0" fill="#262626" stroke="#262626" stroke-width="0.18" text-anchor="middle">10<tspan dy="-2.1" font-size="3.90">5</tspan></text>
<text x="206.9" y="626.9" font-size="8.6" fill="#262626" text-anchor="middle" stroke="#262626" stroke-width="0.1" font-weight="bold" textLength="14.2" lengthAdjust="spacingAndGlyphs">CD86</text>
<text x="290.8" y="439.2" font-size="11.5" fill="#111" text-anchor="start" stroke="#111" stroke-width="0.2" font-weight="bold">D</text>
<line x1="325.40" y1="443.30" x2="325.40" y2="508.90" stroke="#111" stroke-width="1.3" />
<line x1="324.80" y1="508.30" x2="419.20" y2="508.30" stroke="#111" stroke-width="1.4" />
<line x1="322.60" y1="508.30" x2="325.40" y2="508.30" stroke="#111" stroke-width="1.1" />
<text x="320.3" y="510.3" font-size="5.6" fill="#262626" text-anchor="end" stroke="#262626" stroke-width="0.3">0</text>
<line x1="322.60" y1="487.13" x2="325.40" y2="487.13" stroke="#111" stroke-width="1.1" />
<text x="320.3" y="489.1333333333333" font-size="5.6" fill="#262626" text-anchor="end" stroke="#262626" stroke-width="0.3" textLength="7.0" lengthAdjust="spacingAndGlyphs">20</text>
<line x1="322.60" y1="465.97" x2="325.40" y2="465.97" stroke="#111" stroke-width="1.1" />
<text x="320.3" y="467.9666666666667" font-size="5.6" fill="#262626" text-anchor="end" stroke="#262626" stroke-width="0.3" textLength="7.0" lengthAdjust="spacingAndGlyphs">40</text>
<line x1="322.60" y1="444.80" x2="325.40" y2="444.80" stroke="#111" stroke-width="1.1" />
<text x="320.3" y="446.8" font-size="5.6" fill="#262626" text-anchor="end" stroke="#262626" stroke-width="0.3" textLength="7.0" lengthAdjust="spacingAndGlyphs">60</text>
<line x1="334.60" y1="508.30" x2="334.60" y2="511.10" stroke="#111" stroke-width="1.1" />
<text x="334.6" y="518.8" font-size="5.6" fill="#262626" text-anchor="middle" stroke="#262626" stroke-width="0.3">1</text>
<line x1="353.80" y1="508.30" x2="353.80" y2="511.10" stroke="#111" stroke-width="1.1" />
<text x="353.8" y="518.8" font-size="5.6" fill="#262626" text-anchor="middle" stroke="#262626" stroke-width="0.3">2</text>
<line x1="373.00" y1="508.30" x2="373.00" y2="511.10" stroke="#111" stroke-width="1.1" />
<text x="373.0" y="518.8" font-size="5.6" fill="#262626" text-anchor="middle" stroke="#262626" stroke-width="0.3">3</text>
<line x1="391.80" y1="508.30" x2="391.80" y2="511.10" stroke="#111" stroke-width="1.1" />
<text x="391.8" y="518.8" font-size="5.6" fill="#262626" text-anchor="middle" stroke="#262626" stroke-width="0.3">4</text>
<line x1="411.20" y1="508.30" x2="411.20" y2="511.10" stroke="#111" stroke-width="1.1" />
<text x="411.2" y="518.8" font-size="5.6" fill="#262626" text-anchor="middle" stroke="#262626" stroke-width="0.3">5</text>
<polyline points="326.3,508.3 353.8,500.8 373.0,497.5 391.8,496.2 411.2,492.7" fill="none" stroke="#6aa84a" stroke-width="1.1" stroke-linejoin="round" />
<circle cx="353.80" cy="500.80" r="1.1" fill="#6db345"/>
<circle cx="373.00" cy="497.50" r="1.1" fill="#6db345"/>
<circle cx="391.80" cy="496.20" r="1.1" fill="#6db345"/>
<circle cx="411.20" cy="492.70" r="1.1" fill="#6db345"/>
<polyline points="326.3,508.3 353.8,496.7 373.0,486.5 391.8,476.5 411.2,457.2" fill="none" stroke="#9a1838" stroke-width="1.35" stroke-linejoin="round" />
<rect x="352.50" y="495.40" width="2.60" height="2.60" fill="#9a1838"/>
<rect x="371.70" y="485.20" width="2.60" height="2.60" fill="#9a1838"/>
<rect x="390.50" y="475.20" width="2.60" height="2.60" fill="#9a1838"/>
<rect x="409.90" y="455.90" width="2.60" height="2.60" fill="#9a1838"/>
<line x1="325.40" y1="533.50" x2="325.40" y2="599.00" stroke="#111" stroke-width="1.3" />
<line x1="324.80" y1="598.40" x2="419.20" y2="598.40" stroke="#111" stroke-width="1.4" />
<line x1="322.60" y1="598.40" x2="325.40" y2="598.40" stroke="#111" stroke-width="1.1" />
<text x="320.3" y="600.4" font-size="5.6" fill="#262626" text-anchor="end" stroke="#262626" stroke-width="0.3">0</text>
<line x1="322.60" y1="577.27" x2="325.40" y2="577.27" stroke="#111" stroke-width="1.1" />
<text x="320.3" y="579.2666666666667" font-size="5.6" fill="#262626" text-anchor="end" stroke="#262626" stroke-width="0.3" textLength="7.0" lengthAdjust="spacingAndGlyphs">20</text>
<line x1="322.60" y1="556.13" x2="325.40" y2="556.13" stroke="#111" stroke-width="1.1" />
<text x="320.3" y="558.1333333333333" font-size="5.6" fill="#262626" text-anchor="end" stroke="#262626" stroke-width="0.3" textLength="7.0" lengthAdjust="spacingAndGlyphs">40</text>
<line x1="322.60" y1="535.00" x2="325.40" y2="535.00" stroke="#111" stroke-width="1.1" />
<text x="320.3" y="537.0" font-size="5.6" fill="#262626" text-anchor="end" stroke="#262626" stroke-width="0.3" textLength="7.0" lengthAdjust="spacingAndGlyphs">60</text>
<line x1="334.60" y1="598.40" x2="334.60" y2="601.20" stroke="#111" stroke-width="1.1" />
<text x="334.6" y="608.9" font-size="5.6" fill="#262626" text-anchor="middle" stroke="#262626" stroke-width="0.3">1</text>
<line x1="353.80" y1="598.40" x2="353.80" y2="601.20" stroke="#111" stroke-width="1.1" />
<text x="353.8" y="608.9" font-size="5.6" fill="#262626" text-anchor="middle" stroke="#262626" stroke-width="0.3">2</text>
<line x1="373.00" y1="598.40" x2="373.00" y2="601.20" stroke="#111" stroke-width="1.1" />
<text x="373.0" y="608.9" font-size="5.6" fill="#262626" text-anchor="middle" stroke="#262626" stroke-width="0.3">3</text>
<line x1="391.80" y1="598.40" x2="391.80" y2="601.20" stroke="#111" stroke-width="1.1" />
<text x="391.8" y="608.9" font-size="5.6" fill="#262626" text-anchor="middle" stroke="#262626" stroke-width="0.3">4</text>
<line x1="411.20" y1="598.40" x2="411.20" y2="601.20" stroke="#111" stroke-width="1.1" />
<text x="411.2" y="608.9" font-size="5.6" fill="#262626" text-anchor="middle" stroke="#262626" stroke-width="0.3">5</text>
<polyline points="326.3,598.4 353.8,556.9 373.0,557.7 391.8,552.8 411.2,550.4" fill="none" stroke="#6aa84a" stroke-width="1.1" stroke-linejoin="round" />
<circle cx="353.80" cy="556.90" r="1.1" fill="#6db345"/>
<circle cx="373.00" cy="557.70" r="1.1" fill="#6db345"/>
<circle cx="391.80" cy="552.80" r="1.1" fill="#6db345"/>
<circle cx="411.20" cy="550.40" r="1.1" fill="#6db345"/>
<polyline points="326.3,598.4 353.8,556.9 373.0,556.9 391.8,548.8 411.2,542.9" fill="none" stroke="#9a1838" stroke-width="1.35" stroke-linejoin="round" />
<rect x="352.50" y="555.60" width="2.60" height="2.60" fill="#9a1838"/>
<rect x="371.70" y="555.60" width="2.60" height="2.60" fill="#9a1838"/>
<rect x="390.50" y="547.50" width="2.60" height="2.60" fill="#9a1838"/>
<rect x="409.90" y="541.60" width="2.60" height="2.60" fill="#9a1838"/>
<line x1="328.00" y1="443.80" x2="335.20" y2="443.80" stroke="#6db345" stroke-width="1.2" />
<circle cx="331.60" cy="443.80" r="1.1" fill="#6db345"/>
<line x1="328.00" y1="450.80" x2="335.20" y2="450.80" stroke="#9a1838" stroke-width="1.5" />
<rect x="330.30" y="449.50" width="2.60" height="2.60" fill="#9a1838"/>
<text x="337.8" y="445.7" font-size="5.2" fill="#262626" text-anchor="start" stroke="#262626" stroke-width="0.3" textLength="14" lengthAdjust="spacingAndGlyphs">pLKO</text>
<text x="337.8" y="452.6" font-size="5.2" fill="#262626" text-anchor="start" stroke="#262626" stroke-width="0.3" textLength="19" lengthAdjust="spacingAndGlyphs">shCD86</text>
<text x="373.3" y="619.8" font-size="7.8" fill="#262626" text-anchor="middle" stroke="#262626" stroke-width="0.1" font-weight="bold" textLength="50.4" lengthAdjust="spacingAndGlyphs">Days post-infection</text>
<text transform="translate(308.6,475.6) rotate(-90)" font-size="9.0" fill="#262626" text-anchor="middle" stroke="#262626" stroke-width="0.1" font-weight="bold" textLength="32.6" lengthAdjust="spacingAndGlyphs">CD38+ cells</text>
<text transform="translate(308.9,565.6) rotate(-90)" font-size="9.0" fill="#262626" text-anchor="middle" stroke="#262626" stroke-width="0.1" font-weight="bold" textLength="30.7" lengthAdjust="spacingAndGlyphs">CD38- cells</text>
<text transform="translate(296.8,520.7) rotate(-90)" font-size="8.4" fill="#262626" text-anchor="middle" stroke="#262626" stroke-width="0.3" textLength="98.4" lengthAdjust="spacingAndGlyphs">Percent Annexin V Positive</text>
<rect x="451.40" y="447.20" width="61.20" height="61.20" fill="none" stroke="#111" stroke-width="1.3"/>
<clipPath id="k13"><rect x="452.04999999999995" y="447.84999999999997" width="59.90000000000005" height="61.39999999999999"/></clipPath>
<g clip-path="url(#k13)">
<polyline points="450.4,508.1 450.8,507.0 451.3,505.2 451.7,502.4 452.2,499.1 452.6,500.6 453.1,500.9 453.5,501.6 454.0,502.6 454.4,503.0 454.9,501.0 455.3,499.2 455.8,499.7 456.2,500.4 456.7,499.6 457.1,497.9 457.6,497.3 458.0,496.9 458.5,498.1 458.9,497.9 459.4,496.5 459.8,498.3 460.3,496.5 460.7,496.4 461.2,494.8 461.6,494.6 462.1,491.9 462.5,493.0 463.0,494.6 463.4,491.9 463.9,492.1 464.3,489.8 464.8,490.4 465.2,491.9 465.7,487.8 466.1,489.2 466.6,488.2 467.0,486.0 467.5,484.7 467.9,483.4 468.4,482.4 468.8,480.8 469.3,480.7 469.7,478.0 470.2,480.3 470.6,478.7 471.1,478.9 471.5,478.4 472.0,476.9 472.4,478.3 472.9,479.1 473.3,479.3 473.8,482.4 474.2,484.1 474.7,485.8 475.1,488.1 475.6,491.9 476.0,492.9 476.5,495.1 476.9,498.9 477.4,501.2 477.8,501.7 478.3,504.6 478.7,503.9 479.2,506.1 479.6,506.6 480.1,507.6 480.5,507.6 481.0,507.8 481.4,507.4 481.9,508.2 482.3,508.0 482.8,508.1 483.2,508.2 483.7,508.2 484.1,508.2 484.6,508.2 485.0,508.2 485.5,508.2 485.9,508.2 486.4,508.2 486.8,508.2 487.3,508.2 487.7,508.2 488.2,508.2 488.6,508.2 489.1,508.2 489.5,508.2 490.0,508.2 490.4,508.2 490.9,508.2 491.3,508.2 491.8,508.2 492.2,508.2 492.7,508.2 493.1,508.2 493.6,508.2 494.0,508.2 494.5,508.2 494.9,508.2 495.4,508.2 495.8,508.2 496.3,508.2 496.7,508.2 497.2,508.2 497.6,508.2 498.1,508.2 498.5,508.2 499.0,508.2 499.4,508.2 499.9,508.2 500.3,508.2 500.8,508.2 501.2,508.2 501.7,508.2 502.1,508.2 502.6,508.2 503.0,508.2 503.5,508.2 503.9,508.2 504.4,508.2 504.8,508.2 505.3,508.2 505.7,508.2 506.2,508.2 506.6,508.2 507.1,508.2 507.5,508.2 508.0,508.2 508.4,508.2 508.9,508.2 509.3,508.2 509.8,508.2 510.2,508.2 510.7,508.2 511.1,508.2 511.6,508.2 512.0,508.2 512.5,508.2 512.9,508.2 513.4,508.2" fill="none" stroke="#6db345" stroke-width="0.95" stroke-linejoin="round" />
<polyline points="450.4,508.0 450.8,506.6 451.3,505.1 451.7,500.2 452.2,497.4 452.6,494.8 453.1,498.0 453.5,496.1 454.0,498.1 454.4,497.2 454.9,496.5 455.3,494.8 455.8,493.0 456.2,493.2 456.7,491.7 457.1,491.8 457.6,492.3 458.0,492.2 458.5,492.4 458.9,492.5 459.4,492.7 459.8,490.0 460.3,489.8 460.7,488.6 461.2,487.3 461.6,487.7 462.1,486.6 462.5,486.6 463.0,484.1 463.4,483.6 463.9,483.2 464.3,482.3 464.8,481.1 465.2,480.8 465.7,478.6 466.1,474.4 466.6,474.6 467.0,472.4 467.5,469.1 467.9,468.5 468.4,469.0 468.8,470.3 469.3,469.9 469.7,470.0 470.2,474.5 470.6,474.8 471.1,477.5 471.5,479.2 472.0,481.1 472.4,482.7 472.9,489.3 473.3,488.8 473.8,493.2 474.2,495.9 474.7,496.3 475.1,500.6 475.6,499.9 476.0,503.5 476.5,504.5 476.9,504.7 477.4,506.5 477.8,506.9 478.3,507.0 478.7,508.0 479.2,507.4 479.6,507.3 480.1,507.3 480.5,507.7 481.0,507.8 481.4,508.0 481.9,508.2 482.3,508.2 482.8,508.2 483.2,508.2 483.7,508.2 484.1,508.2 484.6,508.2 485.0,508.2 485.5,508.2 485.9,508.2 486.4,508.2 486.8,508.2 487.3,508.2 487.7,508.2 488.2,508.2 488.6,508.2 489.1,508.2 489.5,508.2 490.0,508.2 490.4,508.2 490.9,508.2 491.3,508.2 491.8,508.2 492.2,508.2 492.7,508.2 493.1,508.2 493.6,508.2 494.0,508.2 494.5,508.2 494.9,508.2 495.4,508.2 495.8,508.2 496.3,508.2 496.7,508.2 497.2,508.2 497.6,508.2 498.1,508.2 498.5,508.2 499.0,508.2 499.4,508.2 499.9,508.2 500.3,508.2 500.8,508.2 501.2,508.2 501.7,508.2 502.1,508.2 502.6,508.2 503.0,508.2 503.5,508.2 503.9,508.2 504.4,508.2 504.8,508.2 505.3,508.2 505.7,508.2 506.2,508.2 506.6,508.2 507.1,508.2 507.5,508.2 508.0,508.2 508.4,508.2 508.9,508.2 509.3,508.2 509.8,508.2 510.2,508.2 510.7,508.2 511.1,508.2 511.6,508.2 512.0,508.2 512.5,508.2 512.9,508.2 513.4,508.2" fill="none" stroke="#a8173c" stroke-width="0.95" stroke-linejoin="round" />
</g>
<line x1="449.90" y1="500.75" x2="451.40" y2="500.75" stroke="#222" stroke-width="0.9" />
<line x1="449.90" y1="493.10" x2="451.40" y2="493.10" stroke="#222" stroke-width="0.9" />
<line x1="449.90" y1="485.45" x2="451.40" y2="485.45" stroke="#222" stroke-width="0.9" />
<line x1="448.80" y1="477.80" x2="451.40" y2="477.80" stroke="#222" stroke-width="0.9" />
<line x1="449.90" y1="470.15" x2="451.40" y2="470.15" stroke="#222" stroke-width="0.9" />
<line x1="449.90" y1="462.50" x2="451.40" y2="462.50" stroke="#222" stroke-width="0.9" />
<line x1="449.90" y1="454.85" x2="451.40" y2="454.85" stroke="#222" stroke-width="0.9" />
<line x1="457.90" y1="508.40" x2="457.90" y2="511.00" stroke="#222" stroke-width="0.9" />
<line x1="466.00" y1="508.40" x2="466.00" y2="511.00" stroke="#222" stroke-width="0.9" />
<line x1="477.70" y1="508.40" x2="477.70" y2="511.00" stroke="#222" stroke-width="0.9" />
<line x1="493.50" y1="508.40" x2="493.50" y2="511.00" stroke="#222" stroke-width="0.9" />
<line x1="506.00" y1="508.40" x2="506.00" y2="511.00" stroke="#222" stroke-width="0.9" />
<line x1="453.32" y1="508.40" x2="453.32" y2="509.90" stroke="#222" stroke-width="0.9" />
<line x1="454.85" y1="508.40" x2="454.85" y2="509.90" stroke="#222" stroke-width="0.9" />
<line x1="456.38" y1="508.40" x2="456.38" y2="509.90" stroke="#222" stroke-width="0.9" />
<line x1="459.92" y1="508.40" x2="459.92" y2="509.90" stroke="#222" stroke-width="0.9" />
<line x1="461.95" y1="508.40" x2="461.95" y2="509.90" stroke="#222" stroke-width="0.9" />
<line x1="463.98" y1="508.40" x2="463.98" y2="509.90" stroke="#222" stroke-width="0.9" />
<line x1="467.95" y1="508.40" x2="467.95" y2="509.90" stroke="#222" stroke-width="0.9" />
<line x1="469.90" y1="508.40" x2="469.90" y2="509.90" stroke="#222" stroke-width="0.9" />
<line x1="471.85" y1="508.40" x2="471.85" y2="509.90" stroke="#222" stroke-width="0.9" />
<line x1="473.80" y1="508.40" x2="473.80" y2="509.90" stroke="#222" stroke-width="0.9" />
<line x1="475.75" y1="508.40" x2="475.75" y2="509.90" stroke="#222" stroke-width="0.9" />
<line x1="480.33" y1="508.40" x2="480.33" y2="509.90" stroke="#222" stroke-width="0.9" />
<line x1="482.97" y1="508.40" x2="482.97" y2="509.90" stroke="#222" stroke-width="0.9" />
<line x1="485.60" y1="508.40" x2="485.60" y2="509.90" stroke="#222" stroke-width="0.9" />
<line x1="488.23" y1="508.40" x2="488.23" y2="509.90" stroke="#222" stroke-width="0.9" />
<line x1="490.87" y1="508.40" x2="490.87" y2="509.90" stroke="#222" stroke-width="0.9" />
<line x1="496.00" y1="508.40" x2="496.00" y2="509.90" stroke="#222" stroke-width="0.9" />
<line x1="498.50" y1="508.40" x2="498.50" y2="509.90" stroke="#222" stroke-width="0.9" />
<line x1="501.00" y1="508.40" x2="501.00" y2="509.90" stroke="#222" stroke-width="0.9" />
<line x1="503.50" y1="508.40" x2="503.50" y2="509.90" stroke="#222" stroke-width="0.9" />
<text x="444.6" y="449.0" font-size="6.1" fill="#262626" text-anchor="end" stroke="#262626" stroke-width="0.3" textLength="10.0" lengthAdjust="spacingAndGlyphs">200</text>
<text x="444.6" y="479.6" font-size="6.1" fill="#262626" text-anchor="end" stroke="#262626" stroke-width="0.3" textLength="10.0" lengthAdjust="spacingAndGlyphs">100</text>
<text x="444.6" y="510.2" font-size="6.1" fill="#262626" text-anchor="end" stroke="#262626" stroke-width="0.3">0</text>
<text x="457.1" y="518.5" font-size="5.4" fill="#262626" text-anchor="middle" stroke="#262626" stroke-width="0.3">0</text>
<text x="465.8" y="518.5" font-size="5.4" fill="#262626" stroke="#262626" stroke-width="0.18" text-anchor="middle">10<tspan dy="-2.1" font-size="4.21">2</tspan></text>
<text x="479.3" y="518.5" font-size="5.4" fill="#262626" stroke="#262626" stroke-width="0.18" text-anchor="middle">10<tspan dy="-2.1" font-size="4.21">3</tspan></text>
<text x="493.4" y="518.5" font-size="5.4" fill="#262626" stroke="#262626" stroke-width="0.18" text-anchor="middle">10<tspan dy="-2.1" font-size="4.21">4</tspan></text>
<text x="506.9" y="518.5" font-size="5.4" fill="#262626" stroke="#262626" stroke-width="0.18" text-anchor="middle">10<tspan dy="-2.1" font-size="4.21">5</tspan></text>
<text x="484.6" y="529.9" font-size="8.6" fill="#262626" text-anchor="middle" stroke="#262626" stroke-width="0.1" font-weight="bold" textLength="14.1" lengthAdjust="spacingAndGlyphs">CD86</text>
<text transform="translate(430.2,481.8) rotate(-90)" font-size="8.5" fill="#262626" text-anchor="middle" stroke="#262626" stroke-width="0.1" font-weight="bold" textLength="16" lengthAdjust="spacingAndGlyphs">#cells</text>
<rect x="451.40" y="537.40" width="61.50" height="60.80" fill="none" stroke="#111" stroke-width="1.3"/>
<clipPath id="k14"><rect x="452.04999999999995" y="538.05" width="60.2" height="61.00000000000007"/></clipPath>
<g clip-path="url(#k14)">
<polyline points="450.4,597.8 450.8,597.2 451.3,595.6 451.7,594.2 452.2,594.1 452.6,593.3 453.1,591.3 453.5,590.4 454.0,588.8 454.4,587.0 454.9,584.4 455.3,582.8 455.8,585.4 456.2,582.8 456.7,580.3 457.1,579.9 457.6,579.3 458.0,575.2 458.5,572.5 458.9,574.8 459.4,573.3 459.8,571.4 460.3,572.7 460.7,571.4 461.2,570.3 461.6,572.9 462.1,573.3 462.5,570.8 463.0,570.3 463.4,570.6 463.9,571.1 464.3,574.0 464.8,572.3 465.2,572.7 465.7,574.3 466.1,575.3 466.6,577.0 467.0,577.4 467.5,579.0 467.9,579.8 468.4,581.6 468.8,583.3 469.3,583.0 469.7,585.6 470.2,583.6 470.6,587.6 471.1,584.5 471.5,585.4 472.0,587.3 472.4,585.3 472.9,585.5 473.3,585.5 473.8,587.3 474.2,586.2 474.7,584.4 475.1,586.7 475.6,585.4 476.0,585.7 476.5,586.5 476.9,584.9 477.4,586.8 477.8,584.5 478.3,587.0 478.7,586.4 479.2,586.9 479.6,585.0 480.1,583.2 480.5,583.1 481.0,584.2 481.4,584.5 481.9,584.8 482.3,582.7 482.8,582.7 483.2,580.6 483.7,581.3 484.1,581.7 484.6,582.1 485.0,583.0 485.5,581.6 485.9,581.5 486.4,581.6 486.8,582.4 487.3,584.4 487.7,583.7 488.2,585.2 488.6,586.2 489.1,588.3 489.5,588.3 490.0,587.5 490.4,591.6 490.9,590.0 491.3,590.9 491.8,592.3 492.2,591.9 492.7,593.1 493.1,595.1 493.6,594.3 494.0,594.8 494.5,596.2 494.9,597.1 495.4,596.1 495.8,596.3 496.3,596.4 496.7,597.3 497.2,596.6 497.6,597.6 498.1,597.5 498.5,597.5 499.0,597.6 499.4,597.1 499.9,597.7 500.3,597.0 500.8,597.6 501.2,597.2 501.7,597.3 502.1,597.1 502.6,597.7 503.0,597.9 503.5,598.0 503.9,598.0 504.4,598.0 504.8,598.0 505.3,598.0 505.7,598.0 506.2,598.0 506.6,598.0 507.1,598.0 507.5,598.0 508.0,598.0 508.4,598.0 508.9,598.0 509.3,598.0 509.8,598.0 510.2,598.0 510.7,598.0 511.1,598.0 511.6,598.0 512.0,598.0 512.5,598.0 512.9,598.0 513.4,598.0 513.8,598.0" fill="none" stroke="#6db345" stroke-width="0.95" stroke-linejoin="round" />
<polyline points="450.4,597.4 450.8,595.9 451.3,593.2 451.7,588.7 452.2,587.5 452.6,585.7 453.1,583.8 453.5,584.7 454.0,578.3 454.4,573.7 454.9,573.8 455.3,573.4 455.8,568.1 456.2,570.0 456.7,565.3 457.1,561.7 457.6,561.2 458.0,558.7 458.5,560.3 458.9,562.3 459.4,558.0 459.8,559.0 460.3,554.5 460.7,554.3 461.2,553.0 461.6,553.0 462.1,549.5 462.5,544.2 463.0,545.0 463.4,543.0 463.9,541.4 464.3,542.8 464.8,542.4 465.2,543.9 465.7,544.0 466.1,547.3 466.6,544.2 467.0,545.5 467.5,546.9 467.9,549.0 468.4,546.2 468.8,548.9 469.3,545.2 469.7,543.7 470.2,545.9 470.6,550.6 471.1,549.2 471.5,548.3 472.0,549.3 472.4,547.6 472.9,545.4 473.3,546.7 473.8,549.9 474.2,555.3 474.7,555.2 475.1,560.2 475.6,569.8 476.0,572.2 476.5,573.7 476.9,579.9 477.4,581.5 477.8,585.2 478.3,586.7 478.7,589.2 479.2,589.5 479.6,588.1 480.1,592.5 480.5,593.6 481.0,596.6 481.4,593.9 481.9,597.1 482.3,595.7 482.8,596.6 483.2,597.6 483.7,597.8 484.1,597.0 484.6,597.1 485.0,598.0 485.5,596.7 485.9,598.0 486.4,597.6 486.8,597.8 487.3,598.0 487.7,598.0 488.2,598.0 488.6,598.0 489.1,598.0 489.5,598.0 490.0,598.0 490.4,598.0 490.9,598.0 491.3,598.0 491.8,598.0 492.2,598.0 492.7,598.0 493.1,598.0 493.6,598.0 494.0,598.0 494.5,598.0 494.9,598.0 495.4,598.0 495.8,598.0 496.3,598.0 496.7,598.0 497.2,598.0 497.6,598.0 498.1,598.0 498.5,598.0 499.0,598.0 499.4,598.0 499.9,598.0 500.3,598.0 500.8,598.0 501.2,598.0 501.7,598.0 502.1,598.0 502.6,598.0 503.0,598.0 503.5,598.0 503.9,598.0 504.4,598.0 504.8,598.0 505.3,598.0 505.7,598.0 506.2,598.0 506.6,598.0 507.1,598.0 507.5,598.0 508.0,598.0 508.4,598.0 508.9,598.0 509.3,598.0 509.8,598.0 510.2,598.0 510.7,598.0 511.1,598.0 511.6,598.0 512.0,598.0 512.5,598.0 512.9,598.0 513.4,598.0 513.8,598.0" fill="none" stroke="#a8173c" stroke-width="0.95" stroke-linejoin="round" />
</g>
<line x1="449.90" y1="593.13" x2="451.40" y2="593.13" stroke="#222" stroke-width="0.9" />
<line x1="449.90" y1="588.07" x2="451.40" y2="588.07" stroke="#222" stroke-width="0.9" />
<line x1="449.90" y1="583.00" x2="451.40" y2="583.00" stroke="#222" stroke-width="0.9" />
<line x1="448.80" y1="577.93" x2="451.40" y2="577.93" stroke="#222" stroke-width="0.9" />
<line x1="449.90" y1="572.87" x2="451.40" y2="572.87" stroke="#222" stroke-width="0.9" />
<line x1="449.90" y1="567.80" x2="451.40" y2="567.80" stroke="#222" stroke-width="0.9" />
<line x1="449.90" y1="562.73" x2="451.40" y2="562.73" stroke="#222" stroke-width="0.9" />
<line x1="448.80" y1="557.67" x2="451.40" y2="557.67" stroke="#222" stroke-width="0.9" />
<line x1="449.90" y1="552.60" x2="451.40" y2="552.60" stroke="#222" stroke-width="0.9" />
<line x1="449.90" y1="547.53" x2="451.40" y2="547.53" stroke="#222" stroke-width="0.9" />
<line x1="449.90" y1="542.47" x2="451.40" y2="542.47" stroke="#222" stroke-width="0.9" />
<line x1="457.90" y1="598.20" x2="457.90" y2="600.80" stroke="#222" stroke-width="0.9" />
<line x1="466.00" y1="598.20" x2="466.00" y2="600.80" stroke="#222" stroke-width="0.9" />
<line x1="477.70" y1="598.20" x2="477.70" y2="600.80" stroke="#222" stroke-width="0.9" />
<line x1="493.50" y1="598.20" x2="493.50" y2="600.80" stroke="#222" stroke-width="0.9" />
<line x1="506.00" y1="598.20" x2="506.00" y2="600.80" stroke="#222" stroke-width="0.9" />
<line x1="453.32" y1="598.20" x2="453.32" y2="599.70" stroke="#222" stroke-width="0.9" />
<line x1="454.85" y1="598.20" x2="454.85" y2="599.70" stroke="#222" stroke-width="0.9" />
<line x1="456.38" y1="598.20" x2="456.38" y2="599.70" stroke="#222" stroke-width="0.9" />
<line x1="459.92" y1="598.20" x2="459.92" y2="599.70" stroke="#222" stroke-width="0.9" />
<line x1="461.95" y1="598.20" x2="461.95" y2="599.70" stroke="#222" stroke-width="0.9" />
<line x1="463.98" y1="598.20" x2="463.98" y2="599.70" stroke="#222" stroke-width="0.9" />
<line x1="467.95" y1="598.20" x2="467.95" y2="599.70" stroke="#222" stroke-width="0.9" />
<line x1="469.90" y1="598.20" x2="469.90" y2="599.70" stroke="#222" stroke-width="0.9" />
<line x1="471.85" y1="598.20" x2="471.85" y2="599.70" stroke="#222" stroke-width="0.9" />
<line x1="473.80" y1="598.20" x2="473.80" y2="599.70" stroke="#222" stroke-width="0.9" />
<line x1="475.75" y1="598.20" x2="475.75" y2="599.70" stroke="#222" stroke-width="0.9" />
<line x1="480.33" y1="598.20" x2="480.33" y2="599.70" stroke="#222" stroke-width="0.9" />
<line x1="482.97" y1="598.20" x2="482.97" y2="599.70" stroke="#222" stroke-width="0.9" />
<line x1="485.60" y1="598.20" x2="485.60" y2="599.70" stroke="#222" stroke-width="0.9" />
<line x1="488.23" y1="598.20" x2="488.23" y2="599.70" stroke="#222" stroke-width="0.9" />
<line x1="490.87" y1="598.20" x2="490.87" y2="599.70" stroke="#222" stroke-width="0.9" />
<line x1="496.00" y1="598.20" x2="496.00" y2="599.70" stroke="#222" stroke-width="0.9" />
<line x1="498.50" y1="598.20" x2="498.50" y2="599.70" stroke="#222" stroke-width="0.9" />
<line x1="501.00" y1="598.20" x2="501.00" y2="599.70" stroke="#222" stroke-width="0.9" />
<line x1="503.50" y1="598.20" x2="503.50" y2="599.70" stroke="#222" stroke-width="0.9" />
<text x="444.6" y="539.0999999999999" font-size="6.1" fill="#262626" text-anchor="end" stroke="#262626" stroke-width="0.3" textLength="10.0" lengthAdjust="spacingAndGlyphs">300</text>
<text x="444.6" y="559.4" font-size="6.1" fill="#262626" text-anchor="end" stroke="#262626" stroke-width="0.3" textLength="10.0" lengthAdjust="spacingAndGlyphs">200</text>
<text x="444.6" y="579.8" font-size="6.1" fill="#262626" text-anchor="end" stroke="#262626" stroke-width="0.3" textLength="10.0" lengthAdjust="spacingAndGlyphs">100</text>
<text x="444.6" y="600.0999999999999" font-size="6.1" fill="#262626" text-anchor="end" stroke="#262626" stroke-width="0.3">0</text>
<text x="457.1" y="608.7" font-size="5.4" fill="#262626" text-anchor="middle" stroke="#262626" stroke-width="0.3">0</text>
<text x="465.8" y="608.7" font-size="5.4" fill="#262626" stroke="#262626" stroke-width="0.18" text-anchor="middle">10<tspan dy="-2.1" font-size="4.21">2</tspan></text>
<text x="479.3" y="608.7" font-size="5.4" fill="#262626" stroke="#262626" stroke-width="0.18" text-anchor="middle">10<tspan dy="-2.1" font-size="4.21">3</tspan></text>
<text x="493.4" y="608.7" font-size="5.4" fill="#262626" stroke="#262626" stroke-width="0.18" text-anchor="middle">10<tspan dy="-2.1" font-size="4.21">4</tspan></text>
<text x="506.9" y="608.7" font-size="5.4" fill="#262626" stroke="#262626" stroke-width="0.18" text-anchor="middle">10<tspan dy="-2.1" font-size="4.21">5</tspan></text>
<text x="485.0" y="619.6" font-size="8.6" fill="#262626" text-anchor="middle" stroke="#262626" stroke-width="0.1" font-weight="bold" textLength="14.1" lengthAdjust="spacingAndGlyphs">CD86</text>
<text transform="translate(430.2,568.3) rotate(-90)" font-size="8.5" fill="#262626" text-anchor="middle" stroke="#262626" stroke-width="0.1" font-weight="bold" textLength="16" lengthAdjust="spacingAndGlyphs">#cells</text>
<rect x="0" y="0" width="520" height="1.3" fill="#000"/>
<rect x="0" y="0" width="1.3" height="636" fill="#000"/>
<rect x="518.6" y="0" width="1.4" height="636" fill="#000"/>
<rect x="0" y="634.4" width="520" height="1.6" fill="#000"/>
</svg>
</body></html>
